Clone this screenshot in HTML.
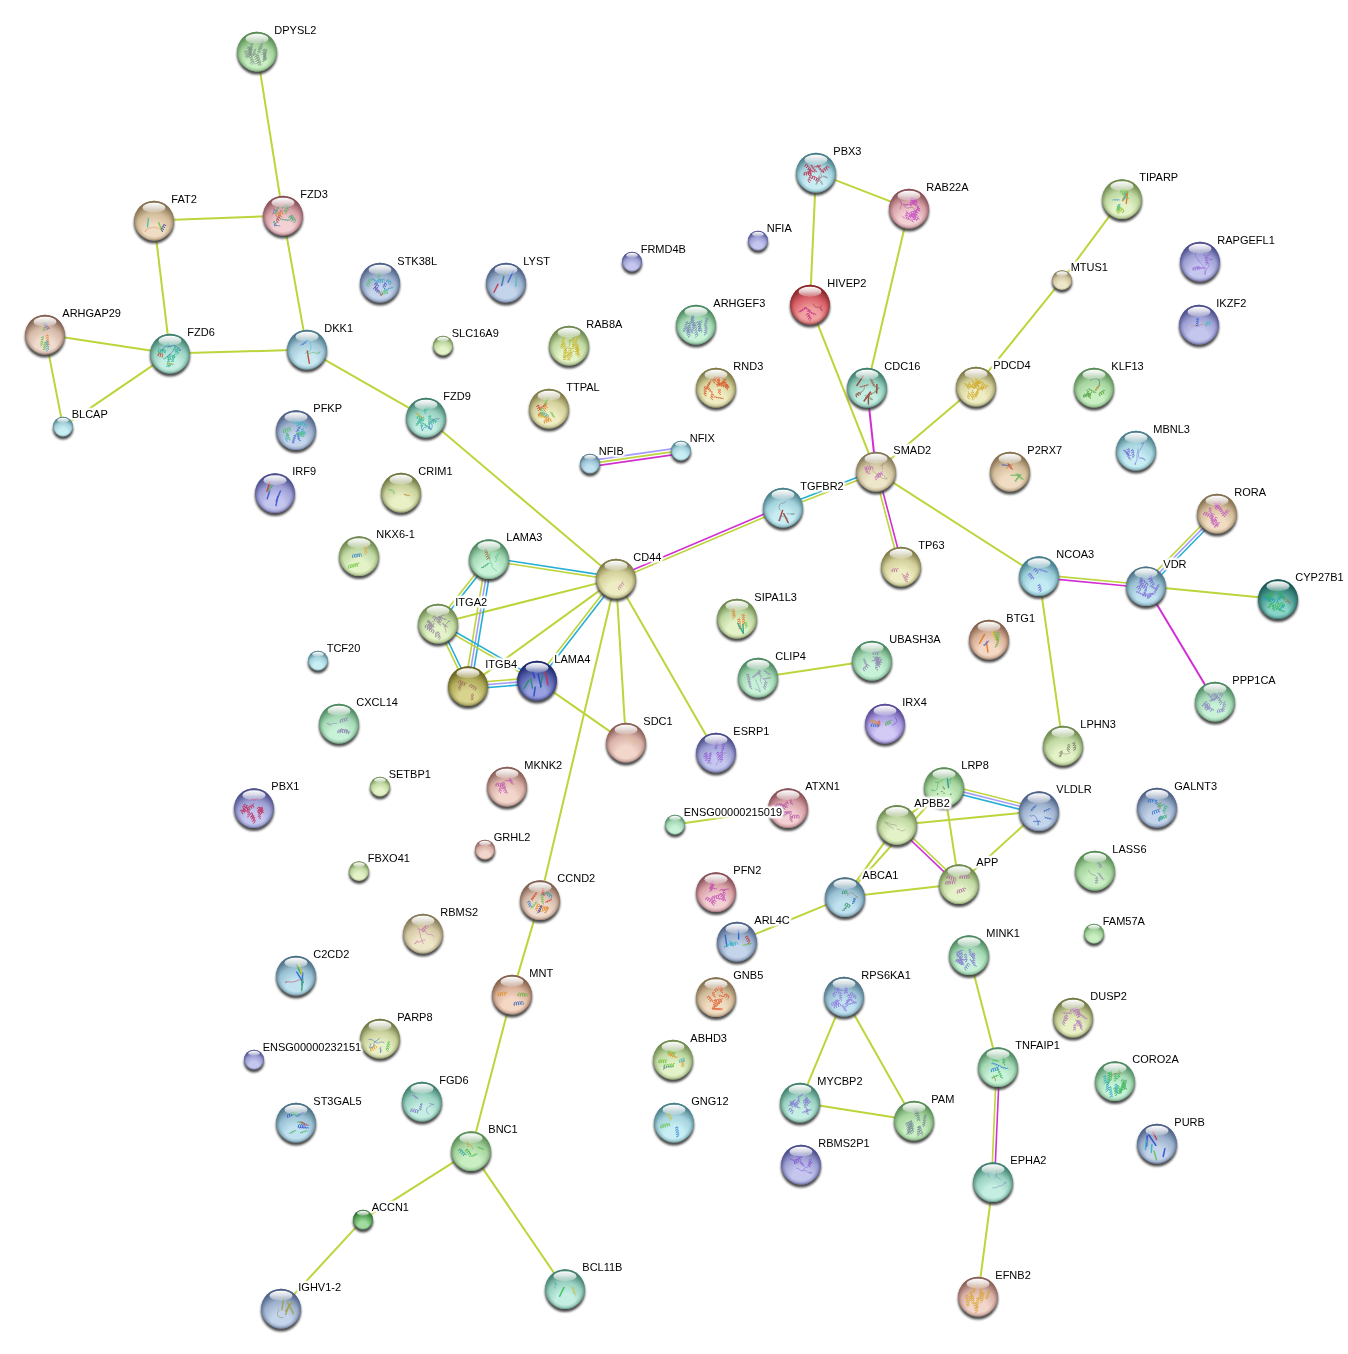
<!DOCTYPE html><html><head><meta charset="utf-8"><style>html,body{margin:0;padding:0;background:#fff;}svg{display:block;}text{font-family:"Liberation Sans",sans-serif;font-size:11px;fill:#000;}.hal text{fill:#fff;stroke:#fff;stroke-width:3.5px;stroke-linejoin:round;}.lb{opacity:.999}</style></head><body>
<svg width="1348" height="1354" viewBox="0 0 1348 1354">
<defs>
<filter id="sh" x="-30%" y="-30%" width="160%" height="160%"><feGaussianBlur stdDeviation="1.2"/></filter>
<filter id="hb" x="-10%" y="-50%" width="120%" height="200%"><feGaussianBlur stdDeviation="1.0"/><feComponentTransfer><feFuncA type="linear" slope="1.6"/></feComponentTransfer></filter>
<linearGradient id="hl" x1="0" y1="0" x2="0" y2="1"><stop offset="0" stop-color="#fff" stop-opacity="1"/><stop offset="0.45" stop-color="#fff" stop-opacity=".75"/><stop offset="1" stop-color="#fff" stop-opacity=".2"/></linearGradient>
<radialGradient id="g_green" cx="0.5" cy="0.78" r="0.8" fx="0.5" fy="0.86"><stop offset="0" stop-color="#c8eec2"/><stop offset="0.3" stop-color="#c8eec2"/><stop offset="0.62" stop-color="#a6d49e"/><stop offset="0.9" stop-color="#5a8e56"/><stop offset="1" stop-color="#5a8e56"/></radialGradient>
<radialGradient id="r_green" cx="0.5" cy="0.5" r="0.5"><stop offset="0.8" stop-color="#5a8e56" stop-opacity="0"/><stop offset="0.93" stop-color="#5a8e56" stop-opacity=".3"/><stop offset="1" stop-color="#5a8e56" stop-opacity=".75"/></radialGradient>
<radialGradient id="g_mint" cx="0.5" cy="0.78" r="0.8" fx="0.5" fy="0.86"><stop offset="0" stop-color="#c8f2d8"/><stop offset="0.3" stop-color="#c8f2d8"/><stop offset="0.62" stop-color="#a4d8b4"/><stop offset="0.9" stop-color="#4e8a62"/><stop offset="1" stop-color="#4e8a62"/></radialGradient>
<radialGradient id="r_mint" cx="0.5" cy="0.5" r="0.5"><stop offset="0.8" stop-color="#4e8a62" stop-opacity="0"/><stop offset="0.93" stop-color="#4e8a62" stop-opacity=".3"/><stop offset="1" stop-color="#4e8a62" stop-opacity=".75"/></radialGradient>
<radialGradient id="g_teal" cx="0.5" cy="0.78" r="0.8" fx="0.5" fy="0.86"><stop offset="0" stop-color="#c4eee2"/><stop offset="0.3" stop-color="#c4eee2"/><stop offset="0.62" stop-color="#98d0c0"/><stop offset="0.9" stop-color="#40806e"/><stop offset="1" stop-color="#40806e"/></radialGradient>
<radialGradient id="r_teal" cx="0.5" cy="0.5" r="0.5"><stop offset="0.8" stop-color="#40806e" stop-opacity="0"/><stop offset="0.93" stop-color="#40806e" stop-opacity=".3"/><stop offset="1" stop-color="#40806e" stop-opacity=".75"/></radialGradient>
<radialGradient id="g_cyan" cx="0.5" cy="0.78" r="0.8" fx="0.5" fy="0.86"><stop offset="0" stop-color="#c8eef4"/><stop offset="0.3" stop-color="#c8eef4"/><stop offset="0.62" stop-color="#a4d2dc"/><stop offset="0.9" stop-color="#4a808a"/><stop offset="1" stop-color="#4a808a"/></radialGradient>
<radialGradient id="r_cyan" cx="0.5" cy="0.5" r="0.5"><stop offset="0.8" stop-color="#4a808a" stop-opacity="0"/><stop offset="0.93" stop-color="#4a808a" stop-opacity=".3"/><stop offset="1" stop-color="#4a808a" stop-opacity=".75"/></radialGradient>
<radialGradient id="g_lblue" cx="0.5" cy="0.78" r="0.8" fx="0.5" fy="0.86"><stop offset="0" stop-color="#c8e8f2"/><stop offset="0.3" stop-color="#c8e8f2"/><stop offset="0.62" stop-color="#a4c8d8"/><stop offset="0.9" stop-color="#4a7a8a"/><stop offset="1" stop-color="#4a7a8a"/></radialGradient>
<radialGradient id="r_lblue" cx="0.5" cy="0.5" r="0.5"><stop offset="0.8" stop-color="#4a7a8a" stop-opacity="0"/><stop offset="0.93" stop-color="#4a7a8a" stop-opacity=".3"/><stop offset="1" stop-color="#4a7a8a" stop-opacity=".75"/></radialGradient>
<radialGradient id="g_sky" cx="0.5" cy="0.78" r="0.8" fx="0.5" fy="0.86"><stop offset="0" stop-color="#c0e2f0"/><stop offset="0.3" stop-color="#c0e2f0"/><stop offset="0.62" stop-color="#98c0d2"/><stop offset="0.9" stop-color="#4d7285"/><stop offset="1" stop-color="#4d7285"/></radialGradient>
<radialGradient id="r_sky" cx="0.5" cy="0.5" r="0.5"><stop offset="0.8" stop-color="#4d7285" stop-opacity="0"/><stop offset="0.93" stop-color="#4d7285" stop-opacity=".3"/><stop offset="1" stop-color="#4d7285" stop-opacity=".75"/></radialGradient>
<radialGradient id="g_peri" cx="0.5" cy="0.78" r="0.8" fx="0.5" fy="0.86"><stop offset="0" stop-color="#c4d4ea"/><stop offset="0.3" stop-color="#c4d4ea"/><stop offset="0.62" stop-color="#9cb0cc"/><stop offset="0.9" stop-color="#4e6288"/><stop offset="1" stop-color="#4e6288"/></radialGradient>
<radialGradient id="r_peri" cx="0.5" cy="0.5" r="0.5"><stop offset="0.8" stop-color="#4e6288" stop-opacity="0"/><stop offset="0.93" stop-color="#4e6288" stop-opacity=".3"/><stop offset="1" stop-color="#4e6288" stop-opacity=".75"/></radialGradient>
<radialGradient id="g_lav" cx="0.5" cy="0.78" r="0.8" fx="0.5" fy="0.86"><stop offset="0" stop-color="#c4c6ee"/><stop offset="0.3" stop-color="#c4c6ee"/><stop offset="0.62" stop-color="#9ea0d4"/><stop offset="0.9" stop-color="#4c4e8c"/><stop offset="1" stop-color="#4c4e8c"/></radialGradient>
<radialGradient id="r_lav" cx="0.5" cy="0.5" r="0.5"><stop offset="0.8" stop-color="#4c4e8c" stop-opacity="0"/><stop offset="0.93" stop-color="#4c4e8c" stop-opacity=".3"/><stop offset="1" stop-color="#4c4e8c" stop-opacity=".75"/></radialGradient>
<radialGradient id="g_violet" cx="0.5" cy="0.78" r="0.8" fx="0.5" fy="0.86"><stop offset="0" stop-color="#d4caf6"/><stop offset="0.3" stop-color="#d4caf6"/><stop offset="0.62" stop-color="#aa9ce0"/><stop offset="0.9" stop-color="#5a4a98"/><stop offset="1" stop-color="#5a4a98"/></radialGradient>
<radialGradient id="r_violet" cx="0.5" cy="0.5" r="0.5"><stop offset="0.8" stop-color="#5a4a98" stop-opacity="0"/><stop offset="0.93" stop-color="#5a4a98" stop-opacity=".3"/><stop offset="1" stop-color="#5a4a98" stop-opacity=".75"/></radialGradient>
<radialGradient id="g_tan" cx="0.5" cy="0.78" r="0.8" fx="0.5" fy="0.86"><stop offset="0" stop-color="#f0dcc2"/><stop offset="0.3" stop-color="#f0dcc2"/><stop offset="0.62" stop-color="#d2bc9a"/><stop offset="0.9" stop-color="#857050"/><stop offset="1" stop-color="#857050"/></radialGradient>
<radialGradient id="r_tan" cx="0.5" cy="0.5" r="0.5"><stop offset="0.8" stop-color="#857050" stop-opacity="0"/><stop offset="0.93" stop-color="#857050" stop-opacity=".3"/><stop offset="1" stop-color="#857050" stop-opacity=".75"/></radialGradient>
<radialGradient id="g_khaki" cx="0.5" cy="0.78" r="0.8" fx="0.5" fy="0.86"><stop offset="0" stop-color="#eeecc2"/><stop offset="0.3" stop-color="#eeecc2"/><stop offset="0.62" stop-color="#d4d09c"/><stop offset="0.9" stop-color="#807c48"/><stop offset="1" stop-color="#807c48"/></radialGradient>
<radialGradient id="r_khaki" cx="0.5" cy="0.5" r="0.5"><stop offset="0.8" stop-color="#807c48" stop-opacity="0"/><stop offset="0.93" stop-color="#807c48" stop-opacity=".3"/><stop offset="1" stop-color="#807c48" stop-opacity=".75"/></radialGradient>
<radialGradient id="g_ykh" cx="0.5" cy="0.78" r="0.8" fx="0.5" fy="0.86"><stop offset="0" stop-color="#eaf0c6"/><stop offset="0.3" stop-color="#eaf0c6"/><stop offset="0.62" stop-color="#c8d09a"/><stop offset="0.9" stop-color="#707a44"/><stop offset="1" stop-color="#707a44"/></radialGradient>
<radialGradient id="r_ykh" cx="0.5" cy="0.5" r="0.5"><stop offset="0.8" stop-color="#707a44" stop-opacity="0"/><stop offset="0.93" stop-color="#707a44" stop-opacity=".3"/><stop offset="1" stop-color="#707a44" stop-opacity=".75"/></radialGradient>
<radialGradient id="g_tank" cx="0.5" cy="0.78" r="0.8" fx="0.5" fy="0.86"><stop offset="0" stop-color="#eee6c8"/><stop offset="0.3" stop-color="#eee6c8"/><stop offset="0.62" stop-color="#d4c8a4"/><stop offset="0.9" stop-color="#857a58"/><stop offset="1" stop-color="#857a58"/></radialGradient>
<radialGradient id="r_tank" cx="0.5" cy="0.5" r="0.5"><stop offset="0.8" stop-color="#857a58" stop-opacity="0"/><stop offset="0.93" stop-color="#857a58" stop-opacity=".3"/><stop offset="1" stop-color="#857a58" stop-opacity=".75"/></radialGradient>
<radialGradient id="g_peach" cx="0.5" cy="0.78" r="0.8" fx="0.5" fy="0.86"><stop offset="0" stop-color="#f4d8c4"/><stop offset="0.3" stop-color="#f4d8c4"/><stop offset="0.62" stop-color="#d8b098"/><stop offset="0.9" stop-color="#85604c"/><stop offset="1" stop-color="#85604c"/></radialGradient>
<radialGradient id="r_peach" cx="0.5" cy="0.5" r="0.5"><stop offset="0.8" stop-color="#85604c" stop-opacity="0"/><stop offset="0.93" stop-color="#85604c" stop-opacity=".3"/><stop offset="1" stop-color="#85604c" stop-opacity=".75"/></radialGradient>
<radialGradient id="g_rtan" cx="0.5" cy="0.78" r="0.8" fx="0.5" fy="0.86"><stop offset="0" stop-color="#f0dccf"/><stop offset="0.3" stop-color="#f0dccf"/><stop offset="0.62" stop-color="#d4b8a6"/><stop offset="0.9" stop-color="#806050"/><stop offset="1" stop-color="#806050"/></radialGradient>
<radialGradient id="r_rtan" cx="0.5" cy="0.5" r="0.5"><stop offset="0.8" stop-color="#806050" stop-opacity="0"/><stop offset="0.93" stop-color="#806050" stop-opacity=".3"/><stop offset="1" stop-color="#806050" stop-opacity=".75"/></radialGradient>
<radialGradient id="g_tsky" cx="0.5" cy="0.78" r="0.8" fx="0.5" fy="0.86"><stop offset="0" stop-color="#c2eaf2"/><stop offset="0.3" stop-color="#c2eaf2"/><stop offset="0.62" stop-color="#98ccd8"/><stop offset="0.9" stop-color="#447c8a"/><stop offset="1" stop-color="#447c8a"/></radialGradient>
<radialGradient id="r_tsky" cx="0.5" cy="0.5" r="0.5"><stop offset="0.8" stop-color="#447c8a" stop-opacity="0"/><stop offset="0.93" stop-color="#447c8a" stop-opacity=".3"/><stop offset="1" stop-color="#447c8a" stop-opacity=".75"/></radialGradient>
<radialGradient id="g_pink" cx="0.5" cy="0.78" r="0.8" fx="0.5" fy="0.86"><stop offset="0" stop-color="#f2d0d4"/><stop offset="0.3" stop-color="#f2d0d4"/><stop offset="0.62" stop-color="#d8a2a8"/><stop offset="0.9" stop-color="#8a5058"/><stop offset="1" stop-color="#8a5058"/></radialGradient>
<radialGradient id="r_pink" cx="0.5" cy="0.5" r="0.5"><stop offset="0.8" stop-color="#8a5058" stop-opacity="0"/><stop offset="0.93" stop-color="#8a5058" stop-opacity=".3"/><stop offset="1" stop-color="#8a5058" stop-opacity=".75"/></radialGradient>
<radialGradient id="g_rose" cx="0.5" cy="0.78" r="0.8" fx="0.5" fy="0.86"><stop offset="0" stop-color="#f2d6cc"/><stop offset="0.3" stop-color="#f2d6cc"/><stop offset="0.62" stop-color="#d8b0a6"/><stop offset="0.9" stop-color="#8a6058"/><stop offset="1" stop-color="#8a6058"/></radialGradient>
<radialGradient id="r_rose" cx="0.5" cy="0.5" r="0.5"><stop offset="0.8" stop-color="#8a6058" stop-opacity="0"/><stop offset="0.93" stop-color="#8a6058" stop-opacity=".3"/><stop offset="1" stop-color="#8a6058" stop-opacity=".75"/></radialGradient>
<radialGradient id="g_red" cx="0.5" cy="0.78" r="0.8" fx="0.5" fy="0.86"><stop offset="0" stop-color="#f0a0a0"/><stop offset="0.3" stop-color="#f0a0a0"/><stop offset="0.62" stop-color="#d86068"/><stop offset="0.9" stop-color="#8a2428"/><stop offset="1" stop-color="#8a2428"/></radialGradient>
<radialGradient id="r_red" cx="0.5" cy="0.5" r="0.5"><stop offset="0.8" stop-color="#8a2428" stop-opacity="0"/><stop offset="0.93" stop-color="#8a2428" stop-opacity=".3"/><stop offset="1" stop-color="#8a2428" stop-opacity=".75"/></radialGradient>
<radialGradient id="g_ygreen" cx="0.5" cy="0.78" r="0.8" fx="0.5" fy="0.86"><stop offset="0" stop-color="#e4f2c8"/><stop offset="0.3" stop-color="#e4f2c8"/><stop offset="0.62" stop-color="#c0d8a2"/><stop offset="0.9" stop-color="#6e8a4e"/><stop offset="1" stop-color="#6e8a4e"/></radialGradient>
<radialGradient id="r_ygreen" cx="0.5" cy="0.5" r="0.5"><stop offset="0.8" stop-color="#6e8a4e" stop-opacity="0"/><stop offset="0.93" stop-color="#6e8a4e" stop-opacity=".3"/><stop offset="1" stop-color="#6e8a4e" stop-opacity=".75"/></radialGradient>
<radialGradient id="g_olive" cx="0.5" cy="0.78" r="0.8" fx="0.5" fy="0.86"><stop offset="0" stop-color="#d8d48e"/><stop offset="0.3" stop-color="#d8d48e"/><stop offset="0.62" stop-color="#b2ae5c"/><stop offset="0.9" stop-color="#6a6420"/><stop offset="1" stop-color="#6a6420"/></radialGradient>
<radialGradient id="r_olive" cx="0.5" cy="0.5" r="0.5"><stop offset="0.8" stop-color="#6a6420" stop-opacity="0"/><stop offset="0.93" stop-color="#6a6420" stop-opacity=".3"/><stop offset="1" stop-color="#6a6420" stop-opacity=".75"/></radialGradient>
<radialGradient id="g_navy" cx="0.5" cy="0.78" r="0.8" fx="0.5" fy="0.86"><stop offset="0" stop-color="#98a0e0"/><stop offset="0.3" stop-color="#98a0e0"/><stop offset="0.62" stop-color="#5a64b0"/><stop offset="0.9" stop-color="#1e2a6e"/><stop offset="1" stop-color="#1e2a6e"/></radialGradient>
<radialGradient id="r_navy" cx="0.5" cy="0.5" r="0.5"><stop offset="0.8" stop-color="#1e2a6e" stop-opacity="0"/><stop offset="0.93" stop-color="#1e2a6e" stop-opacity=".3"/><stop offset="1" stop-color="#1e2a6e" stop-opacity=".75"/></radialGradient>
<radialGradient id="g_dteal" cx="0.5" cy="0.78" r="0.8" fx="0.5" fy="0.86"><stop offset="0" stop-color="#88d4c8"/><stop offset="0.3" stop-color="#88d4c8"/><stop offset="0.62" stop-color="#48988e"/><stop offset="0.9" stop-color="#1a5a55"/><stop offset="1" stop-color="#1a5a55"/></radialGradient>
<radialGradient id="r_dteal" cx="0.5" cy="0.5" r="0.5"><stop offset="0.8" stop-color="#1a5a55" stop-opacity="0"/><stop offset="0.93" stop-color="#1a5a55" stop-opacity=".3"/><stop offset="1" stop-color="#1a5a55" stop-opacity=".75"/></radialGradient>
<radialGradient id="g_dgreen" cx="0.5" cy="0.78" r="0.8" fx="0.5" fy="0.86"><stop offset="0" stop-color="#a0dca0"/><stop offset="0.3" stop-color="#a0dca0"/><stop offset="0.62" stop-color="#5eaa5e"/><stop offset="0.9" stop-color="#2e6a2e"/><stop offset="1" stop-color="#2e6a2e"/></radialGradient>
<radialGradient id="r_dgreen" cx="0.5" cy="0.5" r="0.5"><stop offset="0.8" stop-color="#2e6a2e" stop-opacity="0"/><stop offset="0.93" stop-color="#2e6a2e" stop-opacity=".3"/><stop offset="1" stop-color="#2e6a2e" stop-opacity=".75"/></radialGradient>
</defs>
<rect width="1348" height="1354" fill="#fff"/>
<g fill="none" stroke-width="2" stroke-linecap="butt">
<line x1="257.0" y1="51.6" x2="283.0" y2="215.6" stroke="#bdd43a" stroke-width="2"/>
<line x1="154.0" y1="220.6" x2="283.0" y2="215.6" stroke="#bdd43a" stroke-width="2"/>
<line x1="154.0" y1="220.6" x2="170.0" y2="353.6" stroke="#bdd43a" stroke-width="2"/>
<line x1="283.0" y1="215.6" x2="307.0" y2="349.6" stroke="#bdd43a" stroke-width="2"/>
<line x1="45.0" y1="334.6" x2="170.0" y2="353.6" stroke="#bdd43a" stroke-width="2"/>
<line x1="45.0" y1="334.6" x2="63.0" y2="426.6" stroke="#bdd43a" stroke-width="2"/>
<line x1="170.0" y1="353.6" x2="63.0" y2="426.6" stroke="#bdd43a" stroke-width="2"/>
<line x1="170.0" y1="353.6" x2="307.0" y2="349.6" stroke="#bdd43a" stroke-width="2"/>
<line x1="307.0" y1="349.6" x2="426.0" y2="417.6" stroke="#bdd43a" stroke-width="2"/>
<line x1="426.0" y1="417.6" x2="616.0" y2="578.6" stroke="#bdd43a" stroke-width="2"/>
<line x1="816.0" y1="172.6" x2="810.0" y2="304.6" stroke="#bdd43a" stroke-width="2"/>
<line x1="816.0" y1="172.6" x2="909.0" y2="208.6" stroke="#bdd43a" stroke-width="2"/>
<line x1="909.0" y1="208.6" x2="867.0" y2="387.6" stroke="#bdd43a" stroke-width="2"/>
<line x1="810.0" y1="304.6" x2="876.0" y2="471.6" stroke="#bdd43a" stroke-width="2"/>
<line x1="1122.0" y1="199.1" x2="1062.0" y2="280.1" stroke="#bdd43a" stroke-width="2"/>
<line x1="1062.0" y1="280.1" x2="976.0" y2="386.6" stroke="#bdd43a" stroke-width="2"/>
<line x1="976.0" y1="386.6" x2="876.0" y2="471.6" stroke="#bdd43a" stroke-width="2"/>
<line x1="876.0" y1="471.6" x2="1039.0" y2="576.1" stroke="#bdd43a" stroke-width="2"/>
<line x1="1039.0" y1="576.1" x2="1063.0" y2="745.6" stroke="#bdd43a" stroke-width="2"/>
<line x1="1146.0" y1="586.2" x2="1278.0" y2="599.1" stroke="#bdd43a" stroke-width="2"/>
<line x1="438.0" y1="623.6" x2="616.0" y2="578.6" stroke="#bdd43a" stroke-width="2"/>
<line x1="468.0" y1="686.1" x2="616.0" y2="578.6" stroke="#bdd43a" stroke-width="2"/>
<line x1="537.0" y1="680.6" x2="626.0" y2="742.6" stroke="#bdd43a" stroke-width="2"/>
<line x1="616.0" y1="578.6" x2="626.0" y2="742.6" stroke="#bdd43a" stroke-width="2"/>
<line x1="616.0" y1="578.6" x2="540.0" y2="900.1" stroke="#bdd43a" stroke-width="2"/>
<line x1="616.0" y1="578.6" x2="716.0" y2="752.6" stroke="#bdd43a" stroke-width="2"/>
<line x1="758.0" y1="677.6" x2="872.0" y2="660.6" stroke="#bdd43a" stroke-width="2"/>
<line x1="675.0" y1="824.6" x2="788.0" y2="808.1" stroke="#bdd43a" stroke-width="2"/>
<line x1="540.0" y1="900.1" x2="512.0" y2="994.6" stroke="#bdd43a" stroke-width="2"/>
<line x1="512.0" y1="994.6" x2="471.0" y2="1151.1" stroke="#bdd43a" stroke-width="2"/>
<line x1="471.0" y1="1151.1" x2="363.0" y2="1219.6" stroke="#bdd43a" stroke-width="2"/>
<line x1="363.0" y1="1219.6" x2="281.0" y2="1308.6" stroke="#bdd43a" stroke-width="2"/>
<line x1="471.0" y1="1151.1" x2="565.0" y2="1289.1" stroke="#bdd43a" stroke-width="2"/>
<line x1="944.0" y1="787.1" x2="897.0" y2="824.9" stroke="#bdd43a" stroke-width="2"/>
<line x1="845.0" y1="897.1" x2="944.0" y2="787.1" stroke="#bdd43a" stroke-width="2"/>
<line x1="845.0" y1="897.1" x2="897.0" y2="824.9" stroke="#bdd43a" stroke-width="2"/>
<line x1="897.0" y1="824.9" x2="1039.0" y2="811.1" stroke="#bdd43a" stroke-width="2"/>
<line x1="944.0" y1="787.1" x2="959.0" y2="884.1" stroke="#bdd43a" stroke-width="2"/>
<line x1="1039.0" y1="811.1" x2="959.0" y2="884.1" stroke="#bdd43a" stroke-width="2"/>
<line x1="845.0" y1="897.1" x2="959.0" y2="884.1" stroke="#bdd43a" stroke-width="2"/>
<line x1="845.0" y1="897.1" x2="737.0" y2="941.6" stroke="#bdd43a" stroke-width="2"/>
<line x1="969.0" y1="955.1" x2="998.0" y2="1067.1" stroke="#bdd43a" stroke-width="2"/>
<line x1="844.0" y1="996.6" x2="800.0" y2="1102.6" stroke="#bdd43a" stroke-width="2"/>
<line x1="844.0" y1="996.6" x2="914.0" y2="1120.6" stroke="#bdd43a" stroke-width="2"/>
<line x1="800.0" y1="1102.6" x2="914.0" y2="1120.6" stroke="#bdd43a" stroke-width="2"/>
<line x1="993.0" y1="1182.1" x2="978.0" y2="1296.6" stroke="#bdd43a" stroke-width="2"/>
<line x1="867.0" y1="387.6" x2="876.0" y2="471.6" stroke="#d22fd2" stroke-width="2"/>
<line x1="1146.0" y1="586.2" x2="1215.0" y2="701.6" stroke="#d22fd2" stroke-width="2"/>
<line x1="589.6" y1="460.6" x2="680.6" y2="447.6" stroke="#a59cf8" stroke-width="1.6"/>
<line x1="590.0" y1="463.6" x2="681.0" y2="450.6" stroke="#bdd43a" stroke-width="1.6"/>
<line x1="590.4" y1="466.6" x2="681.4" y2="453.6" stroke="#d22fd2" stroke-width="1.6"/>
<line x1="615.4" y1="577.2" x2="782.4" y2="506.2" stroke="#d22fd2" stroke-width="1.6"/>
<line x1="616.6" y1="580.0" x2="783.6" y2="509.0" stroke="#bdd43a" stroke-width="1.6"/>
<line x1="782.5" y1="506.2" x2="875.5" y2="470.2" stroke="#26afd3" stroke-width="1.6"/>
<line x1="783.5" y1="509.0" x2="876.5" y2="473.0" stroke="#bdd43a" stroke-width="1.6"/>
<line x1="877.5" y1="471.2" x2="902.5" y2="566.2" stroke="#d22fd2" stroke-width="1.6"/>
<line x1="874.5" y1="472.0" x2="899.5" y2="567.0" stroke="#bdd43a" stroke-width="1.6"/>
<line x1="1039.1" y1="574.6" x2="1146.1" y2="584.7" stroke="#bdd43a" stroke-width="1.6"/>
<line x1="1038.9" y1="577.6" x2="1145.9" y2="587.7" stroke="#d22fd2" stroke-width="1.6"/>
<line x1="1143.9" y1="584.1" x2="1214.9" y2="511.5" stroke="#bdd43a" stroke-width="1.6"/>
<line x1="1146.0" y1="586.2" x2="1217.0" y2="513.6" stroke="#a59cf8" stroke-width="1.6"/>
<line x1="1148.1" y1="588.3" x2="1219.1" y2="515.7" stroke="#26afd3" stroke-width="1.6"/>
<line x1="489.2" y1="557.6" x2="616.2" y2="577.1" stroke="#26afd3" stroke-width="1.6"/>
<line x1="488.8" y1="560.6" x2="615.8" y2="580.1" stroke="#bdd43a" stroke-width="1.6"/>
<line x1="490.2" y1="560.0" x2="439.2" y2="624.5" stroke="#26afd3" stroke-width="1.6"/>
<line x1="487.8" y1="558.2" x2="436.8" y2="622.7" stroke="#bdd43a" stroke-width="1.6"/>
<line x1="492.0" y1="559.6" x2="471.0" y2="686.6" stroke="#26afd3" stroke-width="1.6"/>
<line x1="489.0" y1="559.1" x2="468.0" y2="686.1" stroke="#a59cf8" stroke-width="1.6"/>
<line x1="486.0" y1="558.6" x2="465.0" y2="685.6" stroke="#bdd43a" stroke-width="1.6"/>
<line x1="439.4" y1="623.0" x2="469.4" y2="685.5" stroke="#26afd3" stroke-width="1.6"/>
<line x1="436.6" y1="624.2" x2="466.6" y2="686.7" stroke="#bdd43a" stroke-width="1.6"/>
<line x1="438.7" y1="622.3" x2="537.7" y2="679.3" stroke="#26afd3" stroke-width="1.6"/>
<line x1="437.3" y1="624.9" x2="536.3" y2="681.9" stroke="#bdd43a" stroke-width="1.6"/>
<line x1="467.8" y1="683.1" x2="536.8" y2="677.6" stroke="#bdd43a" stroke-width="1.6"/>
<line x1="468.0" y1="686.1" x2="537.0" y2="680.6" stroke="#a59cf8" stroke-width="1.6"/>
<line x1="468.2" y1="689.1" x2="537.2" y2="683.6" stroke="#26afd3" stroke-width="1.6"/>
<line x1="535.8" y1="679.7" x2="614.8" y2="577.7" stroke="#bdd43a" stroke-width="1.6"/>
<line x1="538.2" y1="681.5" x2="617.2" y2="579.5" stroke="#26afd3" stroke-width="1.6"/>
<line x1="944.7" y1="784.2" x2="1039.7" y2="808.2" stroke="#bdd43a" stroke-width="1.6"/>
<line x1="944.0" y1="787.1" x2="1039.0" y2="811.1" stroke="#a59cf8" stroke-width="1.6"/>
<line x1="943.3" y1="790.0" x2="1038.3" y2="814.0" stroke="#26afd3" stroke-width="1.6"/>
<line x1="898.0" y1="823.8" x2="960.0" y2="883.0" stroke="#bdd43a" stroke-width="1.6"/>
<line x1="896.0" y1="826.0" x2="958.0" y2="885.2" stroke="#d22fd2" stroke-width="1.6"/>
<line x1="999.5" y1="1067.2" x2="994.5" y2="1182.2" stroke="#d22fd2" stroke-width="1.6"/>
<line x1="996.5" y1="1067.0" x2="991.5" y2="1182.0" stroke="#bdd43a" stroke-width="1.6"/>
</g>
<circle cx="257" cy="54.3" r="20.2" fill="#3d3d3d" fill-opacity=".92" filter="url(#sh)"/>
<circle cx="257" cy="51.6" r="19.8" fill="url(#g_green)"/>
<circle cx="257" cy="51.6" r="19.8" fill="url(#r_green)"/>
<g fill="none" stroke-linecap="round" stroke-linejoin="round" opacity=".85"><path d="M264.3,48.9 L263.1,49.9 L262.3,50.4 L262.7,50.2 L263.9,49.8 L265.0,49.8 L265.0,50.5 L264.0,51.6 L262.8,52.4 L262.5,52.5 L263.3,52.2 L264.6,51.9 L265.3,52.3 L264.8,53.2 L263.6,54.2 L262.7,54.8 L262.9,54.6 L264.0,54.3 L265.2,54.2 L265.4,54.8 L264.5,55.9 L263.2,56.8 L262.8,57.0 L263.4,56.7 L264.7,56.4 L265.6,56.6 L265.2,57.5 L264.1,58.5 L263.0,59.2 L263.1,59.1 L264.1,58.7 L265.4,58.6 L265.7,59.1 L264.9,60.2 L263.7,61.1 L263.1,61.4" stroke="#7a8a84" stroke-width="0.79"/><path d="M266.8,49.2 L265.5,49.9 L264.6,50.3 L264.9,50.3 L266.0,50.2 L267.0,50.3 L267.0,50.9 L265.9,51.6 L264.7,52.3 L264.2,52.5 L264.8,52.4 L266.0,52.4 L266.7,52.7 L266.3,53.3 L265.0,54.1 L263.9,54.6 L263.9,54.7 L264.8,54.6 L265.9,54.6 L266.2,55.1 L265.4,55.8 L264.1,56.5 L263.4,56.9 L263.7,56.8 L264.8,56.7 L265.8,56.9 L265.7,57.5 L264.6,58.3 L263.3,58.9 L262.9,59.1 L263.7,59.0 L264.8,58.9 L265.4,59.3 L264.9,60.0 L263.6,60.7 L262.6,61.2" stroke="#7a8a84" stroke-width="0.79"/><path d="M255.3,53.6 L254.2,54.8 L253.5,55.3 L254.0,54.9 L255.2,54.2 L256.3,54.1 L256.5,55.0 L255.6,56.3 L254.5,57.3 L254.3,57.3 L255.2,56.7 L256.5,56.2 L257.3,56.5 L256.9,57.7 L255.8,58.9 L255.0,59.5 L255.3,59.2 L256.5,58.5 L257.7,58.3 L257.9,59.1 L257.1,60.4 L256.1,61.4 L255.7,61.5 L256.5,61.0 L257.8,60.4 L258.7,60.6 L258.4,61.7 L257.4,63.0" stroke="#7a8a84" stroke-width="0.79"/><path d="M252.4,43.4 L251.1,44.3 L250.3,44.7 L250.6,44.6 L251.8,44.4 L252.8,44.5 L252.7,45.2 L251.6,46.1 L250.4,46.8 L250.1,46.9 L251.0,46.7 L252.2,46.6 L252.7,47.0 L252.1,47.8 L250.7,48.7 L249.9,49.1 L250.2,49.0 L251.4,48.8 L252.4,49.0 L252.3,49.6 L251.2,50.5 L250.0,51.2 L249.7,51.3" stroke="#7a8a84" stroke-width="0.79"/><path d="M255.9,49.1 L254.6,49.7 L253.7,50.1 L253.9,50.2 L255.0,50.2 L255.9,50.4 L255.7,50.9 L254.4,51.6 L253.2,52.1 L253.0,52.3 L253.8,52.3 L254.9,52.4 L255.2,52.8 L254.3,53.4 L253.0,54.0 L252.2,54.3 L252.6,54.4 L253.8,54.4 L254.5,54.7 L254.1,55.2 L252.8,55.9 L251.7,56.3 L251.6,56.5" stroke="#7a8a84" stroke-width="0.79"/><path d="M258.2,54.7 L257.0,55.8 L256.3,56.3 L256.6,56.0 L257.9,55.4 L259.0,55.4 L259.1,56.2 L258.2,57.4 L257.0,58.3 L256.7,58.4 L257.6,57.9 L258.9,57.5 L259.6,57.8 L259.3,58.8 L258.1,60.0 L257.3,60.6 L257.4,60.4 L258.5,59.9 L259.8,59.7 L260.1,60.3 L259.3,61.5 L258.2,62.5 L257.6,62.8 L258.2,62.4 L259.5,61.9 L260.5,62.0 L260.4,62.9 L259.3,64.1 L258.3,64.9 L258.2,64.9 L259.2,64.3 L260.5,64.0 L261.1,64.5 L260.5,65.6" stroke="#7a8a84" stroke-width="0.79"/><path d="M260.8,46.1 L259.5,46.8 L258.6,47.2 L258.9,47.2 L260.0,47.2 L260.9,47.4 L260.7,48.0 L259.5,48.7 L258.3,49.2 L258.0,49.4 L258.9,49.3 L260.0,49.4 L260.4,49.8 L259.6,50.5 L258.3,51.2 L257.5,51.5 L257.8,51.5 L259.0,51.5 L259.8,51.7 L259.6,52.3 L258.3,53.0 L257.2,53.5" stroke="#7a8a84" stroke-width="0.79"/><path d="M249.0,46.7 L247.9,47.9 L247.2,48.4 L247.7,47.9 L249.0,47.3 L250.1,47.2 L250.1,48.2 L249.2,49.5 L248.2,50.4 L248.1,50.3 L249.1,49.6 L250.4,49.2 L251.0,49.7 L250.4,51.0 L249.3,52.2 L248.7,52.6 L249.2,52.1 L250.5,51.4 L251.6,51.5 L251.5,52.4 L250.6,53.8 L249.6,54.6 L249.5,54.5" stroke="#7a8a84" stroke-width="0.79"/><path d="M263.2,38.7 L261.9,39.5 L261.0,39.9 L261.3,39.9 L262.4,39.7 L263.4,39.8 L263.4,40.4 L262.4,41.2 L261.1,41.9 L260.6,42.1 L261.3,42.0 L262.5,41.9 L263.2,42.2 L262.8,42.9 L261.6,43.7 L260.5,44.2 L260.4,44.3 L261.4,44.2 L262.5,44.2 L262.9,44.6 L262.1,45.4 L260.8,46.1 L260.0,46.5 L260.4,46.5 L261.5,46.3 L262.5,46.5 L262.4,47.1 L261.3,47.9 L260.1,48.5 L259.7,48.7 L260.4,48.6 L261.6,48.5" stroke="#7a8a84" stroke-width="0.79"/><path d="M246.3,50.6 L245.1,51.8 L244.4,52.2 L244.9,51.8 L246.2,51.3 L247.2,51.4 L247.1,52.3 L245.9,53.6 L244.9,54.3 L245.0,54.2 L246.1,53.6 L247.4,53.5 L247.7,54.1 L246.8,55.3 L245.6,56.3 L245.2,56.5 L246.0,56.0 L247.4,55.6 L248.2,55.9 L247.7,57.0 L246.5,58.2" stroke="#7a8a84" stroke-width="0.79"/><path d="M250.4,47.5 L249.2,48.6 L248.4,49.1 L248.8,48.8 L250.0,48.3 L251.1,48.3 L251.2,49.0 L250.3,50.2 L249.1,51.1 L248.8,51.2 L249.6,50.8 L250.9,50.4 L251.7,50.7 L251.3,51.7 L250.2,52.8 L249.2,53.4 L249.4,53.3 L250.5,52.8 L251.7,52.6 L252.0,53.2 L251.3,54.3 L250.1,55.3 L249.5,55.6 L250.1,55.3 L251.4,54.8" stroke="#7a8a84" stroke-width="0.79"/><path d="M250.0,52.5 L248.9,53.7 L248.2,54.1 L248.6,53.7 L249.9,53.1 L251.0,53.0 L251.2,53.8 L250.3,55.1 L249.3,56.1 L249.0,56.2 L249.7,55.6 L251.1,55.0 L251.9,55.3 L251.7,56.3 L250.6,57.6 L249.7,58.3 L249.8,58.1 L250.9,57.4 L252.2,57.1 L252.7,57.7 L252.0,58.9 L250.9,60.1 L250.3,60.4 L250.9,60.0 L252.1,59.3 L253.2,59.3 L253.2,60.2 L252.3,61.5 L251.3,62.4 L251.1,62.4 L252.0,61.8 L253.3,61.3 L254.1,61.7 L253.7,62.8" stroke="#7a8a84" stroke-width="0.79"/><path d="M251.5,47.0 L250.2,47.7 L249.3,48.1 L249.6,48.1 L250.7,48.0 L251.7,48.2 L251.5,48.8 L250.3,49.5 L249.1,50.1 L248.8,50.3 L249.6,50.2 L250.8,50.2 L251.2,50.6 L250.5,51.3 L249.2,52.1 L248.3,52.4 L248.7,52.4 L249.8,52.4 L250.7,52.6 L250.5,53.1 L249.3,53.9 L248.1,54.5 L247.9,54.6 L248.7,54.6 L249.9,54.6 L250.3,55.0 L249.5,55.7 L248.2,56.4 L247.4,56.8 L247.7,56.8 L248.9,56.7 L249.7,56.9" stroke="#7a8a84" stroke-width="0.79"/><path d="M264.7,52.3 L263.5,53.4 L262.8,53.9 L263.2,53.5 L264.5,53.0 L265.6,53.0 L265.6,53.8 L264.6,55.1 L263.5,55.9 L263.3,56.0 L264.2,55.5 L265.5,55.1 L266.2,55.5 L265.7,56.6 L264.5,57.7 L263.7,58.2 L264.0,57.9 L265.3,57.4 L266.4,57.4 L266.5,58.1 L265.6,59.3 L264.5,60.2 L264.2,60.3 L265.0,59.9 L266.3,59.5" stroke="#7a8a84" stroke-width="0.79"/><path d="M248.7,48.7 L247.6,47.7 L246.7,46.5 L248.1,47.1 L249.5,46.8 L250.8,45.9 L251.8,44.9 L253.2,44.3 L254.2,43.2" stroke="#90a098" stroke-width="0.59"/><path d="M247.2,50.9 L247.2,52.4 L247.7,53.8 L248.7,55.0 L249.4,56.3 L249.9,57.7 L250.7,59.0 L251.3,60.3 L252.2,61.6 L253.2,62.7" stroke="#90a098" stroke-width="0.59"/><path d="M261.0,54.8 L261.0,53.3 L260.6,51.9 L260.6,50.4 L261.1,49.0 L260.9,47.5 L260.3,46.1 L259.6,44.8 L258.6,43.7 L257.4,42.7 L256.8,41.4 L256.1,40.1 L255.7,41.5" stroke="#90a098" stroke-width="0.59"/><path d="M260.9,61.2 L259.9,62.4 L258.6,63.1 L257.2,63.5 L255.7,63.6 L254.2,63.7 L252.7,63.9 L251.2,64.1 L249.8,63.4 L250.8,62.2" stroke="#90a098" stroke-width="0.59"/></g>
<ellipse cx="257" cy="38.7" rx="11.5" ry="5.0" fill="url(#hl)"/>
<circle cx="154" cy="223.3" r="20.2" fill="#3d3d3d" fill-opacity=".92" filter="url(#sh)"/>
<circle cx="154" cy="220.6" r="19.8" fill="url(#g_tan)"/>
<circle cx="154" cy="220.6" r="19.8" fill="url(#r_tan)"/>
<g fill="none" stroke-linecap="round" stroke-linejoin="round" opacity=".85"><path d="M159.4,228.7 L158.1,228.0 L156.6,228.0 L155.3,227.4 L153.8,227.2 L152.3,227.4 L150.9,227.9 L149.4,228.1 L147.9,228.5 L146.6,229.2 L145.8,230.4 L144.8,231.6 L146.1,230.7 L146.8,229.4" stroke="#d09060" stroke-width="0.59"/><path d="M162.2,231.3 L158.7,222.7" stroke="#70c040" stroke-width="1.48"/><path d="M147.5,226.8 L148.4,218.5" stroke="#40c0b0" stroke-width="1.48"/><path d="M162.1,231.1 L162.8,231.8 L162.5,231.6 L161.6,230.4 L161.0,229.1 L161.5,228.4 L162.7,228.8 L163.7,229.6 L163.8,229.8 L163.0,229.0 L162.2,227.6 L162.2,226.6 L163.2,226.6 L164.4,227.3 L165.0,227.9 L164.5,227.5 L163.5,226.3 L163.1,225.0 L163.8,224.5 L165.0,225.0 L165.9,225.8 L165.8,225.9 L165.0,224.9" stroke="#4040a0" stroke-width="0.84"/></g>
<ellipse cx="154" cy="207.7" rx="11.5" ry="5.0" fill="url(#hl)"/>
<circle cx="283" cy="218.3" r="20.2" fill="#3d3d3d" fill-opacity=".92" filter="url(#sh)"/>
<circle cx="283" cy="215.6" r="19.8" fill="url(#g_pink)"/>
<circle cx="283" cy="215.6" r="19.8" fill="url(#r_pink)"/>
<g fill="none" stroke-linecap="round" stroke-linejoin="round" opacity=".85"><path d="M289.6,220.5 L289.1,220.1 L288.1,220.0 L287.3,220.3 L287.0,220.6 L287.2,220.7 L287.4,220.4 L287.2,219.9 L286.3,219.7 L285.4,219.9 L284.9,220.2 L284.9,220.4 L285.2,220.3 L285.1,219.8 L284.5,219.5 L283.5,219.5 L282.8,219.8 L282.6,220.1 L282.9,220.1 L283.0,219.7 L282.6,219.3 L281.7,219.2 L280.8,219.4" stroke="#30a080" stroke-width="0.84"/><path d="M290.2,215.9 L289.3,217.2 L288.8,217.6 L289.4,216.9 L290.6,216.2 L291.6,216.3 L291.5,217.4 L290.7,218.9 L290.0,219.5 L290.3,219.1 L291.4,218.2 L292.6,218.1 L292.8,219.0 L292.0,220.5 L291.2,221.4" stroke="#30a080" stroke-width="0.84"/><path d="M276.5,225.5 L276.9,225.4 L276.3,225.1 L275.1,224.7 L274.2,224.2 L274.2,223.8 L275.0,223.6 L275.8,223.5 L275.8,223.3 L274.9,222.9 L273.7,222.5 L273.1,222.0 L273.4,221.7 L274.4,221.5 L275.0,221.4 L274.6,221.2" stroke="#30a080" stroke-width="0.84"/><path d="M287.9,205.0 L286.9,204.9 L286.0,205.0 L285.6,205.4 L285.9,205.9 L286.3,206.1 L286.2,206.1 L285.5,205.9 L284.4,205.9 L283.7,206.2 L283.7,206.7 L284.2,207.0 L284.4,207.1 L283.9,207.0 L282.9,206.9 L281.9,207.1 L281.7,207.5 L282.0,207.9 L282.4,208.1" stroke="#30a080" stroke-width="0.84"/><path d="M277.5,221.8 L278.1,222.5 L277.9,222.4 L277.0,221.4 L276.5,220.0 L276.8,219.2 L277.9,219.4 L279.0,220.3 L279.3,220.8 L278.8,220.3 L278.0,219.0 L277.7,217.7 L278.3,217.3 L279.5,217.8 L280.4,218.6 L280.4,218.9 L279.7,218.0 L279.0,216.6 L279.0,215.6 L279.9,215.5 L281.1,216.2 L281.8,217.0" stroke="#c04020" stroke-width="0.84"/><path d="M272.4,214.2 L273.3,213.0 L273.9,211.6 L274.1,210.1 L273.8,208.7 L274.8,209.7 L275.9,210.8 L277.2,211.6" stroke="#3050c0" stroke-width="0.59"/><path d="M276.3,219.3 L277.5,218.3 L278.1,217.0 L278.4,215.5 L278.9,214.1 L279.7,212.8 L280.3,211.5 L281.1,210.2" stroke="#3050c0" stroke-width="0.59"/><path d="M279.9,226.1 L278.5,225.5 L277.0,225.6 L275.5,225.7 L274.0,226.0 L274.8,224.7 L275.8,223.6 L276.8,222.4 L277.8,221.3" stroke="#3050c0" stroke-width="0.59"/><path d="M276.4,215.6 L276.8,216.8 L276.6,216.9 L276.2,215.6 L276.3,213.9 L277.1,213.3 L278.1,214.1 L278.8,215.5 L278.8,216.2 L278.4,215.4 L278.2,213.8 L278.7,212.5 L279.7,212.7 L280.6,214.0 L280.9,215.2 L280.6,215.1 L280.3,213.7 L280.4,212.1 L281.2,211.6 L282.3,212.5 L282.9,213.9 L282.8,214.4 L282.4,213.5 L282.3,211.9 L282.9,210.8" stroke="#e08020" stroke-width="0.84"/><path d="M279.4,206.7 L278.2,207.1 L277.3,207.4 L277.4,207.6 L278.3,207.8 L279.0,208.1 L278.8,208.4 L277.8,208.9 L276.6,209.3 L276.2,209.5 L276.7,209.7 L277.7,209.9 L278.0,210.2 L277.3,210.6 L276.1,211.0 L275.2,211.4 L275.3,211.6 L276.2,211.7 L276.9,212.0 L276.7,212.4 L275.7,212.8 L274.5,213.2 L274.1,213.4 L274.7,213.6 L275.6,213.8" stroke="#40b060" stroke-width="0.84"/><path d="M291.4,215.4 L290.6,216.8 L290.1,217.2 L290.5,216.5 L291.7,215.6 L292.7,215.5 L292.9,216.6 L292.3,218.0 L291.5,218.9 L291.5,218.7 L292.4,217.8 L293.7,217.2 L294.3,217.8 L293.9,219.2 L293.1,220.5 L292.7,220.7 L293.3,220.0 L294.5,219.2 L295.4,219.2 L295.5,220.3 L294.8,221.8 L294.1,222.6 L294.2,222.2" stroke="#40b060" stroke-width="0.84"/><path d="M285.6,212.8 L286.2,213.5 L285.9,213.4 L285.1,212.3 L284.6,210.8 L285.0,210.1 L286.2,210.5 L287.2,211.3 L287.4,211.8 L286.8,211.1 L286.0,209.7 L285.9,208.5 L286.7,208.3 L288.0,209.0 L288.7,209.8 L288.4,209.7 L287.6,208.6 L287.0,207.2 L287.4,206.4 L288.5,206.7 L289.6,207.6 L289.9,208.0 L289.3,207.4" stroke="#40b060" stroke-width="0.84"/></g>
<ellipse cx="283" cy="202.7" rx="11.5" ry="5.0" fill="url(#hl)"/>
<circle cx="45" cy="337.3" r="20.2" fill="#3d3d3d" fill-opacity=".92" filter="url(#sh)"/>
<circle cx="45" cy="334.6" r="19.8" fill="url(#g_rtan)"/>
<circle cx="45" cy="334.6" r="19.8" fill="url(#r_rtan)"/>
<g fill="none" stroke-linecap="round" stroke-linejoin="round" opacity=".85"><path d="M47.6,334.6 L46.3,335.7 L45.6,336.1 L46.0,335.9 L47.2,335.4 L48.3,335.5 L48.3,336.2 L47.3,337.4 L46.1,338.2 L45.9,338.3 L46.7,337.9 L48.0,337.6 L48.7,338.0 L48.1,339.0 L46.9,340.0 L46.1,340.5 L46.4,340.3 L47.6,339.9 L48.7,339.9 L48.8,340.6 L47.8,341.7 L46.7,342.6 L46.3,342.7 L47.1,342.3 L48.4,342.0 L49.2,342.3 L48.7,343.3 L47.5,344.4 L46.6,344.9 L46.8,344.8 L48.0,344.3 L49.1,344.3 L49.3,344.9" stroke="#e08040" stroke-width="0.79"/><path d="M47.6,320.6 L46.2,321.2 L45.3,321.6 L45.6,321.7 L46.7,321.7 L47.6,321.9 L47.4,322.4 L46.2,323.1 L45.0,323.6 L44.7,323.8 L45.4,323.8 L46.6,323.9 L47.0,324.2 L46.2,324.9 L44.9,325.5 L44.0,325.9 L44.3,325.9 L45.4,325.9 L46.3,326.1 L46.1,326.7 L44.9,327.3 L43.7,327.8 L43.4,328.0 L44.1,328.0 L45.3,328.1 L45.7,328.5 L44.9,329.1 L43.6,329.8 L42.7,330.1 L43.0,330.2 L44.1,330.2 L45.0,330.4" stroke="#60c040" stroke-width="0.79"/><path d="M46.0,341.9 L44.7,342.6 L43.8,343.0 L44.2,343.0 L45.4,342.9 L46.3,343.1 L46.1,343.7 L44.9,344.5 L43.7,345.1 L43.5,345.3 L44.5,345.1 L45.7,345.1 L46.0,345.6 L45.1,346.4 L43.8,347.1 L43.1,347.4 L43.6,347.4 L44.8,347.3 L45.6,347.5 L45.3,348.2 L44.0,349.0 L42.9,349.6 L42.9,349.6 L44.0,349.5 L45.1,349.5 L45.2,350.1" stroke="#60c040" stroke-width="0.79"/><path d="M43.3,336.4 L42.0,337.2 L41.2,337.6 L41.5,337.5 L42.7,337.4 L43.7,337.5 L43.5,338.2 L42.4,339.0 L41.2,339.7 L40.9,339.8 L41.8,339.6 L43.1,339.6 L43.5,340.0 L42.7,340.8 L41.4,341.6 L40.6,342.0 L41.0,341.9 L42.2,341.8 L43.1,342.0 L42.9,342.6 L41.7,343.5 L40.6,344.1 L40.4,344.2 L41.3,344.0 L42.5,344.0 L42.9,344.5 L42.1,345.3 L40.8,346.1" stroke="#60c040" stroke-width="0.79"/><path d="M44.2,322.5 L43.4,323.9 L42.9,324.3 L43.3,323.7 L44.4,322.8 L45.5,322.7 L45.7,323.6 L45.1,325.1 L44.3,326.0 L44.2,325.9 L45.0,325.1 L46.2,324.4 L47.0,324.8 L46.8,326.1 L46.0,327.4 L45.4,327.9 L45.8,327.4 L46.9,326.5 L48.0,326.3 L48.3,327.1 L47.7,328.6 L46.9,329.6 L46.7,329.6 L47.5,328.8 L48.7,328.1 L49.5,328.4" stroke="#8050c0" stroke-width="0.84"/><path d="M47.4,341.0 L46.1,342.0 L45.4,342.4 L45.8,342.2 L47.1,341.8 L48.1,341.8 L48.0,342.7 L47.0,343.8 L45.8,344.5 L45.7,344.6 L46.7,344.1 L48.0,343.9 L48.5,344.4 L47.8,345.5 L46.5,346.5 L45.8,346.9 L46.4,346.6 L47.7,346.2 L48.6,346.3 L48.5,347.2 L47.3,348.3 L46.3,349.0 L46.2,349.0 L47.3,348.5 L48.5,348.4 L48.9,348.9 L48.2,350.0 L46.9,351.0 L46.3,351.3" stroke="#40a0c0" stroke-width="0.79"/></g>
<ellipse cx="45" cy="321.7" rx="11.5" ry="5.0" fill="url(#hl)"/>
<circle cx="170" cy="356.3" r="20.2" fill="#3d3d3d" fill-opacity=".92" filter="url(#sh)"/>
<circle cx="170" cy="353.6" r="19.8" fill="url(#g_teal)"/>
<circle cx="170" cy="353.6" r="19.8" fill="url(#r_teal)"/>
<g fill="none" stroke-linecap="round" stroke-linejoin="round" opacity=".85"><path d="M164.4,349.7 L163.3,349.7 L162.4,349.8 L162.1,350.2 L162.4,350.6 L162.9,350.9 L162.8,350.9 L162.0,350.8 L161.0,350.8 L160.3,351.1 L160.3,351.5 L160.8,351.9 L161.1,352.1 L160.7,352.0 L159.7,352.0 L158.7,352.1 L158.3,352.4 L158.6,352.8 L159.1,353.1 L159.1,353.2" stroke="#30b090" stroke-width="0.84"/><path d="M172.4,364.5 L171.4,364.3 L170.5,364.4 L170.1,364.8 L170.3,365.3 L170.7,365.5 L170.6,365.5 L169.9,365.3 L168.9,365.3 L168.1,365.5 L168.1,366.0 L168.5,366.4 L168.7,366.5 L168.3,366.3 L167.3,366.2 L166.4,366.3" stroke="#30b090" stroke-width="0.84"/><path d="M168.6,359.3 L169.0,360.5 L168.8,360.5 L168.4,359.2 L168.3,357.6 L169.0,356.9 L170.1,357.5 L170.9,358.9 L171.0,359.7 L170.6,359.1 L170.3,357.5 L170.6,356.1 L171.5,356.0 L172.5,357.1 L173.0,358.4 L172.8,358.6 L172.4,357.4 L172.3,355.8 L172.9,354.9 L173.9,355.4 L174.8,356.7 L175.0,357.6 L174.6,357.2 L174.2,355.7 L174.5,354.2 L175.3,354.0 L176.4,355.0" stroke="#30b090" stroke-width="0.84"/><path d="M174.4,355.9 L173.2,356.6 L172.4,357.0 L172.6,357.0 L173.7,357.0 L174.5,357.2 L174.4,357.7 L173.3,358.4 L172.1,359.0 L171.9,359.2 L172.6,359.1 L173.7,359.2 L174.1,359.6 L173.4,360.2 L172.1,360.9 L171.4,361.3 L171.6,361.3 L172.7,361.3 L173.5,361.5" stroke="#30b090" stroke-width="0.84"/><path d="M171.1,354.6 L170.1,354.6 L169.1,354.7 L168.8,355.1 L169.2,355.5 L169.7,355.8 L169.7,355.8 L169.0,355.8 L167.9,355.9 L167.1,356.1 L167.1,356.5 L167.6,356.9 L168.0,357.1 L167.7,357.1 L166.7,357.1 L165.7,357.2 L165.2,357.5 L165.4,357.9 L166.0,358.2 L166.1,358.4 L165.6,358.4 L164.5,358.4 L163.6,358.6 L163.4,358.9 L163.8,359.3" stroke="#30b090" stroke-width="0.84"/><path d="M177.4,353.6 L177.9,353.6 L177.4,353.3 L176.2,352.7 L175.2,352.1 L175.3,351.6 L176.3,351.5 L177.2,351.5 L177.2,351.4 L176.3,350.9 L175.1,350.3 L174.6,349.7 L175.1,349.4 L176.2,349.3 L176.8,349.3 L176.4,349.1 L175.2,348.5 L174.2,347.8 L174.2,347.3 L175.0,347.2 L176.0,347.2 L176.2,347.1 L175.3,346.7 L174.1,346.1 L173.5,345.4 L173.9,345.1 L175.0,345.0" stroke="#30b090" stroke-width="0.84"/><path d="M158.5,350.1 L158.4,351.6 L158.1,351.9 L158.2,350.8 L158.8,349.3 L159.8,348.8 L160.5,349.7 L160.7,351.3 L160.4,352.4 L160.2,352.0 L160.6,350.6 L161.4,349.4 L162.3,349.5 L162.8,350.8 L162.8,352.4 L162.5,352.9 L162.5,352.0 L163.1,350.5 L164.0,349.7 L164.8,350.4 L165.0,352.0 L164.8,353.3 L164.6,353.1 L164.8,351.8 L165.6,350.5" stroke="#30b090" stroke-width="0.84"/><path d="M178.4,352.8 L179.0,353.2 L178.5,352.9 L177.3,351.9 L176.6,350.9 L177.0,350.3 L178.3,350.5 L179.2,350.9 L179.0,350.8 L178.0,350.0 L177.0,348.9 L177.1,348.2 L178.1,348.2 L179.3,348.6 L179.5,348.7 L178.6,348.1" stroke="#30b090" stroke-width="0.84"/><path d="M167.7,341.6 L166.6,342.7 L166.0,343.2 L166.4,342.8 L167.5,342.3 L168.6,342.2 L168.7,343.0 L167.9,344.2 L167.0,345.1 L166.7,345.2 L167.5,344.7 L168.7,344.3 L169.4,344.6 L169.2,345.6 L168.2,346.8 L167.4,347.4 L167.6,347.2 L168.6,346.6 L169.8,346.4" stroke="#30b090" stroke-width="0.84"/><path d="M168.9,366.1 L169.6,366.4 L169.1,366.1 L168.0,365.2 L167.2,364.2 L167.5,363.6 L168.6,363.7 L169.6,364.1 L169.7,364.1 L168.7,363.5 L167.7,362.4 L167.4,361.6 L168.3,361.4 L169.5,361.7 L170.0,362.0 L169.4,361.6 L168.3,360.7 L167.6,359.7 L168.0,359.2 L169.2,359.3 L170.1,359.7 L170.1,359.6 L169.0,358.9 L168.0,357.9 L167.9,357.1 L168.9,357.0" stroke="#30b090" stroke-width="0.84"/><path d="M169.6,346.9 L170.7,345.8 L172.1,345.4 L173.6,345.2 L175.1,345.6 L176.3,346.4 L177.6,347.2 L178.5,348.4 L179.6,349.4 L181.0,350.0 L179.6,350.6" stroke="#3050c0" stroke-width="0.59"/><path d="M162.1,350.3 L162.9,349.0 L163.6,347.7 L164.8,346.8 L166.2,346.3 L167.7,345.8 L169.1,346.1 L170.6,346.4 L172.0,345.9" stroke="#3050c0" stroke-width="0.59"/><path d="M173.8,349.1 L173.5,350.5 L172.7,351.8 L171.6,352.8 L170.4,353.7 L169.2,354.6 L168.4,355.8 L167.3,356.9" stroke="#3050c0" stroke-width="0.59"/><path d="M158.5,354.0 L158.2,355.5 L157.9,355.8 L158.1,354.8 L158.9,353.4 L159.9,352.9 L160.5,353.9 L160.5,355.5 L160.1,356.6 L160.0,356.2 L160.5,354.8 L161.4,353.7 L162.3,353.9 L162.7,355.4 L162.4,356.9 L162.1,357.3 L162.2,356.4" stroke="#c04020" stroke-width="0.84"/><path d="M173.2,364.2 L172.7,363.8 L171.7,363.7 L170.9,363.9 L170.6,364.2 L170.7,364.4 L171.0,364.1 L170.8,363.7 L170.1,363.4 L169.1,363.4 L168.5,363.8 L168.4,364.0 L168.7,364.0 L168.8,363.6 L168.3,363.2 L167.4,363.1" stroke="#d0a020" stroke-width="0.84"/></g>
<ellipse cx="170" cy="340.7" rx="11.5" ry="5.0" fill="url(#hl)"/>
<circle cx="307" cy="352.3" r="20.2" fill="#3d3d3d" fill-opacity=".92" filter="url(#sh)"/>
<circle cx="307" cy="349.6" r="19.8" fill="url(#g_lblue)"/>
<circle cx="307" cy="349.6" r="19.8" fill="url(#r_lblue)"/>
<g fill="none" stroke-linecap="round" stroke-linejoin="round" opacity=".85"><path d="M308.2,340.4 L307.1,340.5 L306.1,340.7 L306.0,341.0 L306.5,341.4 L307.0,341.7 L306.9,341.8 L305.9,341.8 L304.8,342.0 L304.2,342.2 L304.4,342.6 L305.1,343.0 L305.3,343.2 L304.7,343.2 L303.6,343.3 L302.7,343.5 L302.5,343.8 L303.0,344.2 L303.6,344.5 L303.4,344.6 L302.5,344.6 L301.4,344.8 L300.8,345.1" stroke="#3070d0" stroke-width="0.84"/><path d="M305.0,353.4 L306.4,352.7 L307.7,351.9 L309.1,351.5 L310.3,350.5 L310.8,349.1 L310.9,347.6 L310.8,346.1 L310.8,344.7 L310.5,343.2 L309.7,341.9 L308.4,341.1 L307.3,340.1 L306.3,339.0 L305.2,338.0" stroke="#30c0c0" stroke-width="0.59"/><path d="M309.3,363.2 L307.3,351.1" stroke="#c04020" stroke-width="1.48"/><path d="M307.7,354.4 L309.1,353.9 L310.4,353.2 L311.9,352.8 L313.3,352.3 L314.7,352.7 L316.1,353.3 L317.6,353.4 L319.1,353.0 L320.2,352.0 L318.7,352.4" stroke="#50b050" stroke-width="0.59"/></g>
<ellipse cx="307" cy="336.7" rx="11.5" ry="5.0" fill="url(#hl)"/>
<circle cx="63" cy="429.3" r="10.3" fill="#3d3d3d" fill-opacity=".92" filter="url(#sh)"/>
<circle cx="63" cy="426.6" r="9.9" fill="url(#g_cyan)"/>
<circle cx="63" cy="426.6" r="9.9" fill="url(#r_cyan)"/>
<ellipse cx="63" cy="420.2" rx="5.7" ry="2.5" fill="url(#hl)"/>
<circle cx="380" cy="285.3" r="20.2" fill="#3d3d3d" fill-opacity=".92" filter="url(#sh)"/>
<circle cx="380" cy="282.6" r="19.8" fill="url(#g_peri)"/>
<circle cx="380" cy="282.6" r="19.8" fill="url(#r_peri)"/>
<g fill="none" stroke-linecap="round" stroke-linejoin="round" opacity=".85"><path d="M392.8,287.8 L391.8,287.6 L390.9,287.6 L390.4,288.0 L390.6,288.5 L391.0,288.7 L390.9,288.6 L390.2,288.4 L389.2,288.3 L388.4,288.6 L388.4,289.0 L388.7,289.4 L388.9,289.4 L388.5,289.2 L387.5,289.1 L386.6,289.2 L386.2,289.6 L386.5,290.0 L386.8,290.2 L386.7,290.1 L385.9,289.9 L384.9,289.8 L384.2,290.1 L384.2,290.6 L384.6,290.9 L384.7,290.9" stroke="#30a0c0" stroke-width="0.84"/><path d="M376.9,281.5 L376.8,281.1 L376.0,280.9 L374.8,280.9 L374.2,280.9 L374.4,280.8 L374.9,280.4 L375.1,280.0 L374.5,279.7 L373.4,279.6 L372.5,279.7 L372.4,279.6 L372.9,279.3 L373.3,278.9 L372.9,278.6 L371.9,278.4" stroke="#30a0c0" stroke-width="0.84"/><path d="M378.0,280.9 L378.1,282.4 L377.8,282.5 L377.8,281.2 L378.3,279.6 L379.2,279.2 L380.0,280.2 L380.4,281.8 L380.2,282.6 L380.0,281.8 L380.2,280.1 L381.0,279.1 L382.0,279.6 L382.5,281.2 L382.5,282.4 L382.2,282.2 L382.3,280.7 L382.9,279.3 L383.9,279.1 L384.6,280.4" stroke="#30a0c0" stroke-width="0.84"/><path d="M387.3,280.1 L386.7,281.6 L386.3,282.0 L386.6,281.2 L387.5,280.1 L388.6,279.7 L389.1,280.5 L388.9,282.1 L388.3,283.2 L388.0,283.2 L388.6,282.2 L389.7,281.2 L390.6,281.2 L390.8,282.4 L390.4,284.0 L389.8,284.8 L389.9,284.3 L390.7,283.2" stroke="#30a0c0" stroke-width="0.84"/><path d="M384.4,288.4 L385.1,288.9 L384.8,288.7 L383.8,287.7 L383.2,286.5 L383.4,285.7 L384.5,285.9 L385.6,286.6 L385.9,286.9 L385.3,286.4 L384.3,285.2 L384.0,284.0 L384.6,283.6 L385.8,284.1 L386.7,284.7 L386.6,284.7 L385.7,283.9 L384.9,282.6" stroke="#3050d0" stroke-width="0.84"/><path d="M375.8,282.8 L374.9,284.1 L374.4,284.5 L374.9,283.9 L376.1,283.0 L377.1,283.0 L377.2,284.1 L376.5,285.5 L375.7,286.4 L375.8,286.0 L376.8,285.2 L378.0,284.7 L378.5,285.4 L378.0,286.9 L377.2,288.0 L376.9,288.1" stroke="#3050d0" stroke-width="0.84"/><path d="M374.6,287.3 L373.9,288.7 L373.4,289.1 L373.8,288.4 L374.9,287.3 L376.0,287.2 L376.3,288.2 L375.7,289.8 L375.1,290.7 L375.1,290.4 L375.9,289.3 L377.1,288.7 L377.8,289.2 L377.6,290.7 L376.9,292.0 L376.5,292.3 L377.0,291.4 L378.1,290.5 L379.1,290.4 L379.3,291.6 L378.8,293.1" stroke="#3050d0" stroke-width="0.84"/><path d="M367.9,285.9 L368.6,286.6 L368.2,286.4 L367.3,285.3 L366.8,284.0 L367.2,283.3 L368.3,283.6 L369.4,284.3 L369.6,284.7 L368.9,284.1 L368.0,282.7 L367.9,281.6 L368.7,281.3 L369.9,282.0 L370.7,282.7 L370.4,282.6 L369.5,281.5 L368.9,280.1 L369.2,279.4 L370.3,279.6 L371.4,280.4 L371.7,280.8 L371.1,280.2 L370.2,278.9" stroke="#50c060" stroke-width="0.84"/><path d="M378.9,278.3 L379.6,278.8 L379.1,278.6 L378.1,277.5 L377.5,276.2 L378.0,275.6 L379.2,275.9 L380.2,276.6 L380.2,276.7 L379.3,275.8 L378.4,274.6 L378.4,273.6 L379.4,273.6 L380.7,274.3 L381.1,274.6 L380.4,274.2 L379.4,272.9 L379.0,271.8 L379.7,271.4 L381.0,271.9" stroke="#50c060" stroke-width="0.84"/><path d="M380.7,293.7 L381.0,295.1 L380.7,295.2 L380.5,293.9 L380.7,292.3 L381.5,291.6 L382.5,292.5 L383.1,294.0 L383.0,294.8 L382.7,294.2 L382.7,292.6 L383.2,291.3 L384.2,291.4 L385.0,292.7 L385.3,294.0 L385.1,294.2 L384.8,292.9 L385.0,291.3 L385.9,290.6 L386.8,291.4 L387.4,292.9 L387.4,293.8 L387.1,293.2 L387.0,291.6 L387.6,290.3" stroke="#50c060" stroke-width="0.84"/><path d="M382.4,293.2 L381.7,294.6 L381.2,296.0 L380.5,294.7 L380.2,293.2 L379.3,292.0 L377.9,291.4 L376.8,290.4 L375.7,289.3 L375.4,287.8 L375.2,286.3 L375.7,284.9" stroke="#c03030" stroke-width="0.59"/></g>
<ellipse cx="380" cy="269.7" rx="11.5" ry="5.0" fill="url(#hl)"/>
<circle cx="506" cy="285.3" r="20.2" fill="#3d3d3d" fill-opacity=".92" filter="url(#sh)"/>
<circle cx="506" cy="282.6" r="19.8" fill="url(#g_peri)"/>
<circle cx="506" cy="282.6" r="19.8" fill="url(#r_peri)"/>
<g fill="none" stroke-linecap="round" stroke-linejoin="round" opacity=".85"><path d="M501.6,285.5 L503.8,276.8" stroke="#3060d0" stroke-width="1.48"/><path d="M508.0,282.2 L513.3,271.1" stroke="#3060d0" stroke-width="1.48"/><path d="M502.9,284.0 L502.7,282.5 L502.9,281.0 L503.3,279.6 L503.0,278.1 L503.0,276.6 L503.5,275.2 L504.1,273.9 L504.8,272.5 L505.8,271.4" stroke="#40b050" stroke-width="0.59"/><path d="M494.0,292.2 L498.1,284.2" stroke="#c03040" stroke-width="1.48"/><path d="M515.8,286.2 L516.5,276.5" stroke="#40c0c0" stroke-width="1.48"/></g>
<ellipse cx="506" cy="269.7" rx="11.5" ry="5.0" fill="url(#hl)"/>
<circle cx="632" cy="264.3" r="10.3" fill="#3d3d3d" fill-opacity=".92" filter="url(#sh)"/>
<circle cx="632" cy="261.6" r="9.9" fill="url(#g_lav)"/>
<circle cx="632" cy="261.6" r="9.9" fill="url(#r_lav)"/>
<ellipse cx="632" cy="255.2" rx="5.7" ry="2.5" fill="url(#hl)"/>
<circle cx="758" cy="243.3" r="10.3" fill="#3d3d3d" fill-opacity=".92" filter="url(#sh)"/>
<circle cx="758" cy="240.6" r="9.9" fill="url(#g_lav)"/>
<circle cx="758" cy="240.6" r="9.9" fill="url(#r_lav)"/>
<ellipse cx="758" cy="234.2" rx="5.7" ry="2.5" fill="url(#hl)"/>
<circle cx="816" cy="175.3" r="20.2" fill="#3d3d3d" fill-opacity=".92" filter="url(#sh)"/>
<circle cx="816" cy="172.6" r="19.8" fill="url(#g_cyan)"/>
<circle cx="816" cy="172.6" r="19.8" fill="url(#r_cyan)"/>
<g fill="none" stroke-linecap="round" stroke-linejoin="round" opacity=".85"><path d="M805.9,164.6 L805.2,166.0 L804.7,166.4 L805.1,165.7 L806.2,164.7 L807.3,164.5 L807.6,165.4 L807.1,166.9 L806.4,167.9 L806.3,167.9 L807.0,166.9 L808.2,166.1 L809.0,166.4 L809.0,167.6 L808.3,169.1 L807.8,169.7 L808.0,169.1 L809.0,168.1 L810.1,167.7 L810.6,168.5 L810.2,170.0 L809.5,171.1 L809.2,171.2 L809.8,170.4 L811.0,169.5" stroke="#c02040" stroke-width="0.84"/><path d="M804.2,173.8 L804.4,175.2 L804.1,175.4 L804.0,174.1 L804.4,172.6 L805.2,171.9 L806.1,172.7 L806.6,174.3 L806.5,175.3 L806.2,174.8 L806.3,173.2 L806.9,171.9 L807.9,171.9 L808.6,173.2 L808.8,174.7 L808.6,175.0 L808.4,174.0 L808.7,172.3 L809.6,171.5 L810.5,172.2 L811.0,173.7 L811.0,174.8 L810.7,174.5 L810.7,173.0" stroke="#c02040" stroke-width="0.84"/><path d="M809.4,175.5 L810.0,175.9 L809.6,175.7 L808.6,174.7 L807.9,173.5 L808.2,172.9 L809.3,173.1 L810.4,173.6 L810.5,173.8 L809.7,173.1 L808.7,171.9 L808.5,171.0 L809.3,170.8 L810.5,171.2 L811.2,171.6 L810.8,171.4 L809.7,170.4" stroke="#c02040" stroke-width="0.84"/><path d="M809.1,181.9 L809.8,182.6 L809.4,182.4 L808.5,181.2 L807.9,179.9 L808.4,179.3 L809.7,179.7 L810.7,180.4 L810.7,180.6 L809.8,179.7 L809.0,178.3 L809.1,177.4 L810.2,177.4 L811.4,178.2 L811.8,178.7 L811.2,178.2 L810.2,176.9 L810.0,175.6 L810.7,175.3 L812.0,175.9 L812.8,176.6" stroke="#c02040" stroke-width="0.84"/><path d="M816.5,171.7 L816.8,171.5 L816.1,171.2 L814.9,170.9 L814.0,170.6 L814.0,170.3 L814.8,170.1 L815.4,169.8 L815.3,169.6 L814.4,169.3 L813.2,169.0 L812.6,168.7 L813.0,168.4 L813.8,168.2 L814.2,167.9 L813.7,167.6 L812.6,167.4 L811.6,167.1 L811.4,166.8 L812.0,166.5 L812.8,166.3 L812.8,166.0 L812.0,165.7 L810.8,165.4" stroke="#c02040" stroke-width="0.84"/><path d="M823.3,171.3 L823.9,172.3 L823.6,172.3 L823.0,171.1 L822.9,169.5 L823.5,168.7 L824.6,169.3 L825.5,170.5 L825.6,171.2 L825.1,170.5 L824.7,169.0 L824.9,167.7 L825.8,167.6 L826.9,168.6 L827.4,169.7 L827.2,169.7 L826.7,168.5 L826.4,166.9 L827.0,166.1 L828.1,166.6 L829.0,167.8" stroke="#c02040" stroke-width="0.84"/><path d="M812.8,176.7 L812.3,178.2 L812.0,178.6 L812.2,177.7 L813.2,176.4 L814.2,176.0 L814.7,177.0 L814.5,178.6 L814.0,179.7 L813.9,179.4 L814.5,178.2 L815.6,177.2 L816.4,177.5 L816.6,178.9 L816.2,180.4 L815.7,180.9 L816.0,180.1 L816.8,178.8 L817.9,178.4 L818.5,179.2 L818.3,180.8 L817.8,182.0" stroke="#c02040" stroke-width="0.84"/><path d="M823.3,172.5 L823.6,172.2 L822.9,171.9 L821.7,171.7 L820.8,171.4 L820.8,171.1 L821.6,170.8 L822.2,170.6 L822.1,170.3 L821.1,170.0 L820.0,169.7 L819.4,169.4 L819.8,169.2 L820.6,168.9 L821.0,168.6 L820.5,168.4 L819.3,168.1 L818.3,167.8 L818.2,167.5 L818.8,167.2 L819.6,167.0 L819.6,166.7 L818.7,166.4 L817.5,166.2 L816.9,165.9 L817.1,165.6 L817.9,165.3" stroke="#c02040" stroke-width="0.84"/><path d="M814.4,172.1 L814.3,171.7 L813.4,171.5 L812.3,171.6 L811.7,171.7 L811.9,171.6 L812.3,171.3 L812.5,170.8 L811.9,170.5 L810.8,170.5 L809.9,170.6 L809.8,170.7 L810.2,170.4 L810.5,170.0 L810.2,169.6 L809.3,169.5 L808.3,169.6" stroke="#c02040" stroke-width="0.84"/><path d="M821.1,166.0 L820.3,165.7 L819.3,165.8 L818.8,166.2 L818.8,166.6 L819.1,166.8 L819.1,166.5 L818.4,166.2 L817.4,166.2 L816.7,166.5 L816.6,166.9 L816.9,167.2 L817.0,167.1 L816.5,166.8 L815.5,166.6 L814.6,166.8" stroke="#c02040" stroke-width="0.84"/><path d="M823.6,175.8 L824.9,176.5 L826.3,177.0 L827.5,177.9 L826.1,177.3 L824.7,177.0 L823.2,176.8 L821.7,176.8 L820.4,177.6 L819.2,178.5 L818.0,179.4 L817.3,180.7 L817.3,182.2 L816.9,183.7" stroke="#8a6070" stroke-width="0.59"/><path d="M820.6,173.4 L821.1,174.8 L821.4,176.2 L821.1,177.7 L820.0,178.8 L818.7,179.4 L817.4,180.2 L816.8,181.6 L816.3,183.0 L816.1,184.5" stroke="#8a6070" stroke-width="0.59"/><path d="M819.5,176.6 L819.3,178.0 L819.8,179.5 L820.7,180.7 L821.8,181.7 L822.2,183.2 L822.4,184.6 L821.4,183.6 L820.6,182.3 L819.6,181.1 L818.8,179.9 L818.7,178.4 L818.5,176.9 L819.2,175.6" stroke="#8a6070" stroke-width="0.59"/></g>
<ellipse cx="816" cy="159.7" rx="11.5" ry="5.0" fill="url(#hl)"/>
<circle cx="909" cy="211.3" r="20.2" fill="#3d3d3d" fill-opacity=".92" filter="url(#sh)"/>
<circle cx="909" cy="208.6" r="19.8" fill="url(#g_pink)"/>
<circle cx="909" cy="208.6" r="19.8" fill="url(#r_pink)"/>
<g fill="none" stroke-linecap="round" stroke-linejoin="round" opacity=".85"><path d="M915.7,213.9 L914.5,214.6 L913.7,215.0 L914.0,215.0 L915.1,214.9 L915.9,215.1 L915.7,215.8 L914.6,216.5 L913.5,217.1 L913.4,217.2 L914.2,217.1 L915.3,217.2 L915.6,217.6 L914.8,218.4 L913.6,219.1 L912.9,219.4 L913.4,219.4 L914.5,219.3 L915.2,219.6" stroke="#c040c0" stroke-width="0.84"/><path d="M912.5,197.3 L911.3,198.1 L910.5,198.5 L910.8,198.4 L911.9,198.2 L912.9,198.4 L912.8,199.0 L911.8,199.9 L910.7,200.5 L910.4,200.7 L911.1,200.6 L912.3,200.5 L912.8,200.8 L912.3,201.6 L911.1,202.4 L910.3,202.9 L910.5,202.9 L911.5,202.7 L912.5,202.8 L912.6,203.3 L911.7,204.2 L910.5,204.9 L910.1,205.2" stroke="#c040c0" stroke-width="0.84"/><path d="M912.2,198.1 L911.5,199.5 L911.0,199.9 L911.3,199.3 L912.4,198.3 L913.5,198.1 L913.8,199.0 L913.4,200.5 L912.6,201.5 L912.5,201.5 L913.2,200.6 L914.4,199.8 L915.2,200.0 L915.2,201.2 L914.5,202.7 L913.9,203.3 L914.1,202.8 L915.1,201.8 L916.2,201.4 L916.8,202.1 L916.4,203.6 L915.6,204.8 L915.3,204.9" stroke="#c040c0" stroke-width="0.84"/><path d="M915.8,205.4 L916.1,205.1 L915.4,204.8 L914.1,204.5 L913.3,204.2 L913.4,203.9 L914.3,203.6 L914.9,203.4 L914.6,203.1 L913.4,202.8 L912.3,202.5 L912.0,202.2 L912.6,201.9 L913.5,201.6 L913.6,201.4 L912.7,201.1 L911.5,200.8 L910.8,200.4 L911.1,200.2" stroke="#c040c0" stroke-width="0.84"/><path d="M909.9,214.4 L910.2,215.6 L910.0,215.7 L909.6,214.5 L909.7,212.9 L910.4,212.1 L911.4,212.8 L912.1,214.1 L912.3,215.0 L911.9,214.5 L911.6,212.9 L911.9,211.5 L912.8,211.4 L913.8,212.4 L914.3,213.8 L914.2,214.1 L913.8,213.0 L913.7,211.4 L914.3,210.4 L915.3,210.8 L916.1,212.2 L916.4,213.2 L916.1,212.9 L915.7,211.5 L915.9,210.0 L916.7,209.5" stroke="#c040c0" stroke-width="0.84"/><path d="M908.7,218.5 L909.2,219.5 L909.0,219.5 L908.4,218.3 L908.2,216.7 L908.8,215.9 L909.9,216.5 L910.8,217.7 L911.0,218.4 L910.5,217.8 L910.1,216.3 L910.2,214.9 L911.1,214.7 L912.2,215.7 L912.8,216.9 L912.6,217.0 L912.1,215.9 L911.8,214.3 L912.3,213.4 L913.4,213.8 L914.4,215.0 L914.6,215.8 L914.2,215.4 L913.7,214.0" stroke="#c040c0" stroke-width="0.84"/><path d="M909.8,204.6 L909.1,204.3 L908.2,204.3 L907.4,204.6 L907.3,205.0 L907.6,205.1 L907.7,204.8 L907.1,204.4 L906.2,204.2 L905.4,204.5 L905.1,204.9 L905.3,205.1 L905.5,204.9 L905.1,204.5 L904.2,204.3 L903.3,204.4" stroke="#c040c0" stroke-width="0.84"/><path d="M910.9,204.5 L911.4,205.6 L911.1,205.6 L910.6,204.3 L910.5,202.7 L911.2,202.0 L912.3,202.7 L913.1,204.0 L913.2,204.6 L912.7,203.9 L912.4,202.3 L912.7,201.0 L913.6,201.0 L914.7,202.1 L915.2,203.3 L914.9,203.2 L914.4,202.0 L914.3,200.4 L915.0,199.7 L916.1,200.3 L916.9,201.6 L917.0,202.3 L916.5,201.5 L916.1,199.9 L916.4,198.7" stroke="#c040c0" stroke-width="0.84"/><path d="M906.7,217.6 L907.4,218.1 L907.0,217.9 L905.9,216.8 L905.3,215.6 L905.7,215.0 L906.9,215.3 L907.9,215.9 L907.9,216.0 L907.1,215.2 L906.1,213.9 L906.1,213.0 L907.1,213.0 L908.3,213.5 L908.8,213.9 L908.2,213.5 L907.1,212.3 L906.7,211.2" stroke="#c040c0" stroke-width="0.84"/><path d="M911.7,215.3 L911.3,216.7 L910.9,217.1 L911.1,216.3 L912.0,215.1 L913.1,214.6 L913.6,215.5 L913.5,217.1 L912.9,218.2 L912.7,218.2 L913.2,217.0 L914.3,216.0 L915.2,216.0 L915.5,217.2 L915.1,218.8 L914.7,219.6 L914.7,219.0 L915.4,217.8 L916.5,217.0 L917.3,217.5 L917.3,219.0 L916.8,220.4 L916.4,220.7 L916.7,219.8 L917.7,218.6 L918.7,218.3 L919.2,219.2" stroke="#c040c0" stroke-width="0.84"/><path d="M919.7,211.0 L920.2,210.9 L919.7,210.7 L918.5,210.1 L917.5,209.5 L917.6,209.0 L918.5,208.8 L919.4,208.8 L919.5,208.7 L918.6,208.3 L917.4,207.7 L916.8,207.1 L917.2,206.8 L918.2,206.7 L918.9,206.7 L918.6,206.5 L917.5,206.0 L916.4,205.4 L916.2,204.9 L916.9,204.6" stroke="#c040c0" stroke-width="0.84"/><path d="M916.6,214.6 L917.3,215.1 L917.0,215.0 L916.0,214.0 L915.4,212.7 L915.6,212.0 L916.7,212.1 L917.8,212.8 L918.2,213.1 L917.5,212.7 L916.6,211.5 L916.2,210.3 L916.8,209.9 L918.0,210.3 L918.9,210.9 L918.9,211.0 L918.1,210.3 L917.2,209.0 L917.1,208.0 L918.0,207.9 L919.2,208.4 L919.9,209.0 L919.5,208.8 L918.6,207.8" stroke="#c040c0" stroke-width="0.84"/><path d="M902.1,216.1 L903.0,217.3 L904.5,217.7 L905.6,218.7 L907.1,219.0 L908.6,219.3 L909.9,220.0 L911.4,220.3 L912.6,221.1 L913.4,222.4 L912.4,221.3 L912.0,219.8" stroke="#a050a0" stroke-width="0.59"/><path d="M904.0,206.6 L905.4,207.2 L906.7,208.0 L908.2,208.1 L909.6,207.5 L911.0,207.3 L912.5,207.4 L913.8,208.3 L914.6,209.5 L914.5,211.0 L914.9,212.5 L915.4,213.9 L916.2,215.1 L917.5,216.0 L918.7,216.9" stroke="#a050a0" stroke-width="0.59"/><path d="M906.7,205.3 L905.2,205.2 L903.7,205.0 L902.5,204.1 L901.2,203.3 L900.4,202.1 L900.1,200.6 L901.0,201.8 L901.2,203.3 L901.4,204.8 L901.2,206.3 L900.6,207.7 L900.3,209.1" stroke="#a050a0" stroke-width="0.59"/></g>
<ellipse cx="909" cy="195.7" rx="11.5" ry="5.0" fill="url(#hl)"/>
<circle cx="810" cy="307.3" r="20.2" fill="#3d3d3d" fill-opacity=".92" filter="url(#sh)"/>
<circle cx="810" cy="304.6" r="19.8" fill="url(#g_red)"/>
<circle cx="810" cy="304.6" r="19.8" fill="url(#r_red)"/>
<g fill="none" stroke-linecap="round" stroke-linejoin="round" opacity=".85"><path d="M807.9,313.4 L806.9,314.6 L806.4,315.1 L806.7,314.6 L807.9,313.9 L808.9,313.8 L809.2,314.6 L808.5,315.9 L807.6,316.9 L807.4,317.0 L808.1,316.3 L809.3,315.8 L810.1,316.0 L809.9,317.1 L809.1,318.4 L808.3,319.1 L808.5,318.8 L809.6,318.0 L810.7,317.7 L811.1,318.4 L810.6,319.7 L809.7,320.8" stroke="#c02080" stroke-width="0.84"/><path d="M806.4,307.8 L805.3,307.8 L804.4,308.0 L804.1,308.3 L804.5,308.7 L805.0,309.0 L805.0,309.1 L804.2,309.1 L803.1,309.1 L802.4,309.3 L802.4,309.7 L802.9,310.1 L803.2,310.3 L803.0,310.4 L802.0,310.3 L801.0,310.4 L800.5,310.7 L800.7,311.1 L801.2,311.5 L801.4,311.6 L800.9,311.6 L799.8,311.6 L798.9,311.8" stroke="#c02080" stroke-width="0.84"/><path d="M810.7,310.8 L810.6,310.4 L809.8,310.2 L808.7,310.2 L808.0,310.3 L808.0,310.2 L808.5,309.9 L808.8,309.5 L808.5,309.1 L807.5,309.0 L806.5,309.1 L806.0,309.1 L806.3,308.9 L806.8,308.6 L806.9,308.2 L806.3,307.9 L805.2,307.8 L804.3,307.9" stroke="#c02080" stroke-width="0.84"/><path d="M815.8,314.6 L815.6,314.1 L814.7,314.0 L813.7,314.1 L813.1,314.2 L813.2,314.2 L813.7,313.8 L813.7,313.4 L813.1,313.1 L812.1,313.1 L811.2,313.2 L811.1,313.3 L811.4,313.1 L811.8,312.7 L811.5,312.3 L810.5,312.1 L809.5,312.2 L809.0,312.4 L809.2,312.3 L809.6,312.0 L809.7,311.5 L809.0,311.2 L807.9,311.2 L807.2,311.4 L807.1,311.5" stroke="#c02080" stroke-width="0.84"/><path d="M813.6,304.1 L814.0,305.6 L815.0,306.7 L816.4,307.2 L817.9,307.0 L819.3,307.4 L820.4,308.4 L821.5,309.4 L822.4,310.6 L821.2,309.7 L820.7,308.3 L821.0,306.8 L821.1,305.3" stroke="#902040" stroke-width="0.59"/></g>
<ellipse cx="810" cy="291.7" rx="11.5" ry="5.0" fill="url(#hl)"/>
<circle cx="1122" cy="201.8" r="20.2" fill="#3d3d3d" fill-opacity=".92" filter="url(#sh)"/>
<circle cx="1122" cy="199.1" r="19.8" fill="url(#g_ygreen)"/>
<circle cx="1122" cy="199.1" r="19.8" fill="url(#r_ygreen)"/>
<g fill="none" stroke-linecap="round" stroke-linejoin="round" opacity=".85"><path d="M1126.2,203.6 L1127.7,191.5" stroke="#e07020" stroke-width="1.48"/><path d="M1122.6,200.5 L1126.7,193.6" stroke="#e07020" stroke-width="1.48"/><path d="M1120.0,204.1 L1118.8,204.7 L1118.0,205.1 L1118.3,205.1 L1119.3,205.1 L1120.1,205.4 L1119.8,206.0 L1118.7,206.7 L1117.6,207.2 L1117.5,207.3 L1118.4,207.3 L1119.4,207.4 L1119.5,207.9 L1118.6,208.6 L1117.4,209.2 L1116.9,209.4 L1117.4,209.5 L1118.5,209.5 L1119.1,209.8" stroke="#40a0d0" stroke-width="0.84"/><path d="M1126.1,192.3 L1124.8,193.0 L1124.0,193.4 L1124.3,193.4 L1125.4,193.3 L1126.2,193.5 L1126.1,194.1 L1125.0,194.9 L1123.9,195.5 L1123.7,195.6 L1124.4,195.6 L1125.5,195.6 L1125.9,196.0 L1125.2,196.7 L1124.0,197.4 L1123.3,197.8 L1123.6,197.8 L1124.6,197.7 L1125.5,197.9 L1125.3,198.5 L1124.2,199.3 L1123.1,199.8 L1122.9,200.0 L1123.7,199.9" stroke="#40a0d0" stroke-width="0.84"/><path d="M1119.5,200.0 L1118.8,199.6 L1117.9,199.6 L1117.1,199.9 L1117.0,200.3 L1117.3,200.4 L1117.4,200.1 L1116.9,199.7 L1116.0,199.6 L1115.1,199.8 L1114.8,200.2 L1114.9,200.4 L1115.1,200.3 L1114.9,199.9 L1114.1,199.6 L1113.1,199.7 L1112.6,200.1" stroke="#40a0d0" stroke-width="0.84"/><path d="M1128.4,198.4 L1128.5,198.1 L1127.7,197.8 L1126.5,197.7 L1125.8,197.6 L1125.9,197.4 L1126.5,197.1 L1126.9,196.7 L1126.5,196.4 L1125.4,196.2 L1124.4,196.2 L1124.1,196.0 L1124.6,195.8 L1125.2,195.4 L1125.2,195.0 L1124.3,194.8 L1123.1,194.7 L1122.4,194.6 L1122.6,194.4 L1123.3,194.1 L1123.6,193.7 L1123.1,193.4 L1122.0,193.2 L1121.0,193.1 L1120.8,193.0" stroke="#60c040" stroke-width="0.84"/><path d="M1121.0,190.3 L1120.8,191.8 L1120.5,192.1 L1120.6,191.1 L1121.3,189.6 L1122.3,189.0 L1123.0,189.9 L1123.1,191.6 L1122.8,192.7 L1122.6,192.4 L1123.0,191.0 L1123.8,189.8 L1124.8,189.8 L1125.3,191.1 L1125.2,192.7 L1124.9,193.3 L1124.9,192.4 L1125.4,190.9 L1126.4,190.1 L1127.2,190.8 L1127.4,192.3 L1127.2,193.6 L1126.9,193.6 L1127.2,192.4" stroke="#60c040" stroke-width="0.84"/><path d="M1118.4,213.0 L1119.0,213.3 L1118.6,213.0 L1117.5,212.2 L1116.6,211.2 L1116.8,210.6 L1117.8,210.6 L1118.9,210.9 L1119.1,211.0 L1118.4,210.5 L1117.2,209.6 L1116.7,208.7 L1117.3,208.3 L1118.5,208.5 L1119.3,208.8 L1119.1,208.7 L1118.1,208.0 L1117.1,207.0 L1117.0,206.2 L1117.9,206.1 L1119.1,206.4 L1119.5,206.6 L1118.9,206.3 L1117.8,205.4" stroke="#60c040" stroke-width="0.84"/><path d="M1118.4,206.7 L1117.8,208.2 L1117.4,208.5 L1117.7,207.7 L1118.8,206.6 L1119.8,206.4 L1120.2,207.4 L1119.8,209.0 L1119.2,210.0 L1119.2,209.6 L1120.0,208.4 L1121.1,207.7 L1121.8,208.3 L1121.7,209.8 L1121.1,211.2 L1120.8,211.3 L1121.2,210.4 L1122.3,209.3 L1123.3,209.3 L1123.6,210.5 L1123.1,212.1 L1122.5,212.9 L1122.6,212.3 L1123.5,211.2" stroke="#60c040" stroke-width="0.84"/><path d="M1122.9,209.1 L1121.8,209.2 L1120.9,209.4 L1120.7,209.7 L1121.2,210.1 L1121.8,210.3 L1121.8,210.5 L1120.9,210.6 L1119.8,210.7 L1119.1,211.0 L1119.2,211.3 L1119.8,211.7 L1120.2,211.9 L1119.9,212.0 L1118.9,212.1 L1117.8,212.3" stroke="#d0c020" stroke-width="0.84"/></g>
<ellipse cx="1122" cy="186.2" rx="11.5" ry="5.0" fill="url(#hl)"/>
<circle cx="1062" cy="282.8" r="10.3" fill="#3d3d3d" fill-opacity=".92" filter="url(#sh)"/>
<circle cx="1062" cy="280.1" r="9.9" fill="url(#g_tank)"/>
<circle cx="1062" cy="280.1" r="9.9" fill="url(#r_tank)"/>
<ellipse cx="1062" cy="273.7" rx="5.7" ry="2.5" fill="url(#hl)"/>
<circle cx="1200" cy="264.3" r="20.2" fill="#3d3d3d" fill-opacity=".92" filter="url(#sh)"/>
<circle cx="1200" cy="261.6" r="19.8" fill="url(#g_lav)"/>
<circle cx="1200" cy="261.6" r="19.8" fill="url(#r_lav)"/>
<g fill="none" stroke-linecap="round" stroke-linejoin="round" opacity=".85"><path d="M1209.3,259.6 L1210.8,259.7 L1212.3,259.6 L1210.8,259.4 L1209.6,258.5 L1208.3,257.7 L1206.8,257.8 L1205.5,257.1 L1204.4,256.1 L1204.0,254.6 L1204.2,253.1 L1204.4,251.6" stroke="#9060d0" stroke-width="0.59"/><path d="M1206.8,269.3 L1205.9,270.5 L1205.6,272.0 L1205.3,273.4 L1205.5,274.9 L1204.7,273.7 L1204.6,272.2 L1205.0,270.7 L1206.2,269.8 L1207.0,268.5 L1207.9,267.3 L1208.8,266.1 L1209.2,264.7 L1208.7,263.2" stroke="#9060d0" stroke-width="0.59"/><path d="M1204.8,258.1 L1205.8,257.0 L1207.2,256.4 L1208.5,255.7 L1209.5,254.5 L1208.1,255.2 L1206.7,255.6 L1205.2,255.5" stroke="#9060d0" stroke-width="0.59"/><path d="M1204.4,268.4 L1203.8,267.0 L1202.8,265.9 L1202.0,264.6 L1201.0,263.5 L1200.1,262.4 L1199.1,261.2 L1198.4,259.9 L1197.4,258.8 L1196.6,257.5 L1195.6,256.4 L1195.4,254.9 L1195.7,253.4 L1195.6,251.9" stroke="#9060d0" stroke-width="0.59"/><path d="M1205.6,268.2 L1205.1,267.8 L1204.1,267.8 L1203.4,268.0 L1203.1,268.4 L1203.3,268.6 L1203.5,268.4 L1203.3,268.0 L1202.5,267.7 L1201.5,267.8 L1201.0,268.2 L1201.0,268.5 L1201.2,268.5 L1201.3,268.2 L1200.8,267.8 L1199.9,267.7 L1199.0,267.9 L1198.7,268.3 L1198.8,268.5 L1199.1,268.4 L1198.9,268.0 L1198.2,267.6 L1197.3,267.7 L1196.6,268.0" stroke="#9060d0" stroke-width="0.84"/><path d="M1206.8,257.0 L1205.7,258.0 L1205.0,258.4 L1205.4,258.2 L1206.5,257.9 L1207.5,258.0 L1207.4,258.7 L1206.4,259.8 L1205.4,260.5 L1205.2,260.6 L1206.1,260.2 L1207.3,260.0 L1207.8,260.5 L1207.2,261.5 L1206.0,262.4 L1205.4,262.8 L1205.8,262.6 L1207.0,262.3 L1207.9,262.4 L1207.8,263.2 L1206.8,264.2 L1205.8,264.9 L1205.7,265.0" stroke="#9060d0" stroke-width="0.84"/><path d="M1193.2,268.9 L1193.4,270.3 L1193.2,270.4 L1193.0,269.1 L1193.3,267.5 L1194.2,267.0 L1195.2,268.0 L1195.6,269.5 L1195.5,270.2 L1195.2,269.3 L1195.3,267.6 L1196.1,266.6 L1197.0,267.1 L1197.7,268.6 L1197.8,269.7 L1197.5,269.4 L1197.4,267.9 L1197.9,266.4 L1198.9,266.3 L1199.7,267.6 L1200.0,269.1 L1199.8,269.4" stroke="#9060d0" stroke-width="0.84"/></g>
<ellipse cx="1200" cy="248.7" rx="11.5" ry="5.0" fill="url(#hl)"/>
<circle cx="1199" cy="327.3" r="20.2" fill="#3d3d3d" fill-opacity=".92" filter="url(#sh)"/>
<circle cx="1199" cy="324.6" r="19.8" fill="url(#g_lav)"/>
<circle cx="1199" cy="324.6" r="19.8" fill="url(#r_lav)"/>
<g fill="none" stroke-linecap="round" stroke-linejoin="round" opacity=".85"><path d="M1191.2,326.6 L1192.4,325.7 L1193.9,325.6 L1195.3,325.3 L1196.8,325.6 L1198.3,325.6 L1199.8,325.4 L1201.0,324.5 L1202.5,324.5 L1204.0,324.0" stroke="#d08040" stroke-width="0.59"/><path d="M1205.9,325.0 L1206.4,326.2 L1206.2,326.2 L1205.7,325.0 L1205.6,323.4 L1206.2,322.6 L1207.3,323.1 L1208.1,324.4 L1208.3,325.2 L1207.9,324.7 L1207.5,323.2 L1207.7,321.8 L1208.5,321.5 L1209.6,322.5 L1210.2,323.7 L1210.1,324.1 L1209.6,323.1 L1209.4,321.4" stroke="#30c0c0" stroke-width="0.84"/><path d="M1198.3,318.1 L1197.1,318.9 L1196.3,319.3 L1196.6,319.2 L1197.7,319.1 L1198.6,319.2 L1198.6,319.8 L1197.7,320.6 L1196.5,321.3 L1196.1,321.5 L1196.8,321.4 L1197.9,321.3 L1198.6,321.6 L1198.1,322.3 L1197.0,323.2 L1196.1,323.7 L1196.1,323.7 L1197.1,323.5 L1198.1,323.6 L1198.3,324.1 L1197.5,324.9 L1196.4,325.6 L1195.8,326.0 L1196.2,325.9 L1197.3,325.7 L1198.1,325.9" stroke="#3060d0" stroke-width="0.84"/></g>
<ellipse cx="1199" cy="311.7" rx="11.5" ry="5.0" fill="url(#hl)"/>
<circle cx="443" cy="348.3" r="10.3" fill="#3d3d3d" fill-opacity=".92" filter="url(#sh)"/>
<circle cx="443" cy="345.6" r="9.9" fill="url(#g_ygreen)"/>
<circle cx="443" cy="345.6" r="9.9" fill="url(#r_ygreen)"/>
<ellipse cx="443" cy="339.2" rx="5.7" ry="2.5" fill="url(#hl)"/>
<circle cx="569" cy="348.3" r="20.2" fill="#3d3d3d" fill-opacity=".92" filter="url(#sh)"/>
<circle cx="569" cy="345.6" r="19.8" fill="url(#g_ygreen)"/>
<circle cx="569" cy="345.6" r="19.8" fill="url(#r_ygreen)"/>
<g fill="none" stroke-linecap="round" stroke-linejoin="round" opacity=".85"><path d="M564.4,343.0 L563.2,344.1 L562.4,344.6 L562.9,344.2 L564.2,343.7 L565.2,343.8 L565.2,344.6 L564.2,345.9 L563.1,346.7 L563.0,346.7 L564.0,346.1 L565.3,345.8 L565.8,346.3 L565.1,347.5 L563.9,348.6 L563.3,348.9 L563.8,348.6 L565.1,348.1 L566.1,348.2 L566.0,349.1 L564.9,350.3 L563.9,351.1 L563.9,351.0 L564.9,350.4 L566.2,350.2 L566.6,350.8 L565.9,352.0 L564.7,353.0 L564.1,353.3" stroke="#c8b020" stroke-width="0.79"/><path d="M578.6,335.5 L577.3,336.1 L576.4,336.5 L576.6,336.5 L577.7,336.6 L578.6,336.8 L578.4,337.3 L577.3,337.9 L576.0,338.4 L575.7,338.6 L576.5,338.7 L577.6,338.7 L578.0,339.1 L577.2,339.7 L575.9,340.3 L575.0,340.7 L575.3,340.8 L576.4,340.8 L577.2,341.0 L577.0,341.5 L575.8,342.2 L574.6,342.7 L574.3,342.9 L575.1,342.9 L576.2,343.0 L576.6,343.3 L575.8,344.0 L574.4,344.6 L573.6,344.9 L573.9,345.0 L575.0,345.0" stroke="#c8b020" stroke-width="0.79"/><path d="M577.3,344.0 L576.1,345.1 L575.4,345.5 L575.8,345.2 L577.1,344.7 L578.2,344.7 L578.2,345.5 L577.2,346.7 L576.2,347.6 L575.9,347.6 L576.9,347.1 L578.2,346.7 L578.8,347.1 L578.3,348.2 L577.2,349.4 L576.4,349.9 L576.7,349.6 L578.0,349.0 L579.1,349.0 L579.2,349.8 L578.3,351.0 L577.2,351.9 L576.9,352.0 L577.8,351.5" stroke="#c8b020" stroke-width="0.79"/><path d="M564.6,337.2 L563.2,337.9 L562.4,338.3 L562.6,338.3 L563.7,338.3 L564.7,338.4 L564.6,339.0 L563.5,339.7 L562.2,340.3 L561.8,340.5 L562.5,340.5 L563.7,340.5 L564.3,340.8 L563.7,341.5 L562.4,342.2 L561.4,342.6 L561.5,342.7 L562.6,342.6 L563.6,342.7 L563.7,343.2 L562.6,344.0 L561.3,344.6 L560.8,344.8 L561.4,344.8 L562.6,344.8 L563.3,345.1 L562.8,345.7 L561.5,346.4 L560.5,346.9 L560.4,347.0 L561.4,346.9 L562.5,347.0 L562.7,347.5 L561.8,348.2" stroke="#c8b020" stroke-width="0.79"/><path d="M574.6,338.9 L573.3,339.7 L572.4,340.2 L572.7,340.1 L573.9,339.9 L574.9,340.0 L574.9,340.6 L573.9,341.5 L572.7,342.2 L572.2,342.4 L572.9,342.2 L574.1,342.1 L574.8,342.4 L574.5,343.1 L573.2,344.0 L572.2,344.5 L572.1,344.6 L573.1,344.4 L574.2,344.3 L574.6,344.8 L573.9,345.6 L572.6,346.4 L571.8,346.8 L572.2,346.7 L573.3,346.5 L574.3,346.6 L574.3,347.3 L573.2,348.1 L572.0,348.8 L571.6,349.0 L572.3,348.9 L573.5,348.7" stroke="#c8b020" stroke-width="0.79"/><path d="M577.1,347.8 L575.9,349.0 L575.2,349.4 L575.6,349.1 L576.8,348.5 L578.0,348.4 L578.2,349.1 L577.3,350.4 L576.2,351.4 L575.9,351.5 L576.6,351.0 L577.9,350.5 L578.8,350.6 L578.6,351.6 L577.6,352.9 L576.6,353.7 L576.6,353.5 L577.7,352.9 L578.9,352.6 L579.5,353.0 L578.9,354.2 L577.8,355.4 L577.1,355.8 L577.5,355.5 L578.8,354.8 L579.9,354.7 L580.1,355.5 L579.2,356.8 L578.1,357.8" stroke="#c8b020" stroke-width="0.79"/><path d="M565.8,349.6 L564.5,350.5 L563.7,350.9 L564.0,350.8 L565.2,350.6 L566.2,350.7 L566.1,351.4 L564.9,352.3 L563.8,353.0 L563.5,353.1 L564.4,352.9 L565.7,352.8 L566.1,353.2 L565.4,354.1 L564.1,354.9 L563.3,355.3 L563.7,355.2 L565.0,355.0 L565.9,355.2 L565.7,355.9 L564.6,356.8 L563.4,357.4 L563.2,357.5 L564.2,357.3 L565.4,357.2 L565.8,357.7 L565.1,358.6 L563.7,359.4 L563.0,359.8 L563.4,359.6 L564.7,359.4 L565.6,359.6" stroke="#c8b020" stroke-width="0.79"/><path d="M567.7,351.8 L566.5,353.0 L565.8,353.4 L566.2,353.1 L567.5,352.6 L568.6,352.6 L568.6,353.4 L567.6,354.6 L566.5,355.4 L566.3,355.5 L567.2,355.0 L568.5,354.7 L569.2,355.0 L568.7,356.1 L567.5,357.2 L566.7,357.8 L567.0,357.5 L568.2,357.0 L569.4,356.9 L569.5,357.7 L568.6,358.9 L567.4,359.8 L567.1,359.9 L567.9,359.4 L569.3,359.0 L570.0,359.3 L569.6,360.4" stroke="#c8b020" stroke-width="0.79"/><path d="M570.0,347.5 L568.8,348.6 L568.1,349.1 L568.5,348.7 L569.8,348.2 L570.9,348.3 L570.8,349.1 L569.8,350.3 L568.7,351.1 L568.6,351.1 L569.6,350.6 L570.9,350.3 L571.4,350.8 L570.8,351.9 L569.6,353.0 L568.9,353.4 L569.5,353.0 L570.8,352.5 L571.8,352.6 L571.6,353.5 L570.6,354.8 L569.5,355.5 L569.5,355.5 L570.6,354.9 L571.8,354.7 L572.3,355.2 L571.6,356.4 L570.4,357.4 L569.8,357.8 L570.4,357.4" stroke="#c8b020" stroke-width="0.79"/><path d="M577.0,346.0 L575.7,347.0 L574.9,347.5 L575.3,347.3 L576.5,346.9 L577.6,346.9 L577.7,347.6 L576.7,348.7 L575.5,349.5 L575.1,349.7 L575.9,349.3 L577.2,349.0 L577.9,349.3 L577.6,350.2 L576.4,351.3 L575.4,351.9 L575.5,351.8 L576.5,351.4 L577.7,351.3 L578.1,351.8 L577.3,352.8 L576.1,353.8 L575.5,354.1 L576.0,353.9 L577.2,353.5 L578.2,353.6 L578.1,354.4 L577.0,355.4" stroke="#c8b020" stroke-width="0.79"/><path d="M574.9,351.5 L573.4,351.4 L572.1,352.1 L570.9,353.1 L569.6,353.9 L568.6,355.0 L567.3,355.6 L566.1,356.6 L564.7,356.9 L563.3,356.5" stroke="#a0a020" stroke-width="0.59"/><path d="M568.0,340.5 L569.4,340.8 L570.8,340.3 L571.9,339.2 L573.1,338.3 L574.4,337.5 L575.0,336.1 L574.0,337.2 L573.2,338.5 L572.6,339.9 L571.6,340.9 L570.1,341.4 L569.1,342.5" stroke="#a0a020" stroke-width="0.59"/><path d="M564.3,350.5 L565.4,349.5 L566.6,348.7 L567.3,347.3 L568.4,346.3 L569.5,345.3 L569.9,343.8 L569.7,342.4 L570.3,341.0 L570.5,339.5" stroke="#a0a020" stroke-width="0.59"/></g>
<ellipse cx="569" cy="332.7" rx="11.5" ry="5.0" fill="url(#hl)"/>
<circle cx="696" cy="327.3" r="20.2" fill="#3d3d3d" fill-opacity=".92" filter="url(#sh)"/>
<circle cx="696" cy="324.6" r="19.8" fill="url(#g_mint)"/>
<circle cx="696" cy="324.6" r="19.8" fill="url(#r_mint)"/>
<g fill="none" stroke-linecap="round" stroke-linejoin="round" opacity=".85"><path d="M687.4,327.4 L686.2,328.5 L685.5,329.0 L685.9,328.6 L687.2,328.0 L688.3,328.0 L688.4,328.8 L687.4,330.1 L686.4,331.0 L686.1,331.0 L687.0,330.5 L688.3,330.1 L689.1,330.4 L688.6,331.5 L687.5,332.7 L686.7,333.3 L687.0,333.0 L688.2,332.4 L689.3,332.3 L689.6,333.0 L688.7,334.3 L687.6,335.2 L687.2,335.4 L688.0,334.8 L689.3,334.4 L690.1,334.6 L689.8,335.7 L688.7,336.9 L687.8,337.6 L688.0,337.3 L689.1,336.7" stroke="#7080b0" stroke-width="0.79"/><path d="M695.2,322.5 L693.9,323.1 L693.0,323.5 L693.2,323.5 L694.3,323.5 L695.2,323.7 L695.1,324.2 L694.0,324.9 L692.8,325.4 L692.3,325.7 L693.0,325.7 L694.1,325.7 L694.7,326.0 L694.2,326.6 L692.9,327.3 L691.8,327.7 L691.9,327.8 L692.9,327.8 L693.9,327.9 L694.0,328.4 L693.1,329.1 L691.7,329.7 L691.1,329.9 L691.6,330.0 L692.7,330.0 L693.5,330.2 L693.1,330.8 L691.9,331.5 L690.7,332.0 L690.6,332.1 L691.5,332.1 L692.6,332.2 L692.9,332.6 L692.1,333.2" stroke="#7080b0" stroke-width="0.79"/><path d="M693.4,314.9 L692.2,315.8 L691.4,316.2 L691.7,316.1 L692.9,315.8 L694.0,315.8 L694.0,316.5 L692.9,317.5 L691.7,318.3 L691.4,318.4 L692.2,318.2 L693.4,317.9 L694.1,318.3 L693.6,319.1 L692.4,320.1 L691.4,320.6 L691.6,320.6 L692.7,320.2 L693.8,320.2 L694.0,320.8 L693.1,321.8 L691.9,322.6 L691.3,322.9 L692.0,322.7 L693.2,322.4 L694.1,322.6 L693.8,323.4 L692.6,324.4 L691.5,325.0 L691.5,325.0 L692.5,324.7 L693.7,324.6 L694.1,325.1" stroke="#7080b0" stroke-width="0.79"/><path d="M689.5,322.5 L688.3,323.5 L687.6,323.9 L688.0,323.7 L689.3,323.3 L690.3,323.3 L690.2,324.1 L689.2,325.3 L688.1,326.0 L687.9,326.1 L688.9,325.6 L690.2,325.4 L690.7,325.9 L690.0,326.9 L688.8,328.0 L688.1,328.4 L688.6,328.1 L689.9,327.6 L690.9,327.8 L690.8,328.6 L689.6,329.7 L688.6,330.5 L688.5,330.5 L689.5,330.0 L690.8,329.8 L691.2,330.3 L690.5,331.4 L689.3,332.4" stroke="#7080b0" stroke-width="0.79"/><path d="M697.9,321.7 L696.8,322.9 L696.1,323.3 L696.5,322.9 L697.7,322.2 L698.9,322.1 L699.0,322.9 L698.2,324.3 L697.2,325.3 L696.9,325.4 L697.7,324.7 L699.0,324.2 L699.8,324.4 L699.6,325.5 L698.5,326.8 L697.7,327.5 L697.8,327.3 L698.9,326.5 L700.2,326.2 L700.6,326.9 L700.0,328.1 L698.9,329.3 L698.4,329.6 L698.9,329.1 L700.2,328.4 L701.2,328.4 L701.3,329.4 L700.3,330.7 L699.3,331.6 L699.2,331.6 L700.1,330.9 L701.5,330.4 L702.1,330.8 L701.7,332.0" stroke="#7080b0" stroke-width="0.79"/><path d="M689.4,326.1 L688.1,326.8 L687.2,327.2 L687.5,327.2 L688.7,327.0 L689.7,327.2 L689.6,327.8 L688.5,328.6 L687.3,329.3 L686.9,329.5 L687.7,329.3 L688.9,329.3 L689.5,329.6 L688.9,330.3 L687.6,331.2 L686.7,331.6 L686.8,331.6 L687.9,331.5 L689.0,331.5 L689.1,332.1 L688.1,332.9 L686.8,333.6" stroke="#7080b0" stroke-width="0.79"/><path d="M707.7,317.9 L706.4,318.6 L705.5,318.9 L705.7,319.0 L706.8,318.9 L707.8,319.0 L707.8,319.6 L706.7,320.3 L705.4,320.9 L704.9,321.2 L705.6,321.1 L706.7,321.1 L707.4,321.4 L707.0,322.0 L705.7,322.7 L704.6,323.2 L704.6,323.3 L705.5,323.2 L706.6,323.3 L706.9,323.7 L706.1,324.5 L704.7,325.1 L704.0,325.5 L704.3,325.5 L705.5,325.4 L706.4,325.6 L706.2,326.2 L705.1,326.9" stroke="#7080b0" stroke-width="0.79"/><path d="M693.4,316.3 L692.0,317.0 L691.2,317.4 L691.5,317.4 L692.7,317.4 L693.6,317.6 L693.3,318.2 L692.1,318.9 L690.9,319.5 L690.7,319.6 L691.7,319.5 L692.8,319.6 L693.1,320.1 L692.2,320.8 L690.8,321.5 L690.2,321.8 L690.7,321.7 L691.9,321.7 L692.6,322.0 L692.2,322.7 L690.9,323.4 L689.8,323.9" stroke="#7080b0" stroke-width="0.79"/><path d="M701.2,320.7 L699.9,321.5 L699.1,321.9 L699.4,321.9 L700.6,321.7 L701.6,321.9 L701.4,322.5 L700.3,323.4 L699.1,324.0 L698.8,324.1 L699.7,324.0 L700.9,323.9 L701.3,324.3 L700.6,325.2 L699.3,325.9 L698.5,326.3 L698.9,326.3 L700.1,326.1 L701.0,326.3 L700.8,326.9 L699.6,327.8 L698.4,328.4 L698.2,328.5 L699.1,328.4 L700.3,328.3 L700.8,328.8 L700.0,329.6 L698.7,330.4 L697.9,330.7 L698.3,330.7 L699.5,330.5" stroke="#7080b0" stroke-width="0.79"/><path d="M706.9,327.0 L705.6,327.8 L704.7,328.2 L705.1,328.1 L706.2,327.9 L707.2,328.0 L707.2,328.7 L706.1,329.6 L704.9,330.2 L704.5,330.4 L705.3,330.2 L706.5,330.1 L707.1,330.5 L706.6,331.3 L705.3,332.1 L704.3,332.6 L704.5,332.6 L705.6,332.4 L706.7,332.4 L706.8,333.0 L705.8,333.9 L704.6,334.6 L704.0,334.8 L704.7,334.7" stroke="#7080b0" stroke-width="0.79"/><path d="M695.3,324.8 L694.1,325.9 L693.4,326.3 L693.8,326.0 L695.0,325.5 L696.1,325.5 L696.2,326.3 L695.3,327.4 L694.1,328.3 L693.8,328.5 L694.6,328.0 L695.9,327.6 L696.7,327.9 L696.3,328.9 L695.2,330.0 L694.3,330.7 L694.4,330.5 L695.5,330.0 L696.7,329.8 L697.1,330.4 L696.3,331.5 L695.2,332.6 L694.6,332.9 L695.2,332.5 L696.5,332.0 L697.4,332.1 L697.3,333.0 L696.3,334.2 L695.2,335.0 L695.1,335.0 L696.1,334.5 L697.4,334.2 L698.0,334.6 L697.4,335.7 L696.2,336.8 L695.5,337.2" stroke="#7080b0" stroke-width="0.79"/><path d="M687.8,321.5 L686.5,322.1 L685.6,322.5 L685.8,322.6 L686.9,322.6 L687.8,322.8 L687.7,323.3 L686.6,323.9 L685.3,324.5 L684.9,324.7 L685.5,324.7 L686.7,324.8 L687.2,325.1 L686.6,325.7 L685.3,326.3 L684.3,326.7 L684.3,326.8 L685.3,326.8 L686.3,327.0 L686.4,327.5 L685.3,328.1 L684.0,328.6 L683.5,328.9 L684.0,328.9 L685.2,329.0 L685.8,329.3 L685.3,329.8 L684.0,330.5 L682.9,330.9 L682.9,331.0 L683.8,331.1 L684.9,331.2 L685.0,331.6" stroke="#7080b0" stroke-width="0.79"/></g>
<ellipse cx="696" cy="311.7" rx="11.5" ry="5.0" fill="url(#hl)"/>
<circle cx="426" cy="420.3" r="20.2" fill="#3d3d3d" fill-opacity=".92" filter="url(#sh)"/>
<circle cx="426" cy="417.6" r="19.8" fill="url(#g_teal)"/>
<circle cx="426" cy="417.6" r="19.8" fill="url(#r_teal)"/>
<g fill="none" stroke-linecap="round" stroke-linejoin="round" opacity=".85"><path d="M417.6,416.9 L417.3,418.4 L417.0,418.7 L417.2,417.6 L418.0,416.2 L419.0,415.8 L419.6,416.9 L419.6,418.5 L419.2,419.5 L419.1,419.0 L419.7,417.5 L420.7,416.5 L421.5,416.9 L421.8,418.5 L421.5,419.9 L421.2,420.1 L421.5,418.9 L422.3,417.5 L423.3,417.3 L423.9,418.4 L423.8,420.1 L423.4,420.9 L423.4,420.3" stroke="#30b090" stroke-width="0.84"/><path d="M430.9,408.3 L430.1,408.1 L429.1,408.1 L428.6,408.5 L428.7,409.0 L429.0,409.2 L429.0,409.1 L428.5,408.8 L427.5,408.7 L426.7,408.9 L426.4,409.3 L426.7,409.7 L426.9,409.8 L426.7,409.6 L425.9,409.3 L424.9,409.3 L424.3,409.6 L424.3,410.1 L424.7,410.4" stroke="#30b090" stroke-width="0.84"/><path d="M430.7,429.1 L430.8,428.8 L430.1,428.5 L428.9,428.4 L428.1,428.3 L428.1,428.2 L428.7,427.9 L429.2,427.5 L429.0,427.2 L428.0,427.0 L426.9,426.9 L426.4,426.8 L426.6,426.6 L427.2,426.3 L427.5,425.9 L427.0,425.6 L426.0,425.5 L425.0,425.4 L424.7,425.3 L425.2,425.0 L425.8,424.7 L425.8,424.3 L425.0,424.1 L423.9,424.0 L423.1,423.9 L423.1,423.7 L423.7,423.4" stroke="#30b090" stroke-width="0.84"/><path d="M425.1,413.0 L425.7,413.6 L425.4,413.4 L424.5,412.4 L423.8,411.1 L424.1,410.4 L425.2,410.5 L426.3,411.2 L426.6,411.6 L426.0,411.1 L425.1,409.9 L424.7,408.7 L425.4,408.3 L426.6,408.7 L427.5,409.4 L427.4,409.5 L426.6,408.7 L425.8,407.4 L425.8,406.4 L426.7,406.4 L427.9,407.0 L428.5,407.5 L428.1,407.3 L427.2,406.2 L426.6,405.0" stroke="#30b090" stroke-width="0.84"/><path d="M429.0,423.4 L429.3,424.7 L429.0,424.7 L428.7,423.5 L428.9,421.8 L429.7,421.2 L430.7,422.0 L431.3,423.5 L431.3,424.2 L431.0,423.6 L430.9,421.9 L431.4,420.7 L432.4,420.8 L433.2,422.1 L433.5,423.4 L433.3,423.4 L433.0,422.1 L433.2,420.5 L434.0,419.9 L435.0,420.7 L435.6,422.1 L435.6,422.9 L435.2,422.2" stroke="#30b090" stroke-width="0.84"/><path d="M430.5,415.4 L429.3,416.2 L428.5,416.6 L428.8,416.5 L429.9,416.4 L430.8,416.5 L430.8,417.1 L429.8,417.9 L428.7,418.6 L428.3,418.8 L429.0,418.7 L430.1,418.6 L430.7,418.9 L430.3,419.6 L429.1,420.5 L428.2,421.0" stroke="#30b090" stroke-width="0.84"/><path d="M420.7,419.1 L419.5,419.5 L418.6,419.8 L418.6,420.0 L419.5,420.2 L420.2,420.4 L420.1,420.7 L419.2,421.2 L418.0,421.5 L417.4,421.8 L417.8,422.0 L418.7,422.2 L419.2,422.5 L418.8,422.8 L417.6,423.3 L416.6,423.6 L416.4,423.8 L417.1,424.0 L417.9,424.2 L418.1,424.5 L417.3,425.0 L416.1,425.3" stroke="#30b090" stroke-width="0.84"/><path d="M422.2,419.8 L421.0,420.7 L420.3,421.1 L420.6,421.0 L421.8,420.7 L422.7,420.9 L422.6,421.6 L421.6,422.6 L420.5,423.2 L420.4,423.3 L421.3,423.1 L422.4,423.0 L422.8,423.4 L422.2,424.3 L421.0,425.2 L420.3,425.6 L420.8,425.4 L422.0,425.2 L422.8,425.3 L422.6,426.1 L421.6,427.1" stroke="#30b090" stroke-width="0.84"/><path d="M437.2,421.3 L437.0,420.9 L436.1,420.7 L435.1,420.8 L434.5,421.0 L434.6,421.0 L435.0,420.7 L435.1,420.3 L434.7,419.9 L433.7,419.8 L432.8,420.0 L432.4,420.1 L432.7,420.0 L433.1,419.6 L433.0,419.2 L432.3,418.9 L431.3,419.0" stroke="#30b090" stroke-width="0.84"/><path d="M422.3,418.8 L421.0,419.1 L420.2,419.4 L420.2,419.6 L420.9,419.9 L421.6,420.2 L421.5,420.5 L420.5,420.8 L419.3,421.1 L418.8,421.4 L419.3,421.6 L420.1,421.9 L420.5,422.1 L419.9,422.5 L418.7,422.8 L417.7,423.1 L417.7,423.3 L418.4,423.6" stroke="#30b090" stroke-width="0.84"/><path d="M432.0,424.3 L432.2,425.8 L432.1,427.3 L431.4,428.7 L430.9,430.1 L430.0,428.8 L429.4,427.5 L428.5,426.3" stroke="#3060c0" stroke-width="0.59"/><path d="M421.5,426.4 L421.8,427.9 L421.8,429.4 L422.4,430.8 L422.8,429.4 L423.8,428.3 L424.9,427.2 L426.3,426.8" stroke="#3060c0" stroke-width="0.59"/><path d="M429.8,428.4 L429.7,426.9 L429.4,425.4 L429.4,423.9 L430.0,422.6 L431.0,421.5 L431.9,420.3 L433.3,419.8 L434.7,419.2 L436.1,418.6 L437.6,418.9 L439.1,418.8" stroke="#3060c0" stroke-width="0.59"/><path d="M422.5,418.1 L422.6,417.7 L421.8,417.5 L420.7,417.3 L419.9,417.3 L419.9,417.1 L420.5,416.8 L421.0,416.4 L420.8,416.1 L419.8,415.9 L418.7,415.8 L418.2,415.7 L418.4,415.5 L419.1,415.2 L419.3,414.8 L418.8,414.5 L417.7,414.4 L416.8,414.3 L416.5,414.2 L417.0,413.9 L417.6,413.6 L417.6,413.2 L416.8,413.0 L415.7,412.9 L414.9,412.8" stroke="#c0b020" stroke-width="0.84"/></g>
<ellipse cx="426" cy="404.7" rx="11.5" ry="5.0" fill="url(#hl)"/>
<circle cx="549" cy="411.3" r="20.2" fill="#3d3d3d" fill-opacity=".92" filter="url(#sh)"/>
<circle cx="549" cy="408.6" r="19.8" fill="url(#g_khaki)"/>
<circle cx="549" cy="408.6" r="19.8" fill="url(#r_khaki)"/>
<g fill="none" stroke-linecap="round" stroke-linejoin="round" opacity=".85"><path d="M537.9,405.1 L537.0,406.3 L536.4,406.8 L536.8,406.3 L537.9,405.6 L539.0,405.4 L539.2,406.2 L538.6,407.6 L537.7,408.6 L537.4,408.7 L538.1,408.0 L539.3,407.4 L540.2,407.6 L540.1,408.7 L539.2,410.0 L538.5,410.7 L538.5,410.5" stroke="#d03020" stroke-width="0.84"/><path d="M546.9,404.0 L545.8,404.1 L544.8,404.3 L544.6,404.6 L545.1,405.0 L545.6,405.3 L545.6,405.4 L544.7,405.4 L543.6,405.5 L542.9,405.8 L543.0,406.1 L543.6,406.5 L544.0,406.7 L543.6,406.8 L542.5,406.8 L541.5,407.0 L541.1,407.3 L541.5,407.7 L542.1,408.0 L542.2,408.2 L541.5,408.2 L540.4,408.3 L539.5,408.5 L539.5,408.9 L540.0,409.2 L540.5,409.5" stroke="#d03020" stroke-width="0.84"/><path d="M539.0,414.3 L539.0,415.8 L538.7,416.0 L538.8,414.7 L539.4,413.1 L540.4,412.9 L541.1,414.1 L541.2,415.8 L541.0,416.3 L540.9,415.3 L541.4,413.7 L542.4,413.0 L543.2,413.9 L543.5,415.6 L543.2,416.6 L543.1,415.9" stroke="#d03020" stroke-width="0.84"/><path d="M544.6,410.6 L545.3,411.3 L544.9,411.1 L544.0,409.8 L543.5,408.5 L544.1,407.9 L545.4,408.4 L546.3,409.2 L546.2,409.3 L545.3,408.3 L544.6,406.8 L545.0,406.0 L546.1,406.3 L547.2,407.1 L547.4,407.5 L546.7,406.7" stroke="#e08020" stroke-width="0.84"/><path d="M545.0,416.1 L544.5,417.6 L544.1,417.9 L544.4,417.0 L545.4,415.9 L546.5,415.6 L546.9,416.7 L546.6,418.3 L546.0,419.3 L546.0,418.8 L546.8,417.6 L547.9,416.8 L548.6,417.3 L548.6,418.9 L548.0,420.3 L547.7,420.5" stroke="#e08020" stroke-width="0.84"/><path d="M544.4,421.9 L544.7,423.2 L544.5,423.3 L544.2,422.0 L544.3,420.4 L545.1,419.7 L546.1,420.4 L546.7,421.9 L546.8,422.7 L546.4,422.1 L546.2,420.5 L546.7,419.2 L547.6,419.2 L548.5,420.4 L548.9,421.7 L548.7,421.9 L548.4,420.7 L548.5,419.1 L549.2,418.3 L550.2,418.9 L550.9,420.3 L551.0,421.3 L550.7,420.8 L550.4,419.3" stroke="#e08020" stroke-width="0.84"/><path d="M554.8,417.3 L555.1,417.1 L554.5,416.8 L553.2,416.5 L552.4,416.1 L552.4,415.7 L553.2,415.5 L553.9,415.3 L553.8,415.1 L552.8,414.8 L551.7,414.4 L551.2,414.0 L551.6,413.7 L552.5,413.5 L552.9,413.3 L552.4,413.0 L551.2,412.7 L550.2,412.3 L550.1,411.9" stroke="#60c040" stroke-width="0.84"/><path d="M542.1,415.0 L542.7,415.3 L542.2,415.0 L541.1,414.1 L540.3,413.1 L540.6,412.5 L541.7,412.6 L542.7,413.0 L542.8,413.0 L541.8,412.4 L540.8,411.3 L540.5,410.5 L541.3,410.3 L542.5,410.6 L543.1,410.8 L542.5,410.5 L541.4,409.6 L540.7,408.6 L541.0,408.1 L542.2,408.2 L543.1,408.5" stroke="#60c040" stroke-width="0.84"/><path d="M549.6,397.1 L548.3,397.5 L547.5,397.8 L547.5,398.0 L548.3,398.2 L549.0,398.5 L548.8,398.9 L547.8,399.2 L546.6,399.6 L546.2,399.8 L546.7,400.0 L547.6,400.3 L547.9,400.6 L547.2,400.9 L545.9,401.3 L545.1,401.6 L545.2,401.8 L546.1,402.0 L546.7,402.3 L546.4,402.7 L545.3,403.0 L544.2,403.3 L543.9,403.6 L544.5,403.8 L545.3,404.1" stroke="#60c040" stroke-width="0.84"/><path d="M539.1,415.9 L539.1,417.3 L538.9,417.5 L538.8,416.3 L539.4,414.7 L540.3,414.2 L541.1,415.2 L541.4,416.8 L541.2,417.7 L541.0,417.1 L541.3,415.5 L542.1,414.3 L543.0,414.6 L543.6,416.1 L543.6,417.5 L543.3,417.6 L543.3,416.4 L543.9,414.8 L544.8,414.4 L545.6,415.4 L545.9,417.0 L545.7,417.9 L545.5,417.2 L545.7,415.6 L546.6,414.5 L547.5,414.8" stroke="#d0c020" stroke-width="0.84"/><path d="M542.6,412.6 L542.1,414.1 L541.7,414.4 L542.0,413.6 L542.9,412.3 L544.0,411.9 L544.5,412.9 L544.3,414.5 L543.8,415.6 L543.6,415.4 L544.2,414.2 L545.3,413.2 L546.2,413.4 L546.4,414.7 L546.0,416.3 L545.5,416.8 L545.7,416.1 L546.6,414.8 L547.6,414.3 L548.3,415.1 L548.1,416.7" stroke="#40b0c0" stroke-width="0.84"/></g>
<ellipse cx="549" cy="395.7" rx="11.5" ry="5.0" fill="url(#hl)"/>
<circle cx="716" cy="390.3" r="20.2" fill="#3d3d3d" fill-opacity=".92" filter="url(#sh)"/>
<circle cx="716" cy="387.6" r="19.8" fill="url(#g_khaki)"/>
<circle cx="716" cy="387.6" r="19.8" fill="url(#r_khaki)"/>
<g fill="none" stroke-linecap="round" stroke-linejoin="round" opacity=".85"><path d="M710.3,382.2 L709.1,382.7 L708.2,383.0 L708.3,383.2 L709.1,383.3 L709.9,383.6 L709.8,383.9 L708.9,384.4 L707.7,384.8 L707.1,385.1 L707.5,385.2 L708.4,385.4 L709.0,385.7 L708.5,386.1 L707.4,386.5 L706.4,386.9 L706.2,387.1 L706.8,387.3 L707.7,387.5 L707.9,387.8 L707.2,388.2 L706.0,388.7" stroke="#e05020" stroke-width="0.84"/><path d="M723.4,398.7 L722.9,398.3 L722.0,398.2 L721.1,398.4 L720.8,398.7 L720.9,398.8 L721.2,398.5 L721.1,398.0 L720.3,397.8 L719.4,397.8 L718.7,398.1 L718.6,398.3 L718.9,398.2 L719.0,397.8 L718.6,397.4 L717.7,397.3 L716.8,397.5 L716.4,397.8 L716.6,397.9 L716.8,397.6 L716.7,397.1 L716.0,396.9 L715.0,396.9 L714.3,397.2" stroke="#e05020" stroke-width="0.84"/><path d="M724.3,380.9 L723.1,381.0 L722.2,381.3 L722.1,381.6 L722.7,381.9 L723.3,382.2 L723.1,382.4 L722.2,382.5 L721.0,382.7 L720.5,383.0 L720.8,383.3 L721.5,383.7 L721.8,383.9 L721.2,384.0 L720.0,384.2 L719.1,384.4 L719.0,384.7 L719.6,385.1 L720.2,385.4 L720.0,385.6 L719.1,385.7 L718.0,385.9 L717.4,386.2" stroke="#e05020" stroke-width="0.84"/><path d="M712.0,399.2 L712.7,399.7 L712.3,399.4 L711.2,398.4 L710.6,397.2 L711.0,396.6 L712.2,396.9 L713.2,397.4 L713.2,397.5 L712.2,396.6 L711.3,395.4 L711.3,394.6 L712.4,394.6 L713.6,395.1 L713.9,395.4 L713.2,394.9 L712.1,393.7 L711.8,392.6" stroke="#e05020" stroke-width="0.84"/><path d="M714.3,382.5 L714.9,383.4 L714.7,383.3 L713.9,382.1 L713.5,380.6 L714.0,379.9 L715.1,380.2 L716.1,381.2 L716.4,381.8 L715.8,381.3 L715.2,379.8 L715.1,378.5 L715.8,378.2 L717.0,378.9 L717.8,379.9 L717.7,380.1 L717.0,379.1 L716.5,377.6 L716.7,376.6 L717.8,376.7 L718.9,377.7 L719.3,378.4" stroke="#e05020" stroke-width="0.84"/><path d="M712.1,392.1 L712.3,391.8 L711.5,391.5 L710.3,391.3 L709.5,391.0 L709.7,390.7 L710.5,390.4 L711.0,390.1 L710.5,389.9 L709.3,389.6 L708.3,389.3 L708.2,389.1 L708.9,388.8 L709.6,388.5 L709.4,388.2 L708.3,387.9 L707.1,387.7" stroke="#e05020" stroke-width="0.84"/><path d="M725.9,379.2 L724.7,379.6 L723.8,379.9 L723.9,380.1 L724.7,380.3 L725.5,380.5 L725.4,380.9 L724.4,381.3 L723.2,381.7 L722.7,382.0 L723.1,382.1 L724.0,382.3 L724.5,382.6 L724.0,383.0 L722.8,383.4 L721.8,383.8 L721.7,384.0 L722.4,384.2 L723.2,384.4 L723.4,384.7 L722.5,385.1 L721.3,385.5 L720.6,385.8 L720.8,386.0 L721.7,386.2" stroke="#e05020" stroke-width="0.84"/><path d="M727.5,389.6 L728.1,389.8 L727.6,389.6 L726.5,388.8 L725.6,387.9 L725.7,387.3 L726.8,387.2 L727.8,387.5 L728.0,387.6 L727.3,387.1 L726.1,386.2 L725.6,385.3 L726.1,385.0 L727.2,385.1 L728.0,385.3 L727.9,385.2 L726.8,384.6 L725.8,383.6 L725.7,382.9" stroke="#e05020" stroke-width="0.84"/><path d="M723.9,385.4 L723.7,386.8 L723.4,387.1 L723.5,386.1 L724.2,384.6 L725.2,384.1 L725.9,385.0 L726.0,386.7 L725.7,387.7 L725.6,387.3 L725.9,385.9 L726.8,384.7 L727.8,384.9 L728.2,386.3 L728.1,387.9 L727.7,388.3" stroke="#e05020" stroke-width="0.84"/><path d="M705.7,395.7 L706.3,396.0 L705.9,395.7 L704.8,394.9 L703.9,393.9 L704.1,393.3 L705.1,393.3 L706.2,393.6 L706.4,393.7 L705.6,393.2 L704.4,392.3 L704.0,391.4 L704.5,391.0 L705.7,391.2 L706.5,391.5 L706.3,391.4 L705.2,390.7 L704.3,389.7 L704.2,389.0 L705.1,388.8 L706.2,389.1 L706.7,389.3 L706.0,388.9 L704.9,388.0 L704.2,387.1 L704.6,386.6 L705.7,386.7" stroke="#e05020" stroke-width="0.84"/><path d="M719.5,384.3 L720.1,384.5 L719.7,384.2 L718.5,383.4 L717.7,382.5 L717.9,381.9 L718.9,381.9 L719.9,382.2 L720.0,382.2 L719.1,381.6 L718.0,380.7 L717.6,379.9 L718.3,379.6 L719.5,379.8 L720.1,380.0 L719.6,379.8" stroke="#e05020" stroke-width="0.84"/><path d="M726.4,382.6 L725.5,382.3 L724.6,382.4 L724.0,382.7 L724.1,383.2 L724.4,383.4 L724.4,383.2 L723.8,382.9 L722.8,382.8 L722.0,383.0 L721.8,383.5 L722.1,383.8 L722.3,383.8 L722.0,383.6 L721.1,383.3 L720.2,383.4 L719.7,383.8 L719.8,384.2 L720.1,384.4 L720.0,384.2 L719.4,383.9 L718.4,383.8" stroke="#e05020" stroke-width="0.84"/><path d="M719.9,377.3 L718.7,378.0 L717.9,378.3 L718.1,378.4 L719.2,378.3 L720.0,378.6 L719.8,379.1 L718.8,379.8 L717.6,380.4 L717.4,380.6 L718.2,380.5 L719.2,380.6 L719.6,381.0 L718.8,381.7 L717.6,382.3 L716.9,382.7 L717.2,382.7 L718.3,382.7 L719.1,382.9 L718.8,383.5 L717.7,384.2 L716.6,384.7 L716.4,384.9 L717.3,384.8 L718.3,384.9" stroke="#e05020" stroke-width="0.84"/><path d="M720.1,394.3 L720.7,394.5 L720.2,394.3 L719.1,393.4 L718.3,392.5 L718.4,391.9 L719.5,391.9 L720.5,392.2 L720.7,392.3 L719.9,391.7 L718.8,390.8 L718.3,389.9 L718.9,389.6 L720.1,389.8 L720.9,390.1 L720.6,389.9" stroke="#e05020" stroke-width="0.84"/><path d="M723.9,382.0 L724.9,383.1 L725.8,384.2 L726.9,385.3 L728.0,386.3 L729.1,387.4 L727.6,386.9 L726.2,386.6 L724.8,385.9 L723.3,385.9 L722.1,385.1 L720.8,384.3 L719.3,384.0 L717.8,384.2 L716.5,384.8" stroke="#c04020" stroke-width="0.59"/><path d="M711.9,381.2 L712.7,380.0 L714.0,379.3 L715.4,378.8 L716.6,377.8 L718.0,377.4 L719.5,377.3 L721.0,377.3 L722.5,377.8 L723.8,378.4" stroke="#c04020" stroke-width="0.59"/><path d="M707.2,388.4 L707.8,387.0 L708.6,385.7 L709.5,384.5 L709.9,383.1 L710.3,381.7 L710.7,380.2 L711.7,379.1 L713.1,378.6 L714.3,377.7 L714.9,376.3 L714.5,377.8 L714.4,379.2" stroke="#c04020" stroke-width="0.59"/></g>
<ellipse cx="716" cy="374.7" rx="11.5" ry="5.0" fill="url(#hl)"/>
<circle cx="867" cy="390.3" r="20.2" fill="#3d3d3d" fill-opacity=".92" filter="url(#sh)"/>
<circle cx="867" cy="387.6" r="19.8" fill="url(#g_teal)"/>
<circle cx="867" cy="387.6" r="19.8" fill="url(#r_teal)"/>
<g fill="none" stroke-linecap="round" stroke-linejoin="round" opacity=".85"><path d="M864.1,401.0 L870.4,392.0" stroke="#8a3a2a" stroke-width="1.48"/><path d="M868.4,404.0 L868.4,395.1" stroke="#8a3a2a" stroke-width="1.48"/><path d="M856.9,385.5 L863.2,375.9" stroke="#8a3a2a" stroke-width="1.48"/><path d="M876.7,392.9 L876.9,384.4" stroke="#8a3a2a" stroke-width="1.48"/><path d="M873.0,393.1 L872.0,393.1 L871.0,393.3 L870.8,393.7 L871.2,394.1 L871.7,394.3 L871.7,394.4 L870.9,394.4 L869.8,394.5 L869.0,394.8 L869.1,395.1 L869.7,395.5 L870.0,395.7 L869.6,395.8 L868.6,395.8 L867.6,395.9 L867.2,396.2 L867.5,396.6 L868.1,397.0 L868.2,397.1 L867.5,397.1 L866.4,397.1 L865.6,397.4 L865.5,397.7 L866.0,398.1 L866.4,398.4 L866.2,398.4" stroke="#a04030" stroke-width="0.84"/><path d="M868.3,385.0 L867.5,384.8 L866.5,384.9 L866.0,385.2 L866.1,385.7 L866.4,385.9 L866.5,385.8 L865.9,385.6 L865.0,385.4 L864.1,385.6 L863.8,386.0 L864.0,386.4 L864.3,386.5 L864.2,386.4 L863.5,386.1 L862.5,386.1 L861.8,386.4 L861.7,386.8 L862.1,387.1 L862.2,387.1 L861.8,386.9 L860.9,386.7 L860.0,386.8" stroke="#a04030" stroke-width="0.84"/><path d="M856.4,396.2 L856.9,397.3 L856.6,397.2 L856.0,395.8 L855.9,394.2 L856.7,393.7 L857.9,394.5 L858.6,395.7 L858.5,396.0 L857.9,394.9 L857.7,393.2 L858.2,392.3 L859.4,392.9 L860.3,394.1 L860.4,394.8 L859.9,394.0" stroke="#a04030" stroke-width="0.84"/><path d="M875.2,386.7 L875.6,386.5 L874.9,386.2 L873.7,385.8 L872.8,385.3 L872.9,384.9 L873.8,384.7 L874.5,384.6 L874.4,384.4 L873.3,384.0 L872.2,383.5 L871.7,383.1 L872.3,382.8 L873.2,382.7 L873.6,382.5 L873.0,382.2 L871.7,381.8 L870.8,381.3 L870.9,381.0 L871.8,380.7 L872.6,380.6 L872.4,380.4 L871.4,380.0 L870.2,379.5 L869.8,379.1 L870.4,378.8" stroke="#a04030" stroke-width="0.84"/><path d="M873.8,393.1 L874.6,391.8 L875.7,390.7 L877.0,390.0 L878.0,388.9 L878.9,387.7 L877.6,388.4 L876.9,389.8 L875.9,390.9 L875.3,392.3" stroke="#705040" stroke-width="0.59"/><path d="M867.7,396.5 L868.9,397.5 L869.9,398.5 L871.0,399.5 L872.5,399.9 L871.8,398.6 L870.6,397.7 L869.3,397.0 L867.9,396.4 L866.5,395.8 L865.1,395.5" stroke="#705040" stroke-width="0.59"/><path d="M864.5,387.7 L864.0,389.1 L863.2,390.4 L862.3,391.6 L860.9,392.1 L859.5,392.6 L858.5,393.7 L857.3,394.6 L856.0,395.3 L857.1,394.3 L858.5,393.9 L859.9,393.4 L861.3,392.7" stroke="#705040" stroke-width="0.59"/></g>
<ellipse cx="867" cy="374.7" rx="11.5" ry="5.0" fill="url(#hl)"/>
<circle cx="976" cy="389.3" r="20.2" fill="#3d3d3d" fill-opacity=".92" filter="url(#sh)"/>
<circle cx="976" cy="386.6" r="19.8" fill="url(#g_khaki)"/>
<circle cx="976" cy="386.6" r="19.8" fill="url(#r_khaki)"/>
<g fill="none" stroke-linecap="round" stroke-linejoin="round" opacity=".85"><path d="M971.7,396.6 L972.4,397.2 L972.1,397.1 L971.1,396.1 L970.5,394.8 L970.8,394.0 L971.8,394.2 L973.0,394.9 L973.3,395.3 L972.7,394.8 L971.8,393.6 L971.4,392.4 L972.0,392.0 L973.2,392.4 L974.1,393.1 L974.1,393.2 L973.3,392.4 L972.5,391.1 L972.4,390.1" stroke="#d0a820" stroke-width="0.84"/><path d="M972.7,398.9 L973.3,399.8 L973.0,399.7 L972.3,398.5 L971.9,396.9 L972.5,396.2 L973.6,396.7 L974.6,397.7 L974.8,398.3 L974.2,397.6 L973.5,396.1 L973.6,394.8 L974.5,394.7 L975.7,395.6 L976.3,396.5 L976.1,396.5 L975.4,395.3 L975.0,393.8 L975.5,393.0 L976.6,393.4 L977.6,394.5 L977.8,395.0 L977.3,394.4 L976.6,392.9 L976.6,391.6 L977.5,391.5 L978.7,392.3" stroke="#d0a820" stroke-width="0.84"/><path d="M978.1,388.0 L978.0,389.4 L977.7,389.7 L977.8,388.5 L978.4,387.0 L979.4,386.5 L980.1,387.4 L980.3,389.1 L980.1,390.1 L979.9,389.6 L980.2,388.1 L981.0,386.9 L982.0,387.1 L982.5,388.5 L982.4,390.0 L982.2,390.4 L982.2,389.3 L982.8,387.8 L983.7,387.2 L984.5,388.0" stroke="#d0a820" stroke-width="0.84"/><path d="M978.9,389.0 L977.6,389.6 L976.8,390.0 L977.0,390.1 L978.0,390.1 L978.8,390.3 L978.7,390.8 L977.6,391.5 L976.5,392.0 L976.1,392.2 L976.8,392.2 L977.9,392.3 L978.3,392.7 L977.6,393.3 L976.4,393.9 L975.5,394.3 L975.7,394.4 L976.7,394.4 L977.5,394.6 L977.4,395.1 L976.4,395.7 L975.2,396.2 L974.8,396.5 L975.5,396.5 L976.5,396.6" stroke="#d0a820" stroke-width="0.84"/><path d="M976.1,382.8 L974.9,383.0 L974.0,383.2 L973.9,383.5 L974.5,383.9 L975.0,384.2 L974.8,384.3 L973.8,384.4 L972.7,384.6 L972.2,384.9 L972.5,385.3 L973.2,385.6 L973.4,385.8 L972.7,385.9 L971.5,386.0 L970.6,386.3 L970.7,386.6 L971.3,387.0" stroke="#d0a820" stroke-width="0.84"/><path d="M968.4,388.6 L969.1,389.2 L968.7,389.0 L967.7,387.9 L967.1,386.6 L967.6,386.0 L968.8,386.3 L969.8,387.0 L969.9,387.2 L969.1,386.4 L968.2,385.1 L968.2,384.1 L969.1,384.0 L970.3,384.6 L970.9,385.2 L970.4,384.9 L969.4,383.7 L968.9,382.4 L969.5,381.9" stroke="#d0a820" stroke-width="0.84"/><path d="M981.5,382.0 L980.7,383.4 L980.2,383.8 L980.7,383.1 L981.8,382.2 L982.9,382.1 L983.1,383.1 L982.4,384.6 L981.7,385.5 L981.7,385.3 L982.6,384.3 L983.8,383.7 L984.5,384.3 L984.1,385.7 L983.3,387.0 L982.9,387.3" stroke="#d0a820" stroke-width="0.84"/><path d="M974.5,388.4 L974.6,388.1 L973.8,387.8 L972.6,387.7 L971.9,387.7 L972.0,387.5 L972.6,387.2 L973.0,386.8 L972.6,386.5 L971.5,386.3 L970.5,386.3 L970.1,386.2 L970.5,385.9 L971.1,385.6 L971.2,385.2 L970.4,385.0" stroke="#d0a820" stroke-width="0.84"/><path d="M976.1,388.1 L976.5,388.0 L975.9,387.7 L974.7,387.2 L973.8,386.6 L973.9,386.2 L974.8,386.0 L975.7,386.0 L975.6,385.8 L974.6,385.4 L973.4,384.8 L973.0,384.3 L973.5,384.0 L974.5,383.9 L975.0,383.8 L974.5,383.6 L973.3,383.1 L972.3,382.5 L972.3,382.1 L973.2,381.9 L974.1,381.8 L974.1,381.7 L973.2,381.3 L972.0,380.7 L971.4,380.2 L971.9,379.9" stroke="#d0a820" stroke-width="0.84"/><path d="M969.9,387.8 L970.0,387.4 L969.2,387.2 L968.1,387.0 L967.3,386.9 L967.4,386.7 L968.0,386.4 L968.5,386.0 L968.1,385.7 L967.1,385.5 L966.0,385.4 L965.6,385.2 L966.1,385.0 L966.7,384.6 L966.9,384.3 L966.1,384.1 L964.9,383.9 L964.1,383.8 L964.2,383.6 L964.9,383.3" stroke="#d0a820" stroke-width="0.84"/><path d="M979.7,382.2 L978.6,382.4 L977.6,382.6 L977.5,382.9 L978.2,383.2 L978.8,383.5 L978.7,383.7 L977.8,383.9 L976.7,384.2 L976.0,384.4 L976.3,384.7 L977.0,385.0 L977.4,385.3 L977.0,385.5 L975.9,385.7 L974.8,385.9 L974.6,386.2 L975.1,386.5 L975.8,386.8 L975.9,387.0 L975.1,387.2 L973.9,387.4 L973.1,387.7 L973.2,388.0 L973.9,388.3" stroke="#d0a820" stroke-width="0.84"/><path d="M968.7,398.5 L969.4,398.9 L969.0,398.7 L968.0,397.8 L967.3,396.6 L967.4,395.9 L968.5,396.0 L969.6,396.5 L969.9,396.8 L969.3,396.3 L968.3,395.2 L967.8,394.2 L968.3,393.7 L969.5,394.0 L970.4,394.5 L970.4,394.6 L969.5,393.8 L968.6,392.7 L968.4,391.8" stroke="#d0a820" stroke-width="0.84"/><path d="M978.0,386.2 L978.6,386.2 L978.0,385.9 L976.7,385.2 L975.9,384.5 L976.1,384.0 L977.2,383.9 L978.1,384.0 L978.0,383.9 L976.9,383.3 L975.7,382.6 L975.5,381.9 L976.3,381.7 L977.4,381.8 L977.8,381.8 L977.0,381.4 L975.8,380.7 L975.1,380.0 L975.5,379.6 L976.6,379.6 L977.4,379.6 L977.0,379.4 L975.9,378.8 L974.8,378.0" stroke="#d0a820" stroke-width="0.84"/><path d="M981.4,387.3 L981.6,388.7 L981.3,388.8 L981.2,387.5 L981.6,385.9 L982.5,385.4 L983.4,386.5 L983.8,388.1 L983.6,388.7 L983.4,387.8 L983.6,386.1 L984.4,385.1 L985.4,385.7 L986.0,387.3 L985.9,388.4 L985.6,388.0 L985.7,386.4 L986.3,385.1 L987.3,385.1 L988.0,386.5" stroke="#d0a820" stroke-width="0.84"/><path d="M975.8,385.8 L976.4,386.8 L976.1,386.8 L975.5,385.5 L975.2,384.0 L975.8,383.2 L976.9,383.8 L977.8,384.9 L978.0,385.4 L977.5,384.8 L976.9,383.2 L977.0,382.0 L977.9,381.9 L979.1,382.8 L979.7,383.8 L979.4,383.8 L978.8,382.6 L978.5,381.0 L979.0,380.3 L980.1,380.7 L981.1,381.8" stroke="#d0a820" stroke-width="0.84"/><path d="M978.5,386.0 L979.1,386.4 L978.6,386.1 L977.5,385.1 L976.8,384.0 L977.3,383.5 L978.5,383.7 L979.4,384.1 L979.3,384.0 L978.2,383.2 L977.3,382.1 L977.4,381.3 L978.5,381.4 L979.6,381.8 L979.8,382.0 L978.9,381.3" stroke="#d0a820" stroke-width="0.84"/></g>
<ellipse cx="976" cy="373.7" rx="11.5" ry="5.0" fill="url(#hl)"/>
<circle cx="1094" cy="390.3" r="20.2" fill="#3d3d3d" fill-opacity=".92" filter="url(#sh)"/>
<circle cx="1094" cy="387.6" r="19.8" fill="url(#g_green)"/>
<circle cx="1094" cy="387.6" r="19.8" fill="url(#r_green)"/>
<g fill="none" stroke-linecap="round" stroke-linejoin="round" opacity=".85"><path d="M1099.6,394.8 L1100.1,395.9 L1099.8,395.9 L1099.3,394.6 L1099.3,393.0 L1099.9,392.3 L1101.0,393.0 L1101.8,394.3 L1101.9,395.0 L1101.5,394.3 L1101.1,392.7 L1101.4,391.4 L1102.4,391.4 L1103.4,392.5 L1103.9,393.6 L1103.7,393.7 L1103.2,392.4 L1103.1,390.8 L1103.7,390.1 L1104.8,390.7" stroke="#509a30" stroke-width="0.84"/><path d="M1090.5,398.3 L1091.0,398.2 L1090.4,397.9 L1089.2,397.4 L1088.3,396.7 L1088.4,396.3 L1089.3,396.1 L1090.2,396.1 L1090.2,396.0 L1089.3,395.6 L1088.1,395.0 L1087.6,394.4 L1088.1,394.1 L1089.1,394.0 L1089.7,394.0 L1089.2,393.7 L1088.1,393.2 L1087.1,392.5 L1087.1,392.1 L1087.9,391.9 L1088.9,391.9 L1089.0,391.8 L1088.1,391.4 L1086.9,390.8 L1086.3,390.2 L1086.7,389.8" stroke="#509a30" stroke-width="0.84"/><path d="M1083.9,396.1 L1084.1,397.4 L1083.9,397.6 L1083.6,396.3 L1083.9,394.7 L1084.7,394.0 L1085.7,394.9 L1086.2,396.4 L1086.2,397.2 L1085.9,396.6 L1085.9,394.9 L1086.4,393.7 L1087.4,393.8 L1088.2,395.2 L1088.5,396.5 L1088.2,396.6 L1088.0,395.3 L1088.3,393.7 L1089.1,393.1 L1090.0,393.9 L1090.6,395.4 L1090.5,396.2 L1090.2,395.6 L1090.2,394.0 L1090.8,392.7 L1091.8,392.8" stroke="#509a30" stroke-width="0.84"/><path d="M1095.9,392.7 L1095.8,392.3 L1095.0,392.1 L1093.9,392.2 L1093.3,392.3 L1093.3,392.2 L1093.8,391.9 L1094.0,391.5 L1093.5,391.1 L1092.5,391.1 L1091.6,391.2 L1091.3,391.2 L1091.6,391.0 L1092.0,390.6 L1091.9,390.2 L1091.2,390.0 L1090.1,390.0 L1089.4,390.1 L1089.4,390.1 L1089.9,389.8 L1090.1,389.4 L1089.7,389.0 L1088.7,388.9" stroke="#509a30" stroke-width="0.84"/><path d="M1089.8,393.2 L1089.1,394.5 L1087.8,395.3 L1086.3,395.4 L1084.9,395.9 L1083.4,395.8 L1084.8,395.3 L1086.0,394.3 L1087.3,393.5" stroke="#30a060" stroke-width="0.59"/><path d="M1090.6,380.2 L1091.9,379.3 L1093.3,378.8 L1094.8,378.9 L1096.2,378.7 L1097.7,378.9 L1098.9,379.8 L1099.4,381.2 L1099.6,382.7 L1099.2,384.2 L1099.6,385.7" stroke="#304080" stroke-width="0.59"/><path d="M1099.8,385.6 L1098.6,385.8 L1097.7,386.1 L1097.7,386.4 L1098.4,386.7 L1099.0,386.9 L1098.9,387.2 L1097.9,387.4 L1096.7,387.7 L1096.2,388.0 L1096.6,388.3 L1097.4,388.5 L1097.7,388.8 L1097.1,389.1 L1095.9,389.3 L1095.0,389.6 L1094.9,389.9 L1095.6,390.2 L1096.3,390.4 L1096.2,390.7" stroke="#b08020" stroke-width="0.84"/></g>
<ellipse cx="1094" cy="374.7" rx="11.5" ry="5.0" fill="url(#hl)"/>
<circle cx="296" cy="432.8" r="20.2" fill="#3d3d3d" fill-opacity=".92" filter="url(#sh)"/>
<circle cx="296" cy="430.1" r="19.8" fill="url(#g_peri)"/>
<circle cx="296" cy="430.1" r="19.8" fill="url(#r_peri)"/>
<g fill="none" stroke-linecap="round" stroke-linejoin="round" opacity=".85"><path d="M303.2,428.5 L302.0,429.3 L301.2,429.7 L301.5,429.7 L302.6,429.6 L303.5,429.8 L303.3,430.4 L302.2,431.2 L301.1,431.7 L300.9,431.9 L301.7,431.8 L302.8,431.8 L303.2,432.2 L302.5,433.0 L301.2,433.7 L300.5,434.1 L300.9,434.1 L302.0,434.0 L302.8,434.2 L302.6,434.8 L301.5,435.6 L300.4,436.2 L300.3,436.3 L301.1,436.2 L302.2,436.2 L302.5,436.7" stroke="#30b0c0" stroke-width="0.84"/><path d="M300.9,422.0 L300.4,423.4 L300.0,423.8 L300.3,423.0 L301.2,421.8 L302.3,421.4 L302.8,422.2 L302.6,423.8 L302.1,425.0 L301.8,424.9 L302.4,423.9 L303.4,422.8 L304.4,422.8 L304.6,424.0 L304.3,425.6 L303.7,426.4 L303.8,425.9 L304.5,424.7 L305.6,423.9 L306.4,424.3 L306.4,425.8 L305.9,427.2 L305.5,427.6" stroke="#30b0c0" stroke-width="0.84"/><path d="M292.3,420.7 L292.0,422.2 L291.7,422.5 L291.9,421.4 L292.7,420.0 L293.7,419.5 L294.3,420.6 L294.3,422.2 L293.9,423.2 L293.8,422.7 L294.3,421.3 L295.3,420.3 L296.2,420.6 L296.5,422.1 L296.2,423.6 L295.9,423.9 L296.1,422.8 L296.9,421.4 L297.9,421.0 L298.5,422.0 L298.5,423.7 L298.1,424.7 L298.0,424.1 L298.6,422.7 L299.6,421.7 L300.4,422.1" stroke="#30b0c0" stroke-width="0.84"/><path d="M298.7,434.2 L298.9,435.5 L298.7,435.6 L298.4,434.4 L298.7,432.8 L299.5,432.1 L300.5,432.9 L301.0,434.4 L301.0,435.3 L300.7,434.7 L300.7,433.1 L301.2,431.8 L302.2,431.9 L303.0,433.2 L303.3,434.5 L303.0,434.7 L302.8,433.4 L303.0,431.8 L303.8,431.1 L304.8,431.9 L305.4,433.4 L305.3,434.3 L305.0,433.7 L305.0,432.1" stroke="#30b0c0" stroke-width="0.84"/><path d="M286.9,441.1 L287.6,441.5 L287.2,441.3 L286.2,440.4 L285.4,439.3 L285.6,438.6 L286.7,438.7 L287.8,439.2 L288.1,439.4 L287.4,438.9 L286.3,437.8 L285.9,436.8 L286.5,436.4 L287.7,436.7 L288.5,437.2 L288.4,437.1 L287.5,436.4 L286.5,435.2 L286.5,434.4 L287.4,434.3 L288.6,434.7 L289.1,435.1" stroke="#30b0c0" stroke-width="0.84"/><path d="M302.9,424.1 L302.0,423.9 L301.0,423.9 L300.5,424.3 L300.7,424.8 L301.1,425.0 L301.0,424.9 L300.2,424.6 L299.2,424.6 L298.5,424.9 L298.5,425.4 L298.9,425.7 L299.0,425.7 L298.4,425.5 L297.4,425.3 L296.6,425.6 L296.4,426.0 L296.7,426.4" stroke="#30b0c0" stroke-width="0.84"/><path d="M300.5,426.8 L299.3,427.2 L298.4,427.5 L298.5,427.7 L299.3,427.9 L299.9,428.2 L299.7,428.5 L298.7,428.9 L297.5,429.2 L297.1,429.5 L297.7,429.7 L298.5,430.0 L298.8,430.3 L298.0,430.6 L296.8,431.0 L296.0,431.2 L296.1,431.5" stroke="#3060d0" stroke-width="0.84"/><path d="M295.9,434.8 L294.6,435.4 L293.8,435.8 L294.0,435.9 L294.9,435.9 L295.8,436.1 L295.8,436.6 L294.8,437.2 L293.6,437.7 L293.1,438.0 L293.6,438.0 L294.7,438.1 L295.3,438.4 L294.9,438.9 L293.7,439.5 L292.7,440.0 L292.6,440.2 L293.4,440.2 L294.3,440.3 L294.6,440.7 L293.9,441.3 L292.7,441.9 L291.9,442.2 L292.1,442.3 L293.1,442.3 L293.9,442.5 L293.8,443.0" stroke="#3060d0" stroke-width="0.84"/><path d="M300.0,440.6 L300.5,440.5 L299.9,440.3 L298.7,439.7 L297.8,439.0 L297.9,438.6 L298.8,438.4 L299.7,438.4 L299.8,438.3 L298.9,437.9 L297.7,437.3 L297.1,436.7 L297.6,436.3 L298.7,436.3 L299.3,436.3 L298.9,436.0 L297.7,435.5 L296.7,434.8 L296.6,434.3 L297.5,434.1 L298.4,434.1 L298.7,434.1 L297.8,433.7 L296.6,433.1" stroke="#3060d0" stroke-width="0.84"/><path d="M290.1,439.9 L290.5,439.8 L289.9,439.5 L288.7,439.0 L287.8,438.4 L287.9,438.0 L288.8,437.9 L289.6,437.8 L289.6,437.6 L288.6,437.2 L287.4,436.6 L286.9,436.1 L287.5,435.8 L288.5,435.7 L289.0,435.7 L288.4,435.4 L287.2,434.9 L286.3,434.3 L286.3,433.9 L287.2,433.7 L288.1,433.6 L288.1,433.5 L287.1,433.1 L285.9,432.5" stroke="#50c060" stroke-width="0.84"/><path d="M297.7,432.8 L297.5,434.3 L297.2,434.6 L297.4,433.5 L298.2,432.1 L299.2,431.7 L299.8,432.8 L299.7,434.5 L299.4,435.4 L299.3,434.8 L299.9,433.3 L300.9,432.4 L301.7,432.9 L301.9,434.5 L301.6,435.9 L301.4,435.9 L301.7,434.6 L302.6,433.3 L303.5,433.2 L304.0,434.5 L303.9,436.2 L303.5,436.8 L303.6,435.9" stroke="#50c060" stroke-width="0.84"/><path d="M283.6,431.6 L283.9,432.8 L283.7,433.0 L283.4,431.8 L283.4,430.1 L284.2,429.4 L285.2,430.0 L285.9,431.4 L286.0,432.3 L285.6,431.9 L285.4,430.4 L285.7,429.0 L286.6,428.7 L287.6,429.7 L288.1,431.1 L288.0,431.6 L287.6,430.7 L287.6,429.0 L288.1,427.9 L289.1,428.2 L289.9,429.5 L290.2,430.7 L289.9,430.7 L289.6,429.3 L289.8,427.8 L290.5,427.1" stroke="#50c060" stroke-width="0.84"/></g>
<ellipse cx="296" cy="417.2" rx="11.5" ry="5.0" fill="url(#hl)"/>
<circle cx="590" cy="466.3" r="10.3" fill="#3d3d3d" fill-opacity=".92" filter="url(#sh)"/>
<circle cx="590" cy="463.6" r="9.9" fill="url(#g_sky)"/>
<circle cx="590" cy="463.6" r="9.9" fill="url(#r_sky)"/>
<ellipse cx="590" cy="457.2" rx="5.7" ry="2.5" fill="url(#hl)"/>
<circle cx="681" cy="453.3" r="10.3" fill="#3d3d3d" fill-opacity=".92" filter="url(#sh)"/>
<circle cx="681" cy="450.6" r="9.9" fill="url(#g_cyan)"/>
<circle cx="681" cy="450.6" r="9.9" fill="url(#r_cyan)"/>
<ellipse cx="681" cy="444.2" rx="5.7" ry="2.5" fill="url(#hl)"/>
<circle cx="876" cy="474.3" r="20.2" fill="#3d3d3d" fill-opacity=".92" filter="url(#sh)"/>
<circle cx="876" cy="471.6" r="19.8" fill="url(#g_tank)"/>
<circle cx="876" cy="471.6" r="19.8" fill="url(#r_tank)"/>
<g fill="none" stroke-linecap="round" stroke-linejoin="round" opacity=".85"><path d="M876.0,479.2 L876.6,480.0 L876.3,479.9 L875.6,478.8 L875.1,477.3 L875.5,476.5 L876.6,476.9 L877.7,477.8 L878.0,478.3 L877.4,477.8 L876.7,476.4 L876.5,475.1 L877.2,474.8 L878.4,475.4 L879.3,476.3 L879.2,476.5 L878.5,475.6 L877.8,474.1 L878.0,473.1 L879.0,473.2 L880.2,474.0 L880.7,474.8 L880.3,474.5 L879.5,473.3" stroke="#c060c0" stroke-width="0.84"/><path d="M868.3,473.6 L868.8,473.5 L868.2,473.2 L867.0,472.7 L866.0,472.1 L866.1,471.7 L867.0,471.5 L867.9,471.5 L867.9,471.3 L866.9,470.9 L865.7,470.4 L865.2,469.8 L865.7,469.5 L866.8,469.4 L867.3,469.3 L866.8,469.1 L865.6,468.6 L864.6,468.0 L864.6,467.5" stroke="#c060c0" stroke-width="0.84"/><path d="M866.2,467.7 L866.2,469.1 L865.9,469.3 L865.9,468.1 L866.6,466.6 L867.5,466.2 L868.3,467.3 L868.4,468.9 L868.2,469.7 L868.0,468.9 L868.5,467.3 L869.4,466.4 L870.3,467.0 L870.7,468.6 L870.5,469.9 L870.3,469.6 L870.5,468.1 L871.2,466.8 L872.2,466.8 L872.8,468.2 L872.8,469.8" stroke="#c060c0" stroke-width="0.84"/><path d="M878.4,476.4 L878.9,477.5 L878.7,477.6 L878.1,476.3 L878.0,474.7 L878.6,474.0 L879.7,474.5 L880.5,475.7 L880.7,476.5 L880.3,476.0 L879.9,474.5 L880.0,473.1 L880.9,472.8 L881.9,473.8 L882.6,475.0 L882.5,475.2 L882.0,474.2 L881.7,472.6 L882.1,471.6" stroke="#c060c0" stroke-width="0.84"/><path d="M873.1,471.7 L874.5,472.2 L875.6,473.2 L876.6,474.3 L877.7,475.3 L879.0,476.1 L880.3,477.0 L881.5,477.8 L882.8,478.5 L884.3,478.6 L885.8,478.9 L887.3,478.7 L886.0,477.8 L885.1,476.7 L883.9,475.8" stroke="#a08070" stroke-width="0.59"/><path d="M869.7,473.7 L869.6,472.2 L869.6,470.7 L869.9,469.3 L869.9,467.8 L870.1,466.3 L869.5,464.9 L868.4,463.9" stroke="#a08070" stroke-width="0.59"/><path d="M882.3,468.9 L882.1,467.5 L882.3,466.0 L882.8,464.5 L883.7,463.3 L883.0,464.7 L881.7,465.4 L880.2,465.4" stroke="#a08070" stroke-width="0.59"/></g>
<ellipse cx="876" cy="458.7" rx="11.5" ry="5.0" fill="url(#hl)"/>
<circle cx="1010" cy="474.3" r="20.2" fill="#3d3d3d" fill-opacity=".92" filter="url(#sh)"/>
<circle cx="1010" cy="471.6" r="19.8" fill="url(#g_tan)"/>
<circle cx="1010" cy="471.6" r="19.8" fill="url(#r_tan)"/>
<g fill="none" stroke-linecap="round" stroke-linejoin="round" opacity=".85"><path d="M1012.3,469.2 L1012.7,469.0 L1012.0,468.7 L1010.8,468.3 L1009.9,467.9 L1009.9,467.6 L1010.7,467.3 L1011.5,467.2 L1011.5,466.9 L1010.5,466.6 L1009.3,466.2 L1008.7,465.8 L1009.1,465.5 L1010.0,465.3 L1010.5,465.1 L1010.1,464.9 L1009.0,464.5 L1007.9,464.1 L1007.7,463.7 L1008.3,463.5" stroke="#d03020" stroke-width="0.84"/><path d="M1012.5,464.9 L1011.5,464.9 L1010.5,465.0 L1010.2,465.4 L1010.6,465.8 L1011.0,466.1 L1010.9,466.1 L1010.0,466.0 L1008.9,466.0 L1008.3,466.3 L1008.4,466.7 L1008.9,467.1 L1009.1,467.2 L1008.5,467.1 L1007.4,467.0 L1006.5,467.2 L1006.4,467.6 L1006.8,468.1 L1007.2,468.3" stroke="#e08020" stroke-width="0.84"/><path d="M1017.6,475.4 L1017.0,475.0 L1016.0,475.0 L1015.3,475.3 L1015.1,475.7 L1015.3,475.8 L1015.5,475.6 L1015.2,475.2 L1014.4,475.0 L1013.5,475.1 L1012.9,475.5 L1012.9,475.8 L1013.2,475.8 L1013.2,475.5 L1012.7,475.1 L1011.7,475.0 L1010.9,475.2 L1010.6,475.6" stroke="#40b040" stroke-width="0.84"/><path d="M1021.0,474.5 L1019.8,474.8 L1018.9,475.1 L1018.9,475.4 L1019.6,475.6 L1020.2,475.9 L1020.1,476.2 L1019.2,476.4 L1018.0,476.7 L1017.4,477.0 L1017.8,477.2 L1018.6,477.5 L1019.0,477.8 L1018.4,478.1 L1017.3,478.3 L1016.3,478.6 L1016.1,478.9 L1016.8,479.1 L1017.5,479.4 L1017.5,479.7 L1016.6,479.9 L1015.4,480.2 L1014.8,480.5 L1015.0,480.7 L1015.8,481.0 L1016.3,481.3 L1015.9,481.6" stroke="#40b040" stroke-width="0.84"/><path d="M1023.3,479.4 L1023.4,479.1 L1022.6,478.8 L1021.4,478.7 L1020.7,478.6 L1020.8,478.4 L1021.5,478.1 L1021.9,477.7 L1021.4,477.4 L1020.3,477.2 L1019.3,477.1 L1019.1,476.9 L1019.6,476.6 L1020.2,476.3 L1020.1,476.0 L1019.2,475.7 L1018.0,475.6 L1017.4,475.5 L1017.7,475.2 L1018.4,474.9 L1018.7,474.5 L1018.0,474.3 L1016.8,474.1 L1016.0,474.0" stroke="#40b040" stroke-width="0.84"/><path d="M1009.6,465.8 L1009.0,465.4 L1008.1,465.3 L1007.3,465.6 L1007.0,465.9 L1007.1,466.0 L1007.4,465.8 L1007.2,465.4 L1006.5,465.1 L1005.5,465.1 L1004.9,465.5 L1004.8,465.8 L1005.1,465.7 L1005.2,465.3 L1004.7,464.9 L1003.8,464.8 L1003.0,465.0 L1002.6,465.4 L1002.7,465.5 L1003.0,465.3 L1002.8,464.9 L1002.1,464.6" stroke="#3050c0" stroke-width="0.84"/></g>
<ellipse cx="1010" cy="458.7" rx="11.5" ry="5.0" fill="url(#hl)"/>
<circle cx="1136" cy="453.3" r="20.2" fill="#3d3d3d" fill-opacity=".92" filter="url(#sh)"/>
<circle cx="1136" cy="450.6" r="19.8" fill="url(#g_cyan)"/>
<circle cx="1136" cy="450.6" r="19.8" fill="url(#r_cyan)"/>
<g fill="none" stroke-linecap="round" stroke-linejoin="round" opacity=".85"><path d="M1128.6,448.4 L1127.5,449.5 L1126.8,449.9 L1127.2,449.7 L1128.4,449.2 L1129.4,449.3 L1129.4,450.1 L1128.5,451.2 L1127.5,452.0 L1127.3,452.0 L1128.2,451.6 L1129.4,451.3 L1129.9,451.8 L1129.4,452.8 L1128.3,453.8 L1127.6,454.3 L1128.0,454.0" stroke="#6a60d0" stroke-width="0.84"/><path d="M1130.4,455.6 L1130.5,455.3 L1129.7,455.0 L1128.6,454.9 L1127.8,454.8 L1127.8,454.6 L1128.4,454.3 L1128.9,454.0 L1128.7,453.6 L1127.7,453.4 L1126.6,453.3 L1126.1,453.2 L1126.4,453.0 L1127.1,452.6 L1127.3,452.3 L1126.7,452.0 L1125.6,451.9 L1124.7,451.7 L1124.5,451.6 L1125.1,451.3 L1125.6,451.0 L1125.6,450.6 L1124.7,450.4 L1123.5,450.3" stroke="#6a60d0" stroke-width="0.84"/><path d="M1132.8,449.4 L1131.7,450.4 L1131.0,450.9 L1131.4,450.6 L1132.5,450.2 L1133.5,450.3 L1133.6,451.0 L1132.7,452.0 L1131.7,452.9 L1131.4,453.0 L1132.1,452.7 L1133.3,452.4 L1134.0,452.7 L1133.7,453.6 L1132.6,454.6 L1131.8,455.2 L1131.9,455.1 L1132.9,454.7 L1134.0,454.6 L1134.4,455.2 L1133.6,456.2 L1132.5,457.1 L1132.0,457.4 L1132.6,457.2 L1133.7,456.8" stroke="#6a60d0" stroke-width="0.84"/><path d="M1130.8,459.6 L1131.1,459.4 L1130.5,459.1 L1129.2,458.7 L1128.4,458.2 L1128.5,457.9 L1129.4,457.7 L1130.1,457.5 L1129.9,457.3 L1128.8,456.9 L1127.6,456.4 L1127.3,456.0 L1128.0,455.7 L1128.9,455.6 L1129.1,455.4 L1128.3,455.1 L1127.1,454.6 L1126.3,454.2 L1126.6,453.8 L1127.5,453.7 L1128.2,453.5 L1127.8,453.2 L1126.6,452.9 L1125.5,452.4" stroke="#6a60d0" stroke-width="0.84"/><path d="M1140.2,458.5 L1139.0,457.6 L1138.4,456.2 L1138.5,454.7 L1138.6,453.2 L1138.8,451.7 L1139.7,450.5 L1140.6,449.3 L1141.1,447.9 L1142.0,446.7 L1142.4,445.3 L1143.1,444.0 L1144.0,442.8 L1142.6,443.4 L1141.2,443.8" stroke="#6a60d0" stroke-width="0.59"/><path d="M1140.3,458.0 L1141.8,458.2 L1143.2,458.4 L1144.6,459.1 L1145.4,460.4 L1144.2,459.5 L1143.0,458.6 L1141.7,457.7" stroke="#6a60d0" stroke-width="0.59"/><path d="M1138.0,449.1 L1138.1,450.6 L1137.4,451.9 L1137.4,453.4 L1136.8,454.8 L1137.1,456.2 L1136.9,457.7 L1137.1,459.2 L1136.7,460.6 L1136.0,462.0 L1135.3,463.3 L1135.2,464.8 L1135.2,463.3" stroke="#6a60d0" stroke-width="0.59"/></g>
<ellipse cx="1136" cy="437.7" rx="11.5" ry="5.0" fill="url(#hl)"/>
<circle cx="275" cy="495.8" r="20.2" fill="#3d3d3d" fill-opacity=".92" filter="url(#sh)"/>
<circle cx="275" cy="493.1" r="19.8" fill="url(#g_lav)"/>
<circle cx="275" cy="493.1" r="19.8" fill="url(#r_lav)"/>
<g fill="none" stroke-linecap="round" stroke-linejoin="round" opacity=".85"><path d="M276.0,505.6 L277.8,496.4" stroke="#3050d0" stroke-width="1.48"/><path d="M267.2,498.9 L269.6,491.1" stroke="#3050d0" stroke-width="1.48"/><path d="M276.2,501.4 L280.4,491.0" stroke="#3050d0" stroke-width="1.48"/><path d="M269.1,491.1 L269.8,491.8 L269.5,491.6 L268.6,490.4 L268.1,489.0 L268.6,488.4 L269.9,488.9 L270.8,489.7 L270.8,489.9 L270.0,489.0 L269.3,487.6 L269.5,486.6 L270.5,486.7 L271.7,487.5 L272.1,488.0 L271.5,487.6 L270.6,486.2 L270.4,484.9 L271.2,484.6 L272.5,485.3 L273.2,486.0 L273.0,486.0" stroke="#40a060" stroke-width="0.84"/><path d="M266.9,491.4 L269.8,481.8" stroke="#c04030" stroke-width="1.48"/></g>
<ellipse cx="275" cy="480.2" rx="11.5" ry="5.0" fill="url(#hl)"/>
<circle cx="401" cy="495.3" r="20.2" fill="#3d3d3d" fill-opacity=".92" filter="url(#sh)"/>
<circle cx="401" cy="492.6" r="19.8" fill="url(#g_ykh)"/>
<circle cx="401" cy="492.6" r="19.8" fill="url(#r_ykh)"/>
<g fill="none" stroke-linecap="round" stroke-linejoin="round" opacity=".85"><path d="M393.9,494.2 L393.5,492.7 L392.5,491.7 L391.2,490.9 L389.9,490.1 L388.6,489.4 L390.1,489.6 L391.6,489.6 L392.9,490.2 L394.1,491.2 L394.6,492.6" stroke="#50c050" stroke-width="0.59"/><path d="M409.9,495.8 L409.5,495.4 L408.6,495.3 L407.7,495.5 L407.3,495.8 L407.4,495.8 L407.7,495.5 L407.6,495.1 L406.9,494.8 L405.9,494.9 L405.2,495.2 L405.2,495.3 L405.5,495.2 L405.6,494.7 L405.1,494.3 L404.1,494.3" stroke="#c08020" stroke-width="0.84"/></g>
<ellipse cx="401" cy="479.7" rx="11.5" ry="5.0" fill="url(#hl)"/>
<circle cx="783" cy="510.3" r="20.2" fill="#3d3d3d" fill-opacity=".92" filter="url(#sh)"/>
<circle cx="783" cy="507.6" r="19.8" fill="url(#g_cyan)"/>
<circle cx="783" cy="507.6" r="19.8" fill="url(#r_cyan)"/>
<g fill="none" stroke-linecap="round" stroke-linejoin="round" opacity=".85"><path d="M779.3,520.6 L782.6,510.4" stroke="#a03020" stroke-width="1.48"/><path d="M788.2,522.6 L783.7,513.7" stroke="#a03020" stroke-width="1.48"/><path d="M779.9,518.1 L779.4,519.5 L778.3,520.5 L779.3,519.4 L779.7,518.0 L780.8,517.0 L782.2,516.4 L783.7,516.4 L785.2,516.8 L786.5,517.4 L787.6,518.5" stroke="#707070" stroke-width="0.59"/><path d="M787.2,513.7 L788.7,513.9 L790.2,513.8 L791.5,514.4 L793.0,514.1 L794.5,513.9 L793.0,513.9 L791.5,513.7" stroke="#707070" stroke-width="0.59"/><path d="M780.3,510.2 L779.4,509.0 L779.1,507.5 L779.2,506.1 L779.8,504.7 L780.8,503.6 L782.2,503.0 L783.7,503.0 L785.0,502.3 L786.1,501.3" stroke="#707070" stroke-width="0.59"/></g>
<ellipse cx="783" cy="494.7" rx="11.5" ry="5.0" fill="url(#hl)"/>
<circle cx="1217" cy="516.3" r="20.2" fill="#3d3d3d" fill-opacity=".92" filter="url(#sh)"/>
<circle cx="1217" cy="513.6" r="19.8" fill="url(#g_tan)"/>
<circle cx="1217" cy="513.6" r="19.8" fill="url(#r_tan)"/>
<g fill="none" stroke-linecap="round" stroke-linejoin="round" opacity=".85"><path d="M1212.2,520.8 L1212.9,521.2 L1212.5,521.0 L1211.5,520.0 L1210.7,518.8 L1211.1,518.2 L1212.2,518.4 L1213.3,518.9 L1213.4,519.1 L1212.6,518.4 L1211.6,517.2 L1211.3,516.3 L1212.1,516.1 L1213.4,516.5 L1214.0,516.9 L1213.6,516.7 L1212.6,515.7 L1211.9,514.5 L1212.2,513.9 L1213.3,514.1 L1214.4,514.6 L1214.5,514.8" stroke="#c050c0" stroke-width="0.84"/><path d="M1218.7,508.3 L1219.1,508.1 L1218.4,507.9 L1217.2,507.5 L1216.3,507.1 L1216.3,506.8 L1217.1,506.6 L1217.8,506.4 L1217.8,506.1 L1216.8,505.8 L1215.6,505.4 L1215.0,505.1 L1215.4,504.8 L1216.3,504.6 L1216.8,504.4 L1216.3,504.1 L1215.2,503.8 L1214.1,503.4 L1213.9,503.1 L1214.6,502.8 L1215.4,502.6 L1215.6,502.4 L1214.8,502.1 L1213.6,501.7" stroke="#c050c0" stroke-width="0.84"/><path d="M1220.4,508.4 L1219.5,509.7 L1219.0,510.2 L1219.4,509.6 L1220.5,508.9 L1221.6,508.7 L1221.8,509.6 L1221.1,511.0 L1220.3,512.0 L1220.1,512.0 L1220.9,511.2 L1222.2,510.6 L1222.9,511.0 L1222.7,512.2 L1221.8,513.5 L1221.2,514.0 L1221.5,513.6 L1222.6,512.8 L1223.7,512.6 L1224.0,513.4 L1223.4,514.7 L1222.5,515.8 L1222.3,515.9" stroke="#c050c0" stroke-width="0.84"/><path d="M1213.2,524.4 L1213.8,524.5 L1213.3,524.3 L1212.1,523.6 L1211.2,522.7 L1211.3,522.2 L1212.2,522.1 L1213.3,522.2 L1213.5,522.3 L1212.7,521.8 L1211.6,521.1 L1210.9,520.3 L1211.3,519.9 L1212.4,519.9 L1213.3,520.1 L1213.2,520.0 L1212.1,519.4 L1211.0,518.6 L1210.8,517.9 L1211.5,517.6 L1212.6,517.8 L1213.2,517.9 L1212.7,517.6" stroke="#c050c0" stroke-width="0.84"/><path d="M1211.2,513.2 L1211.8,513.3 L1211.3,513.0 L1210.1,512.3 L1209.2,511.4 L1209.4,510.9 L1210.4,510.9 L1211.4,511.0 L1211.4,511.0 L1210.5,510.5 L1209.3,509.6 L1209.0,508.9 L1209.7,508.6 L1210.8,508.7 L1211.4,508.9 L1210.8,508.6 L1209.6,507.8" stroke="#c050c0" stroke-width="0.84"/><path d="M1224.4,516.2 L1225.0,517.0 L1224.7,516.8 L1223.9,515.6 L1223.5,514.2 L1224.0,513.5 L1225.2,513.9 L1226.2,514.9 L1226.3,515.3 L1225.6,514.5 L1224.9,513.0 L1225.0,511.9 L1226.0,511.8 L1227.1,512.7 L1227.7,513.5 L1227.4,513.2 L1226.6,512.0 L1226.2,510.6 L1226.8,509.9 L1228.0,510.5 L1228.9,511.4 L1229.0,511.7 L1228.3,510.9" stroke="#c050c0" stroke-width="0.84"/><path d="M1215.9,508.6 L1216.5,509.4 L1216.3,509.4 L1215.5,508.2 L1215.1,506.7 L1215.5,506.0 L1216.7,506.3 L1217.7,507.3 L1218.0,507.9 L1217.4,507.3 L1216.7,505.9 L1216.6,504.6 L1217.4,504.3 L1218.6,505.0 L1219.3,505.9 L1219.2,506.1 L1218.5,505.1 L1218.0,503.6 L1218.3,502.6 L1219.3,502.8 L1220.4,503.7 L1220.8,504.4 L1220.4,504.1 L1219.6,502.7 L1219.4,501.3 L1220.1,500.8 L1221.2,501.4" stroke="#c050c0" stroke-width="0.84"/><path d="M1213.9,523.7 L1214.5,524.4 L1214.2,524.2 L1213.3,523.1 L1212.8,521.8 L1213.2,521.0 L1214.3,521.3 L1215.4,522.1 L1215.6,522.5 L1215.0,521.9 L1214.1,520.6 L1213.9,519.4 L1214.7,519.1 L1215.9,519.7 L1216.7,520.5 L1216.5,520.5 L1215.7,519.5 L1215.0,518.1 L1215.2,517.2 L1216.3,517.4 L1217.4,518.1" stroke="#c050c0" stroke-width="0.84"/><path d="M1219.6,522.7 L1218.4,522.8 L1217.5,523.0 L1217.4,523.4 L1218.0,523.7 L1218.5,524.0 L1218.3,524.2 L1217.3,524.3 L1216.2,524.5 L1215.7,524.8 L1216.1,525.1 L1216.8,525.4 L1216.9,525.7 L1216.2,525.8 L1215.0,525.9 L1214.2,526.2 L1214.2,526.5 L1214.9,526.9 L1215.4,527.1 L1215.0,527.3" stroke="#c050c0" stroke-width="0.84"/><path d="M1216.1,503.5 L1215.4,504.9 L1214.9,505.3 L1215.3,504.6 L1216.4,503.7 L1217.5,503.5 L1217.7,504.5 L1217.2,506.0 L1216.4,507.0 L1216.3,506.8 L1217.2,505.9 L1218.4,505.2 L1219.1,505.6 L1218.9,507.0 L1218.1,508.4 L1217.6,508.8 L1218.0,508.2 L1219.1,507.2 L1220.2,507.0 L1220.5,508.0 L1219.9,509.5 L1219.2,510.5" stroke="#c050c0" stroke-width="0.84"/><path d="M1215.6,519.9 L1214.6,521.0 L1213.9,521.5 L1214.4,521.1 L1215.5,520.5 L1216.6,520.5 L1216.6,521.3 L1215.8,522.6 L1214.9,523.4 L1214.7,523.5 L1215.6,522.9 L1216.8,522.5 L1217.4,522.9 L1217.0,524.0 L1216.0,525.2 L1215.4,525.7 L1215.7,525.3 L1216.9,524.8 L1217.9,524.7 L1218.1,525.5 L1217.3,526.7" stroke="#c050c0" stroke-width="0.84"/><path d="M1204.3,512.9 L1204.0,514.3 L1203.6,514.7 L1203.8,513.7 L1204.7,512.4 L1205.7,511.9 L1206.3,512.8 L1206.3,514.5 L1205.8,515.6 L1205.7,515.4 L1206.1,514.1 L1207.1,513.0 L1208.0,513.1 L1208.4,514.4 L1208.1,516.0 L1207.7,516.6 L1207.8,515.9 L1208.5,514.6 L1209.5,513.8 L1210.3,514.5 L1210.3,516.0 L1209.9,517.4 L1209.7,517.4 L1210.0,516.3 L1210.9,515.1 L1211.9,514.9 L1212.4,516.0" stroke="#c050c0" stroke-width="0.84"/></g>
<ellipse cx="1217" cy="500.7" rx="11.5" ry="5.0" fill="url(#hl)"/>
<circle cx="359" cy="558.8" r="20.2" fill="#3d3d3d" fill-opacity=".92" filter="url(#sh)"/>
<circle cx="359" cy="556.1" r="19.8" fill="url(#g_ygreen)"/>
<circle cx="359" cy="556.1" r="19.8" fill="url(#r_ygreen)"/>
<g fill="none" stroke-linecap="round" stroke-linejoin="round" opacity=".85"><path d="M352.7,556.2 L352.9,557.5 L352.6,557.7 L352.4,556.5 L352.8,554.9 L353.6,554.2 L354.6,555.1 L355.0,556.6 L355.0,557.5 L354.7,557.0 L354.7,555.4 L355.3,554.1 L356.3,554.2 L357.1,555.5 L357.3,556.9 L357.0,557.2 L356.9,556.0 L357.2,554.4 L358.0,553.7 L358.9,554.4 L359.4,555.9 L359.4,556.9 L359.1,556.5 L359.1,555.0 L359.7,553.6 L360.6,553.5 L361.4,554.8 L361.7,556.3" stroke="#3080d0" stroke-width="0.84"/><path d="M365.2,544.2 L364.0,545.3 L363.3,545.8 L363.7,545.5 L365.0,545.0 L366.0,545.0 L366.0,545.8 L365.0,547.0 L363.9,547.8 L363.7,547.9 L364.6,547.4 L365.9,547.1 L366.5,547.5 L366.0,548.6 L364.8,549.7 L364.0,550.1 L364.4,549.9 L365.7,549.4 L366.7,549.4 L366.8,550.2 L365.7,551.4 L364.6,552.2 L364.4,552.3 L365.3,551.8 L366.6,551.5 L367.3,551.9 L366.7,553.0 L365.5,554.1 L364.7,554.5 L365.1,554.3" stroke="#e0a040" stroke-width="0.79"/><path d="M348.7,567.0 L349.0,568.3 L348.7,568.4 L348.5,567.2 L348.7,565.5 L349.5,564.9 L350.5,565.6 L351.1,567.1 L351.1,568.0 L350.8,567.4 L350.7,565.8 L351.2,564.5 L352.1,564.5 L353.0,565.8 L353.3,567.1 L353.1,567.4 L352.8,566.2 L353.0,564.6 L353.7,563.8 L354.7,564.4 L355.4,565.9 L355.4,566.9 L355.1,566.5 L355.0,564.9 L355.4,563.5 L356.4,563.4 L357.2,564.6 L357.6,566.0 L357.4,566.4 L357.1,565.3 L357.3,563.6 L358.0,562.7 L359.0,563.3" stroke="#60c030" stroke-width="0.84"/></g>
<ellipse cx="359" cy="543.2" rx="11.5" ry="5.0" fill="url(#hl)"/>
<circle cx="489" cy="561.8" r="20.2" fill="#3d3d3d" fill-opacity=".92" filter="url(#sh)"/>
<circle cx="489" cy="559.1" r="19.8" fill="url(#g_mint)"/>
<circle cx="489" cy="559.1" r="19.8" fill="url(#r_mint)"/>
<g fill="none" stroke-linecap="round" stroke-linejoin="round" opacity=".85"><path d="M491.7,562.8 L491.8,564.3 L491.9,565.8 L492.2,567.3 L493.2,568.4 L494.6,569.0 L495.4,570.2 L496.7,571.0" stroke="#40c080" stroke-width="0.59"/><path d="M495.1,561.8 L496.2,560.8 L496.7,559.3 L496.9,557.8 L497.3,556.4 L497.6,554.9 L498.6,553.8 L499.8,553.0 L498.6,553.9 L497.3,554.5 L496.1,555.5 L495.6,556.9 L495.8,558.4" stroke="#40c080" stroke-width="0.59"/><path d="M490.5,563.4 L489.9,562.1 L490.0,560.6 L489.8,559.1 L490.1,557.6 L490.0,556.1 L489.9,554.6 L490.4,553.2" stroke="#40c080" stroke-width="0.59"/><path d="M485.9,549.3 L484.8,550.5 L484.1,550.9 L484.5,550.6 L485.7,549.9 L486.8,549.8 L487.0,550.6 L486.2,551.9 L485.1,552.8 L484.7,553.0 L485.5,552.5 L486.8,551.9 L487.7,552.1 L487.4,553.2 L486.4,554.4 L485.5,555.1 L485.5,555.0 L486.5,554.4 L487.8,554.0 L488.3,554.6 L487.7,555.7 L486.6,556.9 L486.0,557.3 L486.4,556.9 L487.7,556.3 L488.8,556.2 L488.9,557.1 L488.0,558.3 L486.9,559.3 L486.6,559.4 L487.4,558.8 L488.7,558.3 L489.6,558.6" stroke="#a06030" stroke-width="0.79"/><path d="M489.0,563.6 L487.9,563.6 L487.0,563.8 L486.7,564.2 L487.1,564.6 L487.6,564.8 L487.6,564.9 L486.7,564.9 L485.6,565.0 L484.9,565.2 L485.0,565.6 L485.6,566.0 L485.9,566.2 L485.4,566.2 L484.4,566.2 L483.4,566.4 L483.1,566.7 L483.5,567.1 L484.0,567.4 L484.0,567.5 L483.2,567.5 L482.1,567.5 L481.3,567.8" stroke="#30a060" stroke-width="0.84"/></g>
<ellipse cx="489" cy="546.2" rx="11.5" ry="5.0" fill="url(#hl)"/>
<circle cx="616" cy="581.3" r="20.2" fill="#3d3d3d" fill-opacity=".92" filter="url(#sh)"/>
<circle cx="616" cy="578.6" r="19.8" fill="url(#g_khaki)"/>
<circle cx="616" cy="578.6" r="19.8" fill="url(#r_khaki)"/>
<g fill="none" stroke-linecap="round" stroke-linejoin="round" opacity=".85"><path d="M619.0,589.2 L619.6,590.0 L619.3,589.9 L618.6,588.7 L618.2,587.2 L618.8,586.5 L619.9,587.0 L620.9,588.0 L621.0,588.4 L620.4,587.7 L619.7,586.2 L619.8,585.0 L620.8,585.0 L622.0,585.9 L622.5,586.7 L622.2,586.5 L621.4,585.2 L621.1,583.7 L621.7,583.2 L622.9,583.7 L623.8,584.7 L623.9,585.1 L623.2,584.2 L622.6,582.7 L622.8,581.6" stroke="#c090a0" stroke-width="0.84"/></g>
<ellipse cx="616" cy="565.7" rx="11.5" ry="5.0" fill="url(#hl)"/>
<circle cx="901" cy="569.3" r="20.2" fill="#3d3d3d" fill-opacity=".92" filter="url(#sh)"/>
<circle cx="901" cy="566.6" r="19.8" fill="url(#g_khaki)"/>
<circle cx="901" cy="566.6" r="19.8" fill="url(#r_khaki)"/>
<g fill="none" stroke-linecap="round" stroke-linejoin="round" opacity=".85"><path d="M892.2,570.4 L892.3,571.8 L892.1,572.0 L892.0,570.9 L892.4,569.3 L893.2,568.6 L894.1,569.3 L894.6,570.9 L894.5,571.9 L894.2,571.6 L894.3,570.1 L894.9,568.7 L895.8,568.6 L896.5,569.8 L896.8,571.3 L896.6,571.9 L896.4,571.0 L896.6,569.4 L897.4,568.4 L898.3,568.8" stroke="#c070a0" stroke-width="0.84"/><path d="M907.2,581.9 L907.6,581.8 L907.0,581.5 L905.8,581.1 L904.9,580.6 L904.9,580.2 L905.7,580.0 L906.5,579.9 L906.6,579.7 L905.7,579.4 L904.5,578.9 L903.9,578.4 L904.2,578.1 L905.1,577.9 L905.7,577.8 L905.5,577.6 L904.4,577.2 L903.3,576.7 L902.9,576.3 L903.5,576.0 L904.5,575.9 L904.9,575.7 L904.3,575.4 L903.1,575.0 L902.1,574.5 L902.1,574.1" stroke="#c070a0" stroke-width="0.84"/><path d="M906.7,579.0 L907.4,579.5 L907.1,579.3 L906.1,578.3 L905.4,577.1 L905.7,576.3 L906.8,576.5 L907.9,577.1 L908.2,577.5 L907.5,576.9 L906.6,575.7 L906.2,574.6 L906.9,574.2 L908.1,574.7 L909.0,575.3 L908.8,575.3 L907.9,574.4 L907.1,573.2 L907.2,572.3" stroke="#c070a0" stroke-width="0.84"/></g>
<ellipse cx="901" cy="553.7" rx="11.5" ry="5.0" fill="url(#hl)"/>
<circle cx="1039" cy="578.8" r="20.2" fill="#3d3d3d" fill-opacity=".92" filter="url(#sh)"/>
<circle cx="1039" cy="576.1" r="19.8" fill="url(#g_tsky)"/>
<circle cx="1039" cy="576.1" r="19.8" fill="url(#r_tsky)"/>
<g fill="none" stroke-linecap="round" stroke-linejoin="round" opacity=".85"><path d="M1047.7,572.2 L1047.4,571.8 L1046.5,571.6 L1045.5,571.8 L1045.0,572.0 L1045.1,572.0 L1045.5,571.6 L1045.5,571.2 L1044.8,570.9 L1043.8,570.9 L1043.0,571.1 L1042.9,571.2 L1043.3,571.0 L1043.5,570.6 L1043.1,570.2 L1042.1,570.1 L1041.2,570.3 L1040.8,570.5 L1041.0,570.4 L1041.4,570.0 L1041.3,569.6 L1040.5,569.3 L1039.5,569.4 L1038.8,569.6 L1038.8,569.7 L1039.2,569.4" stroke="#6a60d0" stroke-width="0.84"/><path d="M1039.4,584.4 L1038.3,585.5 L1037.7,586.0 L1038.0,585.7 L1039.2,585.2 L1040.2,585.2 L1040.4,585.9 L1039.6,587.0 L1038.5,587.9 L1038.2,588.1 L1038.9,587.7 L1040.1,587.3 L1040.9,587.5 L1040.7,588.4 L1039.7,589.6 L1038.8,590.2 L1038.9,590.1 L1039.9,589.6 L1041.1,589.4 L1041.5,589.9 L1040.9,591.0 L1039.9,592.1" stroke="#6a60d0" stroke-width="0.84"/><path d="M1034.6,568.7 L1034.0,570.2 L1033.6,570.6 L1033.9,569.8 L1035.0,568.7 L1036.0,568.4 L1036.4,569.3 L1036.1,570.9 L1035.4,572.0 L1035.3,571.8 L1036.0,570.7 L1037.2,569.9 L1038.0,570.1 L1038.0,571.5 L1037.4,573.0 L1037.0,573.5" stroke="#6a60d0" stroke-width="0.84"/><path d="M1029.6,573.6 L1028.8,574.9 L1028.3,575.3 L1028.7,574.7 L1029.9,573.9 L1031.0,573.8 L1031.1,574.9 L1030.3,576.4 L1029.6,577.2 L1029.7,576.9 L1030.7,576.0 L1031.9,575.6 L1032.4,576.3 L1031.9,577.7 L1031.0,578.9 L1030.7,578.9 L1031.5,578.1 L1032.7,577.4 L1033.6,577.7 L1033.4,579.0" stroke="#6a60d0" stroke-width="0.84"/></g>
<ellipse cx="1039" cy="563.2" rx="11.5" ry="5.0" fill="url(#hl)"/>
<circle cx="1146" cy="588.9" r="20.2" fill="#3d3d3d" fill-opacity=".92" filter="url(#sh)"/>
<circle cx="1146" cy="586.2" r="19.8" fill="url(#g_sky)"/>
<circle cx="1146" cy="586.2" r="19.8" fill="url(#r_sky)"/>
<g fill="none" stroke-linecap="round" stroke-linejoin="round" opacity=".85"><path d="M1156.4,589.0 L1156.3,588.6 L1155.5,588.4 L1154.4,588.4 L1153.7,588.5 L1153.7,588.4 L1154.2,588.1 L1154.5,587.7 L1154.2,587.3 L1153.2,587.2 L1152.2,587.2 L1151.7,587.3 L1152.0,587.1 L1152.5,586.8 L1152.6,586.4 L1152.0,586.1 L1150.9,586.0 L1150.0,586.1" stroke="#7a60d0" stroke-width="0.84"/><path d="M1142.6,585.6 L1143.1,585.7 L1142.6,585.4 L1141.4,584.7 L1140.5,583.9 L1140.7,583.4 L1141.7,583.3 L1142.7,583.5 L1142.7,583.4 L1141.8,582.9 L1140.6,582.2 L1140.2,581.5 L1140.8,581.1 L1141.9,581.2 L1142.5,581.3 L1142.1,581.1 L1140.9,580.4 L1140.0,579.6 L1140.0,579.1 L1141.0,578.9 L1142.0,579.1" stroke="#7a60d0" stroke-width="0.84"/><path d="M1142.2,577.7 L1141.0,578.3 L1140.2,578.7 L1140.3,578.7 L1141.3,578.7 L1142.2,578.9 L1142.2,579.4 L1141.2,580.0 L1140.1,580.6 L1139.5,580.9 L1140.1,580.9 L1141.1,580.9 L1141.7,581.2 L1141.4,581.7 L1140.2,582.4 L1139.2,582.9 L1139.0,583.0" stroke="#7a60d0" stroke-width="0.84"/><path d="M1142.9,580.4 L1142.3,581.8 L1141.8,582.2 L1142.2,581.5 L1143.2,580.4 L1144.3,580.1 L1144.7,581.1 L1144.3,582.6 L1143.6,583.7 L1143.5,583.5 L1144.2,582.5 L1145.4,581.7 L1146.2,582.0 L1146.2,583.3 L1145.5,584.8 L1145.0,585.3 L1145.3,584.6 L1146.3,583.6 L1147.4,583.2 L1147.9,584.1 L1147.5,585.6" stroke="#7a60d0" stroke-width="0.84"/><path d="M1138.0,586.1 L1137.2,587.4 L1136.7,587.8 L1137.1,587.2 L1138.3,586.3 L1139.3,586.3 L1139.5,587.3 L1138.8,588.7 L1138.0,589.6 L1138.0,589.4 L1139.0,588.5 L1140.2,588.0 L1140.8,588.6 L1140.4,589.9 L1139.5,591.2 L1139.1,591.5 L1139.7,590.8" stroke="#7a60d0" stroke-width="0.84"/><path d="M1150.9,575.4 L1149.8,576.5 L1149.2,576.9 L1149.6,576.6 L1150.8,576.2 L1151.8,576.2 L1151.7,577.0 L1150.8,578.2 L1149.8,579.0 L1149.7,579.0 L1150.6,578.5 L1151.8,578.3 L1152.3,578.8 L1151.7,579.8 L1150.6,580.9 L1150.0,581.2 L1150.5,580.9 L1151.7,580.5 L1152.6,580.6" stroke="#7a60d0" stroke-width="0.84"/><path d="M1146.4,589.4 L1145.2,590.1 L1144.3,590.4 L1144.5,590.5 L1145.5,590.5 L1146.4,590.7 L1146.3,591.2 L1145.3,591.9 L1144.1,592.4 L1143.7,592.6 L1144.3,592.6 L1145.3,592.7 L1145.8,593.0 L1145.3,593.6 L1144.1,594.2 L1143.2,594.7 L1143.2,594.8 L1144.1,594.8" stroke="#7a60d0" stroke-width="0.84"/><path d="M1159.2,584.8 L1158.0,585.2 L1157.1,585.5 L1157.2,585.7 L1158.0,585.9 L1158.8,586.1 L1158.7,586.5 L1157.7,586.9 L1156.5,587.3 L1156.0,587.6 L1156.5,587.8 L1157.4,587.9 L1157.9,588.2 L1157.3,588.7 L1156.1,589.1 L1155.1,589.4 L1155.1,589.6 L1155.9,589.8 L1156.7,590.0 L1156.7,590.4 L1155.8,590.8 L1154.6,591.2 L1154.0,591.5 L1154.4,591.7 L1155.3,591.9 L1155.8,592.1 L1155.4,592.6" stroke="#7a60d0" stroke-width="0.84"/><path d="M1155.0,594.2 L1154.4,593.8 L1153.5,593.7 L1152.7,594.0 L1152.4,594.4 L1152.7,594.5 L1152.8,594.2 L1152.5,593.8 L1151.7,593.6 L1150.7,593.7 L1150.2,594.1 L1150.3,594.4 L1150.6,594.2 L1150.5,593.8 L1149.9,593.5 L1148.9,593.5" stroke="#7a60d0" stroke-width="0.84"/><path d="M1149.5,578.2 L1148.7,579.5 L1148.2,580.0 L1148.5,579.4 L1149.7,578.6 L1150.7,578.4 L1151.0,579.2 L1150.4,580.7 L1149.6,581.7 L1149.4,581.7 L1150.1,580.9 L1151.3,580.3 L1152.2,580.5 L1152.1,581.7 L1151.3,583.0 L1150.6,583.7 L1150.8,583.3 L1151.8,582.5 L1153.0,582.1 L1153.4,582.7 L1153.0,584.1 L1152.2,585.3 L1151.8,585.5 L1152.3,584.9 L1153.5,584.1 L1154.5,584.1" stroke="#7a60d0" stroke-width="0.84"/><path d="M1144.8,595.3 L1144.6,594.9 L1143.7,594.7 L1142.7,594.8 L1142.1,595.0 L1142.2,594.9 L1142.7,594.6 L1142.8,594.1 L1142.2,593.8 L1141.1,593.8 L1140.3,594.0 L1140.1,594.0 L1140.5,593.8 L1140.8,593.4 L1140.5,593.0 L1139.6,592.8 L1138.6,592.9 L1138.1,593.1 L1138.2,593.0 L1138.7,592.7 L1138.7,592.2 L1138.0,591.9 L1137.0,591.9 L1136.2,592.1 L1136.1,592.1 L1136.5,591.9" stroke="#7a60d0" stroke-width="0.84"/><path d="M1143.7,594.4 L1143.4,595.9 L1143.1,596.2 L1143.3,595.0 L1144.1,593.6 L1145.1,593.3 L1145.7,594.4 L1145.7,596.1 L1145.3,597.0 L1145.3,596.3 L1145.9,594.8 L1146.9,593.9 L1147.7,594.6 L1147.9,596.2 L1147.6,597.5 L1147.3,597.4 L1147.7,596.1 L1148.6,594.8 L1149.6,594.8 L1150.0,596.2" stroke="#7a60d0" stroke-width="0.84"/><path d="M1140.2,585.0 L1139.9,586.5 L1139.6,586.8 L1139.8,585.8 L1140.7,584.4 L1141.7,584.1 L1142.3,585.2 L1142.1,586.8 L1141.7,587.8 L1141.7,587.2 L1142.3,585.8 L1143.3,584.9 L1144.2,585.4 L1144.3,587.0 L1144.0,588.4 L1143.7,588.5 L1144.0,587.4 L1144.9,586.1 L1145.9,585.9 L1146.4,587.1 L1146.2,588.8 L1145.8,589.5 L1145.8,588.8 L1146.5,587.4" stroke="#7a60d0" stroke-width="0.84"/><path d="M1153.7,593.1 L1152.5,593.3 L1151.6,593.5 L1151.5,593.8 L1152.1,594.2 L1152.7,594.5 L1152.5,594.6 L1151.6,594.8 L1150.4,595.0 L1149.9,595.3 L1150.2,595.6 L1150.9,595.9 L1151.2,596.2 L1150.6,596.3 L1149.5,596.5 L1148.5,596.7 L1148.4,597.0 L1148.9,597.4 L1149.6,597.6 L1149.5,597.8 L1148.5,598.0 L1147.4,598.2" stroke="#7a60d0" stroke-width="0.84"/></g>
<ellipse cx="1146" cy="573.3" rx="11.5" ry="5.0" fill="url(#hl)"/>
<circle cx="1278" cy="601.8" r="20.2" fill="#3d3d3d" fill-opacity=".92" filter="url(#sh)"/>
<circle cx="1278" cy="599.1" r="19.8" fill="url(#g_dteal)"/>
<circle cx="1278" cy="599.1" r="19.8" fill="url(#r_dteal)"/>
<g fill="none" stroke-linecap="round" stroke-linejoin="round" opacity=".85"><path d="M1280.1,590.5 L1279.0,591.5 L1278.3,591.9 L1278.6,591.7 L1279.8,591.4 L1280.8,591.4 L1280.8,592.1 L1279.9,593.2 L1278.8,594.0 L1278.6,594.1 L1279.4,593.8 L1280.6,593.5 L1281.2,593.9 L1280.7,594.8 L1279.6,595.8 L1278.9,596.3 L1279.1,596.2 L1280.2,595.8 L1281.2,595.8 L1281.4,596.4 L1280.6,597.5 L1279.5,598.3 L1279.1,598.6 L1279.8,598.2 L1281.0,597.9" stroke="#30b050" stroke-width="0.84"/><path d="M1279.7,593.3 L1279.0,594.7 L1278.6,595.1 L1279.0,594.3 L1280.1,593.2 L1281.2,593.1 L1281.4,594.2 L1280.9,595.8 L1280.3,596.7 L1280.3,596.2 L1281.3,595.1 L1282.4,594.5 L1283.0,595.2 L1282.8,596.8 L1282.1,598.0 L1281.8,598.1 L1282.4,597.1 L1283.6,596.2 L1284.5,596.4 L1284.6,597.7 L1283.9,599.2 L1283.4,599.8 L1283.7,599.1" stroke="#30b050" stroke-width="0.84"/><path d="M1273.4,594.5 L1272.3,594.5 L1271.4,594.7 L1271.1,595.0 L1271.6,595.4 L1272.1,595.7 L1272.1,595.8 L1271.3,595.9 L1270.2,596.0 L1269.5,596.2 L1269.5,596.6 L1270.1,596.9 L1270.5,597.2 L1270.2,597.3 L1269.2,597.3 L1268.2,597.5 L1267.7,597.7" stroke="#30b050" stroke-width="0.84"/><path d="M1274.5,610.5 L1275.0,610.5 L1274.4,610.2 L1273.2,609.6 L1272.3,608.9 L1272.5,608.4 L1273.5,608.3 L1274.4,608.4 L1274.3,608.2 L1273.3,607.8 L1272.2,607.0 L1271.8,606.4 L1272.5,606.2 L1273.6,606.2 L1274.0,606.2 L1273.4,605.9 L1272.2,605.2 L1271.3,604.5 L1271.6,604.1 L1272.6,604.0 L1273.5,604.0 L1273.3,603.9" stroke="#30b050" stroke-width="0.84"/><path d="M1273.9,605.0 L1273.3,606.4 L1272.9,606.8 L1273.2,606.0 L1274.3,604.9 L1275.3,604.6 L1275.7,605.6 L1275.3,607.2 L1274.7,608.2 L1274.6,608.0 L1275.4,606.8 L1276.5,606.0 L1277.3,606.4 L1277.3,607.8 L1276.7,609.3 L1276.3,609.7 L1276.6,608.9 L1277.6,607.8 L1278.7,607.4 L1279.1,608.4" stroke="#30b050" stroke-width="0.84"/><path d="M1275.1,599.7 L1274.8,599.3 L1273.9,599.1 L1273.0,599.2 L1272.4,599.4 L1272.5,599.5 L1272.9,599.2 L1273.0,598.7 L1272.4,598.4 L1271.4,598.3 L1270.6,598.5 L1270.3,598.7 L1270.6,598.6 L1270.9,598.2 L1270.7,597.8 L1270.0,597.6 L1269.0,597.6" stroke="#30b050" stroke-width="0.84"/><path d="M1277.0,602.0 L1276.2,603.4 L1275.7,603.8 L1276.1,603.2 L1277.3,602.3 L1278.4,602.2 L1278.5,603.2 L1277.9,604.7 L1277.2,605.6 L1277.1,605.3 L1278.1,604.4 L1279.3,603.9 L1279.9,604.4 L1279.6,605.8 L1278.7,607.1 L1278.3,607.4 L1278.9,606.6 L1280.1,605.8" stroke="#30b050" stroke-width="0.84"/><path d="M1281.2,602.7 L1280.5,604.1 L1280.0,604.5 L1280.3,603.9 L1281.4,602.9 L1282.5,602.6 L1282.9,603.5 L1282.4,605.0 L1281.7,606.1 L1281.5,606.1 L1282.1,605.2 L1283.3,604.4 L1284.2,604.5 L1284.2,605.7 L1283.6,607.2 L1283.0,607.9 L1283.1,607.5 L1284.0,606.5" stroke="#30b050" stroke-width="0.84"/><path d="M1284.7,611.8 L1284.4,611.4 L1283.6,611.3 L1282.6,611.4 L1282.0,611.6 L1282.1,611.6 L1282.5,611.3 L1282.6,610.9 L1282.1,610.5 L1281.2,610.4 L1280.3,610.6 L1279.9,610.8 L1280.1,610.7 L1280.5,610.3 L1280.4,609.9 L1279.7,609.6 L1278.7,609.7 L1278.0,609.9 L1277.9,610.0 L1278.2,609.8 L1278.5,609.3 L1278.2,608.9 L1277.3,608.8 L1276.3,608.9 L1275.8,609.1 L1275.9,609.1" stroke="#30b050" stroke-width="0.84"/><path d="M1268.3,598.9 L1268.9,599.7 L1268.6,599.6 L1267.8,598.4 L1267.4,597.0 L1267.9,596.3 L1269.0,596.7 L1270.0,597.6 L1270.2,598.0 L1269.5,597.3 L1268.8,595.8 L1268.8,594.7 L1269.7,594.6 L1270.9,595.4 L1271.6,596.2 L1271.2,596.0 L1270.4,594.8 L1270.0,593.3 L1270.5,592.7 L1271.7,593.1 L1272.7,594.1 L1272.8,594.4 L1272.1,593.7 L1271.4,592.2 L1271.5,591.1 L1272.4,591.0 L1273.6,591.8" stroke="#30b050" stroke-width="0.84"/><path d="M1272.4,602.7 L1271.1,603.1 L1270.2,603.4 L1270.3,603.6 L1271.1,603.8 L1271.8,604.1 L1271.6,604.4 L1270.6,604.8 L1269.4,605.1 L1269.0,605.4 L1269.4,605.6 L1270.3,605.8 L1270.7,606.1 L1270.1,606.5 L1268.9,606.8 L1267.9,607.1 L1267.9,607.4 L1268.6,607.6 L1269.4,607.8 L1269.3,608.2" stroke="#30b050" stroke-width="0.84"/><path d="M1270.5,602.1 L1270.9,601.9 L1270.2,601.6 L1269.0,601.2 L1268.1,600.8 L1268.2,600.5 L1269.1,600.2 L1269.8,600.1 L1269.6,599.8 L1268.5,599.5 L1267.4,599.0 L1267.0,598.7 L1267.6,598.4 L1268.5,598.2 L1268.8,598.0 L1268.0,597.7 L1266.8,597.3 L1266.0,596.9 L1266.2,596.5 L1267.1,596.3 L1267.7,596.1 L1267.4,595.9 L1266.3,595.5 L1265.2,595.1" stroke="#30b050" stroke-width="0.84"/><path d="M1264.0,597.6 L1263.7,599.1 L1263.4,599.4 L1263.6,598.3 L1264.4,597.0 L1265.4,596.5 L1266.0,597.5 L1266.0,599.2 L1265.6,600.2 L1265.5,599.8 L1266.0,598.4 L1267.0,597.4 L1267.9,597.7 L1268.1,599.2 L1267.9,600.7 L1267.5,601.0 L1267.7,600.0 L1268.6,598.6 L1269.6,598.2 L1270.2,599.2 L1270.1,600.9 L1269.7,601.8 L1269.6,601.4 L1270.1,600.0 L1271.1,599.0 L1272.0,599.3" stroke="#20a0b0" stroke-width="0.84"/><path d="M1277.6,600.7 L1278.1,601.7 L1277.9,601.6 L1277.3,600.4 L1277.0,598.8 L1277.6,598.1 L1278.7,598.6 L1279.6,599.7 L1279.8,600.4 L1279.3,599.8 L1278.8,598.3 L1278.9,596.9 L1279.7,596.7 L1280.9,597.6 L1281.5,598.7 L1281.4,598.9 L1280.8,597.8 L1280.4,596.2 L1280.9,595.3 L1281.9,595.6 L1282.9,596.7 L1283.3,597.5 L1282.8,597.1 L1282.3,595.7 L1282.2,594.2" stroke="#20a0b0" stroke-width="0.84"/><path d="M1271.3,598.1 L1270.6,599.5 L1270.1,599.9 L1270.5,599.3 L1271.5,598.3 L1272.6,597.9 L1273.0,598.8 L1272.6,600.3 L1271.9,601.4 L1271.7,601.4 L1272.3,600.5 L1273.4,599.7 L1274.3,599.7 L1274.5,600.9 L1273.9,602.4 L1273.2,603.2 L1273.3,602.8 L1274.1,601.8 L1275.3,601.2" stroke="#20a0b0" stroke-width="0.84"/><path d="M1284.2,604.7 L1283.0,605.0 L1282.1,605.2 L1282.1,605.5 L1282.8,605.8 L1283.4,606.1 L1283.2,606.3 L1282.2,606.6 L1281.0,606.9 L1280.6,607.1 L1281.1,607.4 L1281.9,607.7 L1282.1,608.0 L1281.3,608.2 L1280.1,608.5 L1279.3,608.8 L1279.4,609.1 L1280.2,609.3 L1280.7,609.6 L1280.4,609.9 L1279.3,610.2" stroke="#20a0b0" stroke-width="0.84"/><path d="M1282.7,596.4 L1283.6,597.6 L1284.8,598.5 L1286.1,599.2 L1287.4,600.0 L1288.4,601.0 L1289.3,602.3 L1290.1,603.6 L1288.9,602.6 L1287.7,601.7 L1286.3,601.4 L1284.8,601.3" stroke="#c05020" stroke-width="0.59"/></g>
<ellipse cx="1278" cy="586.2" rx="11.5" ry="5.0" fill="url(#hl)"/>
<circle cx="438" cy="626.3" r="20.2" fill="#3d3d3d" fill-opacity=".92" filter="url(#sh)"/>
<circle cx="438" cy="623.6" r="19.8" fill="url(#g_ygreen)"/>
<circle cx="438" cy="623.6" r="19.8" fill="url(#r_ygreen)"/>
<g fill="none" stroke-linecap="round" stroke-linejoin="round" opacity=".85"><path d="M446.7,619.7 L446.4,619.3 L445.5,619.1 L444.5,619.3 L444.0,619.5 L444.1,619.5 L444.5,619.1 L444.5,618.7 L443.8,618.4 L442.8,618.4 L442.0,618.6 L441.9,618.7 L442.3,618.5 L442.5,618.1 L442.1,617.7 L441.1,617.6 L440.2,617.8 L439.8,618.0 L440.0,617.9 L440.4,617.5 L440.3,617.1 L439.5,616.8 L438.5,616.9 L437.8,617.1 L437.8,617.2 L438.2,616.9" stroke="#9080a0" stroke-width="0.84"/><path d="M438.4,631.9 L437.3,633.0 L436.7,633.5 L437.0,633.2 L438.2,632.7 L439.2,632.7 L439.4,633.4 L438.6,634.5 L437.5,635.4 L437.2,635.6 L437.9,635.2 L439.1,634.8 L439.9,635.0 L439.7,635.9 L438.7,637.1 L437.8,637.7 L437.9,637.6 L438.9,637.1 L440.1,636.9 L440.5,637.4 L439.9,638.5 L438.9,639.6" stroke="#9080a0" stroke-width="0.84"/><path d="M433.6,616.2 L433.0,617.7 L432.6,618.1 L432.9,617.3 L434.0,616.2 L435.0,615.9 L435.4,616.8 L435.1,618.4 L434.4,619.5 L434.3,619.3 L435.0,618.2 L436.2,617.4 L437.0,617.6 L437.0,619.0 L436.4,620.5 L436.0,621.0" stroke="#9080a0" stroke-width="0.84"/><path d="M428.6,621.1 L427.8,622.4 L427.3,622.8 L427.7,622.2 L428.9,621.4 L430.0,621.3 L430.1,622.4 L429.3,623.9 L428.6,624.7 L428.7,624.4 L429.7,623.5 L430.9,623.1 L431.4,623.8 L430.9,625.2 L430.0,626.4 L429.7,626.4 L430.5,625.6 L431.7,624.9 L432.6,625.2 L432.4,626.5" stroke="#9080a0" stroke-width="0.84"/><path d="M429.6,628.5 L430.1,629.6 L429.8,629.6 L429.3,628.2 L429.2,626.6 L430.0,626.1 L431.2,626.9 L431.9,628.2 L431.8,628.5 L431.3,627.5 L431.0,625.8 L431.6,624.9 L432.7,625.3 L433.6,626.6 L433.8,627.4 L433.3,626.8 L432.9,625.1 L433.2,623.8 L434.2,623.8" stroke="#9080a0" stroke-width="0.84"/><path d="M428.0,628.0 L427.5,629.5 L427.1,629.9 L427.4,629.0 L428.3,627.8 L429.3,627.3 L429.9,628.1 L429.8,629.7 L429.3,630.9 L429.0,630.9 L429.5,629.8 L430.5,628.6 L431.5,628.6 L431.8,629.8 L431.5,631.4 L431.0,632.2 L431.0,631.7 L431.7,630.5 L432.8,629.6 L433.6,630.0 L433.7,631.5 L433.2,633.0 L432.8,633.3 L433.1,632.5 L434.0,631.2" stroke="#9080a0" stroke-width="0.84"/><path d="M425.6,625.9 L425.5,627.4 L425.2,627.7 L425.2,626.6 L425.9,625.1 L426.8,624.6 L427.6,625.4 L427.8,627.1 L427.5,628.2 L427.3,627.8 L427.6,626.4 L428.5,625.2 L429.4,625.2 L429.9,626.6 L429.9,628.1 L429.6,628.7" stroke="#9080a0" stroke-width="0.84"/><path d="M445.1,614.1 L444.0,614.1 L443.1,614.2 L442.8,614.6 L443.2,615.0 L443.7,615.3 L443.7,615.4 L442.9,615.3 L441.8,615.4 L441.0,615.6 L441.1,616.0 L441.6,616.4 L442.0,616.6 L441.6,616.6 L440.7,616.6 L439.6,616.8 L439.2,617.1 L439.4,617.5 L440.0,617.8 L440.1,617.9 L439.5,617.9 L438.4,617.9 L437.5,618.1 L437.4,618.5 L437.8,618.9 L438.3,619.2" stroke="#9080a0" stroke-width="0.84"/><path d="M432.5,627.1 L432.8,626.9 L432.2,626.6 L431.0,626.2 L430.1,625.9 L430.1,625.5 L430.9,625.3 L431.6,625.1 L431.6,624.9 L430.6,624.5 L429.4,624.2 L428.8,623.8 L429.2,623.5 L430.1,623.3 L430.6,623.1 L430.2,622.8 L429.0,622.5 L428.0,622.1 L427.7,621.8 L428.4,621.5 L429.2,621.3 L429.4,621.1 L428.6,620.8 L427.4,620.4" stroke="#9080a0" stroke-width="0.84"/><path d="M440.1,616.6 L438.8,617.3 L438.0,617.7 L438.3,617.7 L439.3,617.7 L440.1,617.9 L439.9,618.5 L438.8,619.2 L437.7,619.7 L437.5,619.9 L438.4,619.8 L439.4,619.9 L439.6,620.4 L438.7,621.1 L437.5,621.7 L436.9,622.0 L437.4,622.0 L438.5,622.0 L439.1,622.3" stroke="#9080a0" stroke-width="0.84"/><path d="M439.8,624.4 L440.5,624.9 L440.1,624.7 L439.0,623.6 L438.4,622.3 L438.9,621.8 L440.1,622.1 L441.1,622.7 L441.1,622.8 L440.2,622.0 L439.3,620.7 L439.4,619.8 L440.5,619.8 L441.6,620.4 L442.0,620.8 L441.3,620.3 L440.3,619.0 L440.0,617.9 L440.8,617.6 L442.1,618.1" stroke="#9080a0" stroke-width="0.84"/><path d="M447.3,627.0 L447.3,626.7 L446.4,626.4 L445.3,626.3 L444.6,626.3 L444.8,626.1 L445.4,625.7 L445.7,625.3 L445.0,625.1 L443.9,624.9 L443.0,624.9 L442.9,624.8 L443.5,624.5 L443.9,624.1 L443.6,623.7 L442.5,623.6" stroke="#9080a0" stroke-width="0.84"/><path d="M448.5,621.2 L450.0,621.3 L448.5,621.5 L447.3,622.5 L446.6,623.8 L445.7,625.0 L445.1,626.3 L445.1,627.8 L445.4,629.3 L445.9,630.7 L446.0,632.2" stroke="#807090" stroke-width="0.59"/><path d="M427.4,625.3 L428.7,624.5 L430.0,623.7 L431.2,622.9 L432.4,622.0 L433.8,621.4 L434.6,620.1 L435.2,618.8" stroke="#807090" stroke-width="0.59"/><path d="M437.0,631.5 L436.5,632.9 L436.0,634.3 L436.2,635.8 L435.8,637.3 L435.6,635.8 L435.7,634.3 L435.4,632.8" stroke="#807090" stroke-width="0.59"/></g>
<ellipse cx="438" cy="610.7" rx="11.5" ry="5.0" fill="url(#hl)"/>
<circle cx="737" cy="621.3" r="20.2" fill="#3d3d3d" fill-opacity=".92" filter="url(#sh)"/>
<circle cx="737" cy="618.6" r="19.8" fill="url(#g_ygreen)"/>
<circle cx="737" cy="618.6" r="19.8" fill="url(#r_ygreen)"/>
<g fill="none" stroke-linecap="round" stroke-linejoin="round" opacity=".85"><path d="M739.3,618.5 L738.1,619.5 L737.3,620.0 L737.8,619.7 L739.0,619.2 L740.1,619.2 L740.1,620.0 L739.1,621.2 L737.9,622.0 L737.7,622.1 L738.6,621.6 L739.9,621.3 L740.6,621.7 L740.0,622.8 L738.8,623.9 L738.0,624.4 L738.4,624.1 L739.6,623.6 L740.7,623.6 L740.8,624.4 L739.8,625.5 L738.7,626.4 L738.4,626.5 L739.2,626.1 L740.5,625.7 L741.2,626.1 L740.8,627.1 L739.6,628.2 L738.7,628.7 L739.0,628.5 L740.2,628.1 L741.3,628.0 L741.5,628.7" stroke="#e07020" stroke-width="0.79"/><path d="M743.8,614.2 L742.5,615.1 L741.7,615.6 L742.1,615.4 L743.3,615.0 L744.4,615.1 L744.4,615.8 L743.4,616.8 L742.2,617.6 L741.9,617.8 L742.7,617.4 L744.0,617.2 L744.6,617.5 L744.1,618.4 L742.9,619.4 L742.0,620.0 L742.2,619.9 L743.3,619.5 L744.5,619.5 L744.7,620.1 L743.7,621.1 L742.5,622.0 L742.0,622.2 L742.7,621.9 L744.0,621.6 L744.8,621.9 L744.5,622.7 L743.3,623.8 L742.3,624.4 L742.3,624.3 L743.3,624.0 L744.6,623.9" stroke="#e07020" stroke-width="0.79"/><path d="M733.6,608.1 L732.4,609.2 L731.6,609.6 L732.0,609.4 L733.3,608.9 L734.4,609.0 L734.4,609.7 L733.4,610.8 L732.2,611.7 L731.9,611.8 L732.8,611.4 L734.1,611.1 L734.8,611.4 L734.3,612.4 L733.1,613.5 L732.2,614.0 L732.5,613.8 L733.6,613.4 L734.8,613.3 L735.0,614.0 L734.0,615.1 L732.8,616.0 L732.4,616.2 L733.2,615.8 L734.5,615.5 L735.3,615.8 L734.9,616.7 L733.7,617.8 L732.8,618.4 L732.9,618.3" stroke="#e07020" stroke-width="0.79"/><path d="M743.1,633.0 L737.8,623.3" stroke="#20a080" stroke-width="1.48"/><path d="M743.3,633.3 L743.0,624.3" stroke="#20a080" stroke-width="1.48"/><path d="M745.9,622.1 L744.8,623.2 L744.2,623.6 L744.7,623.3 L745.9,622.8 L746.8,623.0 L746.7,623.9 L745.7,625.1 L744.8,625.8 L744.9,625.6 L746.0,625.1 L747.1,625.0 L747.4,625.7 L746.6,626.9 L745.5,627.8 L745.2,627.9 L746.1,627.4" stroke="#60c040" stroke-width="0.84"/></g>
<ellipse cx="737" cy="605.7" rx="11.5" ry="5.0" fill="url(#hl)"/>
<circle cx="989" cy="642.3" r="20.2" fill="#3d3d3d" fill-opacity=".92" filter="url(#sh)"/>
<circle cx="989" cy="639.6" r="19.8" fill="url(#g_peach)"/>
<circle cx="989" cy="639.6" r="19.8" fill="url(#r_peach)"/>
<g fill="none" stroke-linecap="round" stroke-linejoin="round" opacity=".85"><path d="M979.4,643.5 L984.6,634.3" stroke="#e07020" stroke-width="1.48"/><path d="M987.9,652.0 L986.6,643.2" stroke="#e07020" stroke-width="1.48"/><path d="M996.5,640.5 L992.7,631.4" stroke="#d0c020" stroke-width="1.48"/><path d="M988.8,641.1 L987.7,641.3 L986.7,641.5 L986.7,641.8 L987.3,642.2 L987.9,642.4 L987.7,642.7 L986.8,642.8 L985.6,643.0 L985.1,643.3 L985.4,643.6 L986.1,643.9 L986.4,644.2 L985.9,644.4 L984.7,644.6 L983.7,644.8 L983.6,645.1 L984.3,645.4 L984.9,645.7" stroke="#3050d0" stroke-width="0.84"/><path d="M998.4,640.6 L998.9,640.5 L998.3,640.2 L997.0,639.7 L996.1,639.0 L996.3,638.6 L997.2,638.5 L998.1,638.4 L998.0,638.3 L997.0,637.9 L995.8,637.2 L995.4,636.7 L996.0,636.4 L997.0,636.3 L997.5,636.3 L996.9,636.0 L995.7,635.4 L994.8,634.8 L994.9,634.4 L995.8,634.2 L996.7,634.2 L996.7,634.1 L995.7,633.6 L994.5,633.0 L994.0,632.5 L994.6,632.2 L995.6,632.1" stroke="#60b040" stroke-width="0.84"/><path d="M998.4,641.8 L997.2,642.4 L996.3,642.7 L996.5,642.8 L997.4,642.9 L998.2,643.1 L998.2,643.5 L997.3,644.1 L996.1,644.6 L995.5,644.9 L996.0,645.0 L997.0,645.0 L997.6,645.3 L997.3,645.8 L996.1,646.4 L995.1,646.9 L994.9,647.0 L995.6,647.1" stroke="#60b040" stroke-width="0.84"/><path d="M998.3,641.7 L998.9,642.0 L998.5,641.7 L997.4,640.8 L996.6,639.8 L996.8,639.2 L997.9,639.3 L999.0,639.7 L999.1,639.7 L998.2,639.1 L997.1,638.1 L996.8,637.2 L997.5,637.0 L998.8,637.3 L999.4,637.6 L999.0,637.3 L997.9,636.4 L997.1,635.4 L997.3,634.8 L998.4,634.9 L999.4,635.2 L999.6,635.3 L998.7,634.7 L997.6,633.7 L997.3,632.8 L998.0,632.5 L999.2,632.8" stroke="#60b040" stroke-width="0.84"/></g>
<ellipse cx="989" cy="626.7" rx="11.5" ry="5.0" fill="url(#hl)"/>
<circle cx="318" cy="663.3" r="10.3" fill="#3d3d3d" fill-opacity=".92" filter="url(#sh)"/>
<circle cx="318" cy="660.6" r="9.9" fill="url(#g_cyan)"/>
<circle cx="318" cy="660.6" r="9.9" fill="url(#r_cyan)"/>
<ellipse cx="318" cy="654.2" rx="5.7" ry="2.5" fill="url(#hl)"/>
<circle cx="468" cy="688.8" r="20.2" fill="#3d3d3d" fill-opacity=".92" filter="url(#sh)"/>
<circle cx="468" cy="686.1" r="19.8" fill="url(#g_olive)"/>
<circle cx="468" cy="686.1" r="19.8" fill="url(#r_olive)"/>
<g fill="none" stroke-linecap="round" stroke-linejoin="round" opacity=".85"><path d="M470.3,685.0 L469.8,686.4 L469.4,686.8 L469.7,686.0 L470.6,684.7 L471.7,684.4 L472.2,685.3 L472.0,686.9 L471.4,688.0 L471.3,687.8 L471.9,686.6 L473.0,685.6 L473.9,685.8 L474.0,687.2 L473.6,688.8 L473.1,689.3 L473.3,688.6 L474.2,687.3 L475.3,686.8 L475.9,687.6 L475.7,689.2 L475.2,690.4 L475.0,690.3 L475.5,689.2 L476.6,688.2" stroke="#a07060" stroke-width="0.84"/><path d="M459.6,689.9 L460.3,690.4 L459.9,690.2 L458.9,689.2 L458.3,687.9 L458.7,687.3 L459.8,687.5 L460.9,688.2 L461.0,688.4 L460.2,687.7 L459.3,686.4 L459.1,685.4 L460.0,685.2 L461.2,685.8 L461.9,686.3 L461.5,686.1 L460.5,685.0 L459.9,683.7 L460.3,683.1 L461.4,683.4 L462.5,684.0 L462.6,684.2 L461.8,683.5 L460.8,682.2 L460.7,681.2" stroke="#a07060" stroke-width="0.84"/><path d="M458.7,681.0 L458.3,682.4 L458.0,682.8 L458.2,681.9 L459.0,680.5 L460.0,680.0 L460.6,680.9 L460.6,682.5 L460.2,683.7 L460.0,683.5 L460.4,682.3 L461.4,681.2 L462.3,681.2 L462.7,682.4 L462.5,684.0 L462.0,684.8 L462.0,684.1 L462.7,682.8 L463.8,682.0 L464.5,682.4 L464.7,684.0 L464.3,685.4 L464.0,685.6 L464.2,684.6 L465.1,683.3 L466.1,682.9" stroke="#a07060" stroke-width="0.84"/><path d="M473.1,693.9 L471.9,694.7 L471.1,695.1 L471.4,695.1 L472.5,694.9 L473.4,695.0 L473.4,695.6 L472.4,696.5 L471.3,697.1 L470.9,697.4 L471.6,697.2 L472.7,697.1 L473.3,697.4 L472.9,698.2 L471.8,699.0 L470.8,699.5 L470.9,699.5 L471.8,699.4 L472.9,699.4 L473.1,699.9" stroke="#a07060" stroke-width="0.84"/></g>
<ellipse cx="468" cy="673.2" rx="11.5" ry="5.0" fill="url(#hl)"/>
<circle cx="537" cy="683.3" r="20.2" fill="#3d3d3d" fill-opacity=".92" filter="url(#sh)"/>
<circle cx="537" cy="680.6" r="19.8" fill="url(#g_navy)"/>
<circle cx="537" cy="680.6" r="19.8" fill="url(#r_navy)"/>
<g fill="none" stroke-linecap="round" stroke-linejoin="round" opacity=".85"><path d="M523.9,688.7 L528.8,680.3" stroke="#209060" stroke-width="1.48"/><path d="M540.6,687.6 L542.2,675.7" stroke="#209060" stroke-width="1.48"/><path d="M532.4,688.2 L530.8,678.7" stroke="#209060" stroke-width="1.48"/><path d="M534.7,677.7 L531.4,667.8" stroke="#2040c0" stroke-width="1.48"/><path d="M540.9,686.3 L538.1,673.9" stroke="#2040c0" stroke-width="1.48"/><path d="M533.9,695.9 L535.2,687.2" stroke="#2040c0" stroke-width="1.48"/><path d="M548.1,685.0 L545.4,672.5" stroke="#c03040" stroke-width="1.48"/></g>
<ellipse cx="537" cy="667.7" rx="11.5" ry="5.0" fill="url(#hl)"/>
<circle cx="758" cy="680.3" r="20.2" fill="#3d3d3d" fill-opacity=".92" filter="url(#sh)"/>
<circle cx="758" cy="677.6" r="19.8" fill="url(#g_mint)"/>
<circle cx="758" cy="677.6" r="19.8" fill="url(#r_mint)"/>
<g fill="none" stroke-linecap="round" stroke-linejoin="round" opacity=".85"><path d="M751.7,688.7 L752.2,688.7 L751.6,688.4 L750.4,687.7 L749.5,687.1 L749.7,686.6 L750.7,686.5 L751.6,686.5 L751.4,686.4 L750.3,685.9 L749.2,685.2 L748.9,684.6 L749.7,684.4 L750.8,684.4 L751.1,684.3 L750.3,684.0 L749.0,683.3 L748.3,682.7 L748.7,682.3 L749.8,682.2 L750.5,682.2 L750.1,682.0 L749.0,681.4" stroke="#8a80b0" stroke-width="0.84"/><path d="M760.4,675.7 L761.0,675.8 L760.5,675.6 L759.4,674.9 L758.5,674.0 L758.5,673.5 L759.5,673.4 L760.5,673.5 L760.8,673.6 L760.0,673.1 L758.8,672.3 L758.2,671.6 L758.6,671.2 L759.7,671.2 L760.6,671.4 L760.4,671.3 L759.3,670.7 L758.3,669.8" stroke="#8a80b0" stroke-width="0.84"/><path d="M748.1,673.6 L747.0,674.7 L746.3,675.1 L746.8,674.8 L748.0,674.4 L748.9,674.5 L748.9,675.3 L747.9,676.5 L747.0,677.2 L746.9,677.2 L747.9,676.7 L749.1,676.5 L749.5,677.0 L748.9,678.1 L747.8,679.1 L747.3,679.5 L747.8,679.1 L749.0,678.7 L749.9,678.9 L749.8,679.8 L748.7,680.9 L747.8,681.6 L747.9,681.5 L748.9,681.0" stroke="#8a80b0" stroke-width="0.84"/><path d="M764.9,689.0 L765.6,689.4 L765.2,689.2 L764.2,688.3 L763.5,687.1 L763.7,686.4 L764.7,686.5 L765.9,687.0 L766.2,687.3 L765.5,686.8 L764.5,685.7 L764.0,684.6 L764.6,684.2 L765.8,684.5 L766.7,685.0 L766.6,685.1 L765.7,684.3 L764.8,683.1 L764.7,682.2 L765.5,682.1 L766.7,682.6 L767.4,683.0 L766.9,682.7 L765.9,681.8 L765.2,680.6" stroke="#8a80b0" stroke-width="0.84"/><path d="M759.1,672.6 L757.9,672.7 L757.0,672.9 L756.8,673.2 L757.4,673.6 L757.9,673.9 L757.7,674.0 L756.8,674.1 L755.6,674.2 L755.1,674.5 L755.4,674.9 L756.1,675.2 L756.3,675.4 L755.6,675.5 L754.4,675.6 L753.6,675.8 L753.6,676.2 L754.2,676.6 L754.6,676.8 L754.3,676.9 L753.3,677.0 L752.2,677.2" stroke="#8a80b0" stroke-width="0.84"/><path d="M770.3,674.6 L770.3,674.2 L769.5,674.0 L768.3,674.0 L767.7,674.0 L767.7,673.9 L768.3,673.6 L768.6,673.2 L768.1,672.8 L767.1,672.7 L766.1,672.8 L765.8,672.8 L766.1,672.5 L766.6,672.1 L766.6,671.7 L765.8,671.5 L764.7,671.5 L764.0,671.5 L764.0,671.4 L764.6,671.1" stroke="#8a80b0" stroke-width="0.84"/><path d="M762.4,678.6 L763.9,678.8 L765.4,679.0 L766.7,678.3 L767.9,677.4 L769.4,677.1 L770.8,677.6 L769.5,678.3 L768.0,678.6 L766.5,678.7 L765.0,678.5 L763.7,679.1" stroke="#8a80b0" stroke-width="0.59"/><path d="M762.3,675.6 L761.3,676.8 L760.7,678.1 L760.2,679.5 L760.4,681.0 L761.2,682.3 L761.7,683.7" stroke="#8a80b0" stroke-width="0.59"/><path d="M755.4,689.0 L756.8,689.6 L758.2,690.1 L759.4,690.9 L760.1,692.3 L760.0,690.8 L759.8,689.3 L759.0,688.1 L758.5,686.6 L758.1,685.2 L757.4,683.9 L756.4,682.7 L756.2,681.2 L756.0,679.8" stroke="#8a80b0" stroke-width="0.59"/></g>
<ellipse cx="758" cy="664.7" rx="11.5" ry="5.0" fill="url(#hl)"/>
<circle cx="872" cy="663.3" r="20.2" fill="#3d3d3d" fill-opacity=".92" filter="url(#sh)"/>
<circle cx="872" cy="660.6" r="19.8" fill="url(#g_mint)"/>
<circle cx="872" cy="660.6" r="19.8" fill="url(#r_mint)"/>
<g fill="none" stroke-linecap="round" stroke-linejoin="round" opacity=".85"><path d="M879.8,663.2 L880.0,662.9 L879.3,662.6 L878.1,662.4 L877.3,662.1 L877.2,661.8 L877.9,661.6 L878.6,661.3 L878.5,661.0 L877.6,660.8 L876.4,660.5 L875.8,660.2 L876.1,660.0 L876.9,659.7 L877.3,659.4 L877.0,659.2 L875.9,658.9 L874.8,658.6 L874.5,658.4 L875.0,658.1 L875.8,657.8 L876.0,657.6 L875.3,657.3 L874.1,657.0 L873.3,656.8" stroke="#8a80b0" stroke-width="0.84"/><path d="M873.3,652.9 L873.2,654.3 L873.0,654.6 L873.0,653.4 L873.5,651.9 L874.5,651.3 L875.3,652.3 L875.5,653.9 L875.3,654.9 L875.1,654.4 L875.4,652.9 L876.2,651.7 L877.1,651.8 L877.7,653.3 L877.7,654.8 L877.4,655.1 L877.4,653.9 L877.9,652.4 L878.9,651.8" stroke="#8a80b0" stroke-width="0.84"/><path d="M866.9,665.2 L867.4,665.1 L866.7,664.8 L865.5,664.2 L864.6,663.6 L864.8,663.2 L865.8,663.1 L866.6,663.0 L866.4,662.8 L865.4,662.4 L864.2,661.8 L863.9,661.3 L864.6,661.0 L865.6,660.9 L865.9,660.9 L865.2,660.5 L863.9,660.0 L863.2,659.4 L863.5,659.0 L864.5,658.9" stroke="#8a80b0" stroke-width="0.84"/><path d="M877.1,656.4 L876.0,657.4 L875.4,657.8 L875.8,657.6 L877.0,657.1 L878.0,657.2 L877.9,658.0 L877.0,659.2 L876.0,659.9 L875.9,659.9 L876.8,659.5 L878.0,659.3 L878.5,659.8 L877.9,660.8 L876.8,661.8 L876.2,662.2 L876.7,661.9 L878.0,661.5 L878.8,661.6 L878.7,662.5 L877.7,663.6 L876.7,664.3 L876.8,664.3 L877.8,663.8" stroke="#8a80b0" stroke-width="0.84"/><path d="M879.2,666.6 L879.9,666.9 L879.4,666.7 L878.3,665.8 L877.5,664.7 L877.8,664.1 L878.9,664.2 L880.0,664.6 L880.1,664.7 L879.2,664.1 L878.1,663.1 L877.8,662.2 L878.6,661.9 L879.8,662.2 L880.4,662.5 L880.0,662.3 L878.9,661.4 L878.1,660.3 L878.3,659.7 L879.4,659.8 L880.5,660.2 L880.6,660.3 L879.8,659.7 L878.7,658.7 L878.4,657.8 L879.1,657.5 L880.3,657.8" stroke="#8a80b0" stroke-width="0.84"/><path d="M877.3,669.9 L877.9,670.0 L877.4,669.8 L876.3,669.1 L875.4,668.1 L875.5,667.5 L876.5,667.5 L877.6,667.7 L877.8,667.8 L877.1,667.4 L875.9,666.5 L875.3,665.7 L875.8,665.2 L876.9,665.3 L877.8,665.6 L877.7,665.5 L876.7,664.9 L875.6,664.0 L875.3,663.2 L876.1,663.0 L877.2,663.2 L877.8,663.4 L877.4,663.1 L876.3,662.4 L875.4,661.5 L875.5,660.9" stroke="#8a80b0" stroke-width="0.84"/><path d="M863.9,670.0 L864.5,671.0 L864.2,670.8 L863.5,669.5 L863.3,668.0 L864.0,667.4 L865.2,668.1 L866.0,669.2 L866.0,669.5 L865.4,668.6 L864.9,667.0 L865.3,665.9 L866.4,666.2 L867.4,667.3 L867.8,668.0 L867.3,667.5 L866.6,666.0 L866.7,664.6 L867.5,664.4 L868.7,665.3 L869.4,666.3" stroke="#8a80b0" stroke-width="0.84"/><path d="M878.6,665.4 L879.2,666.2 L878.9,666.1 L878.1,664.8 L877.7,663.4 L878.3,662.7 L879.4,663.2 L880.4,664.1 L880.5,664.5 L879.8,663.7 L879.1,662.2 L879.3,661.1 L880.2,661.1 L881.4,662.0 L882.0,662.7 L881.5,662.4 L880.7,661.1 L880.4,659.7 L881.1,659.2 L882.3,659.8" stroke="#8a80b0" stroke-width="0.84"/><path d="M878.2,657.9 L877.0,658.8 L876.3,659.2 L876.8,659.1 L878.0,658.8 L878.8,659.1 L878.5,659.9 L877.3,660.8 L876.4,661.4 L876.5,661.3 L877.6,661.1 L878.6,661.2 L878.6,661.8 L877.6,662.8 L876.5,663.5 L876.3,663.6" stroke="#8a80b0" stroke-width="0.84"/><path d="M880.2,657.7 L879.3,657.6 L878.3,657.7 L877.9,658.0 L878.2,658.5 L878.6,658.8 L878.6,658.7 L877.9,658.6 L876.8,658.6 L876.1,658.8 L876.0,659.3 L876.4,659.6 L876.7,659.8 L876.3,659.7 L875.4,659.6 L874.4,659.7 L874.0,660.0 L874.2,660.5 L874.7,660.8 L874.7,660.8 L874.0,660.6 L872.9,660.6 L872.1,660.8 L872.0,661.2" stroke="#8a80b0" stroke-width="0.84"/></g>
<ellipse cx="872" cy="647.7" rx="11.5" ry="5.0" fill="url(#hl)"/>
<circle cx="1215" cy="704.3" r="20.2" fill="#3d3d3d" fill-opacity=".92" filter="url(#sh)"/>
<circle cx="1215" cy="701.6" r="19.8" fill="url(#g_mint)"/>
<circle cx="1215" cy="701.6" r="19.8" fill="url(#r_mint)"/>
<g fill="none" stroke-linecap="round" stroke-linejoin="round" opacity=".85"><path d="M1212.1,695.0 L1211.9,696.5 L1211.6,696.7 L1211.7,695.6 L1212.5,694.1 L1213.5,693.8 L1214.1,694.9 L1214.1,696.6 L1213.8,697.4 L1213.7,696.7 L1214.3,695.2 L1215.3,694.3 L1216.1,695.0 L1216.3,696.6 L1216.0,697.9 L1215.8,697.7 L1216.2,696.4" stroke="#8a80c0" stroke-width="0.84"/><path d="M1206.4,704.2 L1205.6,705.5 L1205.0,705.9 L1205.4,705.5 L1206.5,704.7 L1207.6,704.5 L1207.8,705.4 L1207.2,706.7 L1206.3,707.7 L1206.1,707.8 L1206.8,707.1 L1208.1,706.5 L1208.9,706.7 L1208.7,707.8 L1207.9,709.2 L1207.2,709.8 L1207.3,709.5 L1208.4,708.7 L1209.5,708.4" stroke="#8a80c0" stroke-width="0.84"/><path d="M1206.9,701.6 L1205.7,701.8 L1204.8,702.1 L1204.7,702.4 L1205.4,702.7 L1206.0,702.9 L1205.9,703.2 L1205.0,703.4 L1203.9,703.6 L1203.2,703.9 L1203.5,704.2 L1204.2,704.5 L1204.7,704.7 L1204.2,704.9 L1203.1,705.1 L1202.1,705.4 L1201.8,705.7 L1202.3,706.0 L1203.0,706.3" stroke="#8a80c0" stroke-width="0.84"/><path d="M1218.6,692.7 L1218.0,694.2 L1217.6,694.5 L1218.0,693.6 L1219.0,692.4 L1220.0,692.2 L1220.5,693.3 L1220.1,694.9 L1219.6,695.8 L1219.5,695.4 L1220.3,694.2 L1221.4,693.4 L1222.2,693.9 L1222.1,695.5 L1221.6,696.9 L1221.3,697.0 L1221.7,696.0 L1222.8,694.9" stroke="#8a80c0" stroke-width="0.84"/><path d="M1218.9,697.8 L1219.1,697.5 L1218.3,697.2 L1217.1,697.0 L1216.3,696.7 L1216.5,696.4 L1217.3,696.1 L1217.8,695.9 L1217.3,695.6 L1216.2,695.3 L1215.1,695.0 L1215.0,694.7 L1215.6,694.5 L1216.3,694.2 L1216.3,693.9 L1215.2,693.6 L1214.0,693.3 L1213.5,693.1 L1214.0,692.8 L1214.8,692.5" stroke="#8a80c0" stroke-width="0.84"/><path d="M1217.8,696.5 L1216.7,696.7 L1215.7,696.9 L1215.7,697.3 L1216.3,697.6 L1216.9,697.9 L1216.6,698.1 L1215.6,698.2 L1214.5,698.4 L1214.0,698.7 L1214.5,699.1 L1215.2,699.4 L1215.3,699.6 L1214.5,699.8 L1213.3,699.9 L1212.5,700.2" stroke="#8a80c0" stroke-width="0.84"/><path d="M1216.9,698.0 L1215.9,697.9 L1215.0,698.0 L1214.6,698.4 L1214.8,698.8 L1215.3,699.1 L1215.2,699.1 L1214.5,699.0 L1213.5,698.9 L1212.7,699.2 L1212.6,699.6 L1213.0,700.0 L1213.3,700.1 L1213.0,700.1 L1212.1,699.9 L1211.1,700.0 L1210.6,700.3 L1210.8,700.8 L1211.2,701.1 L1211.3,701.1 L1210.7,701.0 L1209.7,700.9" stroke="#8a80c0" stroke-width="0.84"/><path d="M1208.0,707.0 L1207.5,708.4 L1207.1,708.8 L1207.4,707.9 L1208.5,706.7 L1209.5,706.5 L1209.9,707.5 L1209.5,709.2 L1209.0,710.1 L1209.0,709.7 L1209.7,708.5 L1210.9,707.7 L1211.6,708.3 L1211.6,709.8 L1211.0,711.2 L1210.6,711.4 L1211.1,710.4 L1212.1,709.3 L1213.2,709.2 L1213.5,710.4" stroke="#8a80c0" stroke-width="0.84"/><path d="M1206.1,709.9 L1206.8,710.4 L1206.4,710.1 L1205.3,709.1 L1204.6,707.9 L1205.0,707.3 L1206.2,707.5 L1207.2,708.1 L1207.3,708.2 L1206.5,707.5 L1205.5,706.3 L1205.3,705.3 L1206.2,705.2 L1207.4,705.7 L1208.0,706.1 L1207.5,705.8" stroke="#8a80c0" stroke-width="0.84"/><path d="M1218.9,697.2 L1217.9,698.4 L1217.3,698.8 L1217.7,698.4 L1218.9,697.7 L1220.0,697.7 L1220.1,698.5 L1219.3,699.8 L1218.4,700.8 L1218.3,700.8 L1219.1,700.1 L1220.3,699.6 L1221.0,700.0 L1220.7,701.1 L1219.8,702.4 L1219.1,702.9 L1219.4,702.6 L1220.5,701.9 L1221.6,701.7 L1221.9,702.5 L1221.2,703.8 L1220.2,704.8" stroke="#8a80c0" stroke-width="0.84"/><path d="M1214.0,700.4 L1214.2,700.1 L1213.5,699.9 L1212.3,699.6 L1211.5,699.4 L1211.5,699.1 L1212.2,698.8 L1212.8,698.6 L1212.7,698.3 L1211.7,698.0 L1210.5,697.8 L1210.0,697.5 L1210.3,697.3 L1211.1,697.0 L1211.5,696.7 L1211.0,696.5 L1209.9,696.2 L1208.8,696.0 L1208.6,695.7 L1209.2,695.5 L1209.9,695.2 L1210.0,694.9 L1209.2,694.6 L1208.0,694.4 L1207.3,694.1 L1207.4,693.9 L1208.1,693.6" stroke="#8a80c0" stroke-width="0.84"/><path d="M1217.7,711.3 L1217.9,712.7 L1217.7,712.8 L1217.5,711.5 L1217.8,709.9 L1218.6,709.3 L1219.5,710.2 L1220.1,711.7 L1220.0,712.5 L1219.7,711.8 L1219.7,710.2 L1220.3,709.0 L1221.3,709.2 L1222.1,710.6 L1222.3,711.9 L1222.0,711.9 L1221.8,710.6 L1222.2,709.0 L1223.0,708.5 L1223.9,709.4" stroke="#8a80c0" stroke-width="0.84"/><path d="M1223.6,710.9 L1224.2,711.3 L1223.8,711.1 L1222.8,710.1 L1222.1,709.0 L1222.3,708.3 L1223.4,708.4 L1224.5,708.9 L1224.7,709.1 L1224.0,708.6 L1222.9,707.5 L1222.6,706.4 L1223.3,706.1 L1224.5,706.5 L1225.3,706.9 L1225.0,706.8 L1224.0,706.0 L1223.2,704.8 L1223.3,704.0 L1224.3,704.1 L1225.5,704.6 L1225.8,704.8 L1225.2,704.4 L1224.1,703.3 L1223.6,702.2 L1224.2,701.8 L1225.4,702.1" stroke="#8a80c0" stroke-width="0.84"/><path d="M1205.6,706.7 L1206.0,707.9 L1205.8,707.8 L1205.3,706.5 L1205.3,704.9 L1206.1,704.3 L1207.2,705.1 L1207.9,706.4 L1207.9,706.9 L1207.4,706.0 L1207.1,704.3 L1207.6,703.3 L1208.7,703.6 L1209.6,704.9 L1209.9,705.8 L1209.5,705.4" stroke="#8a80c0" stroke-width="0.84"/></g>
<ellipse cx="1215" cy="688.7" rx="11.5" ry="5.0" fill="url(#hl)"/>
<circle cx="339" cy="726.3" r="20.2" fill="#3d3d3d" fill-opacity=".92" filter="url(#sh)"/>
<circle cx="339" cy="723.6" r="19.8" fill="url(#g_mint)"/>
<circle cx="339" cy="723.6" r="19.8" fill="url(#r_mint)"/>
<g fill="none" stroke-linecap="round" stroke-linejoin="round" opacity=".85"><path d="M338.1,731.6 L338.2,733.0 L337.9,733.1 L337.8,731.9 L338.3,730.3 L339.1,729.7 L340.0,730.6 L340.4,732.2 L340.3,733.1 L340.0,732.5 L340.2,731.0 L340.9,729.7 L341.8,729.9 L342.5,731.3 L342.6,732.7 L342.4,732.9 L342.3,731.7 L342.7,730.1 L343.6,729.5 L344.5,730.4 L344.9,732.0 L344.7,732.9 L344.5,732.3 L344.6,730.7 L345.3,729.5 L346.3,729.6 L347.0,731.1 L347.1,732.5 L346.8,732.7 L346.7,731.4 L347.1,729.8" stroke="#8a80b0" stroke-width="0.84"/><path d="M340.4,721.4 L340.7,722.7 L340.5,722.8 L340.2,721.5 L340.3,719.9 L341.1,719.2 L342.1,719.9 L342.7,721.4 L342.8,722.3 L342.4,721.7 L342.3,720.1 L342.7,718.8 L343.7,718.7 L344.6,719.9 L345.0,721.3 L344.8,721.6 L344.4,720.5 L344.5,718.8 L345.3,717.9 L346.2,718.5 L347.0,720.0 L347.1,721.0 L346.7,720.6 L346.5,719.1 L346.9,717.6 L347.8,717.4" stroke="#8a80b0" stroke-width="0.84"/><path d="M340.5,729.7 L340.2,731.1 L339.9,731.5 L340.0,730.5 L340.8,729.1 L341.7,728.5 L342.4,729.3 L342.5,730.9 L342.2,732.1 L342.0,732.0 L342.3,730.7 L343.2,729.4 L344.2,729.3 L344.7,730.5 L344.6,732.1 L344.2,732.9 L344.1,732.3 L344.7,730.9 L345.7,729.9 L346.5,730.3 L346.8,731.8 L346.6,733.3 L346.2,733.6 L346.4,732.6 L347.1,731.2 L348.1,730.6 L348.8,731.4 L348.9,733.1 L348.5,734.2 L348.3,734.1 L348.7,732.8 L349.5,731.5" stroke="#8a80b0" stroke-width="0.84"/><path d="M337.0,723.0 L335.6,723.4 L334.1,723.4 L332.6,723.6 L331.2,724.3 L329.7,724.1 L328.2,724.0 L326.9,723.4 L328.4,723.7 L329.5,724.8 L330.5,725.8" stroke="#8a80b0" stroke-width="0.59"/></g>
<ellipse cx="339" cy="710.7" rx="11.5" ry="5.0" fill="url(#hl)"/>
<circle cx="626" cy="745.3" r="20.2" fill="#3d3d3d" fill-opacity=".92" filter="url(#sh)"/>
<circle cx="626" cy="742.6" r="19.8" fill="url(#g_rose)"/>
<circle cx="626" cy="742.6" r="19.8" fill="url(#r_rose)"/>
<g fill="none" stroke-linecap="round" stroke-linejoin="round" opacity=".85"><path d="M633.7,745.3 L634.4,744.0 L634.4,742.5 L633.9,741.1 L633.0,739.8 L631.8,739.0 L630.7,737.9 L629.4,737.1 L628.3,736.1" stroke="#d0c060" stroke-width="0.59"/></g>
<ellipse cx="626" cy="729.7" rx="11.5" ry="5.0" fill="url(#hl)"/>
<circle cx="716" cy="755.3" r="20.2" fill="#3d3d3d" fill-opacity=".92" filter="url(#sh)"/>
<circle cx="716" cy="752.6" r="19.8" fill="url(#g_lav)"/>
<circle cx="716" cy="752.6" r="19.8" fill="url(#r_lav)"/>
<g fill="none" stroke-linecap="round" stroke-linejoin="round" opacity=".85"><path d="M706.4,752.5 L705.1,753.6 L704.4,754.0 L704.8,753.8 L706.0,753.3 L707.1,753.4 L707.0,754.2 L706.0,755.3 L704.8,756.1 L704.6,756.1 L705.6,755.7 L706.9,755.5 L707.4,755.9 L706.8,757.0 L705.6,758.0 L704.8,758.4 L705.2,758.2 L706.5,757.8 L707.5,757.8 L707.5,758.6 L706.4,759.7 L705.3,760.5 L705.1,760.6 L706.0,760.2" stroke="#9050d0" stroke-width="0.79"/><path d="M724.2,742.9 L722.9,743.7 L722.0,744.2 L722.4,744.1 L723.5,743.9 L724.5,744.0 L724.5,744.7 L723.4,745.5 L722.1,746.2 L721.8,746.4 L722.6,746.2 L723.8,746.1 L724.4,746.5 L723.8,747.3 L722.5,748.1 L721.6,748.6 L721.8,748.5 L723.0,748.3 L724.0,748.4 L724.0,749.0 L723.0,749.9 L721.7,750.6 L721.3,750.8 L722.1,750.6" stroke="#9050d0" stroke-width="0.79"/><path d="M722.3,751.8 L721.0,752.7 L720.2,753.1 L720.6,753.0 L721.8,752.7 L722.8,752.8 L722.8,753.5 L721.7,754.4 L720.5,755.2 L720.2,755.4 L721.0,755.1 L722.2,754.9 L722.9,755.3 L722.4,756.1 L721.1,757.0 L720.2,757.6 L720.3,757.5 L721.5,757.2 L722.6,757.2 L722.8,757.8 L721.8,758.7 L720.6,759.5 L720.0,759.8 L720.7,759.6 L721.9,759.4 L722.8,759.6 L722.4,760.4 L721.2,761.4 L720.2,762.0 L720.1,762.0" stroke="#9050d0" stroke-width="0.79"/><path d="M711.2,753.0 L709.8,753.8 L709.0,754.2 L709.3,754.2 L710.5,754.0 L711.4,754.2 L711.3,754.8 L710.1,755.7 L708.9,756.3 L708.7,756.4 L709.6,756.3 L710.8,756.3 L711.1,756.7 L710.3,757.5 L709.0,758.2 L708.2,758.6 L708.7,758.5 L709.9,758.4 L710.7,758.6 L710.4,759.3 L709.2,760.1 L708.0,760.7 L708.0,760.8 L708.9,760.6 L710.1,760.7 L710.3,761.2 L709.4,761.9 L708.1,762.7 L707.5,763.0" stroke="#9050d0" stroke-width="0.79"/><path d="M718.1,752.0 L716.9,753.1 L716.2,753.6 L716.6,753.2 L717.8,752.6 L719.0,752.6 L719.1,753.4 L718.2,754.6 L717.1,755.6 L716.8,755.7 L717.6,755.1 L718.9,754.7 L719.7,755.0 L719.3,756.0 L718.2,757.2 L717.4,757.9 L717.5,757.6 L718.7,757.1 L719.9,756.8 L720.2,757.5 L719.5,758.7 L718.3,759.7 L717.8,760.0 L718.5,759.6" stroke="#9050d0" stroke-width="0.79"/><path d="M718.9,738.1 L717.6,738.8 L716.7,739.2 L717.0,739.2 L718.1,739.1 L719.0,739.3 L718.9,739.9 L717.7,740.6 L716.5,741.2 L716.2,741.4 L717.0,741.3 L718.1,741.3 L718.6,741.7 L717.8,742.4 L716.5,743.1 L715.6,743.5 L715.9,743.5 L717.0,743.4 L717.9,743.6 L717.8,744.2 L716.6,744.9 L715.4,745.5 L715.1,745.7 L715.9,745.6 L717.0,745.7 L717.5,746.0 L716.8,746.7 L715.4,747.4 L714.6,747.8 L714.8,747.8 L715.9,747.8 L716.9,748.0 L716.7,748.5 L715.6,749.2" stroke="#9050d0" stroke-width="0.79"/><path d="M710.2,758.3 L708.7,758.6 L707.3,758.1 L706.2,757.1 L704.8,756.5 L703.3,756.5 L704.8,756.3 L706.2,755.9 L707.5,755.1 L708.9,754.6 L710.1,753.7 L710.8,752.3" stroke="#9070d0" stroke-width="0.59"/><path d="M704.9,753.5 L705.5,754.9 L706.5,756.0 L706.8,757.4 L707.2,758.9 L707.4,760.4 L707.8,761.8 L708.9,762.8 L710.3,763.3 L711.8,763.2" stroke="#9070d0" stroke-width="0.59"/><path d="M725.5,752.9 L724.0,753.0 L722.7,753.7 L721.6,754.6 L721.1,756.1 L720.9,757.6 L720.0,758.7 L719.0,759.9 L718.6,761.3 L717.6,762.4 L717.0,763.8 L716.4,765.1" stroke="#9070d0" stroke-width="0.59"/></g>
<ellipse cx="716" cy="739.7" rx="11.5" ry="5.0" fill="url(#hl)"/>
<circle cx="885" cy="726.3" r="20.2" fill="#3d3d3d" fill-opacity=".92" filter="url(#sh)"/>
<circle cx="885" cy="723.6" r="19.8" fill="url(#g_violet)"/>
<circle cx="885" cy="723.6" r="19.8" fill="url(#r_violet)"/>
<g fill="none" stroke-linecap="round" stroke-linejoin="round" opacity=".85"><path d="M879.5,721.0 L878.3,721.9 L877.6,722.3 L878.0,722.2 L879.2,721.9 L880.1,722.1 L879.8,722.9 L878.7,723.9 L877.7,724.5 L877.8,724.5 L878.9,724.2 L879.9,724.2 L880.1,724.8 L879.1,725.8 L878.0,726.6 L877.7,726.7 L878.5,726.5" stroke="#d04040" stroke-width="0.84"/><path d="M871.5,725.1 L871.5,726.5 L871.3,726.7 L871.3,725.5 L871.8,724.0 L872.7,723.5 L873.5,724.4 L873.8,726.1 L873.6,727.0 L873.4,726.3 L873.7,724.8 L874.5,723.6 L875.4,723.9 L876.0,725.5 L876.0,726.9 L875.7,726.9 L875.7,725.7 L876.3,724.1 L877.3,723.7 L878.0,724.8 L878.2,726.4 L878.0,727.2 L877.9,726.5 L878.2,724.9" stroke="#3070d0" stroke-width="0.84"/><path d="M870.8,720.4 L870.5,721.9 L870.1,722.2 L870.4,721.2 L871.2,719.9 L872.3,719.5 L872.8,720.5 L872.7,722.2 L872.3,723.2 L872.2,722.8 L872.7,721.5 L873.8,720.5 L874.6,720.8 L874.9,722.2 L874.5,723.8 L874.2,724.1 L874.4,723.2 L875.2,721.8 L876.3,721.4 L876.8,722.4 L876.7,724.0 L876.3,725.1 L876.2,724.8 L876.7,723.4 L877.7,722.4 L878.6,722.7 L878.9,724.1" stroke="#e09020" stroke-width="0.84"/><path d="M885.9,724.3 L886.3,725.5 L886.1,725.6 L885.7,724.3 L885.7,722.7 L886.4,721.9 L887.4,722.5 L888.2,723.9 L888.3,724.8 L888.0,724.4 L887.7,722.9 L887.9,721.4 L888.8,721.1 L889.8,722.1 L890.3,723.4 L890.3,723.9 L889.8,723.0 L889.7,721.4 L890.2,720.3 L891.2,720.5" stroke="#40b040" stroke-width="0.84"/><path d="M892.4,725.4 L893.6,724.5 L894.9,723.8 L896.1,722.9 L896.8,721.6 L896.8,720.1 L896.1,718.7 L895.0,717.7" stroke="#6040c0" stroke-width="0.59"/></g>
<ellipse cx="885" cy="710.7" rx="11.5" ry="5.0" fill="url(#hl)"/>
<circle cx="1063" cy="748.3" r="20.2" fill="#3d3d3d" fill-opacity=".92" filter="url(#sh)"/>
<circle cx="1063" cy="745.6" r="19.8" fill="url(#g_ygreen)"/>
<circle cx="1063" cy="745.6" r="19.8" fill="url(#r_ygreen)"/>
<g fill="none" stroke-linecap="round" stroke-linejoin="round" opacity=".85"><path d="M1068.7,751.6 L1069.3,751.9 L1068.9,751.7 L1067.9,750.8 L1067.1,749.7 L1067.3,749.1 L1068.3,749.1 L1069.4,749.5 L1069.7,749.7 L1068.9,749.2 L1067.9,748.2 L1067.4,747.2 L1068.0,746.8 L1069.2,747.1 L1070.0,747.5 L1069.9,747.4 L1068.9,746.7 L1067.9,745.6 L1067.9,744.8 L1068.8,744.7 L1070.0,745.1" stroke="#707060" stroke-width="0.84"/><path d="M1074.4,742.1 L1073.3,743.1 L1072.6,743.6 L1072.9,743.4 L1074.1,743.0 L1075.1,743.0 L1075.1,743.7 L1074.2,744.8 L1073.2,745.6 L1072.9,745.7 L1073.6,745.4 L1074.8,745.1 L1075.5,745.4 L1075.2,746.3 L1074.1,747.4 L1073.2,747.9 L1073.4,747.8 L1074.4,747.4 L1075.5,747.3 L1075.8,747.9 L1075.1,749.0 L1074.0,749.9 L1073.5,750.2 L1074.0,749.9 L1075.2,749.5" stroke="#707060" stroke-width="0.84"/><path d="M1062.3,750.9 L1061.1,751.5 L1060.3,751.9 L1060.5,752.0 L1061.6,751.9 L1062.4,752.1 L1062.2,752.7 L1061.1,753.4 L1060.0,753.9 L1059.8,754.1 L1060.6,754.1 L1061.6,754.2 L1061.9,754.6 L1061.2,755.2 L1060.0,755.9 L1059.2,756.2 L1059.6,756.3 L1060.6,756.3" stroke="#707060" stroke-width="0.84"/><path d="M1070.4,752.5 L1069.2,753.4 L1067.7,753.8 L1066.2,753.9 L1064.7,754.0 L1063.3,753.6 L1061.9,753.2 L1060.5,752.6 L1059.0,752.6" stroke="#909080" stroke-width="0.59"/></g>
<ellipse cx="1063" cy="732.7" rx="11.5" ry="5.0" fill="url(#hl)"/>
<circle cx="254" cy="810.8" r="20.2" fill="#3d3d3d" fill-opacity=".92" filter="url(#sh)"/>
<circle cx="254" cy="808.1" r="19.8" fill="url(#g_lav)"/>
<circle cx="254" cy="808.1" r="19.8" fill="url(#r_lav)"/>
<g fill="none" stroke-linecap="round" stroke-linejoin="round" opacity=".85"><path d="M258.7,807.0 L257.8,808.3 L257.2,808.7 L257.6,808.2 L258.8,807.5 L259.8,807.4 L260.0,808.3 L259.3,809.6 L258.4,810.6 L258.3,810.6 L259.1,809.8 L260.4,809.3 L261.1,809.6 L260.8,810.9 L259.9,812.1 L259.3,812.7 L259.6,812.2 L260.7,811.5 L261.8,811.3 L262.1,812.1 L261.4,813.5 L260.5,814.5" stroke="#c02050" stroke-width="0.84"/><path d="M247.5,809.4 L248.0,810.6 L247.7,810.6 L247.3,809.4 L247.2,807.8 L247.8,807.0 L248.8,807.5 L249.7,808.8 L249.9,809.6 L249.5,809.2 L249.1,807.7 L249.2,806.3 L250.0,805.9 L251.1,806.8 L251.8,808.1 L251.7,808.5 L251.3,807.7 L251.0,806.1 L251.4,804.9 L252.3,805.0 L253.3,806.2 L253.8,807.3 L253.5,807.3 L253.0,806.0 L253.0,804.4 L253.6,803.7" stroke="#c02050" stroke-width="0.84"/><path d="M252.0,815.8 L251.0,817.0 L250.4,817.5 L250.9,817.0 L252.1,816.3 L253.1,816.2 L253.2,817.1 L252.4,818.5 L251.6,819.4 L251.5,819.3 L252.4,818.6 L253.7,818.1 L254.3,818.6 L253.9,819.8 L252.9,821.1 L252.4,821.5 L252.8,821.0 L254.0,820.3 L255.1,820.2 L255.1,821.2 L254.3,822.5 L253.5,823.4 L253.5,823.3 L254.4,822.6" stroke="#c02050" stroke-width="0.84"/><path d="M242.4,813.1 L243.0,814.0 L242.7,813.9 L242.0,812.7 L241.6,811.2 L242.2,810.5 L243.3,810.9 L244.3,812.0 L244.5,812.5 L243.9,811.8 L243.2,810.3 L243.3,809.1 L244.2,808.9 L245.4,809.8 L246.0,810.7 L245.8,810.7 L245.0,809.5 L244.7,808.0 L245.2,807.2 L246.3,807.6 L247.3,808.7 L247.5,809.2 L246.9,808.6 L246.3,807.1 L246.3,805.8 L247.2,805.7" stroke="#c02050" stroke-width="0.84"/><path d="M248.9,808.9 L247.8,809.9 L247.1,810.3 L247.4,810.2 L248.5,809.8 L249.5,809.9 L249.6,810.5 L248.7,811.5 L247.6,812.3 L247.2,812.5 L247.9,812.2 L249.1,812.0 L249.8,812.3 L249.5,813.1 L248.4,814.1 L247.5,814.7 L247.6,814.7 L248.5,814.3 L249.6,814.3 L250.0,814.8 L249.2,815.7 L248.1,816.6 L247.5,817.0 L248.0,816.8" stroke="#c02050" stroke-width="0.84"/><path d="M251.3,812.9 L250.5,814.1 L249.9,814.6 L250.3,814.1 L251.4,813.4 L252.4,813.2 L252.7,814.0 L252.1,815.3 L251.2,816.4 L250.9,816.5 L251.6,815.8 L252.8,815.2 L253.7,815.3 L253.6,816.4 L252.8,817.7 L252.0,818.5 L252.1,818.2 L253.1,817.5 L254.3,817.1 L254.8,817.6 L254.4,818.9 L253.5,820.1" stroke="#c02050" stroke-width="0.84"/><path d="M258.2,811.9 L258.7,813.0 L258.5,813.1 L258.0,811.9 L257.9,810.2 L258.6,809.5 L259.6,810.0 L260.5,811.4 L260.6,812.2 L260.2,811.7 L259.9,810.1 L260.1,808.7 L260.9,808.5 L262.0,809.5 L262.6,810.7 L262.5,811.1 L262.0,810.1 L261.8,808.4" stroke="#c02050" stroke-width="0.84"/><path d="M258.0,799.6 L257.3,799.3 L256.3,799.3 L255.6,799.6 L255.5,800.0 L255.8,800.1 L255.9,799.9 L255.4,799.5 L254.5,799.3 L253.7,799.5 L253.3,799.9 L253.4,800.2 L253.7,800.2 L253.5,799.8 L252.7,799.5 L251.8,799.5 L251.1,799.9" stroke="#c02050" stroke-width="0.84"/><path d="M260.2,818.4 L260.8,818.7 L260.3,818.4 L259.1,817.5 L258.3,816.6 L258.6,816.0 L259.7,816.1 L260.7,816.4 L260.7,816.4 L259.7,815.7 L258.6,814.7 L258.4,814.0 L259.3,813.8 L260.4,814.0 L260.9,814.2 L260.3,813.8 L259.1,813.0 L258.4,812.0 L258.9,811.6" stroke="#c02050" stroke-width="0.84"/><path d="M261.8,806.9 L260.8,807.9 L260.1,808.4 L260.4,808.1 L261.6,807.7 L262.6,807.7 L262.7,808.4 L261.9,809.5 L260.8,810.4 L260.5,810.5 L261.2,810.2 L262.4,809.8 L263.1,810.1 L262.9,811.0 L261.8,812.1 L261.0,812.7 L261.0,812.6 L262.0,812.2 L263.1,812.0 L263.5,812.5" stroke="#c02050" stroke-width="0.84"/><path d="M247.1,811.6 L246.6,811.1 L245.7,811.0 L244.8,811.2 L244.4,811.5 L244.6,811.6 L244.9,811.3 L244.8,810.9 L244.1,810.6 L243.1,810.6 L242.4,810.9 L242.3,811.2 L242.6,811.1 L242.7,810.7 L242.3,810.3 L241.4,810.1 L240.5,810.3 L240.1,810.6 L240.2,810.7 L240.5,810.4" stroke="#c02050" stroke-width="0.84"/><path d="M243.7,808.7 L244.4,809.5 L244.1,809.3 L243.3,808.2 L242.7,806.8 L243.1,806.1 L244.2,806.3 L245.3,807.2 L245.6,807.7 L245.0,807.2 L244.2,805.8 L244.0,804.6 L244.7,804.2 L245.9,804.8 L246.7,805.6 L246.7,805.7" stroke="#c02050" stroke-width="0.84"/></g>
<ellipse cx="254" cy="795.2" rx="11.5" ry="5.0" fill="url(#hl)"/>
<circle cx="380" cy="789.3" r="10.3" fill="#3d3d3d" fill-opacity=".92" filter="url(#sh)"/>
<circle cx="380" cy="786.6" r="9.9" fill="url(#g_ygreen)"/>
<circle cx="380" cy="786.6" r="9.9" fill="url(#r_ygreen)"/>
<ellipse cx="380" cy="780.2" rx="5.7" ry="2.5" fill="url(#hl)"/>
<circle cx="507" cy="789.3" r="20.2" fill="#3d3d3d" fill-opacity=".92" filter="url(#sh)"/>
<circle cx="507" cy="786.6" r="19.8" fill="url(#g_rose)"/>
<circle cx="507" cy="786.6" r="19.8" fill="url(#r_rose)"/>
<g fill="none" stroke-linecap="round" stroke-linejoin="round" opacity=".85"><path d="M504.0,787.3 L503.1,788.6 L502.5,789.0 L502.9,788.6 L504.0,787.9 L505.1,787.7 L505.4,788.5 L504.7,789.8 L503.8,790.8 L503.5,790.9 L504.3,790.3 L505.5,789.7 L506.3,789.9 L506.2,791.0 L505.3,792.3 L504.6,793.0 L504.7,792.7 L505.7,792.0 L506.8,791.6 L507.3,792.2 L506.9,793.5" stroke="#c050b0" stroke-width="0.84"/><path d="M512.1,780.9 L511.5,780.6 L510.5,780.5 L509.8,780.8 L509.6,781.2 L509.9,781.3 L510.0,781.0 L509.5,780.6 L508.6,780.4 L507.7,780.7 L507.4,781.1 L507.5,781.2 L507.8,781.0 L507.5,780.6 L506.7,780.3 L505.7,780.5 L505.2,780.9" stroke="#c050b0" stroke-width="0.84"/><path d="M500.3,792.5 L501.0,793.0 L500.6,792.8 L499.6,791.8 L498.9,790.6 L499.2,789.9 L500.3,790.1 L501.4,790.7 L501.6,790.9 L500.8,790.3 L499.8,789.1 L499.5,788.1 L500.3,787.8 L501.5,788.2 L502.3,788.7 L502.0,788.6 L501.0,787.6 L500.2,786.4 L500.4,785.7 L501.5,785.8" stroke="#c050b0" stroke-width="0.84"/><path d="M503.5,782.0 L502.4,783.1 L501.8,783.5 L502.3,783.1 L503.5,782.7 L504.5,782.8 L504.3,783.7 L503.3,784.9 L502.4,785.6 L502.5,785.5 L503.6,785.0 L504.8,784.8 L505.1,785.5 L504.3,786.7 L503.2,787.6 L502.9,787.8 L503.7,787.3 L505.0,786.9 L505.6,787.3 L505.1,788.4" stroke="#c050b0" stroke-width="0.84"/><path d="M496.2,784.4 L496.2,785.8 L495.9,786.1 L495.9,784.9 L496.6,783.3 L497.5,782.9 L498.3,783.9 L498.5,785.5 L498.2,786.4 L498.1,785.8 L498.4,784.2 L499.3,783.2 L500.2,783.5 L500.7,785.1 L500.6,786.5 L500.3,786.5 L500.4,785.2 L501.1,783.8 L502.0,783.4 L502.7,784.6 L502.9,786.2 L502.6,787.0 L502.5,786.2 L502.9,784.6 L503.8,783.7" stroke="#c050b0" stroke-width="0.84"/><path d="M513.1,784.2 L513.5,784.1 L512.9,783.8 L511.7,783.3 L510.7,782.8 L510.8,782.4 L511.6,782.2 L512.4,782.1 L512.5,781.9 L511.6,781.6 L510.3,781.1 L509.7,780.6 L510.1,780.3 L511.1,780.2 L511.7,780.0 L511.3,779.8 L510.2,779.4 L509.1,778.9 L508.9,778.5 L509.6,778.2 L510.5,778.1 L510.8,777.9" stroke="#c050b0" stroke-width="0.84"/></g>
<ellipse cx="507" cy="773.7" rx="11.5" ry="5.0" fill="url(#hl)"/>
<circle cx="788" cy="810.8" r="20.2" fill="#3d3d3d" fill-opacity=".92" filter="url(#sh)"/>
<circle cx="788" cy="808.1" r="19.8" fill="url(#g_pink)"/>
<circle cx="788" cy="808.1" r="19.8" fill="url(#r_pink)"/>
<g fill="none" stroke-linecap="round" stroke-linejoin="round" opacity=".85"><path d="M792.4,816.5 L792.5,818.0 L792.2,818.1 L792.2,816.9 L792.7,815.3 L793.7,814.8 L794.5,815.9 L794.7,817.6 L794.5,818.3 L794.3,817.5 L794.7,815.9 L795.5,814.9 L796.4,815.4 L796.9,817.0 L796.9,818.2 L796.6,818.0 L796.7,816.6 L797.4,815.2 L798.3,815.1 L799.0,816.4 L799.2,817.9 L798.9,818.4" stroke="#b050a0" stroke-width="0.84"/><path d="M783.7,808.4 L784.3,809.2 L784.0,809.1 L783.2,807.9 L782.8,806.4 L783.3,805.7 L784.5,806.1 L785.5,807.1 L785.7,807.6 L785.0,806.9 L784.3,805.4 L784.3,804.2 L785.2,804.0 L786.4,804.9 L787.1,805.7 L786.8,805.6 L786.0,804.5 L785.6,803.0 L786.0,802.2 L787.2,802.6 L788.2,803.6 L788.4,804.1 L787.8,803.4 L787.1,802.0 L787.1,800.8" stroke="#b050a0" stroke-width="0.84"/><path d="M787.6,807.5 L787.4,807.1 L786.5,806.9 L785.5,807.0 L784.9,807.2 L785.0,807.2 L785.4,806.9 L785.6,806.4 L785.1,806.1 L784.1,806.0 L783.2,806.2 L782.9,806.3 L783.1,806.2 L783.5,805.8 L783.4,805.4 L782.7,805.1 L781.7,805.2 L780.9,805.3 L780.9,805.4 L781.3,805.1 L781.5,804.7 L781.2,804.3 L780.2,804.2 L779.3,804.3 L778.8,804.5 L779.0,804.4 L779.4,804.1" stroke="#b050a0" stroke-width="0.84"/><path d="M791.8,821.5 L792.4,821.6 L791.9,821.4 L790.7,820.6 L789.9,819.7 L790.1,819.2 L791.1,819.1 L792.1,819.4 L792.2,819.4 L791.2,818.8 L790.1,817.9 L789.7,817.1 L790.5,816.9 L791.6,817.0 L792.2,817.2 L791.7,816.9 L790.5,816.1 L789.7,815.3 L789.9,814.7 L791.0,814.7" stroke="#b050a0" stroke-width="0.84"/><path d="M791.5,811.8 L790.8,811.4 L789.9,811.4 L789.2,811.7 L789.0,812.1 L789.2,812.3 L789.4,812.1 L789.1,811.8 L788.3,811.5 L787.4,811.6 L786.8,812.0 L786.8,812.3 L787.1,812.4 L787.1,812.1 L786.6,811.8 L785.7,811.6 L784.9,811.8 L784.5,812.2 L784.7,812.5 L784.9,812.5 L784.8,812.1 L784.1,811.8 L783.2,811.8 L782.5,812.1 L782.3,812.5 L782.6,812.7 L782.7,812.5" stroke="#b050a0" stroke-width="0.84"/><path d="M776.0,805.5 L776.1,807.0 L775.9,807.2 L775.8,806.0 L776.2,804.5 L777.1,803.8 L778.0,804.6 L778.4,806.2 L778.3,807.2 L778.0,806.9 L778.1,805.4 L778.7,804.1 L779.7,803.9 L780.4,805.1 L780.6,806.7 L780.4,807.3 L780.2,806.4 L780.5,804.8 L781.3,803.8 L782.2,804.3 L782.8,805.8 L782.8,807.1 L782.5,807.1 L782.5,805.8 L783.0,804.3" stroke="#b050a0" stroke-width="0.84"/><path d="M779.2,812.4 L779.6,813.5 L779.4,813.6 L778.9,812.3 L778.8,810.7 L779.4,810.0 L780.5,810.5 L781.3,811.8 L781.5,812.6 L781.1,812.1 L780.7,810.6 L780.9,809.2 L781.7,808.9 L782.8,809.8 L783.4,811.1 L783.3,811.4 L782.9,810.5 L782.6,808.9 L783.1,807.8 L784.1,808.0 L785.0,809.2" stroke="#b050a0" stroke-width="0.84"/><path d="M787.8,813.7 L786.8,813.6 L785.9,813.8 L785.5,814.1 L785.8,814.6 L786.2,814.8 L786.2,814.8 L785.5,814.7 L784.4,814.7 L783.7,814.9 L783.6,815.3 L784.0,815.7 L784.3,815.9 L784.0,815.8 L783.1,815.7 L782.1,815.8 L781.6,816.1 L781.8,816.5" stroke="#b050a0" stroke-width="0.84"/><path d="M792.3,804.3 L792.8,804.3 L792.3,804.0 L791.0,803.4 L790.2,802.7 L790.3,802.2 L791.3,802.1 L792.2,802.2 L792.2,802.0 L791.2,801.6 L790.0,800.9 L789.6,800.2 L790.3,800.0 L791.4,800.0 L791.8,800.0 L791.2,799.7 L790.0,799.0" stroke="#b050a0" stroke-width="0.84"/><path d="M791.5,813.2 L790.9,812.9 L789.9,812.8 L789.1,813.1 L788.9,813.5 L789.1,813.5 L789.3,813.3 L789.0,812.8 L788.1,812.6 L787.2,812.8 L786.7,813.2 L786.8,813.4 L787.0,813.3 L787.0,812.8 L786.3,812.5 L785.3,812.5 L784.6,812.8 L784.5,813.2 L784.7,813.2 L784.8,812.9 L784.4,812.5 L783.5,812.3 L782.6,812.5 L782.2,812.9 L782.4,813.1" stroke="#b050a0" stroke-width="0.84"/></g>
<ellipse cx="788" cy="795.2" rx="11.5" ry="5.0" fill="url(#hl)"/>
<circle cx="675" cy="827.3" r="10.3" fill="#3d3d3d" fill-opacity=".92" filter="url(#sh)"/>
<circle cx="675" cy="824.6" r="9.9" fill="url(#g_mint)"/>
<circle cx="675" cy="824.6" r="9.9" fill="url(#r_mint)"/>
<ellipse cx="675" cy="818.2" rx="5.7" ry="2.5" fill="url(#hl)"/>
<circle cx="944" cy="789.8" r="20.2" fill="#3d3d3d" fill-opacity=".92" filter="url(#sh)"/>
<circle cx="944" cy="787.1" r="19.8" fill="url(#g_green)"/>
<circle cx="944" cy="787.1" r="19.8" fill="url(#r_green)"/>
<g fill="none" stroke-linecap="round" stroke-linejoin="round" opacity=".85"><path d="M948.5,787.5 L947.3,778.1" stroke="#2090a0" stroke-width="1.48"/><path d="M949.2,784.4 L950.2,783.3 L950.6,781.9 L950.5,780.4 L950.6,778.9 L950.9,777.4 L950.6,778.9 L949.5,779.9 L948.6,781.1" stroke="#30b050" stroke-width="0.59"/><path d="M935.3,782.3 L936.8,782.3 L938.3,782.2 L939.7,781.7 L941.0,780.9 L942.3,780.3 L943.3,779.1 L944.8,778.7 L946.2,778.5 L947.4,777.5 L948.7,776.8" stroke="#30b050" stroke-width="0.59"/><path d="M937.9,781.8 L937.8,783.3 L937.5,784.8 L937.5,786.3 L937.3,787.7 L936.7,789.1 L935.8,790.3 L934.4,790.8 L932.9,790.6 L931.5,790.1 L933.0,789.9" stroke="#30b050" stroke-width="0.59"/><circle cx="944.0" cy="793.1" r="0.69" fill="#405040"/><circle cx="943.1" cy="787.1" r="0.69" fill="#405040"/><circle cx="950.8" cy="794.2" r="0.69" fill="#405040"/><circle cx="941.9" cy="791.6" r="0.69" fill="#405040"/><circle cx="944.2" cy="788.8" r="0.69" fill="#405040"/><circle cx="937.7" cy="794.0" r="0.69" fill="#405040"/></g>
<ellipse cx="944" cy="774.2" rx="11.5" ry="5.0" fill="url(#hl)"/>
<circle cx="897" cy="827.6" r="20.2" fill="#3d3d3d" fill-opacity=".92" filter="url(#sh)"/>
<circle cx="897" cy="824.9" r="19.8" fill="url(#g_ygreen)"/>
<circle cx="897" cy="824.9" r="19.8" fill="url(#r_ygreen)"/>
<g fill="none" stroke-linecap="round" stroke-linejoin="round" opacity=".85"><path d="M888.1,824.4 L887.0,823.4 L885.9,822.4 L884.4,821.9 L885.7,822.7 L886.9,823.7 L887.7,824.9 L889.0,825.7 L890.1,826.7 L891.5,827.1 L892.6,828.2 L893.7,829.2" stroke="#909080" stroke-width="0.59"/><path d="M904.8,829.9 L903.5,830.6 L902.1,831.0 L900.6,830.6 L899.5,829.6 L898.0,829.3 L896.8,828.4" stroke="#909080" stroke-width="0.59"/><path d="M887.0,822.6 L888.5,822.9 L889.7,823.8 L891.0,824.4 L892.5,824.5 L894.0,824.5 L895.4,825.2 L896.7,825.8" stroke="#909080" stroke-width="0.59"/></g>
<ellipse cx="897" cy="812.0" rx="11.5" ry="5.0" fill="url(#hl)"/>
<circle cx="1039" cy="813.8" r="20.2" fill="#3d3d3d" fill-opacity=".92" filter="url(#sh)"/>
<circle cx="1039" cy="811.1" r="19.8" fill="url(#g_peri)"/>
<circle cx="1039" cy="811.1" r="19.8" fill="url(#r_peri)"/>
<g fill="none" stroke-linecap="round" stroke-linejoin="round" opacity=".85"><path d="M1036.2,805.7 L1035.1,805.9 L1034.2,806.1 L1034.1,806.4 L1034.7,806.8 L1035.3,807.1 L1035.2,807.3 L1034.3,807.4 L1033.1,807.6 L1032.5,807.9 L1032.7,808.2 L1033.5,808.5 L1033.8,808.8 L1033.3,809.0 L1032.2,809.1 L1031.2,809.3 L1031.0,809.6 L1031.5,810.0 L1032.2,810.3 L1032.2,810.5 L1031.4,810.6" stroke="#3060c0" stroke-width="0.84"/><path d="M1052.0,819.2 L1051.6,818.8 L1050.7,818.6 L1049.7,818.8 L1049.3,819.1 L1049.5,819.2 L1049.8,818.9 L1049.7,818.4 L1049.0,818.1 L1048.0,818.2 L1047.3,818.4 L1047.2,818.7 L1047.5,818.6 L1047.6,818.2 L1047.3,817.7 L1046.4,817.6 L1045.5,817.8 L1045.0,818.0 L1045.1,818.1 L1045.4,817.9 L1045.4,817.4 L1044.8,817.1" stroke="#3060c0" stroke-width="0.84"/><path d="M1050.5,808.9 L1049.6,808.7 L1048.6,808.8 L1048.2,809.2 L1048.3,809.6 L1048.7,809.9 L1048.7,809.9 L1048.1,809.7 L1047.0,809.6 L1046.3,809.8 L1046.1,810.2 L1046.5,810.6 L1046.8,810.8 L1046.5,810.6 L1045.6,810.5 L1044.6,810.5 L1044.1,810.8 L1044.2,811.3 L1044.6,811.6 L1044.7,811.6 L1044.1,811.4" stroke="#3060c0" stroke-width="0.84"/><path d="M1040.3,821.7 L1039.6,821.4 L1038.7,821.3 L1037.9,821.6 L1037.7,822.0 L1038.0,822.1 L1038.1,821.8 L1037.7,821.4 L1036.7,821.2 L1035.9,821.5 L1035.5,821.9 L1035.7,822.0 L1035.9,821.8 L1035.6,821.4 L1034.8,821.1 L1033.8,821.3 L1033.3,821.7" stroke="#3060c0" stroke-width="0.84"/><path d="M1039.0,820.8 L1038.7,822.2 L1038.3,823.7 L1038.1,825.2 L1037.8,823.7 L1038.0,822.2 L1037.4,820.8 L1037.0,819.4 L1036.4,818.0 L1035.6,816.7 L1034.4,815.8 L1032.9,815.5 L1031.5,816.0 L1030.0,815.8" stroke="#3060c0" stroke-width="0.59"/></g>
<ellipse cx="1039" cy="798.2" rx="11.5" ry="5.0" fill="url(#hl)"/>
<circle cx="1157" cy="810.3" r="20.2" fill="#3d3d3d" fill-opacity=".92" filter="url(#sh)"/>
<circle cx="1157" cy="807.6" r="19.8" fill="url(#g_peri)"/>
<circle cx="1157" cy="807.6" r="19.8" fill="url(#r_peri)"/>
<g fill="none" stroke-linecap="round" stroke-linejoin="round" opacity=".85"><path d="M1157.6,804.8 L1158.1,804.8 L1157.6,804.5 L1156.4,803.9 L1155.4,803.3 L1155.5,802.8 L1156.4,802.6 L1157.3,802.6 L1157.5,802.6 L1156.7,802.2 L1155.5,801.5 L1154.8,800.9 L1155.2,800.5 L1156.2,800.5 L1157.0,800.5 L1156.8,800.3" stroke="#3070d0" stroke-width="0.84"/><path d="M1152.5,813.0 L1152.9,814.3 L1152.6,814.4 L1152.3,813.0 L1152.5,811.4 L1153.3,810.8 L1154.3,811.7 L1154.9,813.1 L1154.9,813.8 L1154.5,813.0 L1154.4,811.3 L1155.0,810.2 L1156.0,810.4 L1156.8,811.8 L1157.1,813.0 L1156.8,812.8 L1156.5,811.4 L1156.8,809.8 L1157.6,809.4 L1158.6,810.4 L1159.2,811.9 L1159.0,812.4 L1158.7,811.4 L1158.7,809.7 L1159.3,808.7" stroke="#3070d0" stroke-width="0.84"/><path d="M1159.2,820.5 L1159.8,821.4 L1159.5,821.2 L1158.7,819.9 L1158.4,818.4 L1159.1,817.8 L1160.4,818.5 L1161.2,819.5 L1161.1,819.7 L1160.4,818.6 L1159.9,817.0 L1160.3,816.2 L1161.5,816.6 L1162.5,817.6 L1162.7,818.1 L1162.0,817.3" stroke="#3070d0" stroke-width="0.84"/><path d="M1148.3,801.0 L1148.5,802.4 L1148.3,802.6 L1148.1,801.4 L1148.4,799.8 L1149.2,799.1 L1150.1,799.8 L1150.7,801.4 L1150.6,802.4 L1150.4,802.0 L1150.3,800.5 L1150.9,799.1 L1151.8,798.9 L1152.6,800.1 L1152.9,801.6 L1152.7,802.1 L1152.5,801.2 L1152.7,799.6 L1153.4,798.6 L1154.4,799.0 L1155.0,800.4" stroke="#3070d0" stroke-width="0.84"/><path d="M1164.3,812.8 L1165.0,813.4 L1164.7,813.2 L1163.7,812.2 L1163.0,810.9 L1163.3,810.2 L1164.3,810.4 L1165.5,811.0 L1165.8,811.3 L1165.1,810.8 L1164.2,809.7 L1163.8,808.5 L1164.4,808.1 L1165.6,808.5 L1166.5,809.1 L1166.4,809.2 L1165.6,808.4 L1164.7,807.1 L1164.7,806.2 L1165.6,806.1 L1166.8,806.7 L1167.4,807.2 L1167.0,806.9 L1166.0,805.9" stroke="#30b060" stroke-width="0.84"/><path d="M1164.1,804.8 L1163.1,804.6 L1162.2,804.7 L1161.7,805.1 L1162.0,805.5 L1162.3,805.7 L1162.2,805.6 L1161.3,805.4 L1160.3,805.4 L1159.7,805.7 L1159.8,806.2 L1160.1,806.5 L1160.2,806.4 L1159.5,806.2 L1158.5,806.1 L1157.7,806.3 L1157.6,806.8" stroke="#30b060" stroke-width="0.84"/><path d="M1160.3,807.9 L1160.9,808.2 L1160.4,807.9 L1159.3,807.1 L1158.5,806.1 L1158.7,805.5 L1159.8,805.6 L1160.8,805.9 L1160.9,805.9 L1159.9,805.3 L1158.8,804.3 L1158.5,803.5 L1159.3,803.3 L1160.5,803.5 L1161.1,803.7 L1160.6,803.4" stroke="#30b060" stroke-width="0.84"/><path d="M1159.8,818.8 L1160.2,820.1 L1159.9,820.2 L1159.6,818.9 L1159.7,817.3 L1160.5,816.6 L1161.5,817.3 L1162.2,818.8 L1162.2,819.6 L1161.8,819.0 L1161.7,817.4 L1162.1,816.0 L1163.0,816.0 L1164.0,817.2 L1164.3,818.5 L1164.1,818.7 L1163.8,817.5 L1163.9,815.9 L1164.6,815.1 L1165.6,815.7 L1166.3,817.2 L1166.4,818.1 L1166.0,817.5 L1165.8,816.0 L1166.2,814.6" stroke="#30b060" stroke-width="0.84"/><path d="M1161.7,802.2 L1160.4,802.9 L1159.4,804.1 L1159.2,805.6 L1158.9,807.0 L1159.0,808.5 L1158.4,809.9" stroke="#e07030" stroke-width="0.59"/></g>
<ellipse cx="1157" cy="794.7" rx="11.5" ry="5.0" fill="url(#hl)"/>
<circle cx="485" cy="852.3" r="10.3" fill="#3d3d3d" fill-opacity=".92" filter="url(#sh)"/>
<circle cx="485" cy="849.6" r="9.9" fill="url(#g_rose)"/>
<circle cx="485" cy="849.6" r="9.9" fill="url(#r_rose)"/>
<ellipse cx="485" cy="843.2" rx="5.7" ry="2.5" fill="url(#hl)"/>
<circle cx="359" cy="873.8" r="10.3" fill="#3d3d3d" fill-opacity=".92" filter="url(#sh)"/>
<circle cx="359" cy="871.1" r="9.9" fill="url(#g_ygreen)"/>
<circle cx="359" cy="871.1" r="9.9" fill="url(#r_ygreen)"/>
<ellipse cx="359" cy="864.7" rx="5.7" ry="2.5" fill="url(#hl)"/>
<circle cx="540" cy="902.8" r="20.2" fill="#3d3d3d" fill-opacity=".92" filter="url(#sh)"/>
<circle cx="540" cy="900.1" r="19.8" fill="url(#g_rtan)"/>
<circle cx="540" cy="900.1" r="19.8" fill="url(#r_rtan)"/>
<g fill="none" stroke-linecap="round" stroke-linejoin="round" opacity=".85"><path d="M529.0,901.0 L528.0,902.1 L527.4,902.5 L527.7,902.2 L528.9,901.6 L529.9,901.6 L530.1,902.4 L529.3,903.6 L528.3,904.5 L528.1,904.6 L528.8,904.1 L530.1,903.6 L530.8,903.9 L530.5,904.9 L529.6,906.1 L528.8,906.8 L529.0,906.5 L530.0,906.0 L531.2,905.8 L531.5,906.4" stroke="#3080d0" stroke-width="0.84"/><path d="M546.5,892.5 L545.9,894.0 L545.5,894.4 L545.8,893.5 L546.9,892.4 L547.9,892.1 L548.3,893.1 L548.0,894.7 L547.4,895.7 L547.3,895.5 L548.0,894.3 L549.1,893.5 L550.0,893.8 L550.0,895.2 L549.4,896.7 L549.0,897.1 L549.3,896.4 L550.3,895.2 L551.3,894.8 L551.8,895.8 L551.5,897.4 L550.9,898.5 L550.7,898.3" stroke="#3080d0" stroke-width="0.84"/><path d="M547.5,893.4 L546.6,893.1 L545.7,893.2 L545.1,893.5 L545.2,894.0 L545.5,894.2 L545.6,894.1 L545.0,893.8 L544.1,893.7 L543.3,893.9 L543.0,894.3 L543.2,894.7 L543.5,894.8 L543.3,894.6 L542.5,894.3 L541.5,894.3 L540.9,894.6 L540.9,895.1" stroke="#3080d0" stroke-width="0.84"/><path d="M537.2,902.1 L536.0,902.4 L535.1,902.6 L535.0,902.9 L535.7,903.2 L536.3,903.5 L536.3,903.7 L535.4,904.0 L534.2,904.2 L533.6,904.5 L533.8,904.8 L534.6,905.0 L535.1,905.3 L534.7,905.6 L533.6,905.8 L532.5,906.1 L532.2,906.3 L532.7,906.6 L533.4,906.9 L533.7,907.1 L533.0,907.4 L531.8,907.6 L530.9,907.9 L530.9,908.2" stroke="#60c040" stroke-width="0.84"/><path d="M550.6,894.1 L550.1,893.7 L549.1,893.6 L548.3,893.9 L548.1,894.2 L548.3,894.3 L548.5,894.1 L548.2,893.6 L547.3,893.4 L546.4,893.5 L545.9,893.9 L545.9,894.2 L546.2,894.0 L546.2,893.6 L545.5,893.3 L544.6,893.3 L543.8,893.6 L543.6,893.9" stroke="#60c040" stroke-width="0.84"/><path d="M543.5,903.9 L544.1,904.1 L543.6,903.8 L542.5,903.1 L541.6,902.3 L541.7,901.7 L542.7,901.6 L543.7,901.8 L543.8,901.8 L543.0,901.3 L541.8,900.5 L541.3,899.8 L541.8,899.4 L543.0,899.5 L543.7,899.6 L543.4,899.4 L542.3,898.8 L541.3,898.0 L541.2,897.3 L542.1,897.2 L543.2,897.4 L543.5,897.4 L542.8,897.0 L541.6,896.2 L540.9,895.4 L541.3,895.0 L542.4,895.0" stroke="#60c040" stroke-width="0.84"/><path d="M536.9,910.7 L537.5,911.3 L537.2,911.1 L536.2,910.1 L535.5,908.8 L535.8,908.1 L537.0,908.3 L538.1,909.0 L538.3,909.2 L537.6,908.7 L536.6,907.4 L536.3,906.3 L537.1,906.0 L538.3,906.5 L539.1,907.1 L538.9,907.0 L537.9,906.1 L537.2,904.8 L537.3,904.0 L538.4,904.1 L539.6,904.7 L539.9,905.1 L539.3,904.6" stroke="#e08020" stroke-width="0.84"/><path d="M540.7,910.6 L541.1,911.8 L540.8,911.9 L540.5,910.6 L540.6,909.0 L541.4,908.3 L542.4,909.1 L543.1,910.6 L543.1,911.3 L542.7,910.6 L542.6,909.0 L543.0,907.7 L544.0,907.8 L544.9,909.1 L545.2,910.4 L545.0,910.4 L544.7,909.1 L544.8,907.4 L545.6,906.8 L546.6,907.6 L547.3,909.1 L547.2,909.8 L546.9,909.1 L546.7,907.4 L547.2,906.2" stroke="#e08020" stroke-width="0.84"/><path d="M548.6,907.6 L547.4,908.0 L546.5,908.3 L546.6,908.5 L547.4,908.7 L548.2,908.9 L548.1,909.3 L547.2,909.7 L546.0,910.1 L545.4,910.4 L545.8,910.6 L546.7,910.7 L547.3,911.0 L546.8,911.4 L545.7,911.9 L544.7,912.2 L544.5,912.5 L545.1,912.6 L546.0,912.8" stroke="#e08020" stroke-width="0.84"/><path d="M548.5,908.2 L548.2,907.7 L547.2,907.6 L546.3,907.8 L545.9,908.1 L546.0,908.1 L546.4,907.7 L546.2,907.3 L545.5,907.0 L544.5,907.1 L543.8,907.4 L543.8,907.5 L544.1,907.3 L544.2,906.8 L543.7,906.4 L542.7,906.4 L541.9,906.6 L541.6,906.9 L541.8,906.8 L542.1,906.4 L541.9,906.0 L541.0,905.8 L540.0,905.9 L539.5,906.2" stroke="#e08020" stroke-width="0.84"/><path d="M543.9,895.3 L544.5,895.4 L544.0,895.2 L542.8,894.4 L542.0,893.5 L542.1,893.0 L543.2,892.9 L544.2,893.2 L544.3,893.2 L543.5,892.7 L542.3,891.8 L541.8,891.0 L542.5,890.7 L543.6,890.8 L544.3,891.0 L544.0,890.8 L542.8,890.1 L541.9,889.2 L541.9,888.6 L542.9,888.5 L544.0,888.7 L544.2,888.8 L543.5,888.3" stroke="#d03020" stroke-width="0.84"/><path d="M551.5,899.9 L550.5,899.8 L549.6,900.0 L549.2,900.3 L549.5,900.8 L549.9,901.0 L549.8,901.0 L549.0,900.9 L548.0,900.9 L547.3,901.1 L547.3,901.6 L547.8,902.0 L548.0,902.0 L547.5,901.9 L546.4,901.8 L545.5,902.0" stroke="#d03020" stroke-width="0.84"/><path d="M537.1,892.9 L535.8,893.2 L535.0,893.5 L535.0,893.7 L535.8,894.0 L536.4,894.3 L536.2,894.6 L535.1,894.9 L533.9,895.2 L533.6,895.4 L534.1,895.7 L534.9,896.0 L535.1,896.3 L534.3,896.6 L533.1,896.9 L532.3,897.2 L532.5,897.4 L533.4,897.7 L533.9,898.0 L533.5,898.3 L532.3,898.6 L531.3,898.9 L531.0,899.1 L531.7,899.4 L532.5,899.7 L532.5,899.9" stroke="#d03020" stroke-width="0.84"/><path d="M541.9,905.8 L540.6,906.3 L539.8,906.7 L539.9,906.8 L540.9,906.9 L541.7,907.1 L541.5,907.6 L540.4,908.1 L539.3,908.6 L538.9,908.8 L539.5,908.9 L540.5,909.1 L540.9,909.4 L540.2,909.9 L539.0,910.5 L538.1,910.8 L538.3,910.9 L539.2,911.0 L540.0,911.3 L539.8,911.7 L538.8,912.3 L537.6,912.7 L537.3,913.0" stroke="#2030a0" stroke-width="0.84"/></g>
<ellipse cx="540" cy="887.2" rx="11.5" ry="5.0" fill="url(#hl)"/>
<circle cx="716" cy="894.8" r="20.2" fill="#3d3d3d" fill-opacity=".92" filter="url(#sh)"/>
<circle cx="716" cy="892.1" r="19.8" fill="url(#g_pink)"/>
<circle cx="716" cy="892.1" r="19.8" fill="url(#r_pink)"/>
<g fill="none" stroke-linecap="round" stroke-linejoin="round" opacity=".85"><path d="M714.2,884.3 L713.0,884.8 L712.1,885.1 L712.3,885.3 L713.2,885.4 L713.9,885.6 L713.8,886.1 L712.8,886.6 L711.6,887.0 L711.2,887.3 L711.7,887.4 L712.7,887.5 L713.1,887.8 L712.5,888.3 L711.3,888.8 L710.4,889.2 L710.4,889.4 L711.3,889.5 L712.1,889.7 L712.1,890.1 L711.1,890.6 L709.9,891.1 L709.4,891.3" stroke="#c040b0" stroke-width="0.84"/><path d="M729.0,889.5 L728.4,889.2 L727.4,889.1 L726.7,889.4 L726.6,889.8 L726.8,890.0 L726.9,889.9 L726.6,889.5 L725.8,889.3 L724.9,889.3 L724.4,889.7 L724.4,890.1 L724.7,890.2 L724.7,889.9 L724.2,889.5 L723.3,889.4 L722.5,889.6 L722.1,890.0 L722.3,890.3 L722.5,890.2 L722.4,889.9 L721.7,889.6 L720.7,889.6 L720.1,889.9 L719.9,890.3 L720.1,890.5 L720.3,890.3" stroke="#c040b0" stroke-width="0.84"/><path d="M713.0,880.5 L711.8,881.2 L711.0,881.5 L711.3,881.6 L712.3,881.5 L713.1,881.7 L713.1,882.2 L712.1,883.0 L710.9,883.5 L710.5,883.8 L711.2,883.7 L712.3,883.7 L712.8,884.1 L712.3,884.7 L711.1,885.4 L710.2,885.9 L710.3,885.9 L711.2,885.9 L712.2,886.0 L712.2,886.5 L711.3,887.2 L710.1,887.8 L709.6,888.1 L710.2,888.1 L711.2,888.1 L711.9,888.4" stroke="#c040b0" stroke-width="0.84"/><path d="M713.4,904.8 L714.1,905.5 L713.7,905.3 L712.8,904.2 L712.3,902.8 L712.7,902.2 L713.9,902.5 L714.9,903.3 L715.0,903.5 L714.3,902.8 L713.4,901.4 L713.4,900.4 L714.3,900.3 L715.5,900.9 L716.1,901.5 L715.7,901.3 L714.8,900.1" stroke="#c040b0" stroke-width="0.84"/><path d="M716.7,889.0 L716.2,888.6 L715.3,888.5 L714.4,888.7 L714.0,889.1 L714.2,889.2 L714.5,888.9 L714.3,888.5 L713.7,888.2 L712.7,888.2 L712.0,888.5 L711.9,888.8 L712.1,888.7 L712.3,888.3 L711.9,887.9 L711.1,887.7 L710.2,887.9 L709.7,888.2 L709.8,888.4 L710.1,888.2 L710.0,887.7" stroke="#c040b0" stroke-width="0.84"/><path d="M712.1,898.2 L712.3,899.6 L712.1,899.7 L711.8,898.3 L712.1,896.7 L712.9,896.1 L713.9,897.0 L714.4,898.5 L714.4,899.3 L714.1,898.5 L714.0,896.8 L714.6,895.6 L715.6,895.9 L716.4,897.3 L716.6,898.5 L716.4,898.5 L716.1,897.1 L716.5,895.5 L717.3,895.0 L718.3,896.1 L718.8,897.6 L718.7,898.1 L718.3,897.2 L718.4,895.6 L719.0,894.5 L720.0,894.9" stroke="#c040b0" stroke-width="0.84"/><path d="M720.8,893.5 L719.9,894.8 L719.4,895.2 L719.8,894.7 L720.9,893.9 L722.0,893.8 L722.2,894.6 L721.6,896.0 L720.7,897.0 L720.5,897.0 L721.3,896.3 L722.5,895.7 L723.3,896.0 L723.1,897.1 L722.3,898.5 L721.6,899.1 L721.9,898.7 L722.9,897.9 L724.1,897.6 L724.5,898.3 L723.9,899.7 L723.1,900.8 L722.7,901.0 L723.4,900.3 L724.6,899.6 L725.5,899.7 L725.4,900.8" stroke="#c040b0" stroke-width="0.84"/><path d="M723.9,899.4 L723.4,899.0 L722.5,898.9 L721.7,899.2 L721.4,899.5 L721.5,899.7 L721.8,899.4 L721.6,899.0 L720.9,898.7 L719.9,898.7 L719.3,899.1 L719.2,899.4 L719.4,899.3 L719.6,898.9 L719.1,898.5 L718.3,898.4 L717.4,898.6" stroke="#c040b0" stroke-width="0.84"/><path d="M706.5,897.9 L706.0,899.4 L705.6,899.7 L705.9,898.9 L706.8,897.7 L707.8,897.2 L708.4,898.0 L708.2,899.7 L707.7,900.8 L707.5,900.7 L708.0,899.6 L709.1,898.5 L710.0,898.5 L710.3,899.8 L710.0,901.3 L709.5,902.1 L709.5,901.6 L710.3,900.3 L711.3,899.5 L712.1,900.0 L712.1,901.5 L711.7,902.9 L711.3,903.2 L711.6,902.3 L712.5,901.1" stroke="#c040b0" stroke-width="0.84"/><path d="M724.3,897.2 L724.9,897.5 L724.5,897.3 L723.4,896.5 L722.6,895.4 L722.7,894.8 L723.8,894.8 L724.9,895.2 L725.2,895.3 L724.4,894.9 L723.3,893.9 L722.8,892.9 L723.3,892.5 L724.5,892.7 L725.4,893.1 L725.3,893.0 L724.3,892.4 L723.3,891.3 L723.1,890.5 L723.9,890.3 L725.1,890.6" stroke="#c040b0" stroke-width="0.84"/></g>
<ellipse cx="716" cy="879.2" rx="11.5" ry="5.0" fill="url(#hl)"/>
<circle cx="845" cy="899.8" r="20.2" fill="#3d3d3d" fill-opacity=".92" filter="url(#sh)"/>
<circle cx="845" cy="897.1" r="19.8" fill="url(#g_sky)"/>
<circle cx="845" cy="897.1" r="19.8" fill="url(#r_sky)"/>
<g fill="none" stroke-linecap="round" stroke-linejoin="round" opacity=".85"><path d="M855.3,898.1 L854.1,898.8 L853.3,899.2 L853.5,899.2 L854.5,899.2 L855.3,899.4 L855.3,899.9 L854.4,900.5 L853.2,901.1 L852.7,901.4 L853.2,901.4 L854.3,901.4 L854.9,901.7 L854.5,902.2 L853.4,902.9 L852.4,903.4 L852.2,903.5 L853.0,903.5" stroke="#2060b0" stroke-width="0.84"/><path d="M845.7,903.8 L845.2,905.3 L844.9,905.6 L845.2,904.6 L846.2,903.3 L847.2,903.1 L847.6,904.2 L847.3,905.9 L846.9,906.7 L846.9,906.1 L847.7,904.8 L848.8,904.1 L849.5,904.8 L849.4,906.4 L848.9,907.7 L848.7,907.6 L849.3,906.4 L850.3,905.3" stroke="#309060" stroke-width="0.84"/><path d="M847.3,906.8 L846.0,907.0 L845.1,907.3 L845.1,907.6 L845.9,907.9 L846.4,908.2 L846.1,908.4 L844.9,908.6 L843.8,908.9 L843.6,909.2 L844.2,909.5 L844.8,909.8 L844.8,910.0 L843.8,910.2 L842.6,910.4 L842.1,910.7" stroke="#309060" stroke-width="0.84"/><path d="M842.6,892.6 L842.8,894.0 L842.5,894.1 L842.4,892.8 L842.8,891.2 L843.7,890.7 L844.6,891.7 L845.0,893.3 L844.9,894.1 L844.6,893.3 L844.8,891.6 L845.5,890.5 L846.5,890.9 L847.1,892.5 L847.2,893.7 L846.9,893.6" stroke="#309060" stroke-width="0.84"/><path d="M847.5,895.6 L848.2,894.3 L849.4,893.4 L850.8,892.9 L852.3,892.8 L853.6,893.5 L854.4,894.8 L855.4,895.9 L856.7,896.6 L858.0,897.4 L856.6,897.0" stroke="#a08040" stroke-width="0.59"/></g>
<ellipse cx="845" cy="884.2" rx="11.5" ry="5.0" fill="url(#hl)"/>
<circle cx="959" cy="886.8" r="20.2" fill="#3d3d3d" fill-opacity=".92" filter="url(#sh)"/>
<circle cx="959" cy="884.1" r="19.8" fill="url(#g_ygreen)"/>
<circle cx="959" cy="884.1" r="19.8" fill="url(#r_ygreen)"/>
<g fill="none" stroke-linecap="round" stroke-linejoin="round" opacity=".85"><path d="M957.6,892.2 L957.9,893.4 L957.7,893.5 L957.3,892.3 L957.5,890.6 L958.2,889.9 L959.2,890.7 L959.9,892.1 L959.9,892.9 L959.6,892.4 L959.4,890.8 L959.8,889.4 L960.8,889.4 L961.7,890.6 L962.1,891.9 L961.9,892.1 L961.6,891.0 L961.6,889.3 L962.3,888.5 L963.3,889.1 L964.1,890.5 L964.2,891.5 L963.8,891.0 L963.6,889.5 L964.0,888.1 L964.9,887.9 L965.8,889.0" stroke="#b060a0" stroke-width="0.84"/><path d="M945.9,882.9 L946.0,884.3 L945.8,884.5 L945.6,883.3 L946.1,881.7 L946.9,881.1 L947.8,882.0 L948.2,883.5 L948.1,884.4 L947.9,883.8 L948.0,882.3 L948.7,881.0 L949.6,881.2 L950.3,882.6 L950.4,884.0 L950.2,884.2 L950.1,882.9 L950.5,881.3 L951.4,880.7 L952.2,881.6 L952.7,883.2 L952.6,884.1 L952.3,883.5 L952.4,881.9 L953.1,880.7 L954.1,880.8 L954.7,882.2 L954.9,883.7" stroke="#b060a0" stroke-width="0.84"/><path d="M960.1,876.8 L960.2,878.3 L959.9,878.5 L959.9,877.2 L960.4,875.7 L961.3,875.1 L962.2,876.1 L962.5,877.7 L962.3,878.6 L962.1,878.0 L962.3,876.4 L963.1,875.2 L964.0,875.5 L964.6,877.0 L964.6,878.4 L964.4,878.5 L964.3,877.1 L964.9,875.6 L965.9,875.2 L966.6,876.3 L966.9,877.9 L966.7,878.7 L966.5,877.9 L966.8,876.3 L967.6,875.2 L968.6,875.7 L969.1,877.2 L969.0,878.5 L968.8,878.4" stroke="#b060a0" stroke-width="0.84"/><path d="M947.4,876.6 L947.2,878.1 L946.9,878.4 L947.0,877.4 L947.7,876.0 L948.7,875.4 L949.4,876.3 L949.5,877.9 L949.2,879.1 L949.0,878.8 L949.3,877.5 L950.2,876.3 L951.2,876.3 L951.6,877.6 L951.5,879.2 L951.1,879.8 L951.1,879.1 L951.8,877.6 L952.7,876.8 L953.5,877.4 L953.8,879.0 L953.5,880.3 L953.2,880.4 L953.4,879.2 L954.2,877.9 L955.2,877.6 L955.8,878.6 L955.8,880.3 L955.4,881.2" stroke="#b060a0" stroke-width="0.84"/></g>
<ellipse cx="959" cy="871.2" rx="11.5" ry="5.0" fill="url(#hl)"/>
<circle cx="1095" cy="873.3" r="20.2" fill="#3d3d3d" fill-opacity=".92" filter="url(#sh)"/>
<circle cx="1095" cy="870.6" r="19.8" fill="url(#g_green)"/>
<circle cx="1095" cy="870.6" r="19.8" fill="url(#r_green)"/>
<g fill="none" stroke-linecap="round" stroke-linejoin="round" opacity=".85"><path d="M1098.4,862.3 L1097.6,863.6 L1097.1,864.1 L1097.4,863.6 L1098.5,862.7 L1099.6,862.5 L1099.9,863.4 L1099.3,864.8 L1098.5,865.8 L1098.3,865.9 L1099.0,865.1 L1100.2,864.4 L1101.0,864.6 L1101.0,865.7 L1100.2,867.1 L1099.5,867.8 L1099.6,867.5 L1100.6,866.7 L1101.7,866.3 L1102.3,866.8" stroke="#9080b0" stroke-width="0.84"/><path d="M1097.4,877.2 L1096.2,878.0 L1095.5,878.4 L1095.7,878.4 L1096.8,878.2 L1097.7,878.3 L1097.8,878.8 L1096.9,879.7 L1095.7,880.4 L1095.3,880.7 L1095.9,880.5 L1097.0,880.4 L1097.7,880.6 L1097.4,881.3 L1096.3,882.2 L1095.3,882.8 L1095.2,882.9 L1096.1,882.7 L1097.2,882.6 L1097.6,883.0" stroke="#9080b0" stroke-width="0.84"/><path d="M1103.9,879.8 L1104.2,879.5 L1103.6,879.2 L1102.4,878.9 L1101.5,878.6 L1101.5,878.3 L1102.2,878.1 L1102.9,877.8 L1102.8,877.6 L1101.9,877.3 L1100.7,877.0 L1100.1,876.7 L1100.4,876.4 L1101.2,876.2 L1101.7,875.9 L1101.3,875.7 L1100.2,875.4 L1099.1,875.1 L1098.8,874.8 L1099.4,874.5 L1100.2,874.2 L1100.4,874.0 L1099.7,873.7 L1098.5,873.4 L1097.6,873.1" stroke="#9080b0" stroke-width="0.84"/><path d="M1088.4,870.4 L1089.2,871.7 L1090.4,872.7 L1091.1,874.0 L1092.3,874.8 L1093.8,874.9 L1095.2,875.5 L1096.3,876.5" stroke="#808080" stroke-width="0.59"/></g>
<ellipse cx="1095" cy="857.7" rx="11.5" ry="5.0" fill="url(#hl)"/>
<circle cx="423" cy="936.3" r="20.2" fill="#3d3d3d" fill-opacity=".92" filter="url(#sh)"/>
<circle cx="423" cy="933.6" r="19.8" fill="url(#g_tank)"/>
<circle cx="423" cy="933.6" r="19.8" fill="url(#r_tank)"/>
<g fill="none" stroke-linecap="round" stroke-linejoin="round" opacity=".85"><path d="M433.8,936.4 L432.6,935.5 L431.4,934.6 L429.9,934.5 L428.4,934.3 L427.0,933.7 L426.0,932.6 L425.1,931.4 L423.6,930.9 L422.5,929.9 L421.1,929.6 L419.6,929.2 L418.2,928.7 L417.1,927.7" stroke="#c060b0" stroke-width="0.59"/><path d="M419.2,929.4 L419.7,930.7 L419.6,932.2 L420.1,933.6 L420.5,935.1 L420.4,936.6 L421.0,937.9 L421.5,939.3 L421.9,940.8 L422.6,942.1 L423.4,943.4" stroke="#c060b0" stroke-width="0.59"/><path d="M417.3,940.6 L416.7,942.0 L415.7,943.1 L414.7,944.2 L415.3,942.8 L416.5,941.9 L418.0,941.9 L419.5,941.9 L420.9,941.3 L422.2,940.6 L423.5,939.8 L425.0,939.9" stroke="#c060b0" stroke-width="0.59"/><path d="M422.9,931.0 L423.5,932.0 L423.2,931.9 L422.5,930.7 L422.2,929.2 L422.7,928.4 L423.9,928.9 L424.8,929.9 L425.1,930.6 L424.5,930.0 L423.9,928.5 L423.9,927.2 L424.8,926.9 L425.9,927.8 L426.6,928.8 L426.5,928.9 L425.8,927.8 L425.4,926.3 L425.8,925.4 L426.9,925.6 L427.9,926.7 L428.3,927.4 L427.8,927.0" stroke="#c060b0" stroke-width="0.84"/></g>
<ellipse cx="423" cy="920.7" rx="11.5" ry="5.0" fill="url(#hl)"/>
<circle cx="737" cy="944.3" r="20.2" fill="#3d3d3d" fill-opacity=".92" filter="url(#sh)"/>
<circle cx="737" cy="941.6" r="19.8" fill="url(#g_peri)"/>
<circle cx="737" cy="941.6" r="19.8" fill="url(#r_peri)"/>
<g fill="none" stroke-linecap="round" stroke-linejoin="round" opacity=".85"><path d="M738.7,939.1 L738.5,929.4" stroke="#2060d0" stroke-width="1.48"/><path d="M726.9,946.3 L725.2,935.2" stroke="#2060d0" stroke-width="1.48"/><path d="M733.5,946.0 L733.9,945.8 L733.2,945.5 L731.9,945.1 L731.1,944.7 L731.2,944.4 L732.0,944.2 L732.7,944.0 L732.5,943.7 L731.4,943.4 L730.2,943.0 L729.9,942.6 L730.5,942.3 L731.4,942.1 L731.6,941.9 L730.8,941.6 L729.6,941.2 L728.8,940.8" stroke="#30b0c0" stroke-width="0.84"/><path d="M731.0,944.5 L731.2,945.8 L730.9,946.0 L730.8,944.7 L731.1,943.1 L732.0,942.5 L732.9,943.4 L733.4,945.0 L733.3,945.8 L733.0,945.1 L733.1,943.4 L733.7,942.2 L734.7,942.5 L735.4,943.9 L735.6,945.2 L735.3,945.2 L735.1,943.8 L735.5,942.3 L736.4,941.8 L737.3,942.8 L737.8,944.4" stroke="#30b0c0" stroke-width="0.84"/><path d="M731.9,943.1 L730.9,943.1 L729.9,943.2 L729.6,943.6 L729.9,944.0 L730.4,944.3 L730.3,944.3 L729.6,944.2 L728.5,944.2 L727.8,944.5 L727.8,944.9 L728.2,945.3 L728.5,945.5 L728.2,945.4 L727.2,945.3 L726.2,945.4 L725.7,945.8 L726.0,946.2 L726.5,946.5 L726.5,946.6 L725.9,946.5 L724.8,946.5 L724.0,946.7 L723.9,947.1 L724.3,947.5 L724.7,947.7" stroke="#30b0c0" stroke-width="0.84"/><path d="M752.0,943.7 L751.2,943.5 L750.2,943.5 L749.6,943.8 L749.6,944.3 L749.9,944.5 L750.0,944.3 L749.5,944.0 L748.5,943.9 L747.7,944.0 L747.4,944.5 L747.6,944.8 L747.8,944.9 L747.6,944.6 L746.9,944.3 L745.9,944.3 L745.3,944.7 L745.2,945.1 L745.5,945.3 L745.6,945.2 L745.2,944.9 L744.2,944.7 L743.4,944.9 L743.0,945.3 L743.2,945.7" stroke="#60c040" stroke-width="0.84"/><path d="M746.5,936.0 L745.6,937.3 L745.1,937.7 L745.4,937.3 L746.6,936.6 L747.6,936.4 L747.9,937.2 L747.2,938.5 L746.3,939.5 L746.1,939.6 L746.8,939.0 L748.0,938.4 L748.8,938.6 L748.7,939.7 L747.8,941.0 L747.1,941.7 L747.2,941.4 L748.2,940.7 L749.4,940.3 L749.9,940.9 L749.4,942.2 L748.5,943.3 L748.0,943.7 L748.5,943.1" stroke="#c03040" stroke-width="0.84"/></g>
<ellipse cx="737" cy="928.7" rx="11.5" ry="5.0" fill="url(#hl)"/>
<circle cx="1094" cy="936.3" r="10.3" fill="#3d3d3d" fill-opacity=".92" filter="url(#sh)"/>
<circle cx="1094" cy="933.6" r="9.9" fill="url(#g_green)"/>
<circle cx="1094" cy="933.6" r="9.9" fill="url(#r_green)"/>
<ellipse cx="1094" cy="927.2" rx="5.7" ry="2.5" fill="url(#hl)"/>
<circle cx="296" cy="978.3" r="20.2" fill="#3d3d3d" fill-opacity=".92" filter="url(#sh)"/>
<circle cx="296" cy="975.6" r="19.8" fill="url(#g_sky)"/>
<circle cx="296" cy="975.6" r="19.8" fill="url(#r_sky)"/>
<g fill="none" stroke-linecap="round" stroke-linejoin="round" opacity=".85"><path d="M302.0,985.0 L302.7,973.0" stroke="#2060d0" stroke-width="1.48"/><path d="M303.1,982.4 L296.8,972.2" stroke="#2060d0" stroke-width="1.48"/><path d="M301.6,990.5 L302.8,979.3" stroke="#30a060" stroke-width="1.48"/><path d="M301.2,973.8 L296.6,964.8" stroke="#30a060" stroke-width="1.48"/><path d="M301.8,974.4 L298.8,962.7" stroke="#d0c020" stroke-width="1.48"/><path d="M286.6,981.7 L285.2,982.4 L286.7,982.1 L288.1,981.6 L289.6,982.0 L291.1,982.2 L292.5,981.8 L294.0,981.8 L295.5,981.4 L296.8,980.8 L298.2,980.1 L299.6,979.9 L301.1,979.9" stroke="#c03040" stroke-width="0.59"/></g>
<ellipse cx="296" cy="962.7" rx="11.5" ry="5.0" fill="url(#hl)"/>
<circle cx="969" cy="957.8" r="20.2" fill="#3d3d3d" fill-opacity=".92" filter="url(#sh)"/>
<circle cx="969" cy="955.1" r="19.8" fill="url(#g_mint)"/>
<circle cx="969" cy="955.1" r="19.8" fill="url(#r_mint)"/>
<g fill="none" stroke-linecap="round" stroke-linejoin="round" opacity=".85"><path d="M961.6,952.9 L960.5,954.0 L959.8,954.4 L960.2,954.2 L961.4,953.7 L962.4,953.8 L962.4,954.6 L961.5,955.7 L960.5,956.5 L960.3,956.5 L961.2,956.1 L962.4,955.8 L962.9,956.3 L962.4,957.3 L961.3,958.3 L960.6,958.8 L961.0,958.5" stroke="#8070d0" stroke-width="0.84"/><path d="M963.4,960.1 L963.5,959.8 L962.7,959.5 L961.6,959.4 L960.8,959.3 L960.8,959.1 L961.4,958.8 L961.9,958.5 L961.7,958.1 L960.7,957.9 L959.6,957.8 L959.1,957.7 L959.4,957.5 L960.1,957.1 L960.3,956.8 L959.7,956.5 L958.6,956.4 L957.7,956.2 L957.5,956.1 L958.1,955.8 L958.6,955.5 L958.6,955.1 L957.7,954.9 L956.5,954.8" stroke="#8070d0" stroke-width="0.84"/><path d="M965.8,953.9 L964.7,954.9 L964.0,955.4 L964.4,955.1 L965.5,954.7 L966.5,954.8 L966.6,955.5 L965.7,956.5 L964.7,957.4 L964.4,957.5 L965.1,957.2 L966.3,956.9 L967.0,957.2 L966.7,958.1 L965.6,959.1 L964.8,959.7 L964.9,959.6 L965.9,959.2 L967.0,959.1 L967.4,959.7 L966.6,960.7 L965.5,961.6 L965.0,961.9 L965.6,961.7 L966.7,961.3" stroke="#8070d0" stroke-width="0.84"/><path d="M963.8,964.1 L964.1,963.9 L963.5,963.6 L962.2,963.2 L961.4,962.7 L961.5,962.4 L962.4,962.2 L963.1,962.0 L962.9,961.8 L961.8,961.4 L960.6,960.9 L960.3,960.5 L961.0,960.2 L961.9,960.1 L962.1,959.9 L961.3,959.6 L960.1,959.1 L959.3,958.7 L959.6,958.3 L960.5,958.2 L961.2,958.0 L960.8,957.7 L959.6,957.4 L958.5,956.9" stroke="#8070d0" stroke-width="0.84"/><path d="M976.3,966.6 L976.6,966.3 L975.8,966.0 L974.6,965.7 L973.8,965.4 L973.9,965.1 L974.7,964.9 L975.3,964.6 L975.0,964.3 L973.8,964.1 L972.7,963.7 L972.4,963.4 L973.1,963.2 L973.9,962.9 L974.0,962.6 L973.1,962.4 L971.9,962.1 L971.2,961.7 L971.4,961.5 L972.3,961.2 L972.8,960.9 L972.3,960.7 L971.1,960.4 L970.1,960.1 L969.9,959.8 L970.6,959.5" stroke="#8070d0" stroke-width="0.84"/><path d="M965.5,969.5 L966.2,970.3 L965.9,970.2 L965.1,969.1 L964.6,967.7 L965.0,966.9 L966.1,967.2 L967.1,968.0 L967.5,968.6 L966.9,968.1 L966.1,966.8 L965.9,965.5 L966.6,965.0 L967.8,965.6 L968.7,966.5 L968.6,966.7 L967.9,965.9 L967.2,964.4 L967.4,963.4 L968.3,963.4 L969.5,964.2 L970.1,964.9" stroke="#8070d0" stroke-width="0.84"/><path d="M962.8,950.5 L961.9,950.3 L960.9,950.4 L960.5,950.8 L960.6,951.2 L961.0,951.5 L961.0,951.4 L960.4,951.2 L959.4,951.1 L958.6,951.4 L958.4,951.8 L958.7,952.2 L959.0,952.3 L958.7,952.2 L957.9,952.0 L956.9,952.0 L956.3,952.4 L956.5,952.8 L956.8,953.1" stroke="#8070d0" stroke-width="0.84"/><path d="M971.7,956.3 L972.2,956.3 L971.6,956.1 L970.4,955.4 L969.5,954.7 L969.7,954.2 L970.7,954.1 L971.6,954.2 L971.6,954.1 L970.7,953.6 L969.5,952.9 L969.0,952.2 L969.7,951.9 L970.8,952.0 L971.3,952.0 L970.8,951.7 L969.6,951.1 L968.7,950.4 L968.8,949.9 L969.8,949.7 L970.7,949.8 L970.8,949.7 L969.8,949.3" stroke="#8070d0" stroke-width="0.84"/><path d="M963.3,965.0 L963.3,964.6 L962.4,964.3 L961.3,964.3 L960.6,964.2 L960.7,964.0 L961.3,963.7 L961.6,963.3 L961.1,963.0 L960.0,962.9 L959.0,962.8 L958.8,962.7 L959.4,962.4 L959.9,962.1 L959.7,961.7 L958.8,961.5 L957.6,961.4" stroke="#8070d0" stroke-width="0.84"/><path d="M956.5,959.8 L956.1,961.3 L955.7,961.6 L956.0,960.7 L956.9,959.4 L957.9,959.1 L958.5,960.0 L958.3,961.7 L957.8,962.7 L957.6,962.4 L958.2,961.2 L959.3,960.2 L960.2,960.5 L960.4,961.9 L959.9,963.4 L959.5,963.9 L959.7,963.1 L960.6,961.8 L961.7,961.3 L962.3,962.2 L962.1,963.8 L961.6,965.0 L961.4,964.8 L962.0,963.6 L963.1,962.5" stroke="#8070d0" stroke-width="0.84"/><path d="M957.6,954.9 L958.0,956.1 L957.8,956.0 L957.3,954.6 L957.4,953.0 L958.2,952.5 L959.3,953.4 L960.0,954.7 L959.9,955.2 L959.4,954.1 L959.2,952.4 L959.8,951.4 L960.9,952.0 L961.8,953.3 L961.9,954.1 L961.5,953.5" stroke="#8070d0" stroke-width="0.84"/><path d="M966.5,959.8 L965.8,959.5 L964.9,959.4 L964.2,959.7 L964.0,960.2 L964.3,960.3 L964.4,960.1 L964.0,959.7 L963.1,959.5 L962.2,959.7 L961.8,960.1 L961.9,960.4 L962.2,960.3 L962.0,960.0 L961.3,959.6 L960.4,959.6 L959.7,960.0 L959.6,960.4 L959.9,960.5 L960.0,960.2 L959.5,959.9 L958.6,959.7 L957.7,959.9 L957.4,960.3 L957.5,960.6" stroke="#8070d0" stroke-width="0.84"/><path d="M974.6,962.6 L975.2,962.8 L974.7,962.5 L973.6,961.7 L972.7,960.8 L972.9,960.2 L974.0,960.2 L975.0,960.5 L975.1,960.5 L974.2,960.0 L973.1,959.0 L972.7,958.2 L973.4,958.0 L974.6,958.2 L975.2,958.4 L974.8,958.1 L973.6,957.3 L972.8,956.4 L972.9,955.8 L974.0,955.8 L975.0,956.1 L975.1,956.1 L974.2,955.5 L973.1,954.6 L972.7,953.8" stroke="#8070d0" stroke-width="0.84"/><path d="M972.5,957.5 L973.2,958.2 L972.7,957.9 L971.8,956.7 L971.3,955.3 L972.0,954.8 L973.2,955.4 L974.1,956.1 L974.0,956.1 L973.0,955.1 L972.4,953.7 L972.8,952.9 L974.0,953.2 L975.0,954.0 L975.1,954.3" stroke="#8070d0" stroke-width="0.84"/></g>
<ellipse cx="969" cy="942.2" rx="11.5" ry="5.0" fill="url(#hl)"/>
<circle cx="716" cy="999.8" r="20.2" fill="#3d3d3d" fill-opacity=".92" filter="url(#sh)"/>
<circle cx="716" cy="997.1" r="19.8" fill="url(#g_tan)"/>
<circle cx="716" cy="997.1" r="19.8" fill="url(#r_tan)"/>
<g fill="none" stroke-linecap="round" stroke-linejoin="round" opacity=".85"><path d="M708.4,996.2 L707.6,997.6 L707.1,998.0 L707.5,997.4 L708.6,996.5 L709.6,996.3 L710.0,997.1 L709.4,998.6 L708.6,999.7 L708.5,999.6 L709.2,998.8 L710.4,998.0 L711.2,998.3 L711.2,999.5 L710.4,1000.9 L709.8,1001.6 L710.0,1001.1 L711.0,1000.2 L712.2,999.8 L712.6,1000.5 L712.2,1001.9" stroke="#e05020" stroke-width="0.84"/><path d="M714.9,997.0 L715.4,997.0 L714.8,996.7 L713.6,996.1 L712.7,995.4 L712.8,994.9 L713.8,994.8 L714.7,994.9 L714.8,994.8 L713.9,994.3 L712.7,993.6 L712.2,993.0 L712.7,992.7 L713.8,992.7 L714.4,992.7 L714.0,992.4" stroke="#e05020" stroke-width="0.84"/><path d="M715.5,990.9 L716.0,991.9 L715.7,991.8 L715.1,990.5 L714.9,988.9 L715.6,988.3 L716.8,989.0 L717.6,990.2 L717.6,990.6 L717.1,989.7 L716.6,988.0 L717.0,987.0 L718.1,987.2 L719.1,988.4 L719.5,989.2 L719.0,988.8 L718.4,987.3 L718.5,985.8 L719.3,985.6 L720.5,986.5 L721.2,987.6 L721.0,987.7 L720.3,986.5" stroke="#e05020" stroke-width="0.84"/><path d="M719.5,1003.5 L718.4,1003.6 L717.4,1003.8 L717.3,1004.2 L717.8,1004.6 L718.3,1004.8 L718.2,1005.0 L717.2,1005.0 L716.1,1005.2 L715.6,1005.5 L715.8,1005.8 L716.5,1006.2 L716.7,1006.4 L716.1,1006.5 L714.9,1006.5 L714.0,1006.8 L713.9,1007.1 L714.5,1007.5 L715.0,1007.8 L714.8,1007.9 L713.8,1007.9 L712.7,1008.1 L712.2,1008.4 L712.5,1008.8 L713.1,1009.1" stroke="#e05020" stroke-width="0.84"/><path d="M721.3,1009.8 L720.7,1009.5 L719.8,1009.4 L719.0,1009.6 L718.7,1010.0 L718.9,1010.1 L719.1,1009.8 L718.9,1009.4 L718.1,1009.1 L717.1,1009.2 L716.5,1009.6 L716.5,1009.8 L716.8,1009.7 L716.8,1009.3 L716.3,1008.9 L715.4,1008.9 L714.6,1009.1 L714.3,1009.5 L714.5,1009.5 L714.7,1009.3 L714.4,1008.8 L713.6,1008.6 L712.7,1008.7 L712.1,1009.1 L712.1,1009.3 L712.4,1009.2" stroke="#e05020" stroke-width="0.84"/><path d="M725.2,994.2 L724.6,995.7 L724.2,996.1 L724.5,995.3 L725.5,994.2 L726.6,993.9 L727.0,994.8 L726.7,996.4 L726.0,997.4 L725.9,997.3 L726.6,996.2 L727.7,995.3 L728.6,995.6 L728.6,996.9 L728.1,998.4 L727.6,999.0" stroke="#e05020" stroke-width="0.84"/><path d="M715.6,999.4 L714.5,1000.1 L713.7,1000.5 L713.9,1000.5 L714.9,1000.4 L715.8,1000.5 L715.9,1001.1 L714.9,1001.9 L713.8,1002.5 L713.3,1002.8 L713.9,1002.7 L715.0,1002.6 L715.7,1002.9 L715.3,1003.6 L714.2,1004.3 L713.2,1004.8 L713.1,1005.0 L714.0,1004.8 L715.0,1004.9 L715.3,1005.3 L714.6,1006.0 L713.4,1006.8 L712.7,1007.1" stroke="#e05020" stroke-width="0.84"/><path d="M724.4,996.8 L724.0,996.4 L723.1,996.3 L722.2,996.5 L721.8,996.8 L721.9,996.8 L722.2,996.6 L722.2,996.2 L721.5,995.8 L720.6,995.8 L719.8,996.1 L719.6,996.3 L719.8,996.3 L720.1,996.0 L719.8,995.5 L719.0,995.3" stroke="#e05020" stroke-width="0.84"/><path d="M722.6,1009.1 L722.1,1008.7 L721.2,1008.6 L720.4,1008.9 L720.1,1009.3 L720.2,1009.4 L720.5,1009.2 L720.3,1008.8 L719.6,1008.5 L718.6,1008.6 L718.0,1008.9 L717.9,1009.2 L718.1,1009.3 L718.2,1009.0 L717.9,1008.6 L717.0,1008.4 L716.2,1008.6 L715.7,1008.9 L715.7,1009.2 L716.0,1009.1 L716.0,1008.7 L715.4,1008.4 L714.5,1008.3 L713.7,1008.5" stroke="#e05020" stroke-width="0.84"/><path d="M716.7,1000.8 L716.8,1002.3 L716.6,1002.4 L716.5,1001.1 L716.9,999.5 L717.8,999.0 L718.7,1000.0 L719.1,1001.6 L718.9,1002.4 L718.7,1001.6 L718.9,999.9 L719.6,998.8 L720.6,999.3 L721.2,1000.8 L721.2,1002.1 L720.9,1001.9 L720.9,1000.5 L721.5,999.0 L722.4,998.7" stroke="#e05020" stroke-width="0.84"/><path d="M722.3,992.6 L722.9,992.8 L722.4,992.5 L721.3,991.8 L720.4,990.9 L720.6,990.3 L721.7,990.3 L722.7,990.5 L722.7,990.5 L721.8,990.0 L720.7,989.1 L720.3,988.3 L721.0,988.0 L722.2,988.2 L722.8,988.4 L722.3,988.1 L721.1,987.3 L720.3,986.4 L720.5,985.9 L721.6,985.9" stroke="#e05020" stroke-width="0.84"/><path d="M721.3,1002.0 L720.2,1001.9 L719.3,1002.1 L719.0,1002.5 L719.3,1002.9 L719.7,1003.2 L719.5,1003.1 L718.6,1003.0 L717.5,1003.0 L717.0,1003.4 L717.2,1003.8 L717.7,1004.2 L717.7,1004.2 L716.9,1004.0 L715.8,1004.0 L715.1,1004.3" stroke="#e05020" stroke-width="0.84"/></g>
<ellipse cx="716" cy="984.2" rx="11.5" ry="5.0" fill="url(#hl)"/>
<circle cx="512" cy="997.3" r="20.2" fill="#3d3d3d" fill-opacity=".92" filter="url(#sh)"/>
<circle cx="512" cy="994.6" r="19.8" fill="url(#g_peach)"/>
<circle cx="512" cy="994.6" r="19.8" fill="url(#r_peach)"/>
<g fill="none" stroke-linecap="round" stroke-linejoin="round" opacity=".85"><path d="M514.3,1003.9 L514.5,1005.3 L514.2,1005.5 L514.1,1004.3 L514.4,1002.7 L515.3,1002.0 L516.2,1002.8 L516.7,1004.3 L516.6,1005.3 L516.3,1004.9 L516.4,1003.3 L516.9,1002.0 L517.9,1001.9 L518.7,1003.2 L518.9,1004.6 L518.7,1005.1 L518.5,1004.0 L518.7,1002.4 L519.5,1001.5 L520.5,1002.1 L521.0,1003.6 L521.1,1004.7 L520.8,1004.5 L520.7,1003.1 L521.2,1001.6 L522.1,1001.3 L523.0,1002.4 L523.3,1004.0 L523.2,1004.6" stroke="#3060c0" stroke-width="0.84"/><path d="M518.3,994.4 L518.3,995.9 L518.1,996.1 L518.1,994.9 L518.6,993.3 L519.5,992.8 L520.3,993.7 L520.6,995.4 L520.4,996.3 L520.2,995.8 L520.5,994.2 L521.3,993.0 L522.2,993.2 L522.8,994.7 L522.8,996.2 L522.5,996.4 L522.5,995.1 L523.0,993.6 L524.0,993.1 L524.8,994.0 L525.1,995.7 L524.9,996.6 L524.7,996.0 L524.9,994.4 L525.7,993.3 L526.7,993.5 L527.2,995.0 L527.2,996.4" stroke="#60b040" stroke-width="0.84"/><path d="M498.1,994.4 L498.3,995.8 L498.0,996.0 L497.9,994.8 L498.2,993.1 L499.1,992.5 L500.0,993.3 L500.5,994.9 L500.4,995.8 L500.1,995.3 L500.2,993.7 L500.8,992.4 L501.8,992.5 L502.5,993.8 L502.7,995.2 L502.5,995.5 L502.3,994.4 L502.6,992.7 L503.4,992.0 L504.4,992.7 L504.9,994.3 L504.8,995.3 L504.6,994.9 L504.6,993.3 L505.2,992.0 L506.1,991.9 L506.9,993.2" stroke="#e09020" stroke-width="0.84"/></g>
<ellipse cx="512" cy="981.7" rx="11.5" ry="5.0" fill="url(#hl)"/>
<circle cx="844" cy="999.3" r="20.2" fill="#3d3d3d" fill-opacity=".92" filter="url(#sh)"/>
<circle cx="844" cy="996.6" r="19.8" fill="url(#g_sky)"/>
<circle cx="844" cy="996.6" r="19.8" fill="url(#r_sky)"/>
<g fill="none" stroke-linecap="round" stroke-linejoin="round" opacity=".85"><path d="M855.7,1002.8 L855.6,1002.4 L854.8,1002.2 L853.7,1002.2 L853.1,1002.3 L853.1,1002.2 L853.6,1001.9 L853.9,1001.5 L853.4,1001.1 L852.4,1001.1 L851.4,1001.1 L851.1,1001.2 L851.4,1001.0 L851.9,1000.6 L851.8,1000.2 L851.0,999.9 L850.0,999.9 L849.3,1000.0 L849.3,1000.0 L849.8,999.7 L850.1,999.2" stroke="#8a70e0" stroke-width="0.84"/><path d="M833.7,996.1 L834.3,996.9 L834.1,996.8 L833.3,995.7 L832.8,994.2 L833.2,993.5 L834.3,993.8 L835.4,994.7 L835.6,995.2 L835.0,994.6 L834.3,993.3 L834.1,992.0 L834.9,991.7 L836.1,992.4 L836.9,993.2 L836.8,993.3 L836.0,992.3" stroke="#8a70e0" stroke-width="0.84"/><path d="M838.5,992.6 L839.1,992.9 L838.7,992.6 L837.6,991.8 L836.8,990.8 L837.0,990.1 L838.0,990.1 L839.1,990.5 L839.3,990.7 L838.6,990.2 L837.5,989.2 L837.0,988.3 L837.5,987.9 L838.7,988.1 L839.6,988.4 L839.4,988.4" stroke="#8a70e0" stroke-width="0.84"/><path d="M841.5,1000.0 L842.1,1000.1 L841.6,999.9 L840.4,999.1 L839.6,998.2 L839.8,997.7 L840.9,997.7 L841.8,997.9 L841.9,997.8 L840.9,997.3 L839.7,996.4 L839.4,995.6 L840.2,995.4 L841.4,995.6 L841.9,995.7 L841.3,995.4 L840.1,994.6 L839.3,993.7 L839.6,993.2 L840.7,993.2 L841.7,993.5 L841.6,993.4 L840.6,992.8 L839.5,991.9" stroke="#8a70e0" stroke-width="0.84"/><path d="M834.4,1007.1 L834.7,1008.3 L834.5,1008.4 L834.1,1007.2 L834.2,1005.5 L834.9,1004.8 L835.9,1005.5 L836.7,1006.9 L836.7,1007.7 L836.4,1007.1 L836.1,1005.5 L836.5,1004.2 L837.4,1004.1 L838.4,1005.3 L838.8,1006.5 L838.7,1006.8 L838.3,1005.6 L838.3,1004.0 L838.9,1003.1 L839.9,1003.7 L840.7,1005.0 L840.9,1006.0" stroke="#8a70e0" stroke-width="0.84"/><path d="M846.1,987.5 L844.9,988.3 L844.1,988.7 L844.5,988.6 L845.6,988.4 L846.5,988.6 L846.4,989.2 L845.3,990.1 L844.2,990.8 L844.0,990.9 L844.9,990.7 L846.0,990.7 L846.4,991.1 L845.8,991.9 L844.6,992.8 L843.9,993.1 L844.3,993.0 L845.4,992.9 L846.3,993.0" stroke="#8a70e0" stroke-width="0.84"/><path d="M848.5,999.4 L847.3,1000.1 L846.5,1000.5 L846.8,1000.5 L847.8,1000.5 L848.6,1000.7 L848.5,1001.2 L847.5,1002.0 L846.4,1002.5 L846.0,1002.7 L846.7,1002.7 L847.8,1002.7 L848.3,1003.1 L847.7,1003.7 L846.5,1004.4 L845.6,1004.8 L845.8,1004.9 L846.8,1004.8 L847.7,1005.0 L847.7,1005.5 L846.7,1006.2 L845.5,1006.8 L845.1,1007.1 L845.7,1007.0" stroke="#8a70e0" stroke-width="0.84"/><path d="M850.9,992.9 L850.2,994.3 L849.8,994.7 L850.2,993.9 L851.3,992.8 L852.3,992.7 L852.6,993.8 L852.1,995.4 L851.5,996.3 L851.5,995.9 L852.4,994.7 L853.6,994.1 L854.2,994.7 L854.0,996.3 L853.3,997.6 L853.0,997.7 L853.6,996.7 L854.8,995.8 L855.7,995.9 L855.8,997.2 L855.2,998.7" stroke="#8a70e0" stroke-width="0.84"/><path d="M837.2,999.8 L836.1,1000.5 L835.3,1000.9 L835.5,1000.9 L836.5,1000.8 L837.4,1000.9 L837.4,1001.5 L836.5,1002.2 L835.3,1002.9 L834.9,1003.1 L835.4,1003.1 L836.5,1003.0 L837.2,1003.3 L836.8,1003.9 L835.7,1004.7 L834.7,1005.2 L834.6,1005.3" stroke="#8a70e0" stroke-width="0.84"/><path d="M856.4,1002.6 L855.6,1002.3 L854.6,1002.4 L854.1,1002.7 L854.2,1003.2 L854.5,1003.4 L854.5,1003.2 L853.8,1002.9 L852.8,1002.8 L852.1,1003.1 L851.9,1003.6 L852.2,1003.9 L852.4,1003.9 L852.0,1003.6 L851.1,1003.4 L850.2,1003.5 L849.7,1003.9 L849.9,1004.3 L850.2,1004.5 L850.1,1004.2 L849.3,1004.0 L848.3,1003.9" stroke="#8a70e0" stroke-width="0.84"/><path d="M848.8,994.7 L847.8,996.0 L847.3,996.4 L847.7,995.9 L849.0,995.1 L850.0,995.1 L850.0,996.1 L849.2,997.5 L848.4,998.3 L848.4,998.2 L849.4,997.4 L850.6,997.0 L851.1,997.6 L850.6,998.9 L849.7,1000.1 L849.3,1000.3 L849.9,999.7 L851.1,999.1 L852.0,999.2" stroke="#8a70e0" stroke-width="0.84"/><path d="M847.2,992.7 L847.8,992.9 L847.4,992.6 L846.2,991.8 L845.4,990.9 L845.6,990.3 L846.6,990.3 L847.7,990.6 L847.8,990.6 L846.9,990.1 L845.7,989.1 L845.3,988.3 L846.0,988.0 L847.2,988.2 L847.9,988.4 L847.4,988.2 L846.3,987.4 L845.4,986.5 L845.6,985.9" stroke="#8a70e0" stroke-width="0.84"/><path d="M850.3,999.7 L849.1,999.8 L848.2,1000.1 L848.1,1000.4 L848.8,1000.7 L849.3,1001.0 L849.1,1001.2 L848.1,1001.4 L846.9,1001.6 L846.5,1001.8 L846.9,1002.2 L847.6,1002.5 L847.8,1002.7 L847.0,1002.9 L845.8,1003.1 L845.0,1003.3 L845.1,1003.7" stroke="#8a70e0" stroke-width="0.84"/><path d="M846.3,1011.1 L846.7,1010.9 L846.0,1010.6 L844.7,1010.2 L843.9,1009.7 L844.1,1009.3 L845.0,1009.1 L845.7,1009.0 L845.3,1008.7 L844.2,1008.3 L843.1,1007.9 L842.9,1007.5 L843.6,1007.2 L844.5,1007.1 L844.6,1006.8 L843.6,1006.5 L842.4,1006.1 L841.8,1005.6 L842.3,1005.3 L843.2,1005.1" stroke="#8a70e0" stroke-width="0.84"/><path d="M832.0,1004.3 L832.3,1005.5 L832.1,1005.7 L831.7,1004.4 L831.9,1002.8 L832.6,1002.1 L833.6,1002.7 L834.3,1004.1 L834.4,1005.1 L834.0,1004.6 L833.8,1003.1 L834.2,1001.7 L835.1,1001.5 L836.0,1002.5 L836.5,1003.9 L836.4,1004.4 L836.0,1003.5 L836.0,1001.8 L836.6,1000.7 L837.6,1001.1 L838.4,1002.4 L838.6,1003.6 L838.4,1003.5 L838.1,1002.2 L838.3,1000.6 L839.1,1000.0 L840.0,1000.8" stroke="#8a70e0" stroke-width="0.84"/><path d="M843.3,990.7 L842.9,990.3 L842.0,990.2 L841.1,990.4 L840.7,990.7 L840.8,990.8 L841.1,990.6 L841.1,990.2 L840.4,989.8 L839.5,989.8 L838.7,990.1 L838.5,990.4 L838.8,990.4 L839.0,990.1 L838.7,989.6 L837.9,989.4 L837.0,989.5 L836.4,989.8 L836.4,990.0 L836.7,989.9 L836.8,989.5 L836.3,989.1 L835.4,989.0 L834.5,989.2 L834.2,989.5 L834.3,989.6 L834.6,989.4" stroke="#8a70e0" stroke-width="0.84"/></g>
<ellipse cx="844" cy="983.7" rx="11.5" ry="5.0" fill="url(#hl)"/>
<circle cx="1073" cy="1020.3" r="20.2" fill="#3d3d3d" fill-opacity=".92" filter="url(#sh)"/>
<circle cx="1073" cy="1017.6" r="19.8" fill="url(#g_ykh)"/>
<circle cx="1073" cy="1017.6" r="19.8" fill="url(#r_ykh)"/>
<g fill="none" stroke-linecap="round" stroke-linejoin="round" opacity=".85"><path d="M1076.4,1009.3 L1075.6,1010.6 L1075.1,1011.1 L1075.4,1010.6 L1076.5,1009.7 L1077.6,1009.5 L1077.9,1010.4 L1077.3,1011.8 L1076.5,1012.8 L1076.3,1012.9 L1077.0,1012.1 L1078.2,1011.4 L1079.0,1011.6 L1079.0,1012.7 L1078.2,1014.1 L1077.5,1014.8 L1077.6,1014.5 L1078.6,1013.7 L1079.7,1013.3 L1080.3,1013.8" stroke="#b070c0" stroke-width="0.84"/><path d="M1075.4,1024.2 L1074.2,1025.0 L1073.5,1025.4 L1073.7,1025.4 L1074.8,1025.2 L1075.7,1025.3 L1075.8,1025.8 L1074.9,1026.7 L1073.7,1027.4 L1073.3,1027.7 L1073.9,1027.5 L1075.0,1027.4 L1075.7,1027.6 L1075.4,1028.3 L1074.3,1029.2 L1073.3,1029.8 L1073.2,1029.9 L1074.1,1029.7 L1075.2,1029.6 L1075.6,1030.0" stroke="#b070c0" stroke-width="0.84"/><path d="M1081.9,1026.8 L1082.2,1026.5 L1081.6,1026.2 L1080.4,1025.9 L1079.5,1025.6 L1079.5,1025.3 L1080.2,1025.1 L1080.9,1024.8 L1080.8,1024.6 L1079.9,1024.3 L1078.7,1024.0 L1078.1,1023.7 L1078.4,1023.4 L1079.2,1023.2 L1079.7,1022.9 L1079.3,1022.7 L1078.2,1022.4 L1077.1,1022.1 L1076.8,1021.8 L1077.4,1021.5 L1078.2,1021.2 L1078.4,1021.0 L1077.7,1020.7 L1076.5,1020.4 L1075.6,1020.1" stroke="#b070c0" stroke-width="0.84"/><path d="M1066.9,1014.8 L1065.7,1015.8 L1065.0,1016.2 L1065.4,1016.0 L1066.6,1015.7 L1067.5,1015.8 L1067.4,1016.6 L1066.4,1017.6 L1065.4,1018.3 L1065.3,1018.4 L1066.2,1018.0 L1067.4,1017.9 L1067.8,1018.4 L1067.2,1019.4 L1066.0,1020.3 L1065.4,1020.6" stroke="#b070c0" stroke-width="0.84"/><path d="M1077.7,1025.3 L1078.4,1025.7 L1078.0,1025.5 L1076.9,1024.4 L1076.3,1023.2 L1076.7,1022.6 L1077.9,1022.9 L1078.9,1023.5 L1078.9,1023.5 L1078.0,1022.8 L1077.0,1021.5 L1077.0,1020.6 L1078.0,1020.6 L1079.2,1021.1 L1079.6,1021.5 L1079.0,1021.0" stroke="#b070c0" stroke-width="0.84"/><path d="M1082.1,1029.7 L1082.7,1029.7 L1082.1,1029.5 L1081.0,1028.8 L1080.1,1028.1 L1080.2,1027.6 L1081.1,1027.5 L1082.1,1027.6 L1082.2,1027.5 L1081.3,1027.0 L1080.1,1026.3 L1079.6,1025.6 L1080.2,1025.3 L1081.3,1025.3 L1081.9,1025.4 L1081.5,1025.1 L1080.3,1024.5 L1079.3,1023.8 L1079.3,1023.2 L1080.3,1023.1 L1081.3,1023.2 L1081.5,1023.1 L1080.6,1022.7 L1079.4,1022.0 L1078.8,1021.3 L1079.3,1020.9 L1080.4,1020.9" stroke="#b070c0" stroke-width="0.84"/><path d="M1087.1,1018.8 L1087.0,1018.4 L1086.2,1018.2 L1085.1,1018.2 L1084.4,1018.2 L1084.4,1018.1 L1085.0,1017.8 L1085.3,1017.4 L1084.9,1017.0 L1083.9,1016.9 L1082.9,1016.9 L1082.5,1016.9 L1082.8,1016.7 L1083.4,1016.3 L1083.4,1015.9 L1082.7,1015.7 L1081.6,1015.6 L1080.8,1015.6 L1080.8,1015.6 L1081.3,1015.3 L1081.7,1014.9 L1081.4,1014.5 L1080.4,1014.4 L1079.4,1014.4 L1078.9,1014.4" stroke="#b070c0" stroke-width="0.84"/><path d="M1070.9,1010.3 L1071.2,1011.6 L1070.9,1011.7 L1070.7,1010.5 L1071.0,1008.8 L1071.8,1008.2 L1072.8,1009.0 L1073.3,1010.6 L1073.3,1011.4 L1073.0,1010.8 L1072.9,1009.2 L1073.5,1007.9 L1074.5,1008.0 L1075.3,1009.4 L1075.5,1010.7 L1075.3,1010.8 L1075.1,1009.6 L1075.3,1007.9 L1076.2,1007.3 L1077.1,1008.1 L1077.7,1009.7" stroke="#b070c0" stroke-width="0.84"/><path d="M1063.8,1024.9 L1064.5,1025.4 L1064.1,1025.2 L1063.1,1024.2 L1062.4,1023.0 L1062.8,1022.3 L1063.9,1022.5 L1065.0,1023.1 L1065.2,1023.3 L1064.4,1022.7 L1063.4,1021.5 L1063.2,1020.4 L1064.0,1020.2 L1065.2,1020.7 L1065.9,1021.2 L1065.6,1021.0 L1064.6,1020.0 L1063.9,1018.8 L1064.2,1018.1 L1065.3,1018.3 L1066.4,1018.9 L1066.6,1019.1 L1065.8,1018.5 L1064.8,1017.3 L1064.6,1016.2" stroke="#b070c0" stroke-width="0.84"/><path d="M1078.6,1009.1 L1077.6,1010.1 L1076.9,1010.5 L1077.2,1010.3 L1078.3,1009.9 L1079.4,1009.8 L1079.5,1010.5 L1078.7,1011.6 L1077.7,1012.5 L1077.3,1012.7 L1078.0,1012.3 L1079.2,1011.9 L1080.0,1012.2 L1079.8,1013.0 L1078.8,1014.2 L1077.9,1014.8 L1077.9,1014.8 L1078.8,1014.3 L1080.0,1014.1 L1080.5,1014.6 L1079.9,1015.6 L1078.9,1016.6 L1078.2,1017.1 L1078.6,1016.8 L1079.7,1016.4" stroke="#b070c0" stroke-width="0.84"/><path d="M1074.4,1010.7 L1073.7,1012.1 L1073.2,1012.5 L1073.6,1011.8 L1074.8,1010.9 L1075.8,1010.7 L1076.0,1011.7 L1075.4,1013.3 L1074.7,1014.2 L1074.7,1013.9 L1075.6,1013.0 L1076.8,1012.4 L1077.5,1012.9 L1077.2,1014.3 L1076.4,1015.6 L1076.0,1015.9 L1076.5,1015.1 L1077.7,1014.2 L1078.7,1014.2 L1078.8,1015.4 L1078.1,1016.9 L1077.4,1017.7 L1077.5,1017.3" stroke="#b070c0" stroke-width="0.84"/><path d="M1071.5,1013.4 L1070.9,1013.0 L1069.9,1012.9 L1069.1,1013.3 L1069.0,1013.6 L1069.2,1013.8 L1069.3,1013.5 L1069.0,1013.1 L1068.1,1012.9 L1067.2,1013.1 L1066.7,1013.5 L1066.8,1013.7 L1067.1,1013.6 L1067.0,1013.2 L1066.2,1012.9 L1065.3,1012.9 L1064.6,1013.2 L1064.5,1013.6 L1064.8,1013.7 L1064.9,1013.3 L1064.4,1012.9 L1063.5,1012.8 L1062.6,1013.0" stroke="#b070c0" stroke-width="0.84"/></g>
<ellipse cx="1073" cy="1004.7" rx="11.5" ry="5.0" fill="url(#hl)"/>
<circle cx="380" cy="1041.3" r="20.2" fill="#3d3d3d" fill-opacity=".92" filter="url(#sh)"/>
<circle cx="380" cy="1038.6" r="19.8" fill="url(#g_ykh)"/>
<circle cx="380" cy="1038.6" r="19.8" fill="url(#r_ykh)"/>
<g fill="none" stroke-linecap="round" stroke-linejoin="round" opacity=".85"><path d="M387.6,1050.8 L388.3,1051.3 L387.9,1051.1 L386.8,1050.1 L386.1,1048.9 L386.4,1048.3 L387.5,1048.4 L388.6,1049.0 L388.8,1049.2 L388.0,1048.6 L387.0,1047.4 L386.7,1046.4 L387.4,1046.1 L388.6,1046.5 L389.4,1047.0 L389.1,1046.9 L388.1,1046.0 L387.3,1044.8 L387.5,1044.0 L388.5,1044.1 L389.7,1044.6 L390.0,1044.9 L389.3,1044.4 L388.3,1043.3 L387.9,1042.2 L388.5,1041.8 L389.7,1042.2" stroke="#30c040" stroke-width="0.84"/><path d="M370.9,1050.2 L371.3,1051.3 L371.1,1051.3 L370.6,1050.2 L370.5,1048.6 L371.1,1047.7 L372.1,1048.2 L373.0,1049.5 L373.2,1050.3 L372.8,1049.9 L372.4,1048.4 L372.5,1047.0 L373.3,1046.6 L374.3,1047.4 L375.0,1048.7 L375.0,1049.1 L374.5,1048.3 L374.2,1046.7 L374.6,1045.5 L375.5,1045.6 L376.5,1046.7 L377.0,1047.8 L376.8,1047.8" stroke="#e09020" stroke-width="0.84"/><path d="M369.1,1039.5 L370.6,1039.4 L372.1,1039.7 L373.2,1040.6 L374.5,1041.5 L375.8,1042.3 L377.1,1043.0 L378.5,1042.9 L379.8,1042.1 L381.3,1042.0 L382.8,1042.0 L384.1,1042.8" stroke="#3060c0" stroke-width="0.59"/><path d="M380.7,1047.1 L380.6,1048.6 L381.0,1050.0 L380.6,1051.5 L380.2,1052.9 L380.8,1051.5 L380.6,1050.0 L380.0,1048.6" stroke="#3060c0" stroke-width="0.59"/><path d="M370.8,1043.8 L370.5,1045.3 L369.7,1046.6 L369.7,1048.1 L371.1,1047.7 L372.5,1047.2 L373.5,1046.0 L374.0,1044.6 L374.1,1043.1 L374.8,1041.8 L376.1,1041.0 L377.3,1040.2 L378.6,1039.4 L379.3,1038.1" stroke="#3060c0" stroke-width="0.59"/></g>
<ellipse cx="380" cy="1025.7" rx="11.5" ry="5.0" fill="url(#hl)"/>
<circle cx="254" cy="1062.3" r="10.3" fill="#3d3d3d" fill-opacity=".92" filter="url(#sh)"/>
<circle cx="254" cy="1059.6" r="9.9" fill="url(#g_lav)"/>
<circle cx="254" cy="1059.6" r="9.9" fill="url(#r_lav)"/>
<ellipse cx="254" cy="1053.2" rx="5.7" ry="2.5" fill="url(#hl)"/>
<circle cx="673" cy="1062.3" r="20.2" fill="#3d3d3d" fill-opacity=".92" filter="url(#sh)"/>
<circle cx="673" cy="1059.6" r="19.8" fill="url(#g_ygreen)"/>
<circle cx="673" cy="1059.6" r="19.8" fill="url(#r_ygreen)"/>
<g fill="none" stroke-linecap="round" stroke-linejoin="round" opacity=".85"><path d="M664.4,1066.4 L664.5,1067.8 L664.3,1068.0 L664.1,1066.8 L664.4,1065.2 L665.3,1064.5 L666.2,1065.2 L666.7,1066.7 L666.7,1067.7 L666.4,1067.4 L666.4,1065.9 L666.9,1064.5 L667.8,1064.3 L668.6,1065.4 L669.0,1066.9 L668.8,1067.5 L668.5,1066.6 L668.7,1065.0 L669.4,1063.9 L670.4,1064.3 L671.0,1065.7 L671.1,1067.0 L670.9,1067.0 L670.7,1065.7 L671.1,1064.2 L672.0,1063.6 L672.9,1064.5 L673.3,1066.0 L673.3,1066.9 L673.0,1066.4 L673.0,1064.8 L673.6,1063.5 L674.5,1063.5" stroke="#60c030" stroke-width="0.84"/><path d="M668.1,1051.6 L667.8,1053.1 L667.5,1053.4 L667.7,1052.3 L668.5,1050.8 L669.5,1050.5 L670.1,1051.5 L670.1,1053.2 L669.8,1054.1 L669.7,1053.5 L670.2,1052.0 L671.2,1051.1 L672.1,1051.6 L672.3,1053.2 L672.0,1054.6 L671.8,1054.6 L672.0,1053.3 L672.9,1052.0 L673.9,1051.8 L674.4,1053.1 L674.3,1054.7 L674.0,1055.4 L674.0,1054.6 L674.6,1053.1 L675.6,1052.4" stroke="#60c030" stroke-width="0.84"/><path d="M659.1,1061.3 L659.2,1062.8 L658.9,1063.0 L658.8,1061.7 L659.3,1060.2 L660.2,1059.6 L661.1,1060.5 L661.4,1062.2 L661.3,1063.1 L661.0,1062.5 L661.2,1060.9 L662.0,1059.7 L662.9,1059.9 L663.6,1061.4 L663.6,1062.8 L663.3,1063.0 L663.3,1061.7 L663.8,1060.2 L664.7,1059.6 L665.5,1060.6 L665.9,1062.2 L665.7,1063.1 L665.5,1062.5 L665.7,1060.9 L666.5,1059.7" stroke="#60c030" stroke-width="0.84"/><path d="M669.2,1053.4 L669.0,1054.9 L668.6,1055.2 L668.8,1054.1 L669.6,1052.7 L670.6,1052.3 L671.3,1053.4 L671.2,1055.1 L670.9,1056.0 L670.8,1055.4 L671.3,1054.0 L672.3,1053.0 L673.2,1053.5 L673.4,1055.0 L673.1,1056.4 L672.8,1056.5" stroke="#e09020" stroke-width="0.84"/><path d="M677.3,1057.6 L676.9,1057.2 L676.0,1057.0 L675.1,1057.2 L674.6,1057.4 L674.7,1057.4 L675.1,1057.1 L675.1,1056.7 L674.4,1056.4 L673.5,1056.4 L672.7,1056.6 L672.5,1056.8 L672.8,1056.7 L673.0,1056.2 L672.7,1055.8 L671.9,1055.6 L670.9,1055.8 L670.4,1056.0 L670.5,1056.1 L670.8,1055.8 L670.9,1055.4 L670.3,1055.0 L669.3,1055.0" stroke="#e09020" stroke-width="0.84"/><path d="M683.3,1060.6 L682.1,1061.5 L681.4,1061.9 L681.7,1061.8 L682.8,1061.5 L683.8,1061.6 L683.7,1062.3 L682.8,1063.2 L681.7,1064.0 L681.4,1064.1 L682.1,1063.9 L683.3,1063.7 L683.9,1064.1 L683.4,1064.9 L682.2,1065.8 L681.4,1066.3 L681.6,1066.3 L682.7,1066.0 L683.7,1066.1" stroke="#e09020" stroke-width="0.84"/><path d="M672.9,1066.6 L671.4,1067.0 L669.9,1066.9 L668.4,1066.5 L667.0,1066.9 L665.8,1067.8 L664.5,1068.6 L663.3,1069.5 L664.1,1068.2 L664.1,1066.7 L664.3,1065.2" stroke="#3060c0" stroke-width="0.59"/><path d="M679.8,1061.4 L680.2,1062.7 L679.9,1062.7 L679.6,1061.4 L679.8,1059.8 L680.6,1059.2 L681.6,1060.1 L682.2,1061.6 L682.2,1062.2 L681.8,1061.4 L681.7,1059.7 L682.3,1058.6 L683.4,1058.9 L684.2,1060.3 L684.4,1061.4 L684.0,1061.2 L683.8,1059.7 L684.1,1058.2" stroke="#40b0c0" stroke-width="0.84"/></g>
<ellipse cx="673" cy="1046.7" rx="11.5" ry="5.0" fill="url(#hl)"/>
<circle cx="998" cy="1069.8" r="20.2" fill="#3d3d3d" fill-opacity=".92" filter="url(#sh)"/>
<circle cx="998" cy="1067.1" r="19.8" fill="url(#g_mint)"/>
<circle cx="998" cy="1067.1" r="19.8" fill="url(#r_mint)"/>
<g fill="none" stroke-linecap="round" stroke-linejoin="round" opacity=".85"><path d="M998.2,1075.5 L997.2,1075.4 L996.2,1075.5 L995.9,1075.9 L996.1,1076.4 L996.5,1076.6 L996.4,1076.5 L995.6,1076.3 L994.5,1076.3 L993.9,1076.6 L993.9,1077.1 L994.4,1077.4 L994.5,1077.5 L993.9,1077.3 L992.9,1077.2 L992.0,1077.4 L991.8,1077.8 L992.2,1078.2 L992.5,1078.4" stroke="#30b040" stroke-width="0.84"/><path d="M1004.5,1064.7 L1005.1,1064.9 L1004.6,1064.6 L1003.5,1063.8 L1002.7,1062.8 L1002.9,1062.3 L1004.0,1062.3 L1005.0,1062.6 L1005.1,1062.6 L1004.2,1062.1 L1003.1,1061.1 L1002.7,1060.3 L1003.5,1060.0 L1004.7,1060.2 L1005.3,1060.5 L1004.9,1060.2 L1003.7,1059.4 L1002.9,1058.4 L1003.1,1057.8" stroke="#30b040" stroke-width="0.84"/><path d="M1002.3,1078.0 L1002.7,1077.9 L1002.1,1077.6 L1000.9,1077.1 L1000.0,1076.5 L1000.1,1076.1 L1001.0,1075.9 L1001.8,1075.9 L1001.8,1075.7 L1000.8,1075.3 L999.6,1074.8 L999.1,1074.3 L999.6,1074.0 L1000.6,1073.8 L1001.1,1073.7 L1000.6,1073.5 L999.4,1073.0 L998.4,1072.5 L998.4,1072.0 L999.2,1071.8 L1000.1,1071.7 L1000.2,1071.6 L999.3,1071.2 L998.1,1070.7 L997.4,1070.2 L997.9,1069.9 L998.8,1069.7" stroke="#30b040" stroke-width="0.84"/><path d="M998.9,1061.3 L998.5,1060.9 L997.6,1060.8 L996.7,1061.0 L996.3,1061.3 L996.4,1061.4 L996.7,1061.2 L996.7,1060.7 L996.0,1060.4 L995.1,1060.4 L994.3,1060.7 L994.1,1061.0 L994.4,1060.9 L994.6,1060.5 L994.3,1060.1 L993.5,1059.9 L992.5,1060.1" stroke="#30b040" stroke-width="0.84"/><path d="M1000.6,1066.1 L1000.3,1065.7 L999.5,1065.6 L998.5,1065.7 L997.9,1065.9 L998.0,1065.9 L998.4,1065.6 L998.5,1065.2 L998.0,1064.8 L997.0,1064.8 L996.1,1064.9 L995.8,1065.1 L996.0,1065.0 L996.4,1064.7 L996.3,1064.2 L995.6,1064.0 L994.6,1064.0 L993.9,1064.2 L993.8,1064.3 L994.1,1064.1 L994.4,1063.7 L994.0,1063.3 L993.2,1063.2 L992.2,1063.3 L991.7,1063.5 L991.8,1063.5 L992.2,1063.2" stroke="#2080d0" stroke-width="0.84"/><path d="M991.5,1070.7 L991.8,1072.0 L991.6,1072.1 L991.3,1070.9 L991.4,1069.3 L992.1,1068.5 L993.1,1069.1 L993.8,1070.6 L993.9,1071.5 L993.6,1071.1 L993.4,1069.6 L993.7,1068.2 L994.6,1067.9 L995.6,1069.0 L996.0,1070.4 L995.9,1070.9 L995.6,1070.0 L995.6,1068.4 L996.1,1067.3 L997.1,1067.5 L997.9,1068.9 L998.2,1070.1 L997.9,1070.1 L997.6,1068.8 L997.8,1067.2 L998.6,1066.6" stroke="#2080d0" stroke-width="0.84"/><path d="M1008.1,1068.8 L1007.7,1068.4 L1006.8,1068.3 L1005.8,1068.5 L1005.4,1068.8 L1005.6,1068.8 L1005.9,1068.5 L1005.8,1068.0 L1005.1,1067.7 L1004.1,1067.8 L1003.4,1068.1 L1003.3,1068.3 L1003.6,1068.1 L1003.8,1067.7 L1003.3,1067.3 L1002.4,1067.2 L1001.5,1067.4 L1001.1,1067.6 L1001.3,1067.7 L1001.6,1067.3 L1001.5,1066.9 L1000.7,1066.6" stroke="#2080d0" stroke-width="0.84"/><path d="M994.8,1078.2 L995.2,1079.6 L995.5,1081.1 L995.6,1079.6 L994.9,1078.3 L994.4,1076.9 L993.9,1075.5" stroke="#c08020" stroke-width="0.59"/></g>
<ellipse cx="998" cy="1054.2" rx="11.5" ry="5.0" fill="url(#hl)"/>
<circle cx="1115" cy="1083.8" r="20.2" fill="#3d3d3d" fill-opacity=".92" filter="url(#sh)"/>
<circle cx="1115" cy="1081.1" r="19.8" fill="url(#g_mint)"/>
<circle cx="1115" cy="1081.1" r="19.8" fill="url(#r_mint)"/>
<g fill="none" stroke-linecap="round" stroke-linejoin="round" opacity=".85"><path d="M1115.8,1073.1 L1114.5,1074.1 L1113.7,1074.5 L1114.1,1074.3 L1115.4,1073.9 L1116.4,1074.0 L1116.4,1074.7 L1115.3,1075.8 L1114.2,1076.6 L1113.9,1076.7 L1114.9,1076.3 L1116.1,1076.1 L1116.7,1076.5 L1116.1,1077.5 L1114.9,1078.5 L1114.1,1078.9 L1114.4,1078.7 L1115.7,1078.3 L1116.7,1078.4 L1116.7,1079.1 L1115.7,1080.2 L1114.5,1081.0 L1114.3,1081.1 L1115.1,1080.7" stroke="#30b050" stroke-width="0.79"/><path d="M1120.0,1068.5 L1118.7,1069.3 L1117.9,1069.7 L1118.2,1069.7 L1119.3,1069.5 L1120.3,1069.6 L1120.3,1070.2 L1119.3,1071.1 L1118.0,1071.8 L1117.6,1072.0 L1118.4,1071.8 L1119.6,1071.7 L1120.3,1072.0 L1119.7,1072.8 L1118.5,1073.6 L1117.5,1074.1 L1117.6,1074.1 L1118.7,1073.9 L1119.8,1073.9 L1120.0,1074.5 L1119.0,1075.3 L1117.7,1076.1 L1117.2,1076.4 L1117.7,1076.2 L1119.0,1076.1 L1119.8,1076.3 L1119.5,1077.0 L1118.3,1077.9 L1117.1,1078.5 L1117.0,1078.6" stroke="#30b050" stroke-width="0.79"/><path d="M1122.7,1079.5 L1121.6,1080.8 L1120.9,1081.2 L1121.4,1080.8 L1122.7,1080.1 L1123.8,1080.1 L1123.8,1081.0 L1122.8,1082.3 L1121.8,1083.2 L1121.7,1083.2 L1122.7,1082.5 L1124.0,1082.1 L1124.6,1082.6 L1124.1,1083.8 L1122.9,1085.0 L1122.3,1085.4 L1122.8,1085.0 L1124.1,1084.3 L1125.2,1084.3 L1125.2,1085.3 L1124.2,1086.6 L1123.2,1087.5 L1123.1,1087.4 L1124.1,1086.7 L1125.4,1086.3 L1126.0,1086.8 L1125.4,1088.1 L1124.3,1089.3 L1123.7,1089.7 L1124.2,1089.2 L1125.5,1088.5 L1126.6,1088.6 L1126.5,1089.5" stroke="#30b050" stroke-width="0.79"/><path d="M1111.7,1071.4 L1110.3,1072.2 L1109.5,1072.6 L1109.9,1072.5 L1111.0,1072.3 L1112.0,1072.4 L1112.0,1073.1 L1110.9,1074.0 L1109.7,1074.7 L1109.3,1074.8 L1110.2,1074.6 L1111.4,1074.5 L1112.0,1074.9 L1111.4,1075.7 L1110.1,1076.6 L1109.2,1077.0 L1109.4,1077.0 L1110.6,1076.8 L1111.6,1076.8 L1111.6,1077.5 L1110.6,1078.4 L1109.3,1079.1 L1108.9,1079.3 L1109.7,1079.1 L1111.0,1078.9 L1111.6,1079.3 L1111.1,1080.1 L1109.8,1081.0 L1108.8,1081.4 L1109.0,1081.4" stroke="#30b050" stroke-width="0.79"/><path d="M1115.1,1087.7 L1114.0,1088.9 L1113.3,1089.3 L1113.8,1088.9 L1115.1,1088.3 L1116.2,1088.3 L1116.1,1089.3 L1115.1,1090.6 L1114.1,1091.4 L1114.1,1091.3 L1115.2,1090.6 L1116.5,1090.3 L1116.9,1090.9 L1116.2,1092.2 L1115.0,1093.3 L1114.6,1093.5 L1115.3,1093.0 L1116.6,1092.5 L1117.5,1092.7 L1117.2,1093.8 L1116.1,1095.0 L1115.2,1095.7 L1115.5,1095.4 L1116.7,1094.8" stroke="#30b050" stroke-width="0.79"/><path d="M1126.5,1080.1 L1125.2,1080.8 L1124.3,1081.1 L1124.5,1081.2 L1125.6,1081.1 L1126.6,1081.3 L1126.6,1081.8 L1125.6,1082.5 L1124.3,1083.1 L1123.7,1083.3 L1124.3,1083.3 L1125.4,1083.3 L1126.2,1083.6 L1125.8,1084.2 L1124.5,1084.9 L1123.4,1085.4 L1123.3,1085.5 L1124.1,1085.5 L1125.2,1085.5 L1125.6,1085.9 L1124.8,1086.6 L1123.5,1087.2 L1122.7,1087.6 L1122.9,1087.6 L1124.0,1087.6 L1124.9,1087.8 L1124.9,1088.3 L1123.8,1089.0 L1122.6,1089.6 L1122.1,1089.8 L1122.7,1089.8" stroke="#30b050" stroke-width="0.79"/><path d="M1124.2,1082.1 L1122.9,1082.7 L1122.0,1083.0 L1122.2,1083.1 L1123.2,1083.2 L1124.1,1083.4 L1124.1,1083.8 L1123.0,1084.4 L1121.7,1084.9 L1121.2,1085.2 L1121.8,1085.2 L1122.9,1085.3 L1123.5,1085.6 L1123.0,1086.2 L1121.8,1086.8 L1120.7,1087.2 L1120.6,1087.3 L1121.5,1087.4 L1122.5,1087.5 L1122.7,1087.9 L1121.9,1088.5 L1120.5,1089.0 L1119.8,1089.4 L1120.1,1089.4 L1121.2,1089.5 L1122.0,1089.7 L1121.8,1090.2 L1120.6,1090.8 L1119.4,1091.3 L1119.1,1091.5 L1119.8,1091.5 L1120.9,1091.6 L1121.3,1092.0 L1120.7,1092.6 L1119.4,1093.1" stroke="#30b050" stroke-width="0.79"/><path d="M1118.1,1085.3 L1117.0,1086.5 L1116.3,1087.0 L1116.7,1086.6 L1117.9,1086.0 L1119.0,1085.9 L1119.2,1086.7 L1118.3,1087.9 L1117.2,1088.9 L1116.9,1089.0 L1117.7,1088.5 L1119.0,1088.0 L1119.8,1088.2 L1119.6,1089.3 L1118.5,1090.5 L1117.6,1091.2 L1117.7,1091.0 L1118.8,1090.4 L1120.0,1090.1 L1120.5,1090.7 L1119.8,1091.9 L1118.7,1093.0 L1118.1,1093.4 L1118.6,1092.9 L1119.9,1092.3 L1121.0,1092.3 L1121.0,1093.2" stroke="#30b050" stroke-width="0.79"/><path d="M1109.8,1072.4 L1108.5,1073.2 L1107.7,1073.6 L1108.0,1073.6 L1109.1,1073.4 L1110.1,1073.5 L1110.2,1074.0 L1109.1,1074.9 L1107.9,1075.6 L1107.4,1075.8 L1108.1,1075.7 L1109.3,1075.5 L1110.1,1075.8 L1109.7,1076.6 L1108.4,1077.4 L1107.4,1078.0 L1107.3,1078.0 L1108.3,1077.8 L1109.5,1077.8 L1109.8,1078.3 L1109.0,1079.1 L1107.7,1079.9 L1107.0,1080.2 L1107.4,1080.2 L1108.5,1080.0 L1109.5,1080.1 L1109.4,1080.7 L1108.3,1081.6 L1107.1,1082.3 L1106.8,1082.5 L1107.5,1082.3 L1108.7,1082.2 L1109.4,1082.5 L1108.9,1083.3 L1107.6,1084.1 L1106.6,1084.6" stroke="#30b050" stroke-width="0.79"/><path d="M1123.3,1086.0 L1122.0,1086.6 L1121.1,1086.9 L1121.3,1087.0 L1122.3,1087.0 L1123.3,1087.2 L1123.2,1087.7 L1122.1,1088.3 L1120.8,1088.9 L1120.4,1089.1 L1121.0,1089.1 L1122.1,1089.2 L1122.7,1089.5 L1122.2,1090.1 L1120.9,1090.7 L1119.8,1091.1 L1119.8,1091.2 L1120.7,1091.2 L1121.7,1091.4 L1121.9,1091.8 L1121.0,1092.4 L1119.6,1093.0 L1119.0,1093.3" stroke="#30b050" stroke-width="0.79"/><path d="M1105.3,1075.4 L1104.1,1076.5 L1103.3,1076.9 L1103.8,1076.6 L1105.1,1076.2 L1106.1,1076.4 L1105.9,1077.2 L1104.8,1078.3 L1103.7,1079.0 L1103.7,1079.0 L1104.7,1078.6 L1106.0,1078.4 L1106.3,1079.0 L1105.5,1080.1 L1104.2,1081.0 L1103.7,1081.3 L1104.4,1081.0 L1105.8,1080.6 L1106.6,1080.9 L1106.1,1081.9 L1104.9,1082.9 L1104.0,1083.5 L1104.2,1083.3" stroke="#20a0c0" stroke-width="0.79"/><path d="M1108.3,1081.5 L1107.0,1082.4 L1106.2,1082.8 L1106.5,1082.7 L1107.7,1082.5 L1108.7,1082.6 L1108.7,1083.2 L1107.6,1084.1 L1106.4,1084.9 L1106.0,1085.1 L1106.8,1084.8 L1108.1,1084.7 L1108.7,1085.0 L1108.2,1085.8 L1107.0,1086.7 L1106.0,1087.2 L1106.2,1087.2 L1107.3,1086.9 L1108.4,1086.9 L1108.6,1087.5 L1107.6,1088.4 L1106.4,1089.2 L1105.8,1089.5 L1106.4,1089.3 L1107.7,1089.1 L1108.5,1089.3 L1108.2,1090.1 L1107.0,1091.0 L1105.9,1091.6" stroke="#20a0c0" stroke-width="0.79"/><path d="M1116.5,1083.9 L1115.2,1084.9 L1114.5,1085.3 L1114.8,1085.1 L1116.0,1084.7 L1117.1,1084.7 L1117.2,1085.4 L1116.2,1086.5 L1115.0,1087.3 L1114.6,1087.5 L1115.4,1087.2 L1116.7,1086.9 L1117.5,1087.1 L1117.1,1088.0 L1115.9,1089.1 L1115.0,1089.7 L1115.0,1089.6 L1116.1,1089.2 L1117.3,1089.1 L1117.7,1089.6 L1116.9,1090.6 L1115.7,1091.6 L1115.0,1092.0 L1115.5,1091.7 L1116.8,1091.3 L1117.8,1091.4 L1117.7,1092.2 L1116.7,1093.2" stroke="#20a0c0" stroke-width="0.79"/><path d="M1110.4,1086.7 L1109.2,1087.8 L1108.4,1088.2 L1108.9,1087.9 L1110.2,1087.4 L1111.2,1087.5 L1111.2,1088.3 L1110.2,1089.5 L1109.0,1090.3 L1108.9,1090.3 L1109.8,1089.8 L1111.2,1089.5 L1111.7,1090.0 L1111.1,1091.1 L1109.9,1092.2 L1109.2,1092.6 L1109.6,1092.3 L1110.9,1091.8 L1112.0,1091.9 L1111.9,1092.7 L1110.9,1093.9 L1109.8,1094.7 L1109.6,1094.7 L1110.6,1094.2 L1111.9,1093.9 L1112.5,1094.4 L1111.8,1095.5 L1110.6,1096.6 L1109.9,1097.0 L1110.4,1096.7 L1111.7,1096.2 L1112.7,1096.3" stroke="#20a0c0" stroke-width="0.79"/><path d="M1122.0,1074.4 L1120.9,1073.3 L1120.0,1072.1 L1119.7,1070.6 L1118.8,1071.8 L1117.7,1072.9 L1116.3,1073.3 L1114.8,1073.6 L1113.4,1074.2 L1112.5,1075.4 L1111.3,1076.3" stroke="#c05030" stroke-width="0.59"/></g>
<ellipse cx="1115" cy="1068.2" rx="11.5" ry="5.0" fill="url(#hl)"/>
<circle cx="422" cy="1104.3" r="20.2" fill="#3d3d3d" fill-opacity=".92" filter="url(#sh)"/>
<circle cx="422" cy="1101.6" r="19.8" fill="url(#g_teal)"/>
<circle cx="422" cy="1101.6" r="19.8" fill="url(#r_teal)"/>
<g fill="none" stroke-linecap="round" stroke-linejoin="round" opacity=".85"><path d="M411.2,1110.0 L411.0,1111.4 L410.7,1111.7 L410.8,1110.7 L411.4,1109.2 L412.4,1108.6 L413.1,1109.4 L413.3,1111.0 L413.1,1112.2 L412.8,1112.0 L413.1,1110.7 L413.9,1109.4 L414.8,1109.2 L415.4,1110.4 L415.4,1112.0 L415.1,1112.8 L415.0,1112.1 L415.5,1110.6 L416.4,1109.6 L417.3,1110.0 L417.7,1111.5 L417.5,1112.9 L417.2,1113.2 L417.3,1112.1 L417.9,1110.7 L418.9,1110.1" stroke="#8070c0" stroke-width="0.84"/><path d="M422.0,1103.4 L420.8,1104.1 L420.0,1104.5 L420.2,1104.5 L421.2,1104.5 L422.1,1104.6 L422.1,1105.2 L421.0,1105.9 L419.9,1106.5 L419.5,1106.7 L420.2,1106.7 L421.3,1106.7 L421.8,1107.0 L421.3,1107.7 L420.1,1108.4 L419.2,1108.9 L419.3,1108.9 L420.3,1108.8 L421.2,1109.0 L421.3,1109.5 L420.4,1110.2" stroke="#8070c0" stroke-width="0.84"/><path d="M418.2,1098.7 L418.2,1098.4 L417.4,1098.1 L416.2,1098.0 L415.5,1097.9 L415.7,1097.8 L416.4,1097.4 L416.7,1097.0 L416.1,1096.7 L414.9,1096.6 L414.0,1096.5 L413.9,1096.4 L414.5,1096.1 L415.0,1095.7 L414.7,1095.3 L413.6,1095.2 L412.5,1095.1" stroke="#8070c0" stroke-width="0.84"/><path d="M429.6,1103.4 L431.1,1103.8 L432.5,1104.4 L433.9,1104.3 L432.5,1104.5 L431.1,1105.2 L429.9,1106.0 L428.6,1106.8 L427.3,1107.5 L426.6,1108.9 L426.7,1110.4 L426.8,1111.9 L427.8,1113.0 L428.7,1114.2" stroke="#8070c0" stroke-width="0.59"/></g>
<ellipse cx="422" cy="1088.7" rx="11.5" ry="5.0" fill="url(#hl)"/>
<circle cx="296" cy="1125.3" r="20.2" fill="#3d3d3d" fill-opacity=".92" filter="url(#sh)"/>
<circle cx="296" cy="1122.6" r="19.8" fill="url(#g_sky)"/>
<circle cx="296" cy="1122.6" r="19.8" fill="url(#r_sky)"/>
<g fill="none" stroke-linecap="round" stroke-linejoin="round" opacity=".85"><path d="M303.6,1112.6 L302.5,1112.5 L301.6,1112.7 L301.3,1113.1 L301.6,1113.5 L302.1,1113.7 L302.0,1113.8 L301.1,1113.7 L300.0,1113.7 L299.4,1114.0 L299.5,1114.5 L300.0,1114.8 L300.2,1114.9 L299.6,1114.9 L298.6,1114.8 L297.7,1115.0 L297.5,1115.4 L297.9,1115.8 L298.3,1116.1 L298.1,1116.0 L297.2,1116.0 L296.1,1116.0" stroke="#3050d0" stroke-width="0.84"/><path d="M308.5,1128.0 L307.9,1127.7 L307.0,1127.6 L306.2,1127.9 L306.0,1128.3 L306.2,1128.4 L306.4,1128.2 L306.1,1127.7 L305.2,1127.5 L304.3,1127.6 L303.8,1128.0 L303.8,1128.3 L304.1,1128.3 L304.1,1127.9 L303.5,1127.5 L302.5,1127.5 L301.8,1127.7 L301.5,1128.1 L301.7,1128.3 L301.9,1128.0 L301.6,1127.6 L300.8,1127.4 L299.9,1127.5 L299.4,1127.9 L299.4,1128.2 L299.7,1128.1 L299.6,1127.8" stroke="#3050d0" stroke-width="0.84"/><path d="M287.7,1116.4 L288.1,1117.6 L287.8,1117.7 L287.4,1116.4 L287.5,1114.8 L288.2,1114.1 L289.3,1114.7 L290.0,1116.1 L290.1,1117.0 L289.7,1116.4 L289.4,1114.8 L289.8,1113.4 L290.7,1113.4 L291.7,1114.5 L292.2,1115.8 L292.0,1116.0 L291.6,1114.9 L291.6,1113.2 L292.2,1112.4 L293.3,1112.9 L294.0,1114.3" stroke="#3050d0" stroke-width="0.84"/><path d="M298.5,1126.0 L298.5,1127.4 L298.3,1127.7 L298.2,1126.6 L298.6,1125.0 L299.5,1124.3 L300.4,1125.0 L300.8,1126.6 L300.7,1127.7 L300.4,1127.5 L300.5,1126.1 L301.1,1124.7 L302.0,1124.4 L302.8,1125.6 L303.0,1127.1 L302.8,1127.8 L302.6,1127.1 L302.9,1125.6 L303.6,1124.5 L304.6,1124.7 L305.1,1126.1 L305.2,1127.6" stroke="#3050d0" stroke-width="0.84"/><path d="M304.3,1123.6 L303.9,1123.2 L303.1,1123.1 L302.1,1123.2 L301.6,1123.5 L301.7,1123.5 L302.1,1123.2 L302.1,1122.8 L301.5,1122.5 L300.5,1122.4 L299.7,1122.7 L299.5,1122.9 L299.7,1122.8 L300.0,1122.4 L299.8,1122.0 L299.0,1121.7 L298.0,1121.9 L297.4,1122.1" stroke="#40b050" stroke-width="0.84"/><path d="M291.4,1112.8 L291.3,1114.2 L291.0,1114.5 L291.1,1113.5 L291.7,1112.0 L292.7,1111.4 L293.4,1112.3 L293.6,1114.0 L293.3,1115.1 L293.1,1114.7 L293.5,1113.3 L294.3,1112.1 L295.2,1112.2 L295.7,1113.5 L295.6,1115.1 L295.3,1115.6 L295.3,1114.7 L295.9,1113.2 L296.9,1112.5 L297.7,1113.2 L297.9,1114.8 L297.7,1116.0 L297.4,1115.9" stroke="#40b050" stroke-width="0.84"/><path d="M307.1,1131.1 L306.2,1130.9 L305.3,1130.9 L304.7,1131.3 L304.8,1131.7 L305.1,1132.0 L305.2,1131.9 L304.7,1131.6 L303.7,1131.5 L302.9,1131.7 L302.6,1132.1 L302.8,1132.5 L303.1,1132.6 L302.9,1132.4 L302.2,1132.2 L301.2,1132.2 L300.5,1132.5 L300.5,1132.9 L300.8,1133.2 L301.0,1133.2" stroke="#40b050" stroke-width="0.84"/><path d="M295.7,1130.8 L294.6,1130.7 L293.7,1130.9 L293.3,1131.3 L293.7,1131.7 L294.1,1131.9 L293.9,1131.9 L293.1,1131.8 L292.0,1131.8 L291.4,1132.2 L291.6,1132.6 L292.1,1132.9 L292.1,1133.0 L291.5,1132.9 L290.4,1132.8 L289.6,1133.1 L289.5,1133.5" stroke="#40b050" stroke-width="0.84"/><path d="M308.4,1125.6 L308.3,1125.2 L307.5,1125.0 L306.4,1125.1 L305.8,1125.2 L305.8,1125.1 L306.2,1124.8 L306.5,1124.4 L306.1,1124.1 L305.1,1124.0 L304.2,1124.0 L303.7,1124.1 L304.0,1124.0 L304.4,1123.7 L304.5,1123.2 L303.8,1122.9 L302.8,1122.9 L302.0,1123.0 L301.8,1123.1 L302.2,1122.9 L302.6,1122.4 L302.4,1122.0 L301.5,1121.9 L300.5,1121.9" stroke="#c03030" stroke-width="0.84"/></g>
<ellipse cx="296" cy="1109.7" rx="11.5" ry="5.0" fill="url(#hl)"/>
<circle cx="674" cy="1125.3" r="20.2" fill="#3d3d3d" fill-opacity=".92" filter="url(#sh)"/>
<circle cx="674" cy="1122.6" r="19.8" fill="url(#g_cyan)"/>
<circle cx="674" cy="1122.6" r="19.8" fill="url(#r_cyan)"/>
<g fill="none" stroke-linecap="round" stroke-linejoin="round" opacity=".85"><path d="M677.1,1126.7 L675.9,1127.7 L675.2,1128.2 L675.6,1127.9 L676.9,1127.5 L677.9,1127.5 L677.9,1128.3 L676.8,1129.5 L675.7,1130.3 L675.5,1130.3 L676.5,1129.9 L677.8,1129.6 L678.4,1130.0 L677.8,1131.1 L676.5,1132.1 L675.8,1132.6 L676.2,1132.3 L677.5,1131.9 L678.5,1131.9 L678.5,1132.7 L677.5,1133.9 L676.3,1134.7 L676.2,1134.7 L677.1,1134.3 L678.4,1134.0 L679.0,1134.4 L678.4,1135.5 L677.1,1136.5 L676.4,1137.0 L676.8,1136.7 L678.1,1136.3" stroke="#2080d0" stroke-width="0.79"/><path d="M660.9,1126.9 L661.2,1128.2 L661.0,1128.3 L660.7,1127.1 L660.9,1125.5 L661.6,1124.7 L662.6,1125.4 L663.3,1126.8 L663.3,1127.8 L663.0,1127.4 L662.9,1125.9 L663.2,1124.5 L664.1,1124.2 L665.0,1125.3 L665.5,1126.7 L665.4,1127.3 L665.1,1126.4 L665.1,1124.8 L665.7,1123.6 L666.6,1123.9 L667.4,1125.2 L667.7,1126.5 L667.4,1126.5 L667.2,1125.3 L667.4,1123.7 L668.1,1123.0 L669.1,1123.7 L669.7,1125.2 L669.8,1126.1 L669.4,1125.6 L669.3,1124.1" stroke="#60c040" stroke-width="0.84"/><path d="M668.1,1113.0 L667.2,1114.2 L666.7,1114.6 L667.0,1114.2 L668.2,1113.5 L669.3,1113.3 L669.5,1114.2 L668.8,1115.5 L667.9,1116.5 L667.7,1116.5 L668.5,1115.8 L669.7,1115.3 L670.5,1115.6 L670.2,1116.7 L669.3,1118.0 L668.6,1118.6 L668.9,1118.3 L670.0,1117.5 L671.1,1117.3 L671.5,1118.0 L670.9,1119.3 L669.9,1120.4 L669.6,1120.6" stroke="#d0c020" stroke-width="0.84"/></g>
<ellipse cx="674" cy="1109.7" rx="11.5" ry="5.0" fill="url(#hl)"/>
<circle cx="800" cy="1105.3" r="20.2" fill="#3d3d3d" fill-opacity=".92" filter="url(#sh)"/>
<circle cx="800" cy="1102.6" r="19.8" fill="url(#g_teal)"/>
<circle cx="800" cy="1102.6" r="19.8" fill="url(#r_teal)"/>
<g fill="none" stroke-linecap="round" stroke-linejoin="round" opacity=".85"><path d="M807.4,1105.0 L808.0,1105.2 L807.5,1104.9 L806.4,1104.1 L805.6,1103.2 L805.8,1102.6 L807.0,1102.7 L807.9,1102.9 L807.9,1102.9 L806.9,1102.3 L805.8,1101.3 L805.6,1100.6 L806.4,1100.4 L807.6,1100.6 L808.1,1100.8 L807.4,1100.4 L806.2,1099.5 L805.5,1098.6 L806.0,1098.2 L807.2,1098.3 L808.0,1098.5 L807.8,1098.4 L806.7,1097.7 L805.7,1096.7 L805.7,1096.0" stroke="#8070d0" stroke-width="0.84"/><path d="M806.6,1098.6 L805.8,1099.9 L805.3,1100.3 L805.6,1099.7 L806.8,1098.8 L807.8,1098.6 L808.1,1099.5 L807.6,1101.0 L806.8,1102.0 L806.6,1102.0 L807.4,1101.1 L808.6,1100.4 L809.4,1100.7 L809.3,1101.9 L808.6,1103.3 L808.0,1103.9 L808.2,1103.4 L809.2,1102.5 L810.4,1102.1" stroke="#8070d0" stroke-width="0.84"/><path d="M804.8,1099.5 L803.7,1100.5 L803.0,1101.0 L803.3,1100.8 L804.4,1100.4 L805.5,1100.4 L805.6,1101.0 L804.7,1102.1 L803.7,1102.9 L803.3,1103.1 L804.0,1102.8 L805.2,1102.5 L806.0,1102.7 L805.7,1103.6 L804.7,1104.6 L803.8,1105.3 L803.8,1105.3 L804.7,1104.9 L805.9,1104.7 L806.3,1105.1 L805.7,1106.2 L804.7,1107.1 L804.0,1107.6 L804.4,1107.3 L805.5,1106.9" stroke="#8070d0" stroke-width="0.84"/><path d="M795.3,1100.1 L794.1,1100.3 L793.1,1100.6 L793.1,1100.9 L793.8,1101.2 L794.3,1101.5 L794.1,1101.7 L793.0,1101.9 L791.9,1102.1 L791.5,1102.4 L792.0,1102.7 L792.7,1103.0 L792.8,1103.3 L792.0,1103.4 L790.8,1103.6 L790.0,1103.9 L790.2,1104.2 L790.9,1104.5 L791.4,1104.8 L790.9,1105.0 L789.8,1105.2 L788.7,1105.4 L788.5,1105.7" stroke="#8070d0" stroke-width="0.84"/><path d="M803.6,1094.0 L802.5,1094.0 L801.6,1094.1 L801.3,1094.5 L801.7,1094.9 L802.2,1095.2 L802.2,1095.3 L801.4,1095.3 L800.3,1095.4 L799.6,1095.6 L799.6,1096.0 L800.2,1096.3 L800.5,1096.6 L800.2,1096.6 L799.2,1096.6 L798.2,1096.8 L797.7,1097.1 L798.0,1097.5 L798.6,1097.8 L798.7,1097.9 L798.1,1098.0" stroke="#8070d0" stroke-width="0.84"/><path d="M792.8,1107.0 L793.3,1107.1 L792.8,1106.8 L791.6,1106.1 L790.7,1105.4 L790.8,1104.9 L791.8,1104.8 L792.7,1104.9 L792.8,1104.8 L791.9,1104.3 L790.7,1103.6 L790.2,1103.0 L790.8,1102.6 L791.9,1102.7 L792.5,1102.7 L792.1,1102.5 L790.9,1101.9 L789.9,1101.1" stroke="#8070d0" stroke-width="0.84"/><path d="M811.3,1109.9 L810.4,1109.7 L809.4,1109.7 L808.9,1110.1 L809.1,1110.6 L809.4,1110.8 L809.4,1110.7 L808.8,1110.5 L807.8,1110.4 L807.0,1110.6 L806.8,1111.1 L807.1,1111.4 L807.4,1111.5 L807.1,1111.3 L806.2,1111.1 L805.3,1111.2 L804.7,1111.5 L804.8,1112.0 L805.2,1112.3 L805.2,1112.2 L804.6,1112.0 L803.7,1111.8 L802.8,1112.0 L802.6,1112.5 L802.9,1112.9" stroke="#8070d0" stroke-width="0.84"/><path d="M807.9,1114.1 L808.5,1114.3 L808.0,1114.0 L806.8,1113.2 L806.0,1112.3 L806.2,1111.7 L807.3,1111.8 L808.3,1112.0 L808.3,1112.0 L807.4,1111.4 L806.3,1110.5 L806.0,1109.7 L806.8,1109.5 L808.0,1109.7 L808.5,1109.9 L807.9,1109.5 L806.7,1108.7 L806.0,1107.8 L806.3,1107.3" stroke="#8070d0" stroke-width="0.84"/><path d="M789.9,1108.6 L789.2,1110.0 L788.8,1110.4 L789.1,1109.7 L790.2,1108.7 L791.3,1108.4 L791.6,1109.4 L791.2,1110.9 L790.5,1111.9 L790.3,1111.8 L791.1,1110.8 L792.3,1110.1 L793.1,1110.4 L793.0,1111.7 L792.3,1113.1 L791.8,1113.7 L792.1,1113.0" stroke="#8070d0" stroke-width="0.84"/><path d="M800.0,1108.2 L799.9,1107.8 L799.1,1107.6 L798.0,1107.6 L797.3,1107.6 L797.4,1107.5 L797.9,1107.2 L798.2,1106.8 L797.7,1106.5 L796.7,1106.4 L795.7,1106.4 L795.4,1106.4 L795.8,1106.2 L796.3,1105.8 L796.2,1105.4 L795.4,1105.2 L794.3,1105.1 L793.6,1105.2 L793.7,1105.1 L794.2,1104.8 L794.5,1104.4 L794.0,1104.0 L793.0,1103.9 L792.0,1104.0" stroke="#8070d0" stroke-width="0.84"/><path d="M797.6,1104.4 L797.4,1104.0 L796.5,1103.8 L795.5,1104.0 L794.9,1104.2 L795.0,1104.2 L795.4,1103.9 L795.5,1103.4 L795.0,1103.1 L794.0,1103.0 L793.1,1103.2 L792.8,1103.4 L793.1,1103.3 L793.5,1102.9 L793.3,1102.4 L792.5,1102.2 L791.5,1102.3 L790.9,1102.5 L790.9,1102.5" stroke="#8070d0" stroke-width="0.84"/><path d="M795.0,1106.5 L795.7,1107.3 L795.4,1107.2 L794.6,1106.0 L794.2,1104.5 L794.7,1103.8 L795.9,1104.3 L796.9,1105.3 L797.0,1105.7 L796.4,1104.9 L795.7,1103.4 L795.8,1102.3 L796.8,1102.2 L797.9,1103.1 L798.5,1103.9 L798.1,1103.7 L797.4,1102.5 L797.0,1101.0 L797.6,1100.4 L798.8,1101.0 L799.8,1101.9 L799.8,1102.3 L799.1,1101.4 L798.5,1099.9 L798.7,1098.8 L799.7,1098.9" stroke="#8070d0" stroke-width="0.84"/></g>
<ellipse cx="800" cy="1089.7" rx="11.5" ry="5.0" fill="url(#hl)"/>
<circle cx="914" cy="1123.3" r="20.2" fill="#3d3d3d" fill-opacity=".92" filter="url(#sh)"/>
<circle cx="914" cy="1120.6" r="19.8" fill="url(#g_green)"/>
<circle cx="914" cy="1120.6" r="19.8" fill="url(#r_green)"/>
<g fill="none" stroke-linecap="round" stroke-linejoin="round" opacity=".85"><path d="M919.6,1126.2 L918.3,1127.1 L917.4,1127.5 L917.8,1127.4 L919.0,1127.2 L920.0,1127.3 L919.9,1128.0 L918.7,1128.9 L917.5,1129.6 L917.3,1129.7 L918.2,1129.5 L919.4,1129.4 L919.9,1129.8 L919.2,1130.7 L917.9,1131.5 L917.1,1131.9 L917.5,1131.8 L918.7,1131.6 L919.7,1131.8 L919.5,1132.5 L918.3,1133.4 L917.1,1134.0 L917.0,1134.1 L917.9,1133.9 L919.1,1133.8 L919.5,1134.3 L918.8,1135.2 L917.5,1136.0" stroke="#708090" stroke-width="0.79"/><path d="M917.7,1110.1 L916.5,1111.2 L915.8,1111.6 L916.2,1111.4 L917.5,1110.9 L918.5,1111.0 L918.5,1111.8 L917.5,1112.9 L916.3,1113.7 L916.1,1113.8 L917.1,1113.3 L918.4,1113.0 L919.0,1113.5 L918.4,1114.5 L917.2,1115.6 L916.4,1116.0 L916.8,1115.8 L918.1,1115.3 L919.1,1115.4 L919.1,1116.2 L918.1,1117.3 L917.0,1118.1 L916.8,1118.2 L917.7,1117.7 L919.0,1117.4 L919.6,1117.9 L919.0,1118.9 L917.8,1120.0 L917.0,1120.4 L917.4,1120.2 L918.7,1119.7 L919.8,1119.8 L919.8,1120.5" stroke="#708090" stroke-width="0.79"/><path d="M911.7,1120.6 L910.4,1121.3 L909.5,1121.7 L909.9,1121.7 L911.1,1121.6 L912.0,1121.7 L911.8,1122.4 L910.6,1123.2 L909.4,1123.8 L909.3,1123.9 L910.2,1123.8 L911.4,1123.8 L911.7,1124.3 L910.8,1125.1 L909.5,1125.8 L908.8,1126.1 L909.4,1126.0 L910.6,1125.9 L911.4,1126.2 L911.0,1126.9 L909.7,1127.7 L908.6,1128.3 L908.7,1128.3" stroke="#708090" stroke-width="0.79"/><path d="M912.9,1122.9 L911.6,1123.8 L910.8,1124.2 L911.3,1124.1 L912.6,1123.8 L913.5,1124.0 L913.3,1124.7 L912.0,1125.8 L911.0,1126.4 L911.0,1126.4 L912.1,1126.1 L913.3,1126.0 L913.5,1126.6 L912.5,1127.6 L911.2,1128.5 L910.8,1128.7 L911.6,1128.4 L912.9,1128.2 L913.5,1128.6 L912.9,1129.5 L911.6,1130.4" stroke="#708090" stroke-width="0.79"/><path d="M919.6,1126.0 L918.5,1127.2 L917.8,1127.6 L918.2,1127.2 L919.4,1126.6 L920.6,1126.5 L920.7,1127.3 L919.8,1128.6 L918.8,1129.6 L918.5,1129.7 L919.3,1129.1 L920.6,1128.6 L921.5,1128.8 L921.1,1129.9 L920.1,1131.2 L919.2,1131.9 L919.4,1131.6 L920.5,1130.9 L921.8,1130.7 L922.2,1131.3 L921.5,1132.6 L920.3,1133.7 L919.8,1134.0 L920.5,1133.4 L921.8,1132.8 L922.8,1132.9 L922.7,1133.9 L921.7,1135.2" stroke="#708090" stroke-width="0.79"/><path d="M914.9,1108.1 L913.7,1109.4 L913.1,1109.8 L913.5,1109.4 L914.8,1108.7 L915.9,1108.7 L916.0,1109.6 L915.0,1110.9 L914.0,1111.8 L913.9,1111.8 L914.8,1111.1 L916.2,1110.7 L916.8,1111.1 L916.3,1112.4 L915.2,1113.6 L914.5,1114.0 L915.0,1113.6 L916.2,1112.9 L917.3,1112.9 L917.4,1113.8 L916.4,1115.1 L915.4,1116.0 L915.3,1116.0" stroke="#708090" stroke-width="0.79"/><path d="M926.0,1114.8 L924.7,1115.6 L923.8,1116.0 L924.1,1116.0 L925.2,1115.9 L926.2,1116.0 L926.2,1116.5 L925.2,1117.3 L923.9,1118.0 L923.4,1118.2 L924.1,1118.1 L925.3,1118.0 L926.0,1118.3 L925.5,1119.0 L924.3,1119.8 L923.2,1120.3 L923.2,1120.4 L924.2,1120.3 L925.3,1120.3 L925.6,1120.7 L924.8,1121.5 L923.5,1122.3 L922.7,1122.6 L923.1,1122.6 L924.3,1122.4 L925.2,1122.6 L925.1,1123.2 L923.9,1124.0 L922.7,1124.6 L922.4,1124.8 L923.2,1124.7 L924.3,1124.6 L924.9,1125.0 L924.4,1125.7 L923.1,1126.5" stroke="#708090" stroke-width="0.79"/><path d="M909.7,1121.6 L908.5,1122.8 L907.9,1123.2 L908.3,1122.8 L909.5,1122.2 L910.6,1122.1 L910.8,1122.9 L909.9,1124.2 L908.9,1125.2 L908.6,1125.3 L909.4,1124.7 L910.7,1124.1 L911.5,1124.4 L911.2,1125.5 L910.2,1126.8 L909.3,1127.4 L909.5,1127.2 L910.6,1126.5 L911.9,1126.2 L912.2,1126.9 L911.5,1128.2 L910.4,1129.3 L909.9,1129.5 L910.5,1129.0 L911.8,1128.4 L912.8,1128.5 L912.8,1129.5 L911.8,1130.8 L910.8,1131.6 L910.7,1131.5 L911.7,1130.9 L913.0,1130.4 L913.7,1130.9 L913.1,1132.1 L912.0,1133.3 L911.3,1133.8" stroke="#708090" stroke-width="0.79"/><path d="M910.2,1126.7 L908.9,1127.4 L908.0,1127.8 L908.3,1127.8 L909.4,1127.7 L910.3,1127.9 L910.3,1128.4 L909.2,1129.1 L908.0,1129.7 L907.5,1130.0 L908.1,1129.9 L909.3,1129.9 L910.0,1130.2 L909.5,1130.9 L908.2,1131.6 L907.2,1132.1 L907.1,1132.2 L908.1,1132.1 L909.2,1132.1 L909.4,1132.6 L908.6,1133.3 L907.2,1134.0 L906.5,1134.3 L907.0,1134.3" stroke="#708090" stroke-width="0.79"/><path d="M907.4,1122.4 L906.2,1123.6 L905.5,1124.0 L906.0,1123.6 L907.2,1123.0 L908.3,1123.0 L908.4,1123.8 L907.5,1125.1 L906.4,1126.0 L906.2,1126.1 L907.0,1125.5 L908.4,1125.1 L909.1,1125.4 L908.7,1126.5 L907.6,1127.7 L906.8,1128.3 L907.0,1128.0 L908.2,1127.4 L909.4,1127.2 L909.7,1127.9 L908.9,1129.2 L907.8,1130.2 L907.3,1130.4 L908.1,1129.9 L909.4,1129.4 L910.3,1129.6 L910.1,1130.6 L909.0,1131.8 L908.0,1132.5 L908.1,1132.4 L909.2,1131.8 L910.5,1131.5 L910.9,1132.0 L910.3,1133.3 L909.1,1134.4" stroke="#708090" stroke-width="0.79"/></g>
<ellipse cx="914" cy="1107.7" rx="11.5" ry="5.0" fill="url(#hl)"/>
<circle cx="1157" cy="1146.3" r="20.2" fill="#3d3d3d" fill-opacity=".92" filter="url(#sh)"/>
<circle cx="1157" cy="1143.6" r="19.8" fill="url(#g_peri)"/>
<circle cx="1157" cy="1143.6" r="19.8" fill="url(#r_peri)"/>
<g fill="none" stroke-linecap="round" stroke-linejoin="round" opacity=".85"><path d="M1163.2,1156.5 L1164.9,1148.7" stroke="#2040d0" stroke-width="1.48"/><path d="M1146.6,1146.2 L1147.2,1136.0" stroke="#2040d0" stroke-width="1.48"/><path d="M1155.9,1145.3 L1148.8,1135.0" stroke="#2040d0" stroke-width="1.48"/><path d="M1145.5,1149.4 L1146.2,1140.0" stroke="#30b0c0" stroke-width="1.48"/><path d="M1151.3,1152.4 L1151.9,1144.5" stroke="#30b0c0" stroke-width="1.48"/><path d="M1156.6,1139.5 L1152.5,1131.2" stroke="#c03040" stroke-width="1.48"/><path d="M1156.5,1159.9 L1154.0,1150.9" stroke="#60c040" stroke-width="1.48"/></g>
<ellipse cx="1157" cy="1130.7" rx="11.5" ry="5.0" fill="url(#hl)"/>
<circle cx="471" cy="1153.8" r="20.2" fill="#3d3d3d" fill-opacity=".92" filter="url(#sh)"/>
<circle cx="471" cy="1151.1" r="19.8" fill="url(#g_green)"/>
<circle cx="471" cy="1151.1" r="19.8" fill="url(#r_green)"/>
<g fill="none" stroke-linecap="round" stroke-linejoin="round" opacity=".85"><path d="M466.7,1149.4 L465.9,1150.8 L465.4,1151.2 L465.8,1150.6 L467.0,1149.7 L468.0,1149.5 L468.3,1150.5 L467.7,1151.9 L466.9,1152.9 L466.8,1152.8 L467.7,1151.9 L468.9,1151.2 L469.6,1151.6 L469.4,1153.0 L468.6,1154.3 L468.1,1154.8 L468.5,1154.2 L469.6,1153.3 L470.7,1153.1 L470.9,1154.0 L470.3,1155.5 L469.6,1156.5 L469.5,1156.4" stroke="#40b040" stroke-width="0.84"/><path d="M483.8,1149.4 L483.6,1149.0 L482.7,1148.8 L481.7,1148.9 L481.1,1149.1 L481.2,1149.1 L481.7,1148.7 L481.7,1148.3 L481.1,1148.0 L480.1,1147.9 L479.2,1148.1 L479.1,1148.2 L479.4,1148.0 L479.8,1147.6 L479.5,1147.1 L478.6,1147.0 L477.5,1147.1" stroke="#40b040" stroke-width="0.84"/><path d="M477.2,1154.0 L476.2,1153.9 L475.2,1154.0 L474.9,1154.4 L475.2,1154.9 L475.6,1155.1 L475.5,1155.1 L474.6,1154.9 L473.6,1155.0 L473.0,1155.3 L473.1,1155.7 L473.5,1156.1 L473.7,1156.1 L473.0,1156.0 L472.0,1155.9 L471.1,1156.1" stroke="#40b040" stroke-width="0.84"/><path d="M467.9,1146.7 L467.7,1145.2 L467.7,1143.7 L467.6,1142.2 L467.1,1140.8 L467.1,1142.3 L467.7,1143.7 L469.0,1144.6 L470.4,1144.9 L471.5,1145.9 L472.1,1147.3 L472.5,1148.8" stroke="#e08020" stroke-width="0.59"/><path d="M459.5,1149.2 L458.8,1150.6 L458.4,1151.0 L458.7,1150.3 L459.7,1149.3 L460.8,1149.0 L461.2,1149.9 L460.8,1151.4 L460.1,1152.5 L459.9,1152.5 L460.6,1151.5 L461.7,1150.6 L462.6,1150.8 L462.7,1152.1 L462.1,1153.5 L461.5,1154.2 L461.6,1153.7 L462.6,1152.7 L463.7,1152.2 L464.3,1152.8 L464.0,1154.3 L463.4,1155.5 L463.0,1155.8 L463.5,1154.9 L464.6,1154.0 L465.6,1153.8 L465.9,1154.9" stroke="#20a0a0" stroke-width="0.84"/></g>
<ellipse cx="471" cy="1138.2" rx="11.5" ry="5.0" fill="url(#hl)"/>
<circle cx="801" cy="1167.3" r="20.2" fill="#3d3d3d" fill-opacity=".92" filter="url(#sh)"/>
<circle cx="801" cy="1164.6" r="19.8" fill="url(#g_lav)"/>
<circle cx="801" cy="1164.6" r="19.8" fill="url(#r_lav)"/>
<g fill="none" stroke-linecap="round" stroke-linejoin="round" opacity=".85"><path d="M802.7,1157.0 L802.2,1156.7 L801.3,1156.6 L800.5,1156.8 L800.2,1157.2 L800.3,1157.3 L800.6,1157.1 L800.4,1156.7 L799.6,1156.4 L798.7,1156.5 L798.0,1156.8 L798.0,1157.1 L798.2,1157.1 L798.3,1156.8 L797.9,1156.4 L797.0,1156.2 L796.1,1156.4 L795.7,1156.8" stroke="#8050d0" stroke-width="0.84"/><path d="M809.6,1166.4 L810.3,1166.9 L809.9,1166.6 L808.8,1165.6 L808.1,1164.4 L808.5,1163.8 L809.7,1164.0 L810.7,1164.6 L810.7,1164.7 L809.8,1163.9 L808.9,1162.7 L808.8,1161.8 L809.8,1161.7 L811.0,1162.3 L811.5,1162.6 L810.8,1162.2 L809.8,1161.0 L809.3,1159.9 L809.9,1159.5 L811.2,1159.9 L812.0,1160.4 L811.8,1160.3" stroke="#8050d0" stroke-width="0.84"/><path d="M804.3,1166.0 L804.5,1165.7 L803.8,1165.4 L802.6,1165.1 L801.8,1164.9 L801.9,1164.6 L802.7,1164.3 L803.2,1164.0 L802.8,1163.8 L801.6,1163.5 L800.6,1163.2 L800.4,1163.0 L801.0,1162.7 L801.7,1162.4 L801.7,1162.1 L800.7,1161.8 L799.5,1161.6 L798.9,1161.3" stroke="#8050d0" stroke-width="0.84"/><path d="M794.7,1163.1 L795.2,1164.1 L795.0,1164.1 L794.4,1162.9 L794.3,1161.3 L794.9,1160.5 L796.0,1161.1 L796.9,1162.3 L797.0,1163.0 L796.5,1162.3 L796.0,1160.8 L796.2,1159.5 L797.2,1159.4 L798.3,1160.4 L798.8,1161.5 L798.6,1161.5 L798.0,1160.3 L797.8,1158.7 L798.4,1157.9 L799.5,1158.4 L800.4,1159.7 L800.6,1160.4 L800.1,1159.8 L799.6,1158.2 L799.8,1156.9 L800.7,1156.7 L801.8,1157.7" stroke="#8050d0" stroke-width="0.84"/><path d="M796.8,1168.3 L798.3,1168.5 L799.5,1169.3 L800.6,1170.4 L802.0,1170.9 L803.5,1170.6 L805.0,1170.7 L806.5,1171.0 L807.6,1172.0 L808.8,1172.9 L810.3,1173.0 L811.8,1173.3 L810.4,1172.7 L809.6,1171.4" stroke="#8050d0" stroke-width="0.59"/><path d="M798.4,1157.9 L797.4,1159.0 L796.0,1159.5 L794.5,1159.8 L793.0,1159.9 L791.7,1159.2 L790.2,1159.1 L791.5,1159.9 L792.9,1160.4 L794.2,1161.1 L795.3,1162.2 L796.6,1163.0 L798.0,1163.2" stroke="#8050d0" stroke-width="0.59"/><path d="M803.3,1169.6 L804.3,1168.5 L805.5,1167.6 L807.0,1167.2 L808.3,1166.4 L809.4,1165.5 L810.2,1164.2 L811.1,1163.0 L812.5,1162.5 L811.0,1162.5" stroke="#8050d0" stroke-width="0.59"/></g>
<ellipse cx="801" cy="1151.7" rx="11.5" ry="5.0" fill="url(#hl)"/>
<circle cx="993" cy="1184.8" r="20.2" fill="#3d3d3d" fill-opacity=".92" filter="url(#sh)"/>
<circle cx="993" cy="1182.1" r="19.8" fill="url(#g_teal)"/>
<circle cx="993" cy="1182.1" r="19.8" fill="url(#r_teal)"/>
<g fill="none" stroke-linecap="round" stroke-linejoin="round" opacity=".85"><path d="M989.0,1177.1 L988.3,1175.8 L988.5,1174.3 L987.8,1173.0 L987.1,1171.6 L988.3,1172.5 L989.8,1172.9 L991.3,1172.8" stroke="#8080c0" stroke-width="0.59"/><path d="M995.0,1177.9 L995.7,1176.6 L996.1,1175.2 L996.6,1173.7 L996.3,1172.3 L996.4,1170.8 L996.5,1172.3 L996.4,1173.8 L996.2,1175.2 L996.7,1176.6 L997.9,1177.6 L999.1,1178.5 L1000.4,1179.2" stroke="#8080c0" stroke-width="0.59"/><path d="M992.9,1187.8 L994.4,1187.8 L995.8,1187.4 L997.3,1187.1 L998.5,1186.3 L1000.0,1185.8 L1001.5,1185.8 L1002.8,1185.2 L1003.9,1184.2 L1004.9,1183.1 L1006.2,1182.3 L1004.8,1182.8 L1003.7,1183.8" stroke="#8080c0" stroke-width="0.59"/></g>
<ellipse cx="993" cy="1169.2" rx="11.5" ry="5.0" fill="url(#hl)"/>
<circle cx="363" cy="1222.3" r="10.3" fill="#3d3d3d" fill-opacity=".92" filter="url(#sh)"/>
<circle cx="363" cy="1219.6" r="9.9" fill="url(#g_dgreen)"/>
<circle cx="363" cy="1219.6" r="9.9" fill="url(#r_dgreen)"/>
<ellipse cx="363" cy="1213.2" rx="5.7" ry="2.5" fill="url(#hl)"/>
<circle cx="565" cy="1291.8" r="20.2" fill="#3d3d3d" fill-opacity=".92" filter="url(#sh)"/>
<circle cx="565" cy="1289.1" r="19.8" fill="url(#g_teal)"/>
<circle cx="565" cy="1289.1" r="19.8" fill="url(#r_teal)"/>
<g fill="none" stroke-linecap="round" stroke-linejoin="round" opacity=".85"><path d="M575.7,1294.8 L576.2,1294.7 L575.6,1294.5 L574.4,1293.9 L573.5,1293.3 L573.5,1292.8 L574.4,1292.7 L575.4,1292.7 L575.4,1292.5 L574.5,1292.1 L573.3,1291.5 L572.7,1290.9 L573.2,1290.6 L574.2,1290.5 L574.9,1290.5 L574.5,1290.3 L573.3,1289.8 L572.3,1289.1 L572.2,1288.6 L573.0,1288.4 L573.9,1288.4 L574.2,1288.3 L573.4,1288.0 L572.2,1287.4 L571.4,1286.8" stroke="#c0c040" stroke-width="0.84"/><path d="M559.6,1296.4 L564.0,1287.4" stroke="#30c050" stroke-width="1.48"/><path d="M557.0,1284.4 L555.7,1283.5 L554.5,1282.7 L555.4,1283.8 L555.7,1285.3 L555.2,1286.7 L554.5,1288.1" stroke="#20a0c0" stroke-width="0.59"/></g>
<ellipse cx="565" cy="1276.2" rx="11.5" ry="5.0" fill="url(#hl)"/>
<circle cx="281" cy="1311.3" r="20.2" fill="#3d3d3d" fill-opacity=".92" filter="url(#sh)"/>
<circle cx="281" cy="1308.6" r="19.8" fill="url(#g_peri)"/>
<circle cx="281" cy="1308.6" r="19.8" fill="url(#r_peri)"/>
<g fill="none" stroke-linecap="round" stroke-linejoin="round" opacity=".85"><path d="M281.9,1309.7 L283.7,1297.9" stroke="#a0a040" stroke-width="1.48"/><path d="M285.6,1311.0 L291.6,1302.7" stroke="#a0a040" stroke-width="1.48"/><path d="M293.5,1313.8 L287.6,1302.4" stroke="#a0a040" stroke-width="1.48"/><path d="M285.7,1314.6 L288.3,1307.1" stroke="#a0a040" stroke-width="1.48"/><path d="M283.1,1317.5 L281.6,1317.7 L280.2,1317.3 L278.8,1316.6 L277.7,1315.6 L277.4,1314.1 L277.5,1312.6 L278.3,1311.3 L278.9,1310.0" stroke="#808040" stroke-width="0.59"/></g>
<ellipse cx="281" cy="1295.7" rx="11.5" ry="5.0" fill="url(#hl)"/>
<circle cx="978" cy="1299.3" r="20.2" fill="#3d3d3d" fill-opacity=".92" filter="url(#sh)"/>
<circle cx="978" cy="1296.6" r="19.8" fill="url(#g_rose)"/>
<circle cx="978" cy="1296.6" r="19.8" fill="url(#r_rose)"/>
<g fill="none" stroke-linecap="round" stroke-linejoin="round" opacity=".85"><path d="M967.5,1294.9 L966.3,1295.9 L965.5,1296.3 L965.9,1296.1 L967.0,1295.7 L968.1,1295.7 L968.3,1296.4 L967.3,1297.4 L966.1,1298.3 L965.7,1298.5 L966.4,1298.2 L967.7,1297.8 L968.5,1298.1 L968.2,1298.9 L967.1,1300.0 L966.1,1300.7 L966.0,1300.7 L967.0,1300.2 L968.3,1300.1 L968.8,1300.5 L968.1,1301.5 L966.9,1302.5 L966.1,1303.0 L966.5,1302.7 L967.7,1302.3 L968.8,1302.3 L968.9,1303.0 L967.9,1304.1 L966.7,1305.0 L966.3,1305.2 L967.1,1304.8 L968.3,1304.5 L969.2,1304.7 L968.8,1305.6 L967.7,1306.7" stroke="#d8a020" stroke-width="0.79"/><path d="M984.2,1292.8 L982.9,1293.5 L982.0,1293.9 L982.3,1293.9 L983.4,1293.9 L984.3,1294.0 L984.3,1294.6 L983.1,1295.3 L981.9,1295.9 L981.5,1296.1 L982.2,1296.1 L983.4,1296.1 L984.0,1296.4 L983.3,1297.1 L982.0,1297.8 L981.1,1298.2 L981.2,1298.3 L982.3,1298.2 L983.3,1298.3 L983.3,1298.9 L982.3,1299.6 L981.0,1300.2 L980.5,1300.5 L981.1,1300.4 L982.3,1300.4 L982.9,1300.7 L982.4,1301.3 L981.2,1302.1 L980.1,1302.5 L980.1,1302.6" stroke="#d8a020" stroke-width="0.79"/><path d="M972.9,1295.2 L971.7,1296.2 L970.9,1296.6 L971.2,1296.4 L972.4,1296.0 L973.5,1296.0 L973.6,1296.7 L972.7,1297.8 L971.5,1298.6 L971.1,1298.8 L971.9,1298.5 L973.1,1298.1 L974.0,1298.3 L973.7,1299.2 L972.5,1300.3 L971.5,1301.0 L971.5,1300.9 L972.5,1300.5 L973.8,1300.3 L974.2,1300.8 L973.5,1301.8 L972.3,1302.8 L971.6,1303.2 L972.0,1303.0 L973.3,1302.6 L974.3,1302.6 L974.3,1303.3" stroke="#d8a020" stroke-width="0.79"/><path d="M974.8,1284.7 L973.5,1285.6 L972.7,1286.0 L973.0,1285.9 L974.2,1285.6 L975.3,1285.7 L975.3,1286.3 L974.3,1287.3 L973.1,1288.1 L972.7,1288.3 L973.4,1288.0 L974.7,1287.8 L975.4,1288.1 L975.0,1288.9 L973.7,1289.9 L972.8,1290.5 L972.8,1290.4 L973.9,1290.1 L975.1,1290.1 L975.4,1290.6 L974.5,1291.6 L973.2,1292.4 L972.6,1292.7 L973.2,1292.5 L974.4,1292.3" stroke="#d8a020" stroke-width="0.79"/><path d="M982.6,1292.1 L981.2,1292.7 L980.3,1293.0 L980.5,1293.1 L981.6,1293.1 L982.5,1293.3 L982.4,1293.8 L981.3,1294.4 L980.0,1295.0 L979.6,1295.2 L980.2,1295.2 L981.3,1295.3 L981.9,1295.6 L981.3,1296.2 L979.9,1296.8 L978.9,1297.2 L979.0,1297.3 L980.0,1297.3 L981.0,1297.5 L981.0,1298.0 L980.0,1298.6 L978.7,1299.1 L978.1,1299.4 L978.7,1299.4 L979.8,1299.5 L980.4,1299.8" stroke="#d8a020" stroke-width="0.79"/><path d="M975.2,1302.8 L974.0,1303.9 L973.3,1304.3 L973.7,1304.0 L975.0,1303.4 L976.0,1303.4 L976.1,1304.3 L975.1,1305.5 L974.0,1306.4 L973.8,1306.4 L974.7,1305.9 L976.1,1305.5 L976.7,1305.9 L976.2,1307.0 L975.0,1308.2 L974.3,1308.7 L974.6,1308.4 L975.9,1307.8 L977.0,1307.7 L977.1,1308.5 L976.2,1309.8 L975.1,1310.7 L974.8,1310.8 L975.7,1310.2 L977.0,1309.8 L977.7,1310.2 L977.3,1311.3 L976.1,1312.4 L975.3,1313.0 L975.6,1312.7" stroke="#d8a020" stroke-width="0.79"/><path d="M989.9,1290.7 L988.6,1291.3 L987.7,1291.6 L987.9,1291.7 L988.9,1291.8 L989.8,1292.0 L989.7,1292.5 L988.5,1293.1 L987.3,1293.6 L986.9,1293.8 L987.6,1293.8 L988.7,1293.9 L989.1,1294.3 L988.4,1294.9 L987.1,1295.5 L986.2,1295.8 L986.4,1295.9 L987.4,1296.0 L988.3,1296.2 L988.2,1296.7 L987.0,1297.3 L985.8,1297.8 L985.4,1298.0 L986.1,1298.0 L987.2,1298.1 L987.7,1298.5" stroke="#d8a020" stroke-width="0.79"/><path d="M978.1,1297.4 L976.9,1298.3 L976.1,1298.7 L976.4,1298.6 L977.5,1298.4 L978.6,1298.4 L978.6,1299.1 L977.6,1300.0 L976.4,1300.8 L976.0,1301.0 L976.7,1300.7 L977.9,1300.6 L978.7,1300.8 L978.3,1301.6 L977.0,1302.6 L976.0,1303.1 L976.0,1303.1 L977.1,1302.9 L978.3,1302.8 L978.6,1303.3 L977.8,1304.2 L976.5,1305.1 L975.8,1305.4 L976.3,1305.3 L977.5,1305.0 L978.4,1305.2 L978.3,1305.8 L977.2,1306.8 L976.1,1307.5 L975.8,1307.6 L976.6,1307.4 L977.9,1307.2 L978.5,1307.6" stroke="#d8a020" stroke-width="0.79"/><path d="M982.4,1282.2 L981.1,1283.0 L980.2,1283.4 L980.6,1283.3 L981.7,1283.1 L982.7,1283.2 L982.7,1283.9 L981.6,1284.8 L980.4,1285.4 L980.0,1285.6 L980.8,1285.4 L982.0,1285.3 L982.7,1285.7 L982.1,1286.5 L980.8,1287.3 L979.9,1287.8 L980.0,1287.8 L981.1,1287.6 L982.2,1287.6 L982.4,1288.2 L981.4,1289.1 L980.1,1289.8 L979.6,1290.1 L980.2,1289.9 L981.5,1289.7 L982.2,1290.0 L981.9,1290.7 L980.6,1291.6 L979.6,1292.2 L979.5,1292.2 L980.5,1292.0 L981.7,1292.0 L982.0,1292.5 L981.2,1293.3 L979.9,1294.1 L979.2,1294.5" stroke="#d8a020" stroke-width="0.79"/><path d="M971.8,1291.2 L970.5,1292.1 L969.7,1292.5 L970.0,1292.4 L971.1,1292.2 L972.1,1292.3 L972.2,1292.9 L971.2,1293.8 L969.9,1294.5 L969.5,1294.7 L970.1,1294.6 L971.3,1294.4 L972.1,1294.6 L971.7,1295.4 L970.5,1296.3 L969.5,1296.8 L969.4,1296.9 L970.3,1296.7 L971.5,1296.6 L971.9,1297.1 L971.2,1297.9 L969.9,1298.7 L969.1,1299.1 L969.4,1299.1 L970.6,1298.8 L971.6,1298.9 L971.6,1299.6 L970.6,1300.4 L969.4,1301.1" stroke="#d8a020" stroke-width="0.79"/></g>
<ellipse cx="978" cy="1283.7" rx="11.5" ry="5.0" fill="url(#hl)"/>
<g class="hal" filter="url(#hb)"><text x="274.3" y="33.6">DPYSL2</text><text x="171.3" y="202.6">FAT2</text><text x="300.3" y="197.6">FZD3</text><text x="62.3" y="316.6">ARHGAP29</text><text x="187.3" y="335.6">FZD6</text><text x="324.3" y="331.6">DKK1</text><text x="71.7" y="417.7">BLCAP</text><text x="397.3" y="264.6">STK38L</text><text x="523.3" y="264.6">LYST</text><text x="640.7" y="252.7">FRMD4B</text><text x="766.7" y="231.7">NFIA</text><text x="833.3" y="154.6">PBX3</text><text x="926.3" y="190.6">RAB22A</text><text x="827.3" y="286.6">HIVEP2</text><text x="1139.3" y="181.1">TIPARP</text><text x="1070.7" y="271.2">MTUS1</text><text x="1217.3" y="243.6">RAPGEFL1</text><text x="1216.3" y="306.6">IKZF2</text><text x="451.7" y="336.7">SLC16A9</text><text x="586.3" y="327.6">RAB8A</text><text x="713.3" y="306.6">ARHGEF3</text><text x="443.3" y="399.6">FZD9</text><text x="566.3" y="390.6">TTPAL</text><text x="733.3" y="369.6">RND3</text><text x="884.3" y="369.6">CDC16</text><text x="993.3" y="368.6">PDCD4</text><text x="1111.3" y="369.6">KLF13</text><text x="313.3" y="412.1">PFKP</text><text x="598.7" y="454.7">NFIB</text><text x="689.7" y="441.7">NFIX</text><text x="893.3" y="453.6">SMAD2</text><text x="1027.3" y="453.6">P2RX7</text><text x="1153.3" y="432.6">MBNL3</text><text x="292.3" y="475.1">IRF9</text><text x="418.3" y="474.6">CRIM1</text><text x="800.3" y="489.6">TGFBR2</text><text x="1234.3" y="495.6">RORA</text><text x="376.3" y="538.1">NKX6-1</text><text x="506.3" y="541.1">LAMA3</text><text x="633.3" y="560.6">CD44</text><text x="918.3" y="548.6">TP63</text><text x="1056.3" y="558.1">NCOA3</text><text x="1163.3" y="568.2">VDR</text><text x="1295.3" y="581.1">CYP27B1</text><text x="455.3" y="605.6">ITGA2</text><text x="754.3" y="600.6">SIPA1L3</text><text x="1006.3" y="621.6">BTG1</text><text x="326.7" y="651.7">TCF20</text><text x="485.3" y="668.1">ITGB4</text><text x="554.3" y="662.6">LAMA4</text><text x="775.3" y="659.6">CLIP4</text><text x="889.3" y="642.6">UBASH3A</text><text x="1232.3" y="683.6">PPP1CA</text><text x="356.3" y="705.6">CXCL14</text><text x="643.3" y="724.6">SDC1</text><text x="733.3" y="734.6">ESRP1</text><text x="902.3" y="705.6">IRX4</text><text x="1080.3" y="727.6">LPHN3</text><text x="271.3" y="790.1">PBX1</text><text x="388.7" y="777.7">SETBP1</text><text x="524.3" y="768.6">MKNK2</text><text x="805.3" y="790.1">ATXN1</text><text x="683.7" y="815.7">ENSG00000215019</text><text x="961.3" y="769.1">LRP8</text><text x="914.3" y="806.9">APBB2</text><text x="1056.3" y="793.1">VLDLR</text><text x="1174.3" y="789.6">GALNT3</text><text x="493.7" y="840.7">GRHL2</text><text x="367.7" y="862.2">FBXO41</text><text x="557.3" y="882.1">CCND2</text><text x="733.3" y="874.1">PFN2</text><text x="862.3" y="879.1">ABCA1</text><text x="976.3" y="866.1">APP</text><text x="1112.3" y="852.6">LASS6</text><text x="440.3" y="915.6">RBMS2</text><text x="754.3" y="923.6">ARL4C</text><text x="1102.7" y="924.7">FAM57A</text><text x="313.3" y="957.6">C2CD2</text><text x="986.3" y="937.1">MINK1</text><text x="733.3" y="979.1">GNB5</text><text x="529.3" y="976.6">MNT</text><text x="861.3" y="978.6">RPS6KA1</text><text x="1090.3" y="999.6">DUSP2</text><text x="397.3" y="1020.6">PARP8</text><text x="262.7" y="1050.7">ENSG00000232151</text><text x="690.3" y="1041.6">ABHD3</text><text x="1015.3" y="1049.1">TNFAIP1</text><text x="1132.3" y="1063.1">CORO2A</text><text x="439.3" y="1083.6">FGD6</text><text x="313.3" y="1104.6">ST3GAL5</text><text x="691.3" y="1104.6">GNG12</text><text x="817.3" y="1084.6">MYCBP2</text><text x="931.3" y="1102.6">PAM</text><text x="1174.3" y="1125.6">PURB</text><text x="488.3" y="1133.1">BNC1</text><text x="818.3" y="1146.6">RBMS2P1</text><text x="1010.3" y="1164.1">EPHA2</text><text x="371.7" y="1210.7">ACCN1</text><text x="582.3" y="1271.1">BCL11B</text><text x="298.3" y="1290.6">IGHV1-2</text><text x="995.3" y="1278.6">EFNB2</text></g>
<g class="lb"><text x="274.3" y="33.6">DPYSL2</text><text x="171.3" y="202.6">FAT2</text><text x="300.3" y="197.6">FZD3</text><text x="62.3" y="316.6">ARHGAP29</text><text x="187.3" y="335.6">FZD6</text><text x="324.3" y="331.6">DKK1</text><text x="71.7" y="417.7">BLCAP</text><text x="397.3" y="264.6">STK38L</text><text x="523.3" y="264.6">LYST</text><text x="640.7" y="252.7">FRMD4B</text><text x="766.7" y="231.7">NFIA</text><text x="833.3" y="154.6">PBX3</text><text x="926.3" y="190.6">RAB22A</text><text x="827.3" y="286.6">HIVEP2</text><text x="1139.3" y="181.1">TIPARP</text><text x="1070.7" y="271.2">MTUS1</text><text x="1217.3" y="243.6">RAPGEFL1</text><text x="1216.3" y="306.6">IKZF2</text><text x="451.7" y="336.7">SLC16A9</text><text x="586.3" y="327.6">RAB8A</text><text x="713.3" y="306.6">ARHGEF3</text><text x="443.3" y="399.6">FZD9</text><text x="566.3" y="390.6">TTPAL</text><text x="733.3" y="369.6">RND3</text><text x="884.3" y="369.6">CDC16</text><text x="993.3" y="368.6">PDCD4</text><text x="1111.3" y="369.6">KLF13</text><text x="313.3" y="412.1">PFKP</text><text x="598.7" y="454.7">NFIB</text><text x="689.7" y="441.7">NFIX</text><text x="893.3" y="453.6">SMAD2</text><text x="1027.3" y="453.6">P2RX7</text><text x="1153.3" y="432.6">MBNL3</text><text x="292.3" y="475.1">IRF9</text><text x="418.3" y="474.6">CRIM1</text><text x="800.3" y="489.6">TGFBR2</text><text x="1234.3" y="495.6">RORA</text><text x="376.3" y="538.1">NKX6-1</text><text x="506.3" y="541.1">LAMA3</text><text x="633.3" y="560.6">CD44</text><text x="918.3" y="548.6">TP63</text><text x="1056.3" y="558.1">NCOA3</text><text x="1163.3" y="568.2">VDR</text><text x="1295.3" y="581.1">CYP27B1</text><text x="455.3" y="605.6">ITGA2</text><text x="754.3" y="600.6">SIPA1L3</text><text x="1006.3" y="621.6">BTG1</text><text x="326.7" y="651.7">TCF20</text><text x="485.3" y="668.1">ITGB4</text><text x="554.3" y="662.6">LAMA4</text><text x="775.3" y="659.6">CLIP4</text><text x="889.3" y="642.6">UBASH3A</text><text x="1232.3" y="683.6">PPP1CA</text><text x="356.3" y="705.6">CXCL14</text><text x="643.3" y="724.6">SDC1</text><text x="733.3" y="734.6">ESRP1</text><text x="902.3" y="705.6">IRX4</text><text x="1080.3" y="727.6">LPHN3</text><text x="271.3" y="790.1">PBX1</text><text x="388.7" y="777.7">SETBP1</text><text x="524.3" y="768.6">MKNK2</text><text x="805.3" y="790.1">ATXN1</text><text x="683.7" y="815.7">ENSG00000215019</text><text x="961.3" y="769.1">LRP8</text><text x="914.3" y="806.9">APBB2</text><text x="1056.3" y="793.1">VLDLR</text><text x="1174.3" y="789.6">GALNT3</text><text x="493.7" y="840.7">GRHL2</text><text x="367.7" y="862.2">FBXO41</text><text x="557.3" y="882.1">CCND2</text><text x="733.3" y="874.1">PFN2</text><text x="862.3" y="879.1">ABCA1</text><text x="976.3" y="866.1">APP</text><text x="1112.3" y="852.6">LASS6</text><text x="440.3" y="915.6">RBMS2</text><text x="754.3" y="923.6">ARL4C</text><text x="1102.7" y="924.7">FAM57A</text><text x="313.3" y="957.6">C2CD2</text><text x="986.3" y="937.1">MINK1</text><text x="733.3" y="979.1">GNB5</text><text x="529.3" y="976.6">MNT</text><text x="861.3" y="978.6">RPS6KA1</text><text x="1090.3" y="999.6">DUSP2</text><text x="397.3" y="1020.6">PARP8</text><text x="262.7" y="1050.7">ENSG00000232151</text><text x="690.3" y="1041.6">ABHD3</text><text x="1015.3" y="1049.1">TNFAIP1</text><text x="1132.3" y="1063.1">CORO2A</text><text x="439.3" y="1083.6">FGD6</text><text x="313.3" y="1104.6">ST3GAL5</text><text x="691.3" y="1104.6">GNG12</text><text x="817.3" y="1084.6">MYCBP2</text><text x="931.3" y="1102.6">PAM</text><text x="1174.3" y="1125.6">PURB</text><text x="488.3" y="1133.1">BNC1</text><text x="818.3" y="1146.6">RBMS2P1</text><text x="1010.3" y="1164.1">EPHA2</text><text x="371.7" y="1210.7">ACCN1</text><text x="582.3" y="1271.1">BCL11B</text><text x="298.3" y="1290.6">IGHV1-2</text><text x="995.3" y="1278.6">EFNB2</text></g>
</svg></body></html>
